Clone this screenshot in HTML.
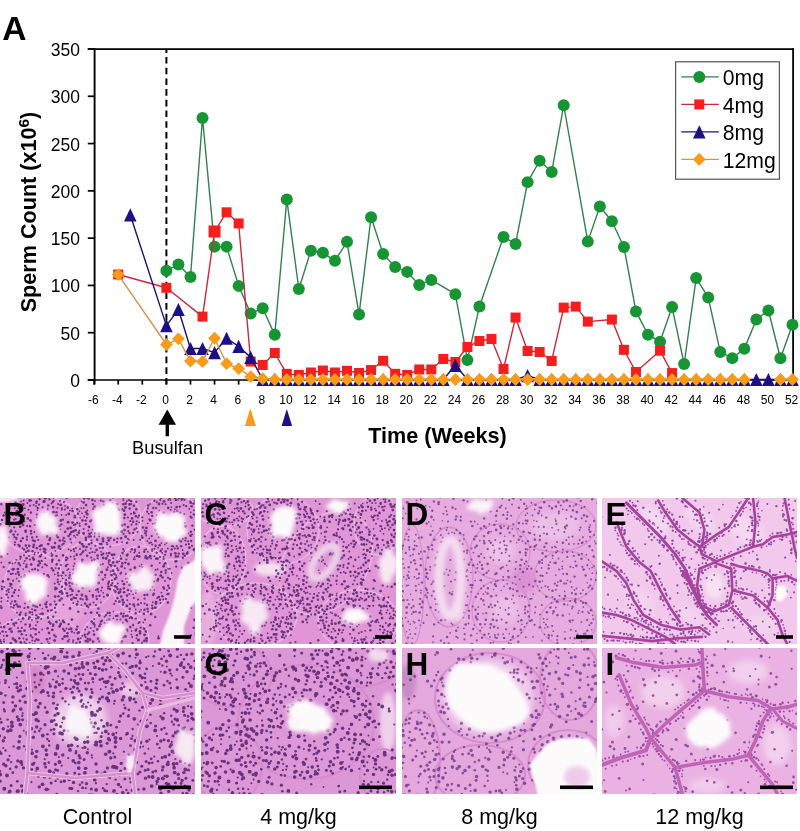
<!DOCTYPE html>
<html><head><meta charset="utf-8"><title>Figure</title>
<style>
html,body{margin:0;padding:0;background:#fff;}
body{width:800px;height:831px;overflow:hidden;position:relative;font-family:"Liberation Sans",sans-serif;}
svg{position:absolute;left:0;top:0;display:block;will-change:transform;}
text{font-family:"Liberation Sans",sans-serif;}
</style></head><body>
<svg width="800" height="831" viewBox="0 0 800 831">

<text x="2.3" y="39.8" font-size="33.5" font-weight="bold" fill="#000">A</text>
<g stroke="#000" fill="none">
<line x1="87.8" y1="49.1" x2="793.9" y2="49.1" stroke-width="1.8"/>
<line x1="793.1" y1="48.2" x2="793.1" y2="380" stroke-width="1.8"/>
<line x1="94.6" y1="48.3" x2="94.6" y2="384.6" stroke-width="1.9"/>
<line x1="87.8" y1="380" x2="793.6" y2="380" stroke-width="1.7"/>
<line x1="87.8" y1="380" x2="94.6" y2="380" stroke-width="1.7"/>
<line x1="87.8" y1="332.71" x2="94.6" y2="332.71" stroke-width="1.7"/>
<line x1="87.8" y1="285.43" x2="94.6" y2="285.43" stroke-width="1.7"/>
<line x1="87.8" y1="238.14" x2="94.6" y2="238.14" stroke-width="1.7"/>
<line x1="87.8" y1="190.86" x2="94.6" y2="190.86" stroke-width="1.7"/>
<line x1="87.8" y1="143.57" x2="94.6" y2="143.57" stroke-width="1.7"/>
<line x1="87.8" y1="96.29" x2="94.6" y2="96.29" stroke-width="1.7"/>
<line x1="87.8" y1="49" x2="94.6" y2="49" stroke-width="1.7"/>
<line x1="94.16" y1="380" x2="94.16" y2="384.6" stroke-width="1.7"/>
<line x1="118.24" y1="380" x2="118.24" y2="384.6" stroke-width="1.7"/>
<line x1="142.32" y1="380" x2="142.32" y2="384.6" stroke-width="1.7"/>
<line x1="166.4" y1="380" x2="166.4" y2="384.6" stroke-width="1.7"/>
<line x1="190.48" y1="380" x2="190.48" y2="384.6" stroke-width="1.7"/>
<line x1="214.56" y1="380" x2="214.56" y2="384.6" stroke-width="1.7"/>
<line x1="238.64" y1="380" x2="238.64" y2="384.6" stroke-width="1.7"/>
<line x1="262.72" y1="380" x2="262.72" y2="384.6" stroke-width="1.7"/>
<line x1="286.8" y1="380" x2="286.8" y2="384.6" stroke-width="1.7"/>
<line x1="310.88" y1="380" x2="310.88" y2="384.6" stroke-width="1.7"/>
<line x1="334.96" y1="380" x2="334.96" y2="384.6" stroke-width="1.7"/>
<line x1="359.04" y1="380" x2="359.04" y2="384.6" stroke-width="1.7"/>
<line x1="383.12" y1="380" x2="383.12" y2="384.6" stroke-width="1.7"/>
<line x1="407.2" y1="380" x2="407.2" y2="384.6" stroke-width="1.7"/>
<line x1="431.28" y1="380" x2="431.28" y2="384.6" stroke-width="1.7"/>
<line x1="455.36" y1="380" x2="455.36" y2="384.6" stroke-width="1.7"/>
<line x1="479.44" y1="380" x2="479.44" y2="384.6" stroke-width="1.7"/>
<line x1="503.52" y1="380" x2="503.52" y2="384.6" stroke-width="1.7"/>
<line x1="527.6" y1="380" x2="527.6" y2="384.6" stroke-width="1.7"/>
<line x1="551.68" y1="380" x2="551.68" y2="384.6" stroke-width="1.7"/>
<line x1="575.76" y1="380" x2="575.76" y2="384.6" stroke-width="1.7"/>
<line x1="599.84" y1="380" x2="599.84" y2="384.6" stroke-width="1.7"/>
<line x1="623.92" y1="380" x2="623.92" y2="384.6" stroke-width="1.7"/>
<line x1="648" y1="380" x2="648" y2="384.6" stroke-width="1.7"/>
<line x1="672.08" y1="380" x2="672.08" y2="384.6" stroke-width="1.7"/>
<line x1="696.16" y1="380" x2="696.16" y2="384.6" stroke-width="1.7"/>
<line x1="720.24" y1="380" x2="720.24" y2="384.6" stroke-width="1.7"/>
<line x1="744.32" y1="380" x2="744.32" y2="384.6" stroke-width="1.7"/>
<line x1="768.4" y1="380" x2="768.4" y2="384.6" stroke-width="1.7"/>
<line x1="792.48" y1="380" x2="792.48" y2="384.6" stroke-width="1.7"/>
</g>
<g font-size="17.5" fill="#000" text-anchor="end">
<text x="80" y="387">0</text>
<text x="80" y="339.71">50</text>
<text x="80" y="292.43">100</text>
<text x="80" y="245.14">150</text>
<text x="80" y="197.86">200</text>
<text x="80" y="150.57">250</text>
<text x="80" y="103.29">300</text>
<text x="80" y="56">350</text>
</g>
<g font-size="12" fill="#000" text-anchor="middle">
<text x="93.26" y="403.9">-6</text>
<text x="117.34" y="403.9">-4</text>
<text x="141.42" y="403.9">-2</text>
<text x="165.5" y="403.9">0</text>
<text x="189.58" y="403.9">2</text>
<text x="213.66" y="403.9">4</text>
<text x="237.74" y="403.9">6</text>
<text x="261.82" y="403.9">8</text>
<text x="285.9" y="403.9">10</text>
<text x="309.98" y="403.9">12</text>
<text x="334.06" y="403.9">14</text>
<text x="358.14" y="403.9">16</text>
<text x="382.22" y="403.9">18</text>
<text x="406.3" y="403.9">20</text>
<text x="430.38" y="403.9">22</text>
<text x="454.46" y="403.9">24</text>
<text x="478.54" y="403.9">26</text>
<text x="502.62" y="403.9">28</text>
<text x="526.7" y="403.9">30</text>
<text x="550.78" y="403.9">32</text>
<text x="574.86" y="403.9">34</text>
<text x="598.94" y="403.9">36</text>
<text x="623.02" y="403.9">38</text>
<text x="647.1" y="403.9">40</text>
<text x="671.18" y="403.9">42</text>
<text x="695.26" y="403.9">44</text>
<text x="719.34" y="403.9">46</text>
<text x="743.42" y="403.9">48</text>
<text x="767.5" y="403.9">50</text>
<text x="791.58" y="403.9">52</text>
</g>
<line x1="166.4" y1="49" x2="166.4" y2="386" stroke="#000" stroke-width="2" stroke-dasharray="6.6 4.1" stroke-dashoffset="2.7"/>
<text x="437.5" y="442.9" font-size="21.6" font-weight="bold" text-anchor="middle" fill="#000">Time (Weeks)</text>
<text transform="translate(35.7 212) rotate(-90)" font-size="21.6" font-weight="bold" text-anchor="middle" fill="#000">Sperm Count (x10<tspan font-size="15.5" dy="-6.8">6</tspan><tspan dy="6.8">)</tspan></text>
<path d="M167.3 409.4 L176 424.8 L169 424.8 L169 436.3 L165.6 436.3 L165.6 424.8 L158.6 424.8 Z" fill="#000"/>
<text x="167.6" y="454" font-size="18.3" text-anchor="middle" fill="#000">Busulfan</text>
<path d="M250.3 408.3 L255.9 425.9 L244.9 425.9 Z" fill="#f99a18"/>
<path d="M286.8 409 L292.1 425.9 L281.6 425.9 Z" fill="#1d0f86"/>
<polyline points="166.4,270.74 178.44,264.5 190.48,276.89 202.52,118.01 214.56,246.63 226.6,246.63 238.64,285.88 250.68,313.49 262.72,308.19 274.76,334.86 286.8,199.44 298.84,289 310.88,250.7 322.92,252.78 334.96,260.81 347,241.81 359.04,314.44 371.08,217.31 383.12,253.91 395.16,266.96 407.2,271.88 419.24,284.93 431.28,279.92 455.36,294.2 467.4,359.92 479.44,306.49 503.52,236.89 515.56,243.89 527.6,182.13 539.64,160.76 551.68,172.01 563.72,105.25 587.8,241.62 599.84,206.44 611.88,221.19 623.92,247.01 635.96,311.41 648,334.67 660.04,341.67 672.08,307.06 684.12,363.99 696.16,278.03 708.2,297.41 720.24,351.89 732.28,358.13 744.32,348.86 756.36,319.45 768.4,310.46 780.44,358.22 792.48,324.65" fill="none" stroke="#33804f" stroke-width="1.4" stroke-linejoin="round"/>
<circle cx="166.4" cy="270.74" r="6" fill="#179535"/>
<circle cx="178.44" cy="264.5" r="6" fill="#179535"/>
<circle cx="190.48" cy="276.89" r="6" fill="#179535"/>
<circle cx="202.52" cy="118.01" r="6" fill="#179535"/>
<circle cx="214.56" cy="246.63" r="6" fill="#179535"/>
<circle cx="226.6" cy="246.63" r="6" fill="#179535"/>
<circle cx="238.64" cy="285.88" r="6" fill="#179535"/>
<circle cx="250.68" cy="313.49" r="6" fill="#179535"/>
<circle cx="262.72" cy="308.19" r="6" fill="#179535"/>
<circle cx="274.76" cy="334.86" r="6" fill="#179535"/>
<circle cx="286.8" cy="199.44" r="6" fill="#179535"/>
<circle cx="298.84" cy="289" r="6" fill="#179535"/>
<circle cx="310.88" cy="250.7" r="6" fill="#179535"/>
<circle cx="322.92" cy="252.78" r="6" fill="#179535"/>
<circle cx="334.96" cy="260.81" r="6" fill="#179535"/>
<circle cx="347" cy="241.81" r="6" fill="#179535"/>
<circle cx="359.04" cy="314.44" r="6" fill="#179535"/>
<circle cx="371.08" cy="217.31" r="6" fill="#179535"/>
<circle cx="383.12" cy="253.91" r="6" fill="#179535"/>
<circle cx="395.16" cy="266.96" r="6" fill="#179535"/>
<circle cx="407.2" cy="271.88" r="6" fill="#179535"/>
<circle cx="419.24" cy="284.93" r="6" fill="#179535"/>
<circle cx="431.28" cy="279.92" r="6" fill="#179535"/>
<circle cx="455.36" cy="294.2" r="6" fill="#179535"/>
<circle cx="467.4" cy="359.92" r="6" fill="#179535"/>
<circle cx="479.44" cy="306.49" r="6" fill="#179535"/>
<circle cx="503.52" cy="236.89" r="6" fill="#179535"/>
<circle cx="515.56" cy="243.89" r="6" fill="#179535"/>
<circle cx="527.6" cy="182.13" r="6" fill="#179535"/>
<circle cx="539.64" cy="160.76" r="6" fill="#179535"/>
<circle cx="551.68" cy="172.01" r="6" fill="#179535"/>
<circle cx="563.72" cy="105.25" r="6" fill="#179535"/>
<circle cx="587.8" cy="241.62" r="6" fill="#179535"/>
<circle cx="599.84" cy="206.44" r="6" fill="#179535"/>
<circle cx="611.88" cy="221.19" r="6" fill="#179535"/>
<circle cx="623.92" cy="247.01" r="6" fill="#179535"/>
<circle cx="635.96" cy="311.41" r="6" fill="#179535"/>
<circle cx="648" cy="334.67" r="6" fill="#179535"/>
<circle cx="660.04" cy="341.67" r="6" fill="#179535"/>
<circle cx="672.08" cy="307.06" r="6" fill="#179535"/>
<circle cx="684.12" cy="363.99" r="6" fill="#179535"/>
<circle cx="696.16" cy="278.03" r="6" fill="#179535"/>
<circle cx="708.2" cy="297.41" r="6" fill="#179535"/>
<circle cx="720.24" cy="351.89" r="6" fill="#179535"/>
<circle cx="732.28" cy="358.13" r="6" fill="#179535"/>
<circle cx="744.32" cy="348.86" r="6" fill="#179535"/>
<circle cx="756.36" cy="319.45" r="6" fill="#179535"/>
<circle cx="768.4" cy="310.46" r="6" fill="#179535"/>
<circle cx="780.44" cy="358.22" r="6" fill="#179535"/>
<circle cx="792.48" cy="324.65" r="6" fill="#179535"/>
<polyline points="118.24,274.53 166.4,287.77 202.52,316.61 214.56,231.5 226.6,212.3 238.64,223.46 250.68,361.53 262.72,364.94 274.76,353.02 286.8,373.83 298.84,374.96 310.88,372.5 322.92,370.52 334.96,372.5 347,370.8 359.04,372.97 371.08,370.04 383.12,360.78 395.16,373.83 407.2,374.96 419.24,369.48 431.28,369.48 443.32,358.98 455.36,362 467.4,346.97 479.44,341.01 491.48,339.02 503.52,369 515.56,317.56 527.6,351.03 539.64,351.98 551.68,360.96 563.72,307.63 575.76,306.59 587.8,321.62 611.88,319.54 623.92,349.81 635.96,372.03 660.04,350.66 672.08,373.07" fill="none" stroke="#cc283e" stroke-width="1.4" stroke-linejoin="round"/>
<rect x="113.24" y="269.53" width="10" height="10" fill="#f41e1e"/>
<rect x="161.4" y="282.77" width="10" height="10" fill="#f41e1e"/>
<rect x="197.52" y="311.61" width="10" height="10" fill="#f41e1e"/>
<rect x="208.56" y="225.5" width="12" height="12" fill="#f41e1e"/>
<rect x="221.6" y="207.3" width="10" height="10" fill="#f41e1e"/>
<rect x="233.64" y="218.46" width="10" height="10" fill="#f41e1e"/>
<rect x="245.68" y="356.53" width="10" height="10" fill="#f41e1e"/>
<rect x="257.72" y="359.94" width="10" height="10" fill="#f41e1e"/>
<rect x="269.76" y="348.02" width="10" height="10" fill="#f41e1e"/>
<rect x="281.8" y="368.83" width="10" height="10" fill="#f41e1e"/>
<rect x="293.84" y="369.96" width="10" height="10" fill="#f41e1e"/>
<rect x="305.88" y="367.5" width="10" height="10" fill="#f41e1e"/>
<rect x="317.92" y="365.52" width="10" height="10" fill="#f41e1e"/>
<rect x="329.96" y="367.5" width="10" height="10" fill="#f41e1e"/>
<rect x="342" y="365.8" width="10" height="10" fill="#f41e1e"/>
<rect x="354.04" y="367.97" width="10" height="10" fill="#f41e1e"/>
<rect x="366.08" y="365.04" width="10" height="10" fill="#f41e1e"/>
<rect x="378.12" y="355.78" width="10" height="10" fill="#f41e1e"/>
<rect x="390.16" y="368.83" width="10" height="10" fill="#f41e1e"/>
<rect x="402.2" y="369.96" width="10" height="10" fill="#f41e1e"/>
<rect x="414.24" y="364.48" width="10" height="10" fill="#f41e1e"/>
<rect x="426.28" y="364.48" width="10" height="10" fill="#f41e1e"/>
<rect x="438.32" y="353.98" width="10" height="10" fill="#f41e1e"/>
<rect x="450.36" y="357" width="10" height="10" fill="#f41e1e"/>
<rect x="462.4" y="341.97" width="10" height="10" fill="#f41e1e"/>
<rect x="474.44" y="336.01" width="10" height="10" fill="#f41e1e"/>
<rect x="486.48" y="334.02" width="10" height="10" fill="#f41e1e"/>
<rect x="498.52" y="364" width="10" height="10" fill="#f41e1e"/>
<rect x="510.56" y="312.56" width="10" height="10" fill="#f41e1e"/>
<rect x="522.6" y="346.03" width="10" height="10" fill="#f41e1e"/>
<rect x="534.64" y="346.98" width="10" height="10" fill="#f41e1e"/>
<rect x="546.68" y="355.96" width="10" height="10" fill="#f41e1e"/>
<rect x="558.72" y="302.63" width="10" height="10" fill="#f41e1e"/>
<rect x="570.76" y="301.59" width="10" height="10" fill="#f41e1e"/>
<rect x="582.8" y="316.62" width="10" height="10" fill="#f41e1e"/>
<rect x="606.88" y="314.54" width="10" height="10" fill="#f41e1e"/>
<rect x="618.92" y="344.81" width="10" height="10" fill="#f41e1e"/>
<rect x="630.96" y="367.03" width="10" height="10" fill="#f41e1e"/>
<rect x="655.04" y="345.66" width="10" height="10" fill="#f41e1e"/>
<rect x="667.08" y="368.07" width="10" height="10" fill="#f41e1e"/>
<polyline points="130.28,214.95 166.4,325.6 178.44,309.52 190.48,348.48 202.52,348.48 214.56,352.55 226.6,338.27 238.64,346.4 250.68,357.37 262.72,379.5 274.76,379.5 286.8,379.5 298.84,379.5 310.88,379.5 322.92,379.5 334.96,379.5 347,379.5 359.04,379.5 371.08,379.5 383.12,379.5 395.16,379.5 407.2,379.5 419.24,379.5 431.28,379.5 443.32,379.5 455.36,365.31 467.4,379.5 479.44,379.5 491.48,379.5 503.52,379.5 515.56,379.5 527.6,375.72 539.64,379.5 551.68,379.5 563.72,379.5 575.76,379.5 587.8,379.5 599.84,379.5 611.88,379.5 623.92,379.5 635.96,379.5 648,379.5 660.04,379.5 672.08,379.5 684.12,379.5 696.16,379.5 708.2,379.5 720.24,379.5 732.28,379.5 744.32,379.5 756.36,379.5 768.4,379.5 780.44,379.5 792.48,379.5" fill="none" stroke="#1d1076" stroke-width="1.4" stroke-linejoin="round"/>
<path d="M130.28 208.35L136.58 221.55L123.98 221.55Z" fill="#1d0f86"/>
<path d="M166.4 319L172.7 332.2L160.1 332.2Z" fill="#1d0f86"/>
<path d="M178.44 302.92L184.74 316.12L172.14 316.12Z" fill="#1d0f86"/>
<path d="M190.48 341.88L196.78 355.08L184.18 355.08Z" fill="#1d0f86"/>
<path d="M202.52 341.88L208.82 355.08L196.22 355.08Z" fill="#1d0f86"/>
<path d="M214.56 345.95L220.86 359.15L208.26 359.15Z" fill="#1d0f86"/>
<path d="M226.6 331.67L232.9 344.87L220.3 344.87Z" fill="#1d0f86"/>
<path d="M238.64 339.8L244.94 353L232.34 353Z" fill="#1d0f86"/>
<path d="M250.68 350.77L256.98 363.97L244.38 363.97Z" fill="#1d0f86"/>
<path d="M262.72 372.9L269.02 386.1L256.42 386.1Z" fill="#1d0f86"/>
<path d="M274.76 372.9L281.06 386.1L268.46 386.1Z" fill="#1d0f86"/>
<path d="M286.8 372.9L293.1 386.1L280.5 386.1Z" fill="#1d0f86"/>
<path d="M298.84 372.9L305.14 386.1L292.54 386.1Z" fill="#1d0f86"/>
<path d="M310.88 372.9L317.18 386.1L304.58 386.1Z" fill="#1d0f86"/>
<path d="M322.92 372.9L329.22 386.1L316.62 386.1Z" fill="#1d0f86"/>
<path d="M334.96 372.9L341.26 386.1L328.66 386.1Z" fill="#1d0f86"/>
<path d="M347 372.9L353.3 386.1L340.7 386.1Z" fill="#1d0f86"/>
<path d="M359.04 372.9L365.34 386.1L352.74 386.1Z" fill="#1d0f86"/>
<path d="M371.08 372.9L377.38 386.1L364.78 386.1Z" fill="#1d0f86"/>
<path d="M383.12 372.9L389.42 386.1L376.82 386.1Z" fill="#1d0f86"/>
<path d="M395.16 372.9L401.46 386.1L388.86 386.1Z" fill="#1d0f86"/>
<path d="M407.2 372.9L413.5 386.1L400.9 386.1Z" fill="#1d0f86"/>
<path d="M419.24 372.9L425.54 386.1L412.94 386.1Z" fill="#1d0f86"/>
<path d="M431.28 372.9L437.58 386.1L424.98 386.1Z" fill="#1d0f86"/>
<path d="M443.32 372.9L449.62 386.1L437.02 386.1Z" fill="#1d0f86"/>
<path d="M455.36 358.71L461.66 371.91L449.06 371.91Z" fill="#1d0f86"/>
<path d="M467.4 372.9L473.7 386.1L461.1 386.1Z" fill="#1d0f86"/>
<path d="M479.44 372.9L485.74 386.1L473.14 386.1Z" fill="#1d0f86"/>
<path d="M491.48 372.9L497.78 386.1L485.18 386.1Z" fill="#1d0f86"/>
<path d="M503.52 372.9L509.82 386.1L497.22 386.1Z" fill="#1d0f86"/>
<path d="M515.56 372.9L521.86 386.1L509.26 386.1Z" fill="#1d0f86"/>
<path d="M527.6 369.12L533.9 382.32L521.3 382.32Z" fill="#1d0f86"/>
<path d="M539.64 372.9L545.94 386.1L533.34 386.1Z" fill="#1d0f86"/>
<path d="M551.68 372.9L557.98 386.1L545.38 386.1Z" fill="#1d0f86"/>
<path d="M563.72 372.9L570.02 386.1L557.42 386.1Z" fill="#1d0f86"/>
<path d="M575.76 372.9L582.06 386.1L569.46 386.1Z" fill="#1d0f86"/>
<path d="M587.8 372.9L594.1 386.1L581.5 386.1Z" fill="#1d0f86"/>
<path d="M599.84 372.9L606.14 386.1L593.54 386.1Z" fill="#1d0f86"/>
<path d="M611.88 372.9L618.18 386.1L605.58 386.1Z" fill="#1d0f86"/>
<path d="M623.92 372.9L630.22 386.1L617.62 386.1Z" fill="#1d0f86"/>
<path d="M635.96 372.9L642.26 386.1L629.66 386.1Z" fill="#1d0f86"/>
<path d="M648 372.9L654.3 386.1L641.7 386.1Z" fill="#1d0f86"/>
<path d="M660.04 372.9L666.34 386.1L653.74 386.1Z" fill="#1d0f86"/>
<path d="M672.08 372.9L678.38 386.1L665.78 386.1Z" fill="#1d0f86"/>
<path d="M684.12 372.9L690.42 386.1L677.82 386.1Z" fill="#1d0f86"/>
<path d="M696.16 372.9L702.46 386.1L689.86 386.1Z" fill="#1d0f86"/>
<path d="M708.2 372.9L714.5 386.1L701.9 386.1Z" fill="#1d0f86"/>
<path d="M720.24 372.9L726.54 386.1L713.94 386.1Z" fill="#1d0f86"/>
<path d="M732.28 372.9L738.58 386.1L725.98 386.1Z" fill="#1d0f86"/>
<path d="M744.32 372.9L750.62 386.1L738.02 386.1Z" fill="#1d0f86"/>
<path d="M756.36 372.9L762.66 386.1L750.06 386.1Z" fill="#1d0f86"/>
<path d="M768.4 372.9L774.7 386.1L762.1 386.1Z" fill="#1d0f86"/>
<path d="M780.44 372.9L786.74 386.1L774.14 386.1Z" fill="#1d0f86"/>
<path d="M792.48 372.9L798.78 386.1L786.18 386.1Z" fill="#1d0f86"/>
<polyline points="118.24,274.53 166.4,344.51 178.44,338.83 190.48,361.06 202.52,361.53 214.56,338.27 226.6,363.71 238.64,368.53 250.68,376.66 262.72,378.74 274.76,379.5 286.8,379.5 298.84,379.5 310.88,379.5 322.92,379.5 334.96,379.5 347,379.5 359.04,379.5 371.08,379.5 383.12,379.5 395.16,379.5 407.2,379.5 419.24,379.5 431.28,379.5 443.32,379.5 455.36,379.5 467.4,379.5 479.44,379.5 491.48,379.5 503.52,379.5 515.56,379.5 527.6,379.5 539.64,379.5 551.68,379.5 563.72,379.5 575.76,379.5 587.8,379.5 599.84,379.5 611.88,379.5 623.92,379.5 635.96,379.5 648,379.5 660.04,379.5 672.08,379.5 684.12,379.5 696.16,379.5 708.2,379.5 720.24,379.5 732.28,379.5 744.32,379.5" fill="none" stroke="#d6944a" stroke-width="1.4" stroke-linejoin="round"/>
<polyline points="780.44,379.5 792.48,379.5" fill="none" stroke="#d6944a" stroke-width="1.4" stroke-linejoin="round"/>
<path d="M118.24 268.13L124.64 274.53L118.24 280.93L111.84 274.53Z" fill="#f99a18"/>
<path d="M166.4 338.11L172.8 344.51L166.4 350.91L160 344.51Z" fill="#f99a18"/>
<path d="M178.44 332.43L184.84 338.83L178.44 345.23L172.04 338.83Z" fill="#f99a18"/>
<path d="M190.48 354.66L196.88 361.06L190.48 367.46L184.08 361.06Z" fill="#f99a18"/>
<path d="M202.52 355.13L208.92 361.53L202.52 367.93L196.12 361.53Z" fill="#f99a18"/>
<path d="M214.56 331.87L220.96 338.27L214.56 344.67L208.16 338.27Z" fill="#f99a18"/>
<path d="M226.6 357.31L233 363.71L226.6 370.11L220.2 363.71Z" fill="#f99a18"/>
<path d="M238.64 362.13L245.04 368.53L238.64 374.93L232.24 368.53Z" fill="#f99a18"/>
<path d="M250.68 370.26L257.08 376.66L250.68 383.06L244.28 376.66Z" fill="#f99a18"/>
<path d="M262.72 372.34L269.12 378.74L262.72 385.14L256.32 378.74Z" fill="#f99a18"/>
<path d="M274.76 373.1L281.16 379.5L274.76 385.9L268.36 379.5Z" fill="#f99a18"/>
<path d="M286.8 373.1L293.2 379.5L286.8 385.9L280.4 379.5Z" fill="#f99a18"/>
<path d="M298.84 373.1L305.24 379.5L298.84 385.9L292.44 379.5Z" fill="#f99a18"/>
<path d="M310.88 373.1L317.28 379.5L310.88 385.9L304.48 379.5Z" fill="#f99a18"/>
<path d="M322.92 373.1L329.32 379.5L322.92 385.9L316.52 379.5Z" fill="#f99a18"/>
<path d="M334.96 373.1L341.36 379.5L334.96 385.9L328.56 379.5Z" fill="#f99a18"/>
<path d="M347 373.1L353.4 379.5L347 385.9L340.6 379.5Z" fill="#f99a18"/>
<path d="M359.04 373.1L365.44 379.5L359.04 385.9L352.64 379.5Z" fill="#f99a18"/>
<path d="M371.08 373.1L377.48 379.5L371.08 385.9L364.68 379.5Z" fill="#f99a18"/>
<path d="M383.12 373.1L389.52 379.5L383.12 385.9L376.72 379.5Z" fill="#f99a18"/>
<path d="M395.16 373.1L401.56 379.5L395.16 385.9L388.76 379.5Z" fill="#f99a18"/>
<path d="M407.2 373.1L413.6 379.5L407.2 385.9L400.8 379.5Z" fill="#f99a18"/>
<path d="M419.24 373.1L425.64 379.5L419.24 385.9L412.84 379.5Z" fill="#f99a18"/>
<path d="M431.28 373.1L437.68 379.5L431.28 385.9L424.88 379.5Z" fill="#f99a18"/>
<path d="M443.32 373.1L449.72 379.5L443.32 385.9L436.92 379.5Z" fill="#f99a18"/>
<path d="M455.36 373.1L461.76 379.5L455.36 385.9L448.96 379.5Z" fill="#f99a18"/>
<path d="M467.4 373.1L473.8 379.5L467.4 385.9L461 379.5Z" fill="#f99a18"/>
<path d="M479.44 373.1L485.84 379.5L479.44 385.9L473.04 379.5Z" fill="#f99a18"/>
<path d="M491.48 373.1L497.88 379.5L491.48 385.9L485.08 379.5Z" fill="#f99a18"/>
<path d="M503.52 373.1L509.92 379.5L503.52 385.9L497.12 379.5Z" fill="#f99a18"/>
<path d="M515.56 373.1L521.96 379.5L515.56 385.9L509.16 379.5Z" fill="#f99a18"/>
<path d="M527.6 373.1L534 379.5L527.6 385.9L521.2 379.5Z" fill="#f99a18"/>
<path d="M539.64 373.1L546.04 379.5L539.64 385.9L533.24 379.5Z" fill="#f99a18"/>
<path d="M551.68 373.1L558.08 379.5L551.68 385.9L545.28 379.5Z" fill="#f99a18"/>
<path d="M563.72 373.1L570.12 379.5L563.72 385.9L557.32 379.5Z" fill="#f99a18"/>
<path d="M575.76 373.1L582.16 379.5L575.76 385.9L569.36 379.5Z" fill="#f99a18"/>
<path d="M587.8 373.1L594.2 379.5L587.8 385.9L581.4 379.5Z" fill="#f99a18"/>
<path d="M599.84 373.1L606.24 379.5L599.84 385.9L593.44 379.5Z" fill="#f99a18"/>
<path d="M611.88 373.1L618.28 379.5L611.88 385.9L605.48 379.5Z" fill="#f99a18"/>
<path d="M623.92 373.1L630.32 379.5L623.92 385.9L617.52 379.5Z" fill="#f99a18"/>
<path d="M635.96 373.1L642.36 379.5L635.96 385.9L629.56 379.5Z" fill="#f99a18"/>
<path d="M648 373.1L654.4 379.5L648 385.9L641.6 379.5Z" fill="#f99a18"/>
<path d="M660.04 373.1L666.44 379.5L660.04 385.9L653.64 379.5Z" fill="#f99a18"/>
<path d="M672.08 373.1L678.48 379.5L672.08 385.9L665.68 379.5Z" fill="#f99a18"/>
<path d="M684.12 373.1L690.52 379.5L684.12 385.9L677.72 379.5Z" fill="#f99a18"/>
<path d="M696.16 373.1L702.56 379.5L696.16 385.9L689.76 379.5Z" fill="#f99a18"/>
<path d="M708.2 373.1L714.6 379.5L708.2 385.9L701.8 379.5Z" fill="#f99a18"/>
<path d="M720.24 373.1L726.64 379.5L720.24 385.9L713.84 379.5Z" fill="#f99a18"/>
<path d="M732.28 373.1L738.68 379.5L732.28 385.9L725.88 379.5Z" fill="#f99a18"/>
<path d="M744.32 373.1L750.72 379.5L744.32 385.9L737.92 379.5Z" fill="#f99a18"/>
<path d="M780.44 373.1L786.84 379.5L780.44 385.9L774.04 379.5Z" fill="#f99a18"/>
<path d="M792.48 373.1L798.88 379.5L792.48 385.9L786.08 379.5Z" fill="#f99a18"/>
<rect x="675.6" y="61.8" width="103.8" height="117.4" fill="#fff" stroke="#555" stroke-width="1.2"/>
<line x1="681.3" y1="76.9" x2="718.8" y2="76.9" stroke="#33804f" stroke-width="1.3"/>
<circle cx="699.3" cy="76.9" r="6" fill="#179535"/>
<text x="722.8" y="85.2" font-size="21.2" fill="#000">0mg</text>
<line x1="681.3" y1="104.4" x2="718.8" y2="104.4" stroke="#cc283e" stroke-width="1.3"/>
<rect x="694.3" y="99.4" width="10" height="10" fill="#f41e1e"/>
<text x="722.8" y="112.7" font-size="21.2" fill="#000">4mg</text>
<line x1="681.3" y1="131.9" x2="718.8" y2="131.9" stroke="#1d1076" stroke-width="1.3"/>
<path d="M699.3 125.3L705.6 138.5L693 138.5Z" fill="#1d0f86"/>
<text x="722.8" y="140.2" font-size="21.2" fill="#000">8mg</text>
<line x1="681.3" y1="159.4" x2="718.8" y2="159.4" stroke="#d6944a" stroke-width="1.3"/>
<path d="M699.3 153L705.7 159.4L699.3 165.8L692.9 159.4Z" fill="#f99a18"/>
<text x="722.8" y="167.7" font-size="21.2" fill="#000">12mg</text>
<defs>
<filter id="b1" x="-50%" y="-50%" width="200%" height="200%"><feGaussianBlur stdDeviation="1"/></filter>
<filter id="b2" x="-50%" y="-50%" width="200%" height="200%"><feGaussianBlur stdDeviation="2"/></filter>
<filter id="b3" x="-50%" y="-50%" width="200%" height="200%"><feGaussianBlur stdDeviation="3"/></filter>
<clipPath id="cp0"><rect x="0" y="498" width="195" height="146"/></clipPath>
<clipPath id="cp1"><rect x="201" y="498" width="195" height="146"/></clipPath>
<clipPath id="cp2"><rect x="402" y="498" width="195" height="146"/></clipPath>
<clipPath id="cp3"><rect x="602" y="498" width="195" height="146"/></clipPath>
<clipPath id="cp4"><rect x="0" y="648" width="195" height="146"/></clipPath>
<clipPath id="cp5"><rect x="201" y="648" width="195" height="146"/></clipPath>
<clipPath id="cp6"><rect x="402" y="648" width="195" height="146"/></clipPath>
<clipPath id="cp7"><rect x="602" y="648" width="195" height="146"/></clipPath>
</defs>
<g clip-path="url(#cp0)">
<rect x="0" y="498" width="195" height="146" fill="#e096d6"/>
<ellipse cx="66" cy="612" rx="16" ry="12" fill="#e8a8dc" opacity="0.8" filter="url(#b2)"/>
<ellipse cx="40" cy="525" rx="40" ry="29" fill="none" stroke="#e8b8e2" stroke-width="1.3"/>
<ellipse cx="108" cy="518" rx="33" ry="28" fill="none" stroke="#e8b8e2" stroke-width="1.3"/>
<ellipse cx="172" cy="527" rx="32" ry="33" fill="none" stroke="#e8b8e2" stroke-width="1.3"/>
<ellipse cx="34" cy="586" rx="30" ry="33" fill="none" stroke="#e8b8e2" stroke-width="1.3"/>
<ellipse cx="88" cy="575" rx="28" ry="33" fill="none" stroke="#e8b8e2" stroke-width="1.3"/>
<ellipse cx="141" cy="580" rx="30" ry="34" fill="none" stroke="#e8b8e2" stroke-width="1.3"/>
<ellipse cx="115" cy="640" rx="34" ry="28" fill="none" stroke="#e8b8e2" stroke-width="1.3"/>
<ellipse cx="38" cy="640" rx="44" ry="24" fill="none" stroke="#e8b8e2" stroke-width="1.3"/>
<g fill="#55206f" opacity="0.85"><circle cx="11.6" cy="495.4" r="1.3"/><circle cx="36.8" cy="496.2" r="1.1"/><circle cx="44.9" cy="498.0" r="1.3"/><circle cx="48.9" cy="497.1" r="1.4"/><circle cx="53.8" cy="497.8" r="0.9"/><circle cx="63.5" cy="495.7" r="1.2"/><circle cx="66.5" cy="495.3" r="1.0"/><circle cx="71.0" cy="497.1" r="1.0"/><circle cx="79.3" cy="497.0" r="1.2"/><circle cx="87.1" cy="497.9" r="1.0"/><circle cx="93.1" cy="495.0" r="1.4"/><circle cx="96.0" cy="494.6" r="1.0"/><circle cx="98.3" cy="497.1" r="1.0"/><circle cx="101.3" cy="494.6" r="1.0"/><circle cx="107.0" cy="495.6" r="1.4"/><circle cx="110.3" cy="496.4" r="1.0"/><circle cx="112.8" cy="497.7" r="1.0"/><circle cx="116.7" cy="497.0" r="1.0"/><circle cx="123.3" cy="497.6" r="1.1"/><circle cx="123.9" cy="494.4" r="1.0"/><circle cx="133.2" cy="495.4" r="1.3"/><circle cx="145.6" cy="495.0" r="1.0"/><circle cx="147.6" cy="494.5" r="1.1"/><circle cx="159.8" cy="496.4" r="0.9"/><circle cx="161.0" cy="497.7" r="1.4"/><circle cx="164.7" cy="496.6" r="1.3"/><circle cx="169.6" cy="498.0" r="1.2"/><circle cx="174.9" cy="497.6" r="1.3"/><circle cx="178.9" cy="497.7" r="1.3"/><circle cx="183.0" cy="497.5" r="1.3"/><circle cx="21.0" cy="501.4" r="0.9"/><circle cx="23.6" cy="500.5" r="1.0"/><circle cx="29.6" cy="500.5" r="1.4"/><circle cx="31.2" cy="500.5" r="1.1"/><circle cx="36.7" cy="501.4" r="1.1"/><circle cx="39.6" cy="499.2" r="1.1"/><circle cx="44.3" cy="501.2" r="1.4"/><circle cx="45.9" cy="498.6" r="1.0"/><circle cx="49.5" cy="499.5" r="1.1"/><circle cx="53.6" cy="501.1" r="1.1"/><circle cx="60.0" cy="500.7" r="1.0"/><circle cx="66.6" cy="498.1" r="1.1"/><circle cx="81.6" cy="501.6" r="1.0"/><circle cx="84.1" cy="498.7" r="1.1"/><circle cx="88.7" cy="498.7" r="1.1"/><circle cx="92.4" cy="499.9" r="1.3"/><circle cx="95.0" cy="501.0" r="0.9"/><circle cx="100.8" cy="500.7" r="1.1"/><circle cx="103.4" cy="501.4" r="1.2"/><circle cx="110.3" cy="500.4" r="1.3"/><circle cx="123.4" cy="500.0" r="1.0"/><circle cx="126.9" cy="501.2" r="0.9"/><circle cx="128.9" cy="500.1" r="1.1"/><circle cx="131.1" cy="501.0" r="1.3"/><circle cx="154.5" cy="500.7" r="1.2"/><circle cx="160.3" cy="500.1" r="1.1"/><circle cx="164.1" cy="501.4" r="1.4"/><circle cx="168.3" cy="500.0" r="1.0"/><circle cx="170.4" cy="499.9" r="0.9"/><circle cx="175.8" cy="499.9" r="1.3"/><circle cx="178.0" cy="499.8" r="0.9"/><circle cx="181.7" cy="499.5" r="1.4"/><circle cx="184.4" cy="499.8" r="1.1"/><circle cx="190.2" cy="501.4" r="1.0"/><circle cx="195.1" cy="500.9" r="1.0"/><circle cx="1.3" cy="504.1" r="1.3"/><circle cx="15.6" cy="502.5" r="1.2"/><circle cx="20.7" cy="504.9" r="1.4"/><circle cx="23.3" cy="504.5" r="1.4"/><circle cx="27.4" cy="502.9" r="1.0"/><circle cx="33.7" cy="505.1" r="1.0"/><circle cx="36.4" cy="502.7" r="1.3"/><circle cx="39.0" cy="504.7" r="1.1"/><circle cx="43.7" cy="501.8" r="1.3"/><circle cx="48.3" cy="505.4" r="1.2"/><circle cx="51.5" cy="503.6" r="1.0"/><circle cx="52.7" cy="502.1" r="1.2"/><circle cx="58.1" cy="503.9" r="1.0"/><circle cx="60.6" cy="504.9" r="1.4"/><circle cx="64.0" cy="502.0" r="1.1"/><circle cx="83.8" cy="502.5" r="1.2"/><circle cx="86.1" cy="505.1" r="1.3"/><circle cx="93.0" cy="504.1" r="1.2"/><circle cx="104.0" cy="504.8" r="1.4"/><circle cx="112.5" cy="503.0" r="0.9"/><circle cx="117.3" cy="504.1" r="1.0"/><circle cx="123.3" cy="504.2" r="1.2"/><circle cx="125.6" cy="503.7" r="1.4"/><circle cx="129.6" cy="504.4" r="1.4"/><circle cx="131.1" cy="504.0" r="1.0"/><circle cx="136.2" cy="501.9" r="1.1"/><circle cx="148.1" cy="505.5" r="1.3"/><circle cx="150.0" cy="504.0" r="0.9"/><circle cx="156.9" cy="502.3" r="1.0"/><circle cx="159.0" cy="504.0" r="1.4"/><circle cx="162.5" cy="503.7" r="1.1"/><circle cx="165.7" cy="504.2" r="1.0"/><circle cx="171.1" cy="502.9" r="1.0"/><circle cx="183.7" cy="505.1" r="1.1"/><circle cx="190.8" cy="502.7" r="1.4"/><circle cx="193.6" cy="503.5" r="1.3"/><circle cx="-2.0" cy="506.2" r="1.2"/><circle cx="9.1" cy="508.4" r="1.4"/><circle cx="14.8" cy="508.2" r="0.9"/><circle cx="18.3" cy="508.4" r="1.1"/><circle cx="19.7" cy="508.0" r="1.2"/><circle cx="24.8" cy="508.3" r="1.0"/><circle cx="30.1" cy="505.7" r="1.1"/><circle cx="36.0" cy="505.9" r="0.9"/><circle cx="37.7" cy="508.0" r="1.2"/><circle cx="42.6" cy="507.3" r="1.1"/><circle cx="47.7" cy="508.6" r="0.9"/><circle cx="53.2" cy="507.1" r="1.3"/><circle cx="57.5" cy="507.9" r="1.0"/><circle cx="61.9" cy="508.3" r="1.1"/><circle cx="65.0" cy="505.8" r="0.9"/><circle cx="67.7" cy="507.6" r="1.3"/><circle cx="72.2" cy="508.4" r="1.0"/><circle cx="81.3" cy="508.1" r="0.9"/><circle cx="83.7" cy="508.2" r="0.9"/><circle cx="93.3" cy="508.9" r="1.3"/><circle cx="94.7" cy="506.7" r="1.4"/><circle cx="118.0" cy="508.6" r="1.0"/><circle cx="122.6" cy="508.8" r="0.9"/><circle cx="125.4" cy="507.5" r="1.4"/><circle cx="129.7" cy="508.5" r="1.2"/><circle cx="133.9" cy="505.8" r="1.3"/><circle cx="147.9" cy="508.3" r="1.1"/><circle cx="153.3" cy="508.0" r="1.2"/><circle cx="156.1" cy="508.1" r="1.1"/><circle cx="168.3" cy="507.9" r="1.3"/><circle cx="171.4" cy="507.1" r="0.9"/><circle cx="174.9" cy="509.2" r="1.0"/><circle cx="176.7" cy="507.1" r="1.4"/><circle cx="179.9" cy="506.6" r="1.2"/><circle cx="186.3" cy="506.2" r="1.1"/><circle cx="189.3" cy="508.9" r="0.9"/><circle cx="191.6" cy="506.3" r="1.3"/><circle cx="196.8" cy="506.3" r="1.0"/><circle cx="4.7" cy="512.5" r="1.1"/><circle cx="9.5" cy="512.8" r="1.0"/><circle cx="11.4" cy="512.8" r="1.1"/><circle cx="16.9" cy="511.2" r="1.4"/><circle cx="21.2" cy="510.1" r="1.1"/><circle cx="28.5" cy="509.8" r="1.0"/><circle cx="30.9" cy="512.5" r="1.2"/><circle cx="37.4" cy="510.2" r="0.9"/><circle cx="44.3" cy="512.3" r="1.0"/><circle cx="47.6" cy="509.6" r="1.1"/><circle cx="53.5" cy="512.2" r="1.4"/><circle cx="56.5" cy="512.3" r="1.2"/><circle cx="61.8" cy="509.8" r="1.0"/><circle cx="64.8" cy="509.5" r="1.1"/><circle cx="70.0" cy="510.6" r="0.9"/><circle cx="72.6" cy="511.0" r="1.3"/><circle cx="77.3" cy="509.3" r="1.3"/><circle cx="79.5" cy="511.3" r="0.9"/><circle cx="86.0" cy="512.2" r="1.2"/><circle cx="87.2" cy="510.6" r="1.0"/><circle cx="118.7" cy="509.9" r="1.4"/><circle cx="122.0" cy="509.6" r="0.9"/><circle cx="124.0" cy="510.7" r="1.4"/><circle cx="133.9" cy="512.3" r="1.0"/><circle cx="136.3" cy="509.3" r="1.3"/><circle cx="147.2" cy="511.7" r="1.1"/><circle cx="151.6" cy="512.2" r="1.2"/><circle cx="159.2" cy="510.5" r="0.9"/><circle cx="163.6" cy="512.9" r="1.3"/><circle cx="170.8" cy="510.0" r="1.0"/><circle cx="174.3" cy="511.8" r="1.4"/><circle cx="177.2" cy="511.0" r="1.4"/><circle cx="180.1" cy="512.6" r="1.2"/><circle cx="190.8" cy="512.3" r="0.9"/><circle cx="193.9" cy="510.3" r="1.0"/><circle cx="196.8" cy="512.3" r="1.2"/><circle cx="-3.5" cy="513.1" r="1.4"/><circle cx="3.5" cy="515.4" r="1.3"/><circle cx="6.5" cy="514.4" r="1.3"/><circle cx="7.5" cy="513.7" r="0.9"/><circle cx="12.7" cy="515.1" r="1.2"/><circle cx="16.0" cy="515.1" r="1.2"/><circle cx="18.9" cy="515.5" r="1.4"/><circle cx="24.7" cy="514.7" r="1.2"/><circle cx="36.9" cy="514.5" r="1.2"/><circle cx="55.8" cy="515.7" r="1.3"/><circle cx="57.3" cy="515.2" r="0.9"/><circle cx="61.6" cy="514.9" r="0.9"/><circle cx="66.2" cy="514.9" r="1.0"/><circle cx="68.8" cy="513.9" r="1.4"/><circle cx="74.7" cy="515.5" r="1.1"/><circle cx="77.9" cy="513.8" r="1.2"/><circle cx="82.0" cy="513.3" r="0.9"/><circle cx="84.3" cy="516.5" r="1.0"/><circle cx="87.2" cy="514.2" r="1.4"/><circle cx="124.8" cy="514.7" r="1.4"/><circle cx="131.0" cy="513.7" r="1.0"/><circle cx="134.3" cy="513.2" r="1.3"/><circle cx="135.9" cy="516.3" r="1.3"/><circle cx="139.0" cy="515.6" r="1.1"/><circle cx="148.6" cy="513.7" r="1.0"/><circle cx="152.2" cy="515.9" r="1.2"/><circle cx="156.7" cy="515.2" r="1.0"/><circle cx="160.6" cy="515.5" r="1.2"/><circle cx="184.3" cy="514.0" r="1.0"/><circle cx="190.5" cy="516.7" r="1.1"/><circle cx="193.7" cy="514.4" r="1.1"/><circle cx="195.3" cy="515.1" r="1.1"/><circle cx="1.9" cy="519.9" r="1.2"/><circle cx="7.3" cy="517.4" r="0.9"/><circle cx="9.8" cy="517.6" r="1.3"/><circle cx="14.2" cy="519.7" r="1.1"/><circle cx="15.8" cy="518.9" r="0.9"/><circle cx="20.9" cy="519.4" r="1.4"/><circle cx="23.1" cy="517.3" r="1.1"/><circle cx="27.8" cy="518.4" r="1.3"/><circle cx="30.2" cy="520.1" r="1.2"/><circle cx="36.6" cy="517.6" r="1.0"/><circle cx="63.0" cy="519.7" r="1.1"/><circle cx="74.8" cy="517.3" r="1.3"/><circle cx="75.0" cy="517.6" r="0.9"/><circle cx="80.1" cy="517.8" r="0.9"/><circle cx="82.5" cy="520.4" r="1.3"/><circle cx="86.9" cy="517.7" r="1.0"/><circle cx="91.5" cy="520.2" r="1.1"/><circle cx="124.3" cy="518.0" r="1.2"/><circle cx="127.9" cy="517.5" r="1.1"/><circle cx="132.1" cy="518.4" r="1.3"/><circle cx="138.0" cy="517.5" r="0.9"/><circle cx="142.3" cy="517.4" r="1.1"/><circle cx="149.4" cy="519.4" r="1.1"/><circle cx="150.3" cy="520.2" r="1.3"/><circle cx="156.1" cy="520.1" r="1.0"/><circle cx="191.4" cy="517.5" r="1.3"/><circle cx="196.1" cy="518.2" r="1.0"/><circle cx="5.9" cy="523.5" r="1.0"/><circle cx="10.0" cy="523.9" r="1.3"/><circle cx="15.8" cy="522.8" r="1.1"/><circle cx="20.2" cy="520.7" r="1.0"/><circle cx="24.3" cy="521.5" r="1.1"/><circle cx="30.8" cy="520.8" r="1.1"/><circle cx="60.8" cy="520.5" r="1.4"/><circle cx="68.1" cy="522.2" r="1.4"/><circle cx="72.5" cy="522.6" r="1.3"/><circle cx="77.2" cy="522.8" r="1.1"/><circle cx="79.6" cy="523.6" r="1.1"/><circle cx="85.7" cy="520.6" r="1.2"/><circle cx="90.4" cy="521.2" r="1.3"/><circle cx="130.3" cy="521.1" r="1.1"/><circle cx="133.1" cy="521.8" r="1.3"/><circle cx="136.7" cy="521.3" r="1.0"/><circle cx="139.1" cy="522.4" r="0.9"/><circle cx="142.5" cy="520.8" r="0.9"/><circle cx="147.6" cy="523.3" r="0.9"/><circle cx="152.9" cy="523.7" r="1.0"/><circle cx="155.3" cy="523.4" r="1.3"/><circle cx="184.8" cy="523.0" r="1.0"/><circle cx="196.2" cy="522.8" r="1.4"/><circle cx="0.4" cy="524.4" r="1.3"/><circle cx="7.5" cy="524.6" r="0.9"/><circle cx="9.5" cy="526.0" r="1.0"/><circle cx="14.2" cy="527.3" r="1.1"/><circle cx="20.2" cy="526.8" r="1.3"/><circle cx="23.0" cy="524.9" r="1.4"/><circle cx="27.1" cy="526.0" r="1.0"/><circle cx="30.0" cy="526.3" r="1.2"/><circle cx="34.7" cy="525.0" r="1.1"/><circle cx="59.4" cy="526.0" r="1.3"/><circle cx="61.4" cy="524.4" r="1.2"/><circle cx="70.6" cy="527.9" r="1.4"/><circle cx="73.8" cy="524.9" r="1.0"/><circle cx="75.3" cy="524.5" r="1.3"/><circle cx="79.8" cy="526.1" r="1.0"/><circle cx="85.9" cy="524.2" r="1.3"/><circle cx="89.0" cy="526.9" r="1.3"/><circle cx="122.1" cy="525.5" r="1.4"/><circle cx="124.7" cy="524.5" r="1.3"/><circle cx="128.0" cy="527.0" r="1.3"/><circle cx="131.6" cy="524.6" r="1.1"/><circle cx="136.3" cy="524.2" r="1.1"/><circle cx="143.0" cy="527.5" r="1.3"/><circle cx="146.4" cy="527.9" r="1.4"/><circle cx="185.3" cy="526.3" r="1.4"/><circle cx="192.4" cy="525.6" r="1.2"/><circle cx="196.7" cy="526.1" r="1.2"/><circle cx="11.2" cy="530.7" r="1.3"/><circle cx="15.4" cy="531.6" r="1.0"/><circle cx="25.6" cy="530.9" r="1.4"/><circle cx="30.9" cy="531.0" r="1.2"/><circle cx="60.4" cy="529.3" r="0.9"/><circle cx="67.8" cy="528.6" r="1.4"/><circle cx="73.4" cy="531.3" r="1.4"/><circle cx="75.6" cy="530.3" r="1.3"/><circle cx="79.3" cy="530.4" r="0.9"/><circle cx="83.6" cy="529.1" r="1.0"/><circle cx="88.3" cy="530.5" r="0.9"/><circle cx="92.4" cy="529.7" r="0.9"/><circle cx="117.6" cy="531.0" r="1.1"/><circle cx="121.7" cy="531.5" r="1.3"/><circle cx="124.4" cy="530.1" r="1.4"/><circle cx="128.3" cy="531.1" r="1.1"/><circle cx="134.5" cy="529.4" r="1.2"/><circle cx="136.4" cy="528.2" r="1.0"/><circle cx="144.8" cy="530.5" r="1.1"/><circle cx="146.4" cy="531.3" r="1.1"/><circle cx="155.6" cy="530.0" r="1.4"/><circle cx="190.8" cy="531.7" r="1.3"/><circle cx="194.9" cy="529.7" r="1.2"/><circle cx="10.3" cy="532.0" r="1.2"/><circle cx="13.6" cy="534.5" r="1.3"/><circle cx="17.7" cy="534.6" r="1.1"/><circle cx="25.8" cy="531.8" r="1.2"/><circle cx="31.1" cy="533.6" r="1.2"/><circle cx="34.2" cy="532.0" r="1.0"/><circle cx="56.7" cy="535.3" r="1.1"/><circle cx="65.2" cy="531.7" r="1.3"/><circle cx="70.1" cy="534.3" r="1.2"/><circle cx="71.2" cy="532.1" r="1.4"/><circle cx="77.3" cy="534.9" r="1.1"/><circle cx="78.9" cy="532.7" r="1.4"/><circle cx="83.6" cy="533.5" r="1.4"/><circle cx="89.6" cy="533.8" r="1.4"/><circle cx="91.3" cy="532.8" r="1.0"/><circle cx="94.9" cy="533.3" r="1.1"/><circle cx="98.9" cy="533.4" r="1.4"/><circle cx="121.6" cy="531.7" r="1.4"/><circle cx="123.5" cy="533.9" r="1.1"/><circle cx="129.5" cy="533.1" r="1.2"/><circle cx="133.2" cy="532.9" r="1.2"/><circle cx="137.5" cy="531.9" r="1.0"/><circle cx="145.4" cy="533.2" r="1.3"/><circle cx="146.3" cy="535.4" r="1.0"/><circle cx="157.4" cy="534.0" r="1.4"/><circle cx="188.5" cy="533.4" r="0.9"/><circle cx="192.1" cy="534.4" r="0.9"/><circle cx="197.7" cy="534.2" r="0.9"/><circle cx="9.0" cy="537.4" r="0.9"/><circle cx="14.5" cy="537.2" r="1.1"/><circle cx="16.4" cy="537.9" r="1.1"/><circle cx="22.8" cy="538.2" r="1.2"/><circle cx="27.0" cy="536.7" r="1.1"/><circle cx="32.2" cy="537.4" r="1.2"/><circle cx="36.8" cy="536.8" r="1.1"/><circle cx="47.1" cy="536.4" r="1.3"/><circle cx="50.1" cy="538.1" r="1.2"/><circle cx="57.8" cy="537.2" r="1.3"/><circle cx="63.8" cy="538.0" r="1.2"/><circle cx="68.6" cy="536.0" r="1.3"/><circle cx="74.1" cy="535.8" r="1.0"/><circle cx="75.6" cy="537.4" r="0.9"/><circle cx="85.8" cy="538.0" r="1.4"/><circle cx="88.8" cy="536.5" r="1.3"/><circle cx="90.8" cy="536.4" r="1.2"/><circle cx="94.5" cy="536.5" r="0.9"/><circle cx="99.1" cy="536.4" r="1.0"/><circle cx="103.0" cy="538.7" r="1.4"/><circle cx="108.0" cy="537.7" r="1.3"/><circle cx="110.5" cy="537.9" r="1.3"/><circle cx="117.4" cy="538.4" r="1.1"/><circle cx="121.1" cy="538.2" r="1.2"/><circle cx="125.6" cy="536.7" r="1.4"/><circle cx="127.7" cy="538.9" r="0.9"/><circle cx="141.7" cy="535.7" r="0.9"/><circle cx="142.3" cy="537.6" r="1.3"/><circle cx="149.2" cy="538.4" r="0.9"/><circle cx="151.7" cy="536.1" r="1.1"/><circle cx="158.7" cy="537.2" r="1.1"/><circle cx="182.8" cy="538.9" r="1.1"/><circle cx="185.6" cy="538.0" r="1.2"/><circle cx="190.6" cy="535.7" r="1.4"/><circle cx="198.2" cy="535.5" r="1.3"/><circle cx="14.9" cy="542.3" r="1.1"/><circle cx="16.3" cy="539.2" r="1.0"/><circle cx="20.9" cy="541.1" r="1.3"/><circle cx="26.9" cy="539.7" r="1.1"/><circle cx="32.9" cy="540.4" r="1.2"/><circle cx="34.7" cy="541.1" r="1.4"/><circle cx="38.1" cy="540.0" r="1.0"/><circle cx="49.6" cy="540.0" r="1.4"/><circle cx="59.8" cy="540.6" r="1.3"/><circle cx="62.8" cy="540.4" r="1.1"/><circle cx="64.7" cy="541.4" r="1.1"/><circle cx="70.4" cy="539.2" r="1.1"/><circle cx="71.3" cy="542.6" r="1.0"/><circle cx="79.9" cy="542.6" r="1.3"/><circle cx="85.9" cy="539.9" r="1.3"/><circle cx="91.5" cy="540.6" r="1.0"/><circle cx="97.1" cy="539.4" r="1.1"/><circle cx="97.5" cy="540.3" r="0.9"/><circle cx="103.0" cy="541.2" r="1.3"/><circle cx="106.8" cy="542.7" r="1.0"/><circle cx="108.8" cy="540.3" r="1.4"/><circle cx="114.2" cy="539.8" r="1.2"/><circle cx="117.1" cy="542.1" r="1.1"/><circle cx="122.0" cy="542.3" r="1.0"/><circle cx="127.0" cy="542.8" r="1.3"/><circle cx="128.7" cy="539.4" r="1.0"/><circle cx="133.7" cy="540.0" r="1.0"/><circle cx="140.2" cy="539.8" r="1.0"/><circle cx="147.3" cy="540.9" r="1.0"/><circle cx="151.0" cy="542.5" r="1.1"/><circle cx="155.5" cy="540.9" r="1.4"/><circle cx="166.6" cy="542.9" r="1.0"/><circle cx="179.4" cy="540.2" r="1.3"/><circle cx="180.9" cy="541.3" r="1.4"/><circle cx="185.3" cy="540.6" r="1.1"/><circle cx="188.1" cy="541.3" r="1.1"/><circle cx="191.2" cy="541.0" r="1.2"/><circle cx="198.2" cy="540.2" r="0.9"/><circle cx="14.8" cy="544.7" r="1.0"/><circle cx="18.1" cy="544.8" r="1.0"/><circle cx="19.5" cy="546.0" r="1.4"/><circle cx="25.9" cy="545.5" r="1.3"/><circle cx="29.2" cy="545.9" r="1.3"/><circle cx="33.8" cy="544.8" r="1.3"/><circle cx="39.7" cy="546.3" r="1.2"/><circle cx="41.4" cy="545.4" r="1.4"/><circle cx="48.2" cy="544.1" r="1.3"/><circle cx="51.5" cy="546.6" r="0.9"/><circle cx="55.1" cy="543.1" r="1.3"/><circle cx="59.1" cy="546.2" r="1.4"/><circle cx="62.3" cy="544.7" r="1.1"/><circle cx="63.7" cy="543.5" r="1.0"/><circle cx="82.1" cy="544.1" r="1.4"/><circle cx="83.4" cy="546.5" r="1.4"/><circle cx="89.0" cy="544.2" r="1.2"/><circle cx="91.6" cy="543.0" r="1.2"/><circle cx="95.3" cy="545.7" r="1.0"/><circle cx="99.5" cy="543.8" r="0.9"/><circle cx="101.2" cy="544.2" r="1.4"/><circle cx="107.2" cy="544.5" r="1.0"/><circle cx="110.3" cy="546.5" r="1.1"/><circle cx="149.3" cy="543.1" r="1.0"/><circle cx="152.3" cy="544.5" r="1.1"/><circle cx="155.6" cy="545.7" r="1.2"/><circle cx="159.7" cy="545.2" r="1.3"/><circle cx="161.4" cy="543.1" r="0.9"/><circle cx="164.9" cy="544.4" r="0.9"/><circle cx="172.0" cy="546.1" r="1.2"/><circle cx="173.3" cy="546.6" r="1.0"/><circle cx="176.7" cy="546.1" r="1.1"/><circle cx="181.1" cy="546.2" r="1.3"/><circle cx="186.0" cy="544.6" r="1.1"/><circle cx="188.8" cy="544.1" r="1.1"/><circle cx="192.0" cy="545.8" r="1.1"/><circle cx="197.9" cy="544.6" r="1.4"/><circle cx="22.4" cy="547.9" r="0.9"/><circle cx="24.0" cy="549.5" r="1.2"/><circle cx="27.0" cy="548.1" r="1.0"/><circle cx="33.4" cy="546.9" r="1.3"/><circle cx="36.8" cy="548.1" r="1.3"/><circle cx="40.3" cy="549.4" r="1.0"/><circle cx="43.8" cy="548.8" r="1.4"/><circle cx="45.4" cy="549.6" r="1.3"/><circle cx="52.2" cy="547.7" r="1.2"/><circle cx="54.2" cy="547.3" r="1.4"/><circle cx="58.6" cy="547.7" r="1.1"/><circle cx="60.4" cy="548.9" r="1.2"/><circle cx="68.7" cy="549.5" r="1.0"/><circle cx="73.7" cy="549.2" r="1.1"/><circle cx="75.9" cy="548.0" r="0.9"/><circle cx="80.0" cy="549.1" r="1.0"/><circle cx="85.6" cy="550.1" r="1.0"/><circle cx="86.5" cy="547.0" r="1.3"/><circle cx="90.8" cy="548.5" r="0.9"/><circle cx="96.6" cy="549.9" r="1.3"/><circle cx="99.9" cy="547.9" r="1.0"/><circle cx="102.8" cy="547.8" r="1.3"/><circle cx="123.2" cy="549.2" r="1.1"/><circle cx="131.8" cy="549.3" r="1.3"/><circle cx="135.0" cy="549.8" r="1.2"/><circle cx="138.8" cy="546.8" r="1.4"/><circle cx="144.5" cy="549.9" r="0.9"/><circle cx="146.0" cy="549.3" r="1.0"/><circle cx="152.2" cy="549.3" r="1.1"/><circle cx="154.5" cy="548.8" r="1.1"/><circle cx="158.1" cy="547.7" r="0.9"/><circle cx="162.1" cy="548.9" r="0.9"/><circle cx="167.8" cy="548.4" r="1.0"/><circle cx="171.7" cy="549.5" r="1.2"/><circle cx="174.7" cy="548.5" r="1.1"/><circle cx="177.8" cy="548.4" r="1.2"/><circle cx="182.6" cy="550.0" r="0.9"/><circle cx="189.4" cy="547.7" r="1.4"/><circle cx="194.0" cy="549.2" r="1.3"/><circle cx="196.3" cy="548.1" r="1.4"/><circle cx="26.0" cy="552.0" r="1.2"/><circle cx="28.4" cy="551.0" r="1.4"/><circle cx="32.5" cy="551.2" r="1.2"/><circle cx="34.9" cy="552.6" r="0.9"/><circle cx="38.2" cy="552.9" r="0.9"/><circle cx="44.0" cy="551.6" r="1.2"/><circle cx="45.3" cy="552.8" r="1.3"/><circle cx="51.4" cy="553.2" r="0.9"/><circle cx="55.4" cy="550.9" r="0.9"/><circle cx="70.9" cy="550.6" r="1.1"/><circle cx="74.2" cy="551.3" r="1.0"/><circle cx="76.7" cy="554.0" r="1.0"/><circle cx="82.0" cy="552.9" r="1.0"/><circle cx="83.2" cy="551.5" r="1.3"/><circle cx="89.7" cy="552.9" r="1.1"/><circle cx="92.5" cy="552.2" r="1.1"/><circle cx="95.0" cy="552.4" r="0.9"/><circle cx="101.0" cy="551.8" r="0.9"/><circle cx="103.3" cy="553.8" r="1.2"/><circle cx="106.7" cy="553.3" r="1.0"/><circle cx="109.2" cy="553.1" r="1.4"/><circle cx="122.6" cy="553.1" r="1.3"/><circle cx="124.1" cy="551.0" r="0.9"/><circle cx="130.5" cy="551.8" r="0.9"/><circle cx="134.2" cy="552.6" r="0.9"/><circle cx="135.1" cy="551.5" r="0.9"/><circle cx="139.2" cy="552.8" r="1.0"/><circle cx="144.2" cy="551.8" r="1.2"/><circle cx="147.9" cy="551.8" r="0.9"/><circle cx="152.0" cy="551.1" r="0.9"/><circle cx="156.8" cy="552.6" r="1.2"/><circle cx="160.7" cy="550.9" r="1.3"/><circle cx="162.3" cy="553.0" r="0.9"/><circle cx="165.7" cy="551.5" r="1.3"/><circle cx="171.0" cy="553.9" r="1.1"/><circle cx="175.3" cy="553.3" r="1.4"/><circle cx="178.7" cy="553.6" r="1.2"/><circle cx="183.2" cy="553.8" r="1.4"/><circle cx="187.1" cy="553.5" r="1.4"/><circle cx="187.7" cy="551.9" r="0.9"/><circle cx="193.8" cy="550.6" r="1.0"/><circle cx="195.8" cy="552.7" r="1.1"/><circle cx="1.4" cy="556.7" r="1.4"/><circle cx="7.5" cy="554.1" r="1.0"/><circle cx="20.5" cy="556.8" r="1.4"/><circle cx="24.0" cy="555.3" r="1.0"/><circle cx="29.0" cy="555.9" r="0.9"/><circle cx="32.9" cy="557.8" r="1.2"/><circle cx="34.3" cy="554.3" r="1.0"/><circle cx="40.2" cy="556.3" r="1.4"/><circle cx="41.4" cy="554.5" r="1.1"/><circle cx="51.9" cy="555.5" r="1.2"/><circle cx="52.5" cy="555.0" r="0.9"/><circle cx="56.4" cy="556.1" r="1.2"/><circle cx="63.0" cy="555.4" r="1.3"/><circle cx="66.3" cy="557.4" r="1.2"/><circle cx="70.6" cy="556.7" r="1.0"/><circle cx="74.0" cy="556.5" r="0.9"/><circle cx="76.6" cy="555.1" r="1.2"/><circle cx="80.5" cy="554.4" r="1.2"/><circle cx="87.2" cy="555.8" r="1.3"/><circle cx="91.3" cy="557.6" r="1.1"/><circle cx="97.5" cy="555.6" r="1.3"/><circle cx="101.6" cy="554.7" r="1.2"/><circle cx="107.6" cy="555.8" r="1.1"/><circle cx="111.9" cy="554.9" r="1.4"/><circle cx="114.1" cy="554.6" r="1.4"/><circle cx="120.6" cy="555.8" r="0.9"/><circle cx="127.0" cy="555.4" r="1.3"/><circle cx="127.7" cy="554.3" r="1.1"/><circle cx="134.4" cy="557.1" r="0.9"/><circle cx="137.0" cy="555.9" r="1.4"/><circle cx="139.2" cy="556.5" r="1.4"/><circle cx="145.8" cy="556.4" r="1.3"/><circle cx="149.3" cy="557.1" r="1.2"/><circle cx="150.2" cy="556.2" r="1.4"/><circle cx="154.4" cy="556.2" r="1.0"/><circle cx="160.0" cy="557.0" r="1.1"/><circle cx="163.5" cy="556.9" r="0.9"/><circle cx="165.0" cy="554.8" r="1.1"/><circle cx="170.8" cy="555.5" r="1.0"/><circle cx="175.8" cy="556.4" r="1.3"/><circle cx="178.1" cy="556.4" r="1.2"/><circle cx="182.9" cy="557.8" r="1.2"/><circle cx="184.8" cy="555.7" r="1.2"/><circle cx="16.3" cy="559.7" r="1.0"/><circle cx="20.3" cy="558.9" r="0.9"/><circle cx="24.8" cy="560.9" r="1.0"/><circle cx="26.6" cy="558.2" r="1.2"/><circle cx="30.0" cy="559.6" r="1.0"/><circle cx="33.8" cy="559.5" r="1.4"/><circle cx="38.8" cy="561.3" r="1.2"/><circle cx="41.6" cy="560.9" r="1.2"/><circle cx="45.3" cy="558.2" r="0.9"/><circle cx="52.4" cy="560.0" r="1.4"/><circle cx="59.0" cy="560.4" r="1.2"/><circle cx="66.2" cy="560.0" r="1.3"/><circle cx="67.7" cy="558.4" r="0.9"/><circle cx="74.7" cy="559.0" r="1.1"/><circle cx="82.3" cy="559.9" r="1.4"/><circle cx="92.0" cy="560.4" r="1.2"/><circle cx="94.3" cy="559.6" r="1.3"/><circle cx="97.7" cy="558.4" r="1.2"/><circle cx="103.2" cy="557.9" r="1.4"/><circle cx="106.2" cy="558.5" r="1.4"/><circle cx="109.2" cy="560.7" r="1.4"/><circle cx="113.1" cy="558.3" r="1.0"/><circle cx="119.4" cy="561.3" r="0.9"/><circle cx="121.1" cy="558.8" r="1.3"/><circle cx="126.4" cy="559.5" r="1.1"/><circle cx="133.6" cy="559.1" r="0.9"/><circle cx="134.9" cy="559.3" r="0.9"/><circle cx="145.3" cy="558.0" r="1.1"/><circle cx="147.1" cy="558.4" r="1.4"/><circle cx="151.1" cy="558.5" r="0.9"/><circle cx="156.3" cy="558.7" r="1.3"/><circle cx="157.5" cy="558.6" r="1.3"/><circle cx="163.7" cy="559.0" r="1.1"/><circle cx="175.7" cy="561.4" r="1.4"/><circle cx="176.6" cy="560.9" r="1.0"/><circle cx="1.3" cy="562.5" r="0.9"/><circle cx="9.6" cy="562.7" r="1.3"/><circle cx="12.5" cy="563.5" r="1.0"/><circle cx="15.2" cy="562.7" r="0.9"/><circle cx="18.8" cy="563.4" r="1.4"/><circle cx="23.8" cy="563.3" r="0.9"/><circle cx="26.6" cy="564.6" r="1.1"/><circle cx="31.2" cy="564.4" r="1.3"/><circle cx="39.9" cy="563.3" r="1.2"/><circle cx="45.1" cy="564.4" r="1.2"/><circle cx="52.1" cy="561.8" r="1.1"/><circle cx="56.7" cy="564.4" r="1.3"/><circle cx="61.0" cy="564.9" r="1.0"/><circle cx="66.4" cy="564.9" r="1.0"/><circle cx="67.7" cy="564.3" r="0.9"/><circle cx="74.6" cy="563.6" r="1.1"/><circle cx="82.1" cy="562.1" r="1.0"/><circle cx="100.7" cy="564.7" r="1.0"/><circle cx="102.8" cy="564.0" r="1.1"/><circle cx="108.5" cy="562.8" r="0.9"/><circle cx="109.3" cy="564.4" r="0.9"/><circle cx="113.2" cy="562.5" r="1.4"/><circle cx="117.0" cy="562.0" r="1.4"/><circle cx="122.4" cy="563.4" r="1.3"/><circle cx="125.4" cy="562.6" r="1.2"/><circle cx="128.5" cy="564.0" r="1.4"/><circle cx="141.6" cy="564.7" r="0.9"/><circle cx="159.8" cy="563.0" r="0.9"/><circle cx="164.3" cy="564.3" r="1.1"/><circle cx="165.4" cy="563.3" r="1.2"/><circle cx="188.4" cy="562.9" r="1.2"/><circle cx="3.7" cy="567.1" r="1.2"/><circle cx="13.6" cy="569.1" r="1.4"/><circle cx="17.9" cy="569.1" r="1.4"/><circle cx="20.2" cy="565.4" r="1.1"/><circle cx="26.2" cy="566.8" r="1.3"/><circle cx="26.6" cy="566.5" r="0.9"/><circle cx="35.0" cy="569.0" r="1.2"/><circle cx="38.3" cy="565.4" r="1.4"/><circle cx="42.3" cy="567.2" r="1.0"/><circle cx="46.9" cy="565.6" r="1.0"/><circle cx="51.7" cy="568.2" r="1.2"/><circle cx="55.6" cy="568.1" r="0.9"/><circle cx="58.9" cy="568.5" r="1.3"/><circle cx="65.9" cy="565.9" r="1.2"/><circle cx="68.4" cy="569.0" r="0.9"/><circle cx="73.6" cy="566.3" r="1.0"/><circle cx="95.7" cy="565.6" r="1.4"/><circle cx="97.8" cy="568.0" r="0.9"/><circle cx="107.9" cy="567.2" r="0.9"/><circle cx="111.1" cy="565.5" r="1.4"/><circle cx="114.8" cy="565.8" r="1.3"/><circle cx="117.2" cy="568.3" r="1.1"/><circle cx="121.7" cy="566.4" r="1.4"/><circle cx="124.8" cy="568.2" r="1.0"/><circle cx="134.7" cy="567.6" r="0.9"/><circle cx="134.9" cy="567.7" r="1.4"/><circle cx="139.6" cy="566.2" r="0.9"/><circle cx="142.3" cy="567.2" r="1.1"/><circle cx="151.7" cy="565.7" r="1.2"/><circle cx="163.6" cy="566.3" r="1.4"/><circle cx="168.1" cy="568.8" r="0.9"/><circle cx="169.8" cy="568.8" r="1.0"/><circle cx="176.2" cy="566.7" r="1.1"/><circle cx="181.9" cy="567.8" r="1.2"/><circle cx="8.5" cy="571.2" r="1.3"/><circle cx="12.8" cy="569.3" r="1.4"/><circle cx="18.1" cy="572.4" r="1.4"/><circle cx="23.2" cy="569.1" r="0.9"/><circle cx="29.2" cy="571.4" r="0.9"/><circle cx="32.3" cy="569.6" r="1.2"/><circle cx="37.9" cy="570.2" r="1.1"/><circle cx="53.2" cy="570.4" r="1.3"/><circle cx="57.9" cy="572.8" r="1.1"/><circle cx="63.1" cy="572.7" r="1.4"/><circle cx="67.1" cy="570.1" r="0.9"/><circle cx="69.9" cy="572.7" r="0.9"/><circle cx="73.2" cy="569.4" r="0.9"/><circle cx="97.5" cy="569.6" r="1.1"/><circle cx="101.6" cy="572.2" r="1.4"/><circle cx="106.9" cy="569.7" r="1.4"/><circle cx="110.7" cy="571.5" r="0.9"/><circle cx="113.0" cy="570.7" r="1.4"/><circle cx="118.2" cy="570.1" r="1.2"/><circle cx="121.3" cy="572.6" r="1.0"/><circle cx="130.5" cy="569.7" r="1.2"/><circle cx="155.6" cy="570.1" r="1.0"/><circle cx="157.6" cy="569.3" r="1.0"/><circle cx="161.3" cy="572.0" r="1.3"/><circle cx="165.7" cy="570.5" r="1.3"/><circle cx="11.0" cy="573.9" r="1.2"/><circle cx="12.9" cy="573.5" r="0.9"/><circle cx="15.8" cy="573.9" r="1.0"/><circle cx="19.0" cy="574.8" r="1.2"/><circle cx="24.7" cy="575.2" r="1.2"/><circle cx="44.0" cy="573.9" r="1.1"/><circle cx="47.7" cy="575.5" r="1.4"/><circle cx="54.7" cy="574.3" r="0.9"/><circle cx="58.3" cy="575.5" r="1.3"/><circle cx="61.5" cy="575.6" r="1.2"/><circle cx="65.7" cy="575.3" r="0.9"/><circle cx="69.9" cy="575.5" r="1.4"/><circle cx="72.9" cy="573.5" r="1.1"/><circle cx="99.0" cy="575.2" r="0.9"/><circle cx="105.2" cy="574.9" r="1.2"/><circle cx="111.5" cy="575.1" r="1.4"/><circle cx="114.5" cy="573.9" r="1.4"/><circle cx="116.2" cy="575.3" r="1.0"/><circle cx="120.4" cy="573.7" r="1.1"/><circle cx="125.8" cy="573.9" r="1.1"/><circle cx="130.2" cy="575.9" r="1.4"/><circle cx="155.6" cy="574.8" r="1.2"/><circle cx="160.7" cy="575.6" r="1.4"/><circle cx="165.7" cy="573.0" r="1.1"/><circle cx="171.6" cy="572.9" r="0.9"/><circle cx="8.3" cy="579.2" r="1.3"/><circle cx="16.7" cy="578.5" r="0.9"/><circle cx="21.1" cy="577.0" r="0.9"/><circle cx="24.5" cy="577.3" r="1.3"/><circle cx="49.0" cy="577.1" r="1.0"/><circle cx="57.8" cy="579.6" r="1.1"/><circle cx="62.8" cy="578.4" r="0.9"/><circle cx="66.1" cy="580.0" r="1.0"/><circle cx="69.3" cy="577.9" r="1.3"/><circle cx="71.1" cy="578.4" r="0.9"/><circle cx="102.8" cy="579.4" r="1.2"/><circle cx="105.2" cy="577.4" r="0.9"/><circle cx="111.9" cy="580.2" r="0.9"/><circle cx="115.0" cy="579.1" r="1.3"/><circle cx="116.3" cy="577.5" r="1.3"/><circle cx="125.8" cy="578.6" r="0.9"/><circle cx="127.9" cy="578.6" r="1.1"/><circle cx="158.1" cy="578.9" r="1.2"/><circle cx="162.5" cy="577.5" r="1.3"/><circle cx="168.0" cy="577.8" r="1.1"/><circle cx="170.0" cy="579.0" r="1.3"/><circle cx="3.0" cy="581.4" r="1.4"/><circle cx="10.0" cy="583.4" r="1.0"/><circle cx="13.1" cy="580.7" r="1.1"/><circle cx="19.2" cy="581.3" r="1.2"/><circle cx="54.7" cy="583.5" r="1.0"/><circle cx="57.9" cy="582.1" r="1.2"/><circle cx="60.4" cy="581.3" r="0.9"/><circle cx="65.6" cy="583.1" r="1.4"/><circle cx="69.6" cy="582.8" r="1.4"/><circle cx="72.4" cy="583.5" r="1.4"/><circle cx="98.6" cy="583.0" r="1.4"/><circle cx="108.2" cy="583.8" r="1.2"/><circle cx="108.8" cy="581.7" r="1.2"/><circle cx="112.3" cy="583.2" r="1.1"/><circle cx="117.8" cy="583.5" r="0.9"/><circle cx="122.3" cy="581.2" r="1.1"/><circle cx="127.1" cy="582.0" r="1.0"/><circle cx="154.1" cy="581.5" r="1.0"/><circle cx="157.6" cy="580.4" r="1.3"/><circle cx="165.0" cy="580.9" r="1.0"/><circle cx="-1.5" cy="585.9" r="1.2"/><circle cx="1.7" cy="586.6" r="1.0"/><circle cx="4.2" cy="586.9" r="1.0"/><circle cx="10.4" cy="586.0" r="1.1"/><circle cx="11.2" cy="584.3" r="1.4"/><circle cx="20.7" cy="586.6" r="1.1"/><circle cx="55.3" cy="587.7" r="1.1"/><circle cx="59.0" cy="584.2" r="1.0"/><circle cx="62.0" cy="586.8" r="1.2"/><circle cx="66.2" cy="584.4" r="1.4"/><circle cx="69.7" cy="585.9" r="1.1"/><circle cx="76.8" cy="584.2" r="1.3"/><circle cx="102.0" cy="587.6" r="1.1"/><circle cx="108.3" cy="586.5" r="1.3"/><circle cx="111.3" cy="585.2" r="1.3"/><circle cx="115.1" cy="586.3" r="1.3"/><circle cx="116.7" cy="587.1" r="1.2"/><circle cx="123.9" cy="584.2" r="1.4"/><circle cx="129.6" cy="584.9" r="1.4"/><circle cx="152.4" cy="586.9" r="0.9"/><circle cx="163.4" cy="587.2" r="1.2"/><circle cx="168.3" cy="585.8" r="1.2"/><circle cx="2.1" cy="589.0" r="1.3"/><circle cx="6.6" cy="590.9" r="0.9"/><circle cx="8.5" cy="589.5" r="1.3"/><circle cx="12.0" cy="587.9" r="0.9"/><circle cx="15.1" cy="590.1" r="1.2"/><circle cx="19.0" cy="589.9" r="1.0"/><circle cx="55.4" cy="589.2" r="1.2"/><circle cx="56.6" cy="588.5" r="1.2"/><circle cx="61.3" cy="591.3" r="1.2"/><circle cx="64.9" cy="589.0" r="0.9"/><circle cx="70.6" cy="588.9" r="1.4"/><circle cx="72.5" cy="590.7" r="1.4"/><circle cx="78.7" cy="591.3" r="1.3"/><circle cx="82.6" cy="588.1" r="1.3"/><circle cx="89.6" cy="591.2" r="0.9"/><circle cx="95.9" cy="589.9" r="0.9"/><circle cx="97.6" cy="589.4" r="1.4"/><circle cx="101.2" cy="590.7" r="0.9"/><circle cx="108.2" cy="588.6" r="1.2"/><circle cx="110.0" cy="589.1" r="1.3"/><circle cx="113.7" cy="590.1" r="0.9"/><circle cx="117.6" cy="589.1" r="1.2"/><circle cx="120.5" cy="589.5" r="1.2"/><circle cx="123.8" cy="588.3" r="1.2"/><circle cx="128.0" cy="590.0" r="1.3"/><circle cx="131.2" cy="591.0" r="1.0"/><circle cx="135.8" cy="590.2" r="1.4"/><circle cx="150.4" cy="589.9" r="0.9"/><circle cx="154.3" cy="590.1" r="0.9"/><circle cx="164.1" cy="588.6" r="1.2"/><circle cx="167.0" cy="590.2" r="1.0"/><circle cx="169.3" cy="588.1" r="1.2"/><circle cx="6.6" cy="594.5" r="1.3"/><circle cx="8.8" cy="592.2" r="0.9"/><circle cx="13.9" cy="592.5" r="1.3"/><circle cx="59.8" cy="591.9" r="1.2"/><circle cx="62.2" cy="593.5" r="1.4"/><circle cx="66.9" cy="593.2" r="1.3"/><circle cx="70.4" cy="595.3" r="1.0"/><circle cx="72.0" cy="594.6" r="1.0"/><circle cx="76.7" cy="594.9" r="1.2"/><circle cx="81.9" cy="595.0" r="1.4"/><circle cx="92.8" cy="595.2" r="1.2"/><circle cx="98.4" cy="591.9" r="1.0"/><circle cx="103.2" cy="592.8" r="0.9"/><circle cx="107.4" cy="594.6" r="1.2"/><circle cx="115.3" cy="591.6" r="1.3"/><circle cx="118.8" cy="592.8" r="1.4"/><circle cx="120.0" cy="591.9" r="1.4"/><circle cx="124.1" cy="592.3" r="1.3"/><circle cx="129.4" cy="594.0" r="1.0"/><circle cx="133.2" cy="594.3" r="0.9"/><circle cx="135.9" cy="593.1" r="1.0"/><circle cx="144.6" cy="595.0" r="1.2"/><circle cx="147.3" cy="594.7" r="1.2"/><circle cx="153.1" cy="595.1" r="1.1"/><circle cx="153.8" cy="593.7" r="1.3"/><circle cx="161.4" cy="592.6" r="0.9"/><circle cx="167.6" cy="594.2" r="1.2"/><circle cx="168.9" cy="593.5" r="1.0"/><circle cx="1.5" cy="598.0" r="1.1"/><circle cx="8.2" cy="597.5" r="1.0"/><circle cx="12.2" cy="596.0" r="1.3"/><circle cx="18.3" cy="595.8" r="1.0"/><circle cx="48.1" cy="595.7" r="1.0"/><circle cx="55.1" cy="596.6" r="1.4"/><circle cx="58.5" cy="596.2" r="1.2"/><circle cx="61.7" cy="598.5" r="1.3"/><circle cx="67.5" cy="596.1" r="1.3"/><circle cx="73.9" cy="597.8" r="1.4"/><circle cx="76.0" cy="598.2" r="1.1"/><circle cx="80.6" cy="598.7" r="1.1"/><circle cx="85.5" cy="596.0" r="1.0"/><circle cx="86.3" cy="596.8" r="1.4"/><circle cx="92.9" cy="597.1" r="1.0"/><circle cx="96.5" cy="596.4" r="1.1"/><circle cx="99.5" cy="595.8" r="1.2"/><circle cx="103.8" cy="596.8" r="1.0"/><circle cx="107.6" cy="595.6" r="1.2"/><circle cx="117.3" cy="598.3" r="1.2"/><circle cx="121.2" cy="596.5" r="1.3"/><circle cx="127.0" cy="595.6" r="1.3"/><circle cx="133.9" cy="598.0" r="1.1"/><circle cx="144.6" cy="598.6" r="1.1"/><circle cx="157.1" cy="598.0" r="0.9"/><circle cx="158.7" cy="597.1" r="1.4"/><circle cx="162.3" cy="596.2" r="1.2"/><circle cx="165.9" cy="598.9" r="1.1"/><circle cx="1.3" cy="601.4" r="1.0"/><circle cx="7.6" cy="601.1" r="1.0"/><circle cx="12.0" cy="601.4" r="0.9"/><circle cx="15.2" cy="601.4" r="1.3"/><circle cx="29.7" cy="601.4" r="1.1"/><circle cx="30.3" cy="600.3" r="1.2"/><circle cx="46.7" cy="602.0" r="1.1"/><circle cx="54.6" cy="601.5" r="1.1"/><circle cx="59.8" cy="600.4" r="1.4"/><circle cx="71.4" cy="599.5" r="1.4"/><circle cx="77.8" cy="601.5" r="1.0"/><circle cx="80.5" cy="599.1" r="0.9"/><circle cx="82.8" cy="599.5" r="1.1"/><circle cx="86.9" cy="599.3" r="1.4"/><circle cx="93.5" cy="602.5" r="1.0"/><circle cx="96.8" cy="599.1" r="1.2"/><circle cx="100.9" cy="602.5" r="1.0"/><circle cx="115.8" cy="601.2" r="1.1"/><circle cx="119.3" cy="601.7" r="1.4"/><circle cx="122.6" cy="599.9" r="1.4"/><circle cx="123.5" cy="602.6" r="1.4"/><circle cx="127.3" cy="600.2" r="1.0"/><circle cx="138.1" cy="599.5" r="1.1"/><circle cx="152.9" cy="602.2" r="0.9"/><circle cx="156.1" cy="602.1" r="1.4"/><circle cx="160.0" cy="599.7" r="1.2"/><circle cx="163.3" cy="599.6" r="1.0"/><circle cx="167.8" cy="602.6" r="1.3"/><circle cx="-1.9" cy="605.8" r="0.9"/><circle cx="0.9" cy="605.8" r="0.9"/><circle cx="10.7" cy="603.7" r="1.1"/><circle cx="14.1" cy="605.3" r="1.1"/><circle cx="16.6" cy="604.5" r="1.3"/><circle cx="25.0" cy="603.5" r="1.0"/><circle cx="33.5" cy="605.4" r="1.3"/><circle cx="35.6" cy="606.4" r="1.2"/><circle cx="40.0" cy="605.1" r="1.2"/><circle cx="45.7" cy="604.2" r="1.4"/><circle cx="50.5" cy="604.5" r="1.3"/><circle cx="55.6" cy="604.7" r="1.1"/><circle cx="56.4" cy="604.3" r="1.1"/><circle cx="63.5" cy="604.8" r="1.0"/><circle cx="73.3" cy="603.0" r="1.0"/><circle cx="77.0" cy="604.5" r="1.4"/><circle cx="81.4" cy="605.1" r="0.9"/><circle cx="85.1" cy="603.5" r="1.2"/><circle cx="87.1" cy="606.0" r="1.4"/><circle cx="89.9" cy="604.5" r="1.2"/><circle cx="96.0" cy="605.0" r="1.1"/><circle cx="114.2" cy="603.9" r="1.1"/><circle cx="122.8" cy="604.8" r="1.1"/><circle cx="126.9" cy="605.9" r="1.4"/><circle cx="129.8" cy="604.1" r="1.1"/><circle cx="133.6" cy="604.7" r="1.4"/><circle cx="138.1" cy="604.6" r="1.3"/><circle cx="141.0" cy="603.1" r="1.0"/><circle cx="144.6" cy="603.4" r="1.0"/><circle cx="147.0" cy="604.9" r="1.2"/><circle cx="152.1" cy="605.6" r="1.1"/><circle cx="155.9" cy="603.6" r="1.4"/><circle cx="160.5" cy="603.0" r="1.0"/><circle cx="1.4" cy="607.8" r="1.4"/><circle cx="11.0" cy="606.9" r="0.9"/><circle cx="13.2" cy="607.7" r="1.1"/><circle cx="18.1" cy="606.6" r="1.4"/><circle cx="20.1" cy="606.7" r="1.1"/><circle cx="24.4" cy="608.0" r="1.1"/><circle cx="28.0" cy="607.2" r="1.2"/><circle cx="32.1" cy="609.3" r="1.0"/><circle cx="37.2" cy="607.0" r="1.1"/><circle cx="42.3" cy="608.6" r="0.9"/><circle cx="46.5" cy="607.0" r="1.3"/><circle cx="51.8" cy="610.0" r="1.1"/><circle cx="54.9" cy="607.9" r="1.1"/><circle cx="70.0" cy="608.5" r="1.4"/><circle cx="88.5" cy="607.6" r="1.0"/><circle cx="98.4" cy="608.5" r="1.2"/><circle cx="129.8" cy="608.7" r="1.2"/><circle cx="134.5" cy="606.6" r="1.0"/><circle cx="135.7" cy="609.4" r="0.9"/><circle cx="141.1" cy="609.8" r="0.9"/><circle cx="144.5" cy="609.8" r="1.2"/><circle cx="147.5" cy="608.7" r="1.2"/><circle cx="152.5" cy="608.3" r="1.3"/><circle cx="155.3" cy="607.7" r="1.4"/><circle cx="191.2" cy="607.9" r="1.2"/><circle cx="17.0" cy="612.7" r="1.0"/><circle cx="20.8" cy="612.4" r="1.1"/><circle cx="25.7" cy="613.7" r="1.1"/><circle cx="29.8" cy="612.4" r="1.3"/><circle cx="32.2" cy="612.2" r="1.0"/><circle cx="35.1" cy="610.3" r="1.3"/><circle cx="40.2" cy="613.9" r="0.9"/><circle cx="42.4" cy="613.7" r="1.4"/><circle cx="47.9" cy="610.8" r="1.3"/><circle cx="51.1" cy="610.4" r="1.0"/><circle cx="55.6" cy="612.3" r="1.1"/><circle cx="78.3" cy="611.8" r="1.2"/><circle cx="85.4" cy="613.4" r="1.2"/><circle cx="91.1" cy="612.6" r="1.4"/><circle cx="97.2" cy="612.8" r="1.2"/><circle cx="107.6" cy="613.0" r="1.2"/><circle cx="109.7" cy="612.7" r="1.3"/><circle cx="113.4" cy="611.7" r="0.9"/><circle cx="121.2" cy="613.6" r="1.4"/><circle cx="123.9" cy="613.4" r="1.0"/><circle cx="129.5" cy="611.6" r="0.9"/><circle cx="135.7" cy="613.2" r="1.2"/><circle cx="139.5" cy="611.8" r="1.0"/><circle cx="143.8" cy="613.7" r="1.3"/><circle cx="148.0" cy="611.6" r="1.2"/><circle cx="151.1" cy="614.0" r="1.4"/><circle cx="-1.2" cy="617.4" r="0.9"/><circle cx="19.8" cy="614.7" r="1.4"/><circle cx="25.7" cy="615.5" r="1.1"/><circle cx="29.5" cy="617.4" r="1.4"/><circle cx="32.5" cy="614.5" r="1.0"/><circle cx="36.4" cy="615.4" r="1.2"/><circle cx="38.4" cy="617.3" r="1.3"/><circle cx="42.8" cy="614.2" r="1.0"/><circle cx="47.8" cy="616.9" r="0.9"/><circle cx="53.2" cy="616.8" r="1.2"/><circle cx="99.3" cy="615.5" r="1.4"/><circle cx="104.7" cy="616.7" r="0.9"/><circle cx="106.0" cy="615.2" r="1.1"/><circle cx="109.9" cy="615.6" r="0.9"/><circle cx="115.8" cy="616.1" r="1.1"/><circle cx="117.4" cy="615.8" r="1.3"/><circle cx="123.2" cy="616.4" r="1.3"/><circle cx="125.5" cy="616.0" r="1.1"/><circle cx="127.5" cy="615.7" r="1.3"/><circle cx="131.1" cy="617.1" r="1.2"/><circle cx="144.1" cy="614.2" r="0.9"/><circle cx="155.2" cy="617.0" r="1.2"/><circle cx="11.7" cy="619.9" r="1.1"/><circle cx="18.6" cy="619.4" r="0.9"/><circle cx="23.0" cy="618.4" r="1.3"/><circle cx="28.6" cy="618.9" r="1.0"/><circle cx="32.0" cy="619.9" r="0.9"/><circle cx="36.0" cy="618.8" r="1.0"/><circle cx="37.8" cy="618.0" r="1.2"/><circle cx="41.2" cy="619.1" r="1.0"/><circle cx="48.0" cy="617.8" r="1.2"/><circle cx="49.4" cy="621.5" r="0.9"/><circle cx="59.3" cy="620.1" r="0.9"/><circle cx="63.0" cy="620.9" r="1.4"/><circle cx="71.9" cy="619.6" r="1.4"/><circle cx="91.6" cy="621.5" r="1.3"/><circle cx="94.2" cy="619.1" r="1.0"/><circle cx="101.0" cy="621.5" r="1.3"/><circle cx="102.1" cy="620.6" r="1.1"/><circle cx="106.9" cy="620.2" r="0.9"/><circle cx="109.2" cy="619.7" r="1.4"/><circle cx="113.3" cy="618.4" r="0.9"/><circle cx="117.0" cy="619.6" r="0.9"/><circle cx="120.4" cy="619.5" r="1.0"/><circle cx="126.0" cy="619.9" r="1.4"/><circle cx="129.6" cy="618.1" r="1.0"/><circle cx="132.0" cy="618.0" r="1.2"/><circle cx="135.8" cy="618.6" r="1.2"/><circle cx="144.9" cy="619.7" r="1.1"/><circle cx="194.5" cy="619.8" r="1.4"/><circle cx="-0.6" cy="623.3" r="1.4"/><circle cx="7.4" cy="624.1" r="0.9"/><circle cx="8.3" cy="624.0" r="0.9"/><circle cx="13.7" cy="624.0" r="1.4"/><circle cx="16.1" cy="622.9" r="1.2"/><circle cx="21.1" cy="621.7" r="0.9"/><circle cx="25.5" cy="624.4" r="1.2"/><circle cx="29.9" cy="624.6" r="1.1"/><circle cx="30.0" cy="625.2" r="0.9"/><circle cx="35.9" cy="625.2" r="1.0"/><circle cx="37.5" cy="622.1" r="1.1"/><circle cx="48.6" cy="622.2" r="0.9"/><circle cx="50.4" cy="623.4" r="1.3"/><circle cx="53.2" cy="624.5" r="1.2"/><circle cx="56.4" cy="622.0" r="1.4"/><circle cx="60.8" cy="624.0" r="1.4"/><circle cx="64.1" cy="622.3" r="1.3"/><circle cx="68.7" cy="624.1" r="1.2"/><circle cx="93.5" cy="623.4" r="1.4"/><circle cx="94.6" cy="624.9" r="1.1"/><circle cx="100.4" cy="624.3" r="1.2"/><circle cx="104.7" cy="623.0" r="1.2"/><circle cx="107.5" cy="623.0" r="1.0"/><circle cx="122.8" cy="622.8" r="1.0"/><circle cx="127.3" cy="621.5" r="1.1"/><circle cx="133.1" cy="624.6" r="0.9"/><circle cx="138.4" cy="623.2" r="0.9"/><circle cx="139.4" cy="622.2" r="1.2"/><circle cx="143.2" cy="622.5" r="0.9"/><circle cx="150.2" cy="625.2" r="1.3"/><circle cx="1.2" cy="627.2" r="1.1"/><circle cx="4.2" cy="627.0" r="1.4"/><circle cx="10.8" cy="628.6" r="1.0"/><circle cx="14.4" cy="625.7" r="0.9"/><circle cx="18.0" cy="628.0" r="1.0"/><circle cx="21.8" cy="627.9" r="1.1"/><circle cx="29.7" cy="626.6" r="1.1"/><circle cx="33.3" cy="628.4" r="1.1"/><circle cx="47.6" cy="628.3" r="1.4"/><circle cx="53.1" cy="625.9" r="1.2"/><circle cx="59.5" cy="626.6" r="1.3"/><circle cx="60.0" cy="625.4" r="1.1"/><circle cx="66.5" cy="628.5" r="0.9"/><circle cx="70.6" cy="628.7" r="1.2"/><circle cx="71.1" cy="628.8" r="1.4"/><circle cx="77.4" cy="626.6" r="1.2"/><circle cx="87.2" cy="627.0" r="1.0"/><circle cx="90.7" cy="628.0" r="1.0"/><circle cx="94.7" cy="626.8" r="0.9"/><circle cx="99.4" cy="626.2" r="1.3"/><circle cx="130.2" cy="627.1" r="1.3"/><circle cx="133.2" cy="625.5" r="1.0"/><circle cx="136.5" cy="628.9" r="1.0"/><circle cx="140.6" cy="627.7" r="1.1"/><circle cx="144.1" cy="628.7" r="1.4"/><circle cx="193.7" cy="627.8" r="1.3"/><circle cx="198.3" cy="628.3" r="1.0"/><circle cx="2.6" cy="631.5" r="1.3"/><circle cx="5.8" cy="632.0" r="1.1"/><circle cx="9.8" cy="629.2" r="1.4"/><circle cx="11.6" cy="631.7" r="1.4"/><circle cx="18.6" cy="631.4" r="1.1"/><circle cx="20.4" cy="631.2" r="1.3"/><circle cx="24.5" cy="630.6" r="1.3"/><circle cx="30.9" cy="629.0" r="0.9"/><circle cx="35.6" cy="629.3" r="1.3"/><circle cx="39.1" cy="632.3" r="1.1"/><circle cx="42.2" cy="629.5" r="0.9"/><circle cx="52.3" cy="629.8" r="1.4"/><circle cx="63.2" cy="629.0" r="1.2"/><circle cx="64.5" cy="630.8" r="1.3"/><circle cx="68.9" cy="629.3" r="1.0"/><circle cx="71.8" cy="631.6" r="1.2"/><circle cx="76.5" cy="629.4" r="1.3"/><circle cx="78.8" cy="632.4" r="1.3"/><circle cx="85.2" cy="629.6" r="1.0"/><circle cx="89.1" cy="632.5" r="1.2"/><circle cx="93.5" cy="630.9" r="1.0"/><circle cx="97.3" cy="629.4" r="1.4"/><circle cx="97.4" cy="629.7" r="1.0"/><circle cx="126.9" cy="629.7" r="1.4"/><circle cx="127.5" cy="630.8" r="1.0"/><circle cx="131.6" cy="630.9" r="0.9"/><circle cx="135.8" cy="630.4" r="1.3"/><circle cx="140.0" cy="631.3" r="1.3"/><circle cx="145.7" cy="631.1" r="1.2"/><circle cx="146.2" cy="632.1" r="0.9"/><circle cx="-0.5" cy="633.4" r="1.4"/><circle cx="3.7" cy="635.8" r="0.9"/><circle cx="7.0" cy="635.8" r="1.4"/><circle cx="21.8" cy="634.2" r="1.3"/><circle cx="26.2" cy="635.1" r="1.0"/><circle cx="30.8" cy="635.5" r="1.2"/><circle cx="35.7" cy="634.3" r="1.2"/><circle cx="49.0" cy="632.9" r="1.3"/><circle cx="54.2" cy="635.1" r="1.2"/><circle cx="67.3" cy="636.2" r="1.3"/><circle cx="67.4" cy="633.3" r="1.2"/><circle cx="74.2" cy="632.8" r="0.9"/><circle cx="77.7" cy="633.1" r="1.3"/><circle cx="82.3" cy="635.7" r="1.0"/><circle cx="84.7" cy="634.8" r="1.2"/><circle cx="87.7" cy="634.1" r="1.2"/><circle cx="94.0" cy="634.6" r="1.3"/><circle cx="125.2" cy="636.4" r="1.4"/><circle cx="131.4" cy="634.6" r="0.9"/><circle cx="136.9" cy="635.3" r="1.2"/><circle cx="140.0" cy="633.3" r="1.4"/><circle cx="144.6" cy="634.8" r="1.4"/><circle cx="158.3" cy="636.1" r="0.9"/><circle cx="190.9" cy="635.5" r="1.2"/><circle cx="195.4" cy="634.0" r="1.0"/><circle cx="-2.6" cy="636.9" r="1.1"/><circle cx="0.3" cy="640.0" r="1.1"/><circle cx="4.0" cy="639.5" r="0.9"/><circle cx="13.0" cy="638.6" r="1.4"/><circle cx="19.3" cy="638.3" r="1.2"/><circle cx="23.4" cy="638.5" r="0.9"/><circle cx="26.6" cy="639.4" r="1.2"/><circle cx="32.4" cy="637.4" r="1.1"/><circle cx="36.5" cy="639.2" r="1.2"/><circle cx="38.4" cy="640.0" r="1.3"/><circle cx="46.9" cy="639.3" r="1.3"/><circle cx="49.8" cy="638.4" r="1.1"/><circle cx="55.7" cy="636.6" r="1.2"/><circle cx="62.6" cy="638.7" r="1.2"/><circle cx="64.7" cy="636.5" r="1.4"/><circle cx="69.1" cy="639.3" r="0.9"/><circle cx="73.2" cy="640.2" r="1.0"/><circle cx="78.2" cy="639.0" r="1.4"/><circle cx="80.8" cy="638.2" r="1.0"/><circle cx="85.5" cy="636.9" r="1.1"/><circle cx="87.7" cy="638.7" r="1.2"/><circle cx="90.0" cy="639.7" r="1.4"/><circle cx="98.0" cy="638.6" r="1.3"/><circle cx="123.2" cy="637.5" r="0.9"/><circle cx="132.2" cy="637.0" r="1.0"/><circle cx="136.5" cy="638.3" r="0.9"/><circle cx="138.5" cy="639.8" r="1.3"/><circle cx="145.6" cy="638.7" r="1.0"/><circle cx="146.7" cy="638.4" r="1.4"/><circle cx="158.6" cy="638.2" r="1.4"/><circle cx="196.4" cy="639.3" r="1.1"/><circle cx="-1.4" cy="643.6" r="1.4"/><circle cx="1.0" cy="641.8" r="1.1"/><circle cx="4.0" cy="641.6" r="1.1"/><circle cx="10.8" cy="643.5" r="1.4"/><circle cx="14.9" cy="640.2" r="1.4"/><circle cx="16.1" cy="641.6" r="1.4"/><circle cx="20.8" cy="642.4" r="1.4"/><circle cx="24.4" cy="642.3" r="1.1"/><circle cx="29.8" cy="642.6" r="0.9"/><circle cx="32.3" cy="640.4" r="1.0"/><circle cx="35.1" cy="641.0" r="1.1"/><circle cx="41.5" cy="643.4" r="1.0"/><circle cx="47.8" cy="641.6" r="0.9"/><circle cx="49.3" cy="643.7" r="1.1"/><circle cx="54.6" cy="640.5" r="1.4"/><circle cx="68.1" cy="641.2" r="1.2"/><circle cx="73.1" cy="642.0" r="1.0"/><circle cx="76.5" cy="642.7" r="1.0"/><circle cx="79.9" cy="642.0" r="1.2"/><circle cx="85.9" cy="641.1" r="1.4"/><circle cx="87.9" cy="641.5" r="1.2"/><circle cx="93.0" cy="641.6" r="1.3"/><circle cx="99.2" cy="641.3" r="1.1"/><circle cx="114.7" cy="643.6" r="0.9"/><circle cx="121.8" cy="641.4" r="1.4"/><circle cx="132.7" cy="643.3" r="1.2"/><circle cx="138.3" cy="640.4" r="1.2"/><circle cx="142.1" cy="642.5" r="0.9"/><circle cx="144.3" cy="640.8" r="1.4"/><circle cx="146.6" cy="641.0" r="1.2"/><circle cx="-3.2" cy="645.4" r="1.2"/><circle cx="1.2" cy="644.4" r="1.3"/><circle cx="4.4" cy="647.7" r="1.0"/><circle cx="7.5" cy="647.0" r="1.3"/><circle cx="13.1" cy="645.5" r="0.9"/><circle cx="17.8" cy="647.1" r="1.0"/><circle cx="21.9" cy="644.7" r="1.3"/><circle cx="26.2" cy="647.7" r="0.9"/><circle cx="26.2" cy="644.4" r="1.4"/><circle cx="32.8" cy="644.6" r="1.2"/><circle cx="34.3" cy="644.2" r="1.0"/><circle cx="42.9" cy="645.6" r="1.4"/><circle cx="53.5" cy="647.7" r="1.3"/><circle cx="60.6" cy="647.6" r="1.2"/><circle cx="66.5" cy="645.1" r="1.3"/><circle cx="70.3" cy="645.1" r="1.2"/><circle cx="72.8" cy="645.7" r="1.3"/><circle cx="75.4" cy="644.7" r="1.2"/><circle cx="79.4" cy="647.4" r="1.1"/><circle cx="85.2" cy="645.0" r="1.0"/><circle cx="88.7" cy="645.3" r="0.9"/><circle cx="91.0" cy="645.8" r="1.0"/><circle cx="98.7" cy="647.6" r="1.1"/><circle cx="102.4" cy="645.0" r="1.1"/><circle cx="106.8" cy="646.9" r="0.9"/><circle cx="115.6" cy="645.0" r="1.3"/><circle cx="117.1" cy="645.8" r="1.2"/><circle cx="121.4" cy="644.7" r="1.4"/><circle cx="126.9" cy="645.1" r="1.1"/><circle cx="131.0" cy="645.3" r="1.2"/><circle cx="136.0" cy="646.7" r="0.9"/><circle cx="141.9" cy="644.7" r="1.4"/><circle cx="142.8" cy="646.8" r="1.1"/><circle cx="169.1" cy="646.0" r="1.4"/><circle cx="189.1" cy="644.5" r="1.4"/><circle cx="194.5" cy="647.1" r="1.2"/></g>
<polygon points="55.9,524.0 57.0,526.3 59.3,529.9 58.0,532.7 55.4,534.6 51.8,534.0 49.2,533.6 47.0,533.7 44.4,535.5 41.7,535.0 40.1,532.6 39.1,530.3 37.7,528.5 37.4,526.2 35.8,524.0 36.7,521.6 35.7,518.6 38.6,517.3 39.0,514.0 41.5,512.6 43.8,510.0 47.0,510.0 49.6,512.4 51.2,515.4 53.6,515.7 55.6,517.2 58.3,518.5 55.6,522.0" fill="#fbf6fa" filter="url(#b2)"/>
<polygon points="121.2,520.0 119.9,523.0 121.9,527.2 121.0,531.1 118.1,534.0 114.8,536.1 110.4,534.7 107.0,536.5 104.1,532.9 99.9,534.7 96.1,533.7 93.5,530.8 95.2,525.7 93.1,523.2 94.3,520.0 92.1,516.6 91.9,512.7 95.2,510.6 96.2,506.4 101.6,508.7 103.2,503.5 107.0,502.2 111.5,500.4 115.1,503.2 117.8,506.4 119.4,510.2 120.7,513.4 120.0,517.0" fill="#fdfafc" filter="url(#b2)"/>
<polygon points="183.6,527.0 187.1,531.2 185.9,535.1 182.1,537.3 178.9,538.9 177.0,542.5 173.3,542.3 170.0,541.3 166.7,542.5 164.5,539.2 163.1,536.3 158.3,537.0 157.3,533.5 155.3,530.6 153.4,527.0 155.0,523.3 155.4,519.5 156.5,515.5 158.4,511.5 163.5,512.6 167.4,514.9 170.0,514.1 173.1,512.7 177.2,511.1 179.3,514.5 184.1,515.0 184.8,519.4 184.9,523.4" fill="#fdfafc" filter="url(#b2)"/>
<polygon points="7.9,540.0 8.7,543.1 7.4,545.2 6.3,546.8 6.2,550.5 5.2,553.2 4.0,557.3 2.0,555.6 0.2,555.4 -0.8,551.7 -2.3,550.8 -3.1,548.1 -3.2,545.0 -4.9,543.1 -5.6,540.0 -5.0,536.8 -3.8,534.4 -3.0,532.0 -1.8,530.5 -0.7,528.8 0.5,526.8 2.0,524.7 3.6,526.0 5.7,524.6 6.5,528.8 6.7,532.5 8.0,534.2 8.4,537.1" fill="#fbf5fa" filter="url(#b2)"/>
<polygon points="45.7,587.0 46.9,589.7 46.2,592.4 45.7,595.5 43.4,597.6 40.5,598.3 38.3,601.3 35.0,603.7 31.2,603.4 28.1,601.3 25.3,599.1 25.1,594.9 25.4,591.6 23.3,589.7 20.8,587.0 20.3,583.6 21.4,580.5 22.3,576.8 25.7,575.3 28.5,573.6 32.0,573.7 35.0,573.4 38.0,574.0 40.7,575.1 43.8,576.0 46.2,578.1 47.0,581.2 48.0,584.0" fill="#fdfafc" filter="url(#b2)"/>
<polygon points="95.9,575.0 97.2,577.7 97.0,580.7 95.7,583.3 94.6,586.6 91.5,587.3 88.3,585.9 86.0,586.6 83.4,587.1 79.9,588.7 78.1,585.7 74.5,584.9 72.4,582.1 71.3,578.6 72.0,575.0 73.2,571.9 77.4,570.5 76.7,567.0 77.3,563.2 80.0,561.5 83.4,562.7 86.0,564.7 88.2,564.5 91.9,561.8 96.5,560.8 99.8,563.2 98.7,568.4 97.6,572.1" fill="#fdfafc" filter="url(#b2)"/>
<polygon points="152.5,580.0 152.5,582.4 153.3,585.4 151.8,587.8 149.8,589.8 146.9,590.2 144.3,590.1 142.0,590.8 139.5,591.2 136.4,591.6 132.8,591.6 132.3,587.7 132.0,584.8 130.1,582.7 127.4,580.0 127.3,576.7 128.6,573.5 132.3,572.3 137.3,574.1 138.1,571.8 139.9,570.7 142.0,567.0 145.2,566.1 148.1,567.4 149.2,571.0 151.6,572.4 152.8,574.8 155.5,576.9" fill="#f8f0f6" filter="url(#b2)"/>
<polygon points="122.3,633.0 121.7,634.9 121.1,636.7 121.6,639.5 119.9,641.4 118.4,644.2 115.3,645.3 112.0,644.1 109.1,643.6 106.3,643.1 104.6,640.9 101.7,639.9 101.3,637.3 99.8,635.4 99.2,633.0 99.1,630.5 101.4,628.7 104.0,627.6 104.3,624.8 106.1,622.6 108.5,620.2 112.0,621.6 114.2,624.7 116.7,624.7 121.4,623.0 123.1,625.5 126.6,627.1 125.7,630.4" fill="#fdfafc" filter="url(#b2)"/>
<polygon points="197.0,556.0 194.0,561.0 183.0,567.0 178.0,579.0 175.0,596.0 170.0,614.0 163.0,631.0 160.0,646.0 184.0,646.0 184.0,626.0 191.0,607.0 197.0,600.0" fill="#fbf5fa" filter="url(#b1)"/>
<polygon points="19.1,499.0 18.8,499.7 17.9,500.3 14.6,500.6 12.7,501.1 10.1,501.3 8.2,502.0 5.0,502.3 1.5,502.2 -1.5,501.9 -5.0,501.7 -6.5,501.0 -8.6,500.4 -6.8,499.6 -6.5,499.0 -4.2,498.6 -4.7,498.0 -6.0,497.1 -5.0,496.3 -2.9,495.5 2.2,496.3 5.0,496.4 7.4,496.8 11.8,496.0 14.3,496.5 18.8,496.6 17.3,497.7 16.7,498.4" fill="#f8eef6" opacity="0.9" filter="url(#b1)"/>
</g>
<g clip-path="url(#cp1)">
<rect x="201" y="498" width="195" height="146" fill="#e096d6"/>
<ellipse cx="208" cy="618" rx="9" ry="28" fill="#eab0e0" opacity="0.9" filter="url(#b2)"/>
<ellipse cx="270" cy="569" rx="16" ry="7" fill="#f6e6f2" opacity="0.95" filter="url(#b2)"/>
<ellipse cx="283" cy="530" rx="36" ry="34" fill="none" stroke="#e8b8e2" stroke-width="1.3"/>
<ellipse cx="326" cy="563" rx="56" ry="41" transform="rotate(-55 326 563)" fill="none" stroke="#e8b8e2" stroke-width="1.3"/>
<ellipse cx="222" cy="560" rx="24" ry="34" fill="none" stroke="#e8b8e2" stroke-width="1.3"/>
<ellipse cx="255" cy="615" rx="42" ry="32" fill="none" stroke="#e8b8e2" stroke-width="1.3"/>
<ellipse cx="358" cy="620" rx="40" ry="30" fill="none" stroke="#e8b8e2" stroke-width="1.3"/>
<ellipse cx="378" cy="525" rx="24" ry="30" fill="none" stroke="#e8b8e2" stroke-width="1.3"/>
<ellipse cx="225" cy="510" rx="28" ry="16" fill="none" stroke="#e8b8e2" stroke-width="1.3"/>
<g fill="#55206f" opacity="0.85"><circle cx="197.6" cy="496.6" r="1.3"/><circle cx="211.8" cy="497.2" r="1.1"/><circle cx="212.7" cy="495.9" r="1.3"/><circle cx="216.4" cy="497.1" r="1.1"/><circle cx="222.1" cy="497.5" r="1.3"/><circle cx="225.6" cy="497.2" r="0.9"/><circle cx="227.9" cy="496.5" r="1.0"/><circle cx="230.9" cy="495.9" r="1.1"/><circle cx="235.5" cy="495.7" r="0.9"/><circle cx="239.1" cy="496.2" r="1.3"/><circle cx="273.4" cy="494.3" r="1.4"/><circle cx="279.0" cy="497.4" r="1.1"/><circle cx="284.7" cy="497.0" r="1.4"/><circle cx="313.7" cy="496.2" r="1.3"/><circle cx="317.1" cy="496.1" r="1.3"/><circle cx="326.2" cy="497.1" r="1.1"/><circle cx="345.9" cy="496.5" r="1.1"/><circle cx="356.0" cy="496.1" r="1.0"/><circle cx="368.1" cy="495.6" r="1.2"/><circle cx="372.7" cy="496.1" r="1.1"/><circle cx="384.2" cy="497.2" r="1.0"/><circle cx="205.2" cy="500.5" r="1.2"/><circle cx="208.7" cy="499.5" r="1.3"/><circle cx="215.0" cy="498.8" r="0.9"/><circle cx="216.5" cy="501.5" r="1.2"/><circle cx="223.2" cy="500.9" r="1.1"/><circle cx="225.0" cy="498.6" r="1.2"/><circle cx="230.1" cy="499.8" r="1.0"/><circle cx="231.4" cy="500.7" r="1.1"/><circle cx="238.3" cy="499.4" r="1.0"/><circle cx="239.5" cy="498.9" r="1.1"/><circle cx="243.9" cy="501.1" r="1.2"/><circle cx="247.8" cy="501.5" r="1.4"/><circle cx="267.8" cy="498.8" r="1.2"/><circle cx="268.6" cy="501.5" r="1.0"/><circle cx="272.3" cy="499.8" r="0.9"/><circle cx="278.5" cy="499.9" r="1.4"/><circle cx="282.8" cy="499.6" r="1.2"/><circle cx="284.9" cy="499.7" r="0.9"/><circle cx="287.5" cy="500.4" r="1.4"/><circle cx="291.8" cy="498.8" r="0.9"/><circle cx="297.6" cy="499.3" r="1.0"/><circle cx="302.1" cy="501.5" r="1.1"/><circle cx="315.7" cy="501.1" r="1.0"/><circle cx="367.7" cy="498.5" r="1.0"/><circle cx="369.9" cy="500.7" r="1.3"/><circle cx="374.7" cy="500.1" r="1.4"/><circle cx="377.5" cy="498.4" r="0.9"/><circle cx="383.6" cy="499.3" r="0.9"/><circle cx="385.4" cy="499.4" r="1.0"/><circle cx="389.2" cy="500.7" r="1.2"/><circle cx="398.4" cy="498.9" r="0.9"/><circle cx="203.2" cy="504.2" r="1.1"/><circle cx="206.5" cy="504.6" r="1.0"/><circle cx="210.3" cy="503.3" r="1.1"/><circle cx="215.8" cy="502.5" r="0.9"/><circle cx="219.0" cy="502.1" r="1.1"/><circle cx="223.1" cy="502.2" r="1.3"/><circle cx="230.2" cy="502.7" r="1.2"/><circle cx="237.6" cy="504.0" r="1.4"/><circle cx="241.4" cy="502.4" r="1.1"/><circle cx="245.8" cy="502.9" r="1.0"/><circle cx="248.6" cy="505.0" r="1.2"/><circle cx="259.1" cy="503.5" r="1.4"/><circle cx="263.4" cy="505.0" r="1.1"/><circle cx="266.5" cy="502.1" r="1.2"/><circle cx="269.7" cy="504.9" r="1.3"/><circle cx="274.3" cy="502.6" r="1.2"/><circle cx="276.8" cy="503.5" r="1.3"/><circle cx="281.2" cy="502.6" r="1.3"/><circle cx="284.1" cy="501.8" r="1.4"/><circle cx="287.4" cy="504.7" r="1.3"/><circle cx="290.9" cy="503.2" r="1.4"/><circle cx="298.3" cy="504.4" r="1.3"/><circle cx="298.8" cy="505.4" r="1.1"/><circle cx="302.1" cy="502.0" r="1.0"/><circle cx="319.6" cy="503.9" r="1.0"/><circle cx="349.1" cy="504.2" r="1.0"/><circle cx="354.7" cy="503.6" r="1.0"/><circle cx="361.2" cy="505.4" r="1.2"/><circle cx="362.6" cy="503.3" r="0.9"/><circle cx="367.1" cy="502.7" r="0.9"/><circle cx="372.2" cy="503.0" r="1.0"/><circle cx="375.8" cy="503.1" r="0.9"/><circle cx="380.6" cy="502.7" r="1.0"/><circle cx="380.7" cy="503.8" r="1.3"/><circle cx="385.2" cy="501.9" r="1.2"/><circle cx="390.5" cy="504.4" r="1.4"/><circle cx="394.9" cy="504.5" r="1.0"/><circle cx="198.7" cy="506.3" r="0.9"/><circle cx="202.7" cy="508.3" r="1.0"/><circle cx="206.7" cy="506.2" r="1.3"/><circle cx="209.4" cy="505.7" r="0.9"/><circle cx="215.4" cy="509.1" r="1.2"/><circle cx="218.2" cy="506.8" r="1.2"/><circle cx="222.9" cy="506.6" r="1.1"/><circle cx="223.6" cy="506.7" r="1.4"/><circle cx="234.6" cy="508.8" r="1.0"/><circle cx="237.3" cy="508.3" r="1.3"/><circle cx="240.8" cy="508.5" r="1.4"/><circle cx="245.5" cy="506.4" r="1.0"/><circle cx="249.1" cy="508.6" r="0.9"/><circle cx="250.4" cy="507.5" r="1.1"/><circle cx="257.0" cy="508.9" r="1.0"/><circle cx="260.1" cy="507.6" r="1.4"/><circle cx="261.6" cy="505.8" r="1.3"/><circle cx="265.0" cy="507.6" r="1.4"/><circle cx="290.3" cy="506.2" r="1.1"/><circle cx="298.2" cy="507.3" r="0.9"/><circle cx="300.3" cy="509.0" r="1.2"/><circle cx="305.1" cy="507.2" r="1.3"/><circle cx="306.5" cy="506.8" r="0.9"/><circle cx="310.4" cy="508.6" r="1.1"/><circle cx="350.4" cy="508.8" r="0.9"/><circle cx="359.0" cy="507.4" r="1.2"/><circle cx="362.5" cy="507.1" r="1.4"/><circle cx="368.0" cy="506.7" r="1.3"/><circle cx="371.2" cy="507.6" r="1.1"/><circle cx="374.9" cy="508.6" r="0.9"/><circle cx="378.9" cy="506.3" r="0.9"/><circle cx="382.4" cy="507.1" r="1.3"/><circle cx="384.6" cy="506.6" r="1.0"/><circle cx="391.7" cy="506.8" r="1.4"/><circle cx="393.8" cy="506.4" r="1.4"/><circle cx="398.7" cy="506.6" r="1.4"/><circle cx="198.4" cy="509.5" r="1.3"/><circle cx="202.4" cy="512.2" r="1.3"/><circle cx="208.0" cy="511.4" r="1.3"/><circle cx="209.4" cy="512.3" r="1.1"/><circle cx="214.9" cy="509.4" r="1.2"/><circle cx="219.4" cy="509.5" r="1.3"/><circle cx="223.7" cy="512.5" r="1.0"/><circle cx="232.1" cy="512.2" r="1.0"/><circle cx="238.8" cy="510.9" r="1.1"/><circle cx="243.2" cy="511.2" r="1.3"/><circle cx="248.9" cy="509.4" r="1.1"/><circle cx="252.4" cy="512.5" r="1.4"/><circle cx="254.6" cy="509.4" r="1.2"/><circle cx="260.7" cy="512.2" r="1.3"/><circle cx="264.2" cy="511.2" r="1.2"/><circle cx="267.8" cy="511.9" r="0.9"/><circle cx="273.8" cy="509.4" r="1.2"/><circle cx="299.2" cy="509.3" r="1.0"/><circle cx="304.5" cy="509.5" r="1.3"/><circle cx="305.9" cy="511.5" r="1.1"/><circle cx="311.1" cy="510.5" r="1.4"/><circle cx="317.4" cy="511.0" r="1.3"/><circle cx="326.8" cy="511.2" r="1.1"/><circle cx="343.7" cy="511.8" r="1.4"/><circle cx="347.9" cy="510.0" r="1.3"/><circle cx="358.6" cy="512.5" r="1.1"/><circle cx="362.3" cy="511.1" r="1.4"/><circle cx="365.9" cy="510.6" r="1.0"/><circle cx="371.3" cy="509.5" r="1.2"/><circle cx="376.0" cy="510.5" r="1.1"/><circle cx="379.5" cy="512.9" r="1.3"/><circle cx="383.6" cy="510.2" r="1.2"/><circle cx="392.8" cy="510.1" r="1.4"/><circle cx="398.9" cy="511.2" r="1.1"/><circle cx="200.1" cy="513.1" r="1.2"/><circle cx="203.1" cy="516.2" r="1.2"/><circle cx="208.3" cy="513.9" r="1.0"/><circle cx="211.4" cy="515.4" r="0.9"/><circle cx="213.5" cy="514.6" r="1.4"/><circle cx="218.0" cy="513.3" r="1.4"/><circle cx="220.0" cy="514.6" r="1.2"/><circle cx="224.2" cy="513.1" r="1.2"/><circle cx="228.8" cy="516.1" r="1.2"/><circle cx="234.4" cy="513.1" r="1.0"/><circle cx="239.4" cy="516.6" r="1.0"/><circle cx="244.6" cy="513.4" r="1.1"/><circle cx="248.4" cy="516.0" r="1.0"/><circle cx="251.8" cy="516.6" r="0.9"/><circle cx="253.5" cy="514.7" r="1.4"/><circle cx="259.7" cy="513.8" r="1.0"/><circle cx="262.5" cy="515.9" r="1.2"/><circle cx="294.3" cy="514.6" r="1.1"/><circle cx="297.8" cy="514.1" r="1.3"/><circle cx="299.7" cy="514.6" r="1.4"/><circle cx="303.9" cy="514.7" r="1.1"/><circle cx="307.1" cy="513.7" r="1.1"/><circle cx="311.9" cy="513.2" r="1.4"/><circle cx="313.3" cy="514.7" r="0.9"/><circle cx="320.3" cy="516.6" r="1.0"/><circle cx="329.5" cy="516.1" r="1.3"/><circle cx="332.1" cy="515.2" r="1.4"/><circle cx="339.4" cy="516.0" r="1.1"/><circle cx="341.7" cy="514.6" r="1.4"/><circle cx="345.7" cy="513.5" r="1.2"/><circle cx="350.3" cy="514.2" r="1.3"/><circle cx="353.0" cy="514.8" r="1.0"/><circle cx="360.9" cy="514.5" r="1.4"/><circle cx="371.4" cy="516.5" r="0.9"/><circle cx="374.6" cy="515.6" r="1.2"/><circle cx="377.7" cy="515.5" r="1.3"/><circle cx="391.2" cy="515.1" r="1.1"/><circle cx="394.3" cy="516.0" r="1.1"/><circle cx="397.5" cy="513.6" r="1.2"/><circle cx="207.0" cy="517.0" r="1.3"/><circle cx="209.9" cy="519.2" r="1.3"/><circle cx="214.1" cy="517.1" r="1.0"/><circle cx="217.4" cy="518.7" r="1.0"/><circle cx="220.4" cy="518.7" r="0.9"/><circle cx="225.3" cy="518.3" r="1.2"/><circle cx="227.5" cy="518.4" r="0.9"/><circle cx="234.2" cy="520.1" r="1.3"/><circle cx="237.0" cy="518.6" r="1.0"/><circle cx="241.7" cy="518.4" r="1.1"/><circle cx="243.1" cy="519.1" r="1.1"/><circle cx="246.7" cy="517.0" r="0.9"/><circle cx="252.8" cy="518.4" r="1.0"/><circle cx="256.8" cy="517.6" r="0.9"/><circle cx="263.1" cy="519.5" r="1.3"/><circle cx="268.6" cy="517.8" r="1.0"/><circle cx="296.2" cy="518.4" r="1.3"/><circle cx="299.2" cy="517.9" r="0.9"/><circle cx="305.1" cy="516.7" r="1.4"/><circle cx="308.7" cy="516.8" r="1.1"/><circle cx="309.6" cy="517.6" r="1.4"/><circle cx="313.5" cy="519.3" r="1.2"/><circle cx="317.1" cy="519.5" r="0.9"/><circle cx="324.4" cy="519.9" r="1.1"/><circle cx="324.5" cy="517.4" r="1.1"/><circle cx="329.2" cy="517.0" r="1.0"/><circle cx="332.2" cy="517.2" r="1.1"/><circle cx="336.1" cy="520.0" r="1.0"/><circle cx="339.6" cy="519.8" r="1.2"/><circle cx="345.1" cy="519.9" r="1.3"/><circle cx="348.9" cy="519.3" r="1.4"/><circle cx="352.6" cy="516.8" r="1.4"/><circle cx="355.5" cy="517.2" r="1.1"/><circle cx="360.3" cy="518.1" r="1.0"/><circle cx="372.8" cy="517.2" r="1.3"/><circle cx="373.7" cy="520.0" r="1.2"/><circle cx="377.9" cy="518.8" r="0.9"/><circle cx="386.1" cy="519.9" r="1.0"/><circle cx="389.5" cy="516.8" r="1.3"/><circle cx="393.6" cy="519.2" r="1.4"/><circle cx="399.1" cy="518.0" r="1.1"/><circle cx="207.8" cy="522.9" r="1.0"/><circle cx="209.4" cy="520.9" r="1.3"/><circle cx="215.0" cy="522.1" r="1.2"/><circle cx="218.5" cy="522.1" r="1.2"/><circle cx="221.9" cy="521.0" r="1.2"/><circle cx="226.3" cy="521.5" r="1.3"/><circle cx="229.5" cy="522.3" r="1.1"/><circle cx="232.1" cy="522.2" r="0.9"/><circle cx="238.4" cy="520.5" r="1.1"/><circle cx="242.1" cy="521.7" r="1.1"/><circle cx="250.0" cy="523.5" r="1.4"/><circle cx="256.9" cy="521.6" r="1.3"/><circle cx="297.1" cy="523.0" r="1.4"/><circle cx="300.6" cy="521.8" r="1.0"/><circle cx="302.2" cy="521.5" r="0.9"/><circle cx="306.0" cy="520.8" r="0.9"/><circle cx="310.7" cy="520.9" r="1.2"/><circle cx="314.7" cy="523.0" r="1.2"/><circle cx="318.1" cy="522.1" r="0.9"/><circle cx="324.5" cy="521.4" r="1.2"/><circle cx="324.7" cy="520.8" r="1.0"/><circle cx="329.6" cy="521.7" r="1.3"/><circle cx="339.0" cy="522.1" r="1.2"/><circle cx="343.2" cy="520.8" r="1.3"/><circle cx="345.3" cy="520.9" r="1.0"/><circle cx="350.4" cy="522.2" r="1.2"/><circle cx="351.8" cy="521.6" r="1.4"/><circle cx="356.6" cy="522.9" r="1.1"/><circle cx="361.1" cy="522.7" r="1.3"/><circle cx="365.2" cy="520.6" r="0.9"/><circle cx="376.0" cy="523.7" r="0.9"/><circle cx="381.9" cy="521.0" r="0.9"/><circle cx="387.2" cy="522.5" r="1.3"/><circle cx="389.6" cy="521.2" r="1.3"/><circle cx="395.0" cy="523.1" r="1.4"/><circle cx="395.6" cy="521.0" r="1.2"/><circle cx="219.4" cy="524.7" r="1.1"/><circle cx="220.4" cy="524.7" r="0.9"/><circle cx="225.7" cy="526.2" r="1.3"/><circle cx="232.8" cy="524.6" r="0.9"/><circle cx="238.0" cy="525.1" r="1.1"/><circle cx="239.7" cy="527.1" r="1.0"/><circle cx="249.3" cy="527.7" r="0.9"/><circle cx="252.0" cy="524.8" r="1.2"/><circle cx="256.9" cy="526.3" r="0.9"/><circle cx="260.0" cy="525.5" r="1.2"/><circle cx="263.4" cy="526.5" r="1.4"/><circle cx="270.8" cy="525.2" r="1.4"/><circle cx="302.7" cy="524.7" r="1.4"/><circle cx="306.9" cy="527.1" r="0.9"/><circle cx="312.2" cy="525.3" r="1.1"/><circle cx="313.4" cy="527.5" r="1.4"/><circle cx="320.7" cy="527.5" r="1.4"/><circle cx="320.9" cy="525.6" r="0.9"/><circle cx="327.1" cy="527.3" r="0.9"/><circle cx="338.4" cy="524.3" r="1.1"/><circle cx="344.8" cy="525.5" r="0.9"/><circle cx="348.5" cy="525.4" r="1.4"/><circle cx="352.8" cy="526.9" r="1.0"/><circle cx="355.5" cy="524.9" r="1.0"/><circle cx="358.7" cy="527.3" r="1.4"/><circle cx="366.6" cy="527.5" r="1.2"/><circle cx="380.2" cy="526.1" r="1.1"/><circle cx="381.3" cy="526.5" r="1.1"/><circle cx="387.9" cy="525.3" r="1.2"/><circle cx="390.4" cy="527.4" r="1.0"/><circle cx="392.5" cy="524.7" r="1.3"/><circle cx="398.7" cy="524.9" r="1.0"/><circle cx="213.8" cy="528.6" r="1.0"/><circle cx="218.0" cy="529.2" r="1.0"/><circle cx="222.4" cy="531.2" r="1.4"/><circle cx="225.2" cy="528.3" r="1.0"/><circle cx="227.5" cy="530.7" r="1.2"/><circle cx="248.1" cy="528.0" r="0.9"/><circle cx="251.3" cy="529.3" r="1.0"/><circle cx="254.1" cy="529.9" r="1.4"/><circle cx="258.7" cy="528.9" r="0.9"/><circle cx="264.1" cy="530.9" r="1.4"/><circle cx="266.5" cy="530.2" r="1.3"/><circle cx="269.2" cy="529.3" r="1.2"/><circle cx="297.5" cy="531.1" r="0.9"/><circle cx="301.7" cy="528.6" r="1.1"/><circle cx="303.4" cy="529.1" r="1.1"/><circle cx="308.9" cy="528.1" r="1.4"/><circle cx="312.6" cy="528.0" r="1.0"/><circle cx="320.7" cy="528.0" r="1.1"/><circle cx="326.2" cy="531.6" r="1.1"/><circle cx="338.0" cy="529.4" r="1.1"/><circle cx="342.6" cy="528.3" r="1.4"/><circle cx="343.3" cy="529.1" r="1.2"/><circle cx="350.1" cy="530.0" r="1.4"/><circle cx="351.4" cy="531.0" r="0.9"/><circle cx="356.9" cy="529.4" r="0.9"/><circle cx="358.6" cy="528.2" r="1.0"/><circle cx="368.6" cy="529.4" r="1.0"/><circle cx="373.6" cy="528.8" r="0.9"/><circle cx="380.3" cy="531.1" r="0.9"/><circle cx="382.0" cy="529.2" r="1.1"/><circle cx="384.9" cy="528.2" r="0.9"/><circle cx="388.9" cy="529.5" r="0.9"/><circle cx="394.0" cy="530.1" r="1.3"/><circle cx="397.6" cy="528.7" r="1.2"/><circle cx="197.8" cy="533.5" r="1.0"/><circle cx="211.9" cy="533.4" r="1.4"/><circle cx="212.6" cy="534.8" r="1.2"/><circle cx="217.8" cy="532.5" r="1.4"/><circle cx="223.0" cy="533.2" r="1.3"/><circle cx="224.9" cy="534.7" r="1.1"/><circle cx="230.6" cy="533.0" r="1.4"/><circle cx="233.9" cy="532.5" r="0.9"/><circle cx="251.7" cy="534.4" r="0.9"/><circle cx="253.4" cy="531.7" r="1.4"/><circle cx="258.7" cy="532.7" r="1.1"/><circle cx="261.8" cy="532.5" r="1.1"/><circle cx="268.3" cy="533.3" r="0.9"/><circle cx="271.0" cy="533.7" r="1.4"/><circle cx="273.2" cy="532.4" r="1.4"/><circle cx="292.9" cy="534.9" r="1.3"/><circle cx="297.2" cy="534.9" r="1.0"/><circle cx="299.7" cy="534.4" r="1.4"/><circle cx="304.7" cy="535.4" r="1.2"/><circle cx="308.7" cy="535.3" r="1.4"/><circle cx="313.0" cy="533.1" r="0.9"/><circle cx="315.8" cy="533.3" r="1.0"/><circle cx="321.3" cy="533.3" r="0.9"/><circle cx="324.8" cy="532.1" r="1.0"/><circle cx="333.9" cy="534.9" r="1.4"/><circle cx="336.6" cy="533.1" r="1.1"/><circle cx="351.0" cy="535.0" r="1.0"/><circle cx="355.6" cy="532.6" r="1.0"/><circle cx="360.0" cy="532.7" r="1.4"/><circle cx="362.1" cy="532.1" r="1.0"/><circle cx="369.3" cy="534.7" r="1.4"/><circle cx="369.6" cy="531.8" r="1.3"/><circle cx="383.5" cy="533.8" r="0.9"/><circle cx="391.4" cy="534.4" r="1.1"/><circle cx="395.5" cy="533.6" r="1.2"/><circle cx="397.7" cy="534.1" r="1.1"/><circle cx="204.6" cy="536.5" r="0.9"/><circle cx="205.2" cy="536.3" r="0.9"/><circle cx="211.9" cy="537.6" r="1.4"/><circle cx="213.3" cy="537.0" r="1.4"/><circle cx="218.9" cy="536.5" r="0.9"/><circle cx="220.1" cy="537.5" r="0.9"/><circle cx="227.1" cy="536.7" r="1.4"/><circle cx="227.8" cy="538.6" r="1.0"/><circle cx="234.0" cy="536.3" r="0.9"/><circle cx="234.9" cy="536.0" r="1.0"/><circle cx="239.3" cy="536.8" r="1.2"/><circle cx="251.0" cy="538.9" r="0.9"/><circle cx="254.0" cy="538.3" r="0.9"/><circle cx="261.4" cy="536.9" r="1.2"/><circle cx="273.2" cy="536.6" r="1.4"/><circle cx="286.3" cy="537.7" r="1.1"/><circle cx="291.5" cy="539.0" r="1.3"/><circle cx="299.2" cy="537.9" r="1.4"/><circle cx="302.5" cy="535.8" r="0.9"/><circle cx="306.2" cy="537.0" r="1.1"/><circle cx="309.8" cy="535.9" r="1.2"/><circle cx="314.3" cy="537.5" r="1.4"/><circle cx="324.8" cy="536.7" r="1.0"/><circle cx="336.5" cy="535.6" r="1.4"/><circle cx="339.6" cy="537.1" r="1.3"/><circle cx="357.8" cy="535.5" r="1.0"/><circle cx="360.8" cy="537.3" r="1.3"/><circle cx="362.7" cy="537.7" r="0.9"/><circle cx="372.8" cy="538.5" r="0.9"/><circle cx="374.4" cy="535.5" r="1.3"/><circle cx="377.0" cy="539.0" r="1.4"/><circle cx="391.8" cy="535.5" r="0.9"/><circle cx="394.0" cy="536.9" r="1.3"/><circle cx="398.0" cy="538.5" r="1.0"/><circle cx="206.1" cy="542.8" r="1.0"/><circle cx="209.4" cy="542.2" r="1.0"/><circle cx="225.7" cy="541.1" r="0.9"/><circle cx="230.5" cy="541.1" r="0.9"/><circle cx="231.6" cy="540.6" r="1.2"/><circle cx="235.2" cy="540.0" r="0.9"/><circle cx="240.6" cy="542.3" r="1.2"/><circle cx="249.0" cy="539.8" r="0.9"/><circle cx="249.8" cy="541.2" r="1.4"/><circle cx="255.8" cy="541.0" r="1.4"/><circle cx="258.9" cy="539.3" r="1.4"/><circle cx="261.1" cy="541.7" r="0.9"/><circle cx="265.6" cy="539.6" r="1.1"/><circle cx="272.2" cy="540.6" r="1.2"/><circle cx="277.2" cy="541.8" r="0.9"/><circle cx="282.5" cy="540.2" r="1.3"/><circle cx="284.7" cy="539.7" r="0.9"/><circle cx="289.1" cy="539.2" r="1.3"/><circle cx="295.0" cy="540.1" r="1.3"/><circle cx="299.7" cy="539.3" r="0.9"/><circle cx="307.1" cy="541.4" r="1.1"/><circle cx="312.6" cy="539.8" r="1.0"/><circle cx="314.6" cy="540.2" r="1.0"/><circle cx="319.3" cy="540.5" r="1.0"/><circle cx="325.5" cy="540.3" r="1.2"/><circle cx="329.3" cy="541.7" r="1.2"/><circle cx="336.7" cy="542.4" r="1.2"/><circle cx="342.0" cy="539.2" r="1.1"/><circle cx="343.8" cy="542.0" r="1.1"/><circle cx="353.7" cy="541.1" r="1.4"/><circle cx="356.0" cy="542.7" r="1.1"/><circle cx="361.5" cy="539.5" r="1.3"/><circle cx="364.1" cy="539.3" r="1.3"/><circle cx="367.3" cy="540.4" r="1.3"/><circle cx="369.6" cy="542.0" r="1.1"/><circle cx="382.7" cy="540.2" r="1.1"/><circle cx="387.5" cy="542.0" r="1.3"/><circle cx="391.1" cy="540.2" r="1.2"/><circle cx="392.1" cy="541.9" r="1.1"/><circle cx="398.9" cy="540.0" r="1.4"/><circle cx="201.2" cy="545.8" r="1.1"/><circle cx="208.1" cy="543.2" r="1.4"/><circle cx="210.3" cy="545.1" r="1.4"/><circle cx="216.4" cy="543.5" r="1.3"/><circle cx="224.8" cy="544.4" r="1.2"/><circle cx="227.8" cy="544.5" r="1.4"/><circle cx="231.7" cy="546.1" r="1.1"/><circle cx="236.1" cy="546.2" r="0.9"/><circle cx="239.9" cy="543.2" r="1.0"/><circle cx="252.0" cy="546.5" r="1.4"/><circle cx="254.0" cy="544.9" r="1.1"/><circle cx="260.6" cy="546.4" r="1.4"/><circle cx="265.8" cy="546.6" r="1.0"/><circle cx="270.7" cy="546.2" r="1.0"/><circle cx="272.2" cy="543.6" r="1.0"/><circle cx="276.3" cy="545.4" r="1.4"/><circle cx="286.8" cy="546.2" r="0.9"/><circle cx="287.4" cy="542.9" r="1.1"/><circle cx="293.5" cy="544.4" r="1.1"/><circle cx="297.1" cy="545.2" r="1.1"/><circle cx="301.0" cy="543.6" r="1.3"/><circle cx="305.2" cy="544.0" r="1.0"/><circle cx="308.7" cy="545.7" r="1.1"/><circle cx="311.1" cy="544.7" r="0.9"/><circle cx="317.0" cy="545.9" r="1.0"/><circle cx="323.8" cy="542.9" r="1.1"/><circle cx="336.5" cy="543.3" r="1.1"/><circle cx="343.2" cy="546.6" r="1.0"/><circle cx="348.7" cy="545.2" r="1.0"/><circle cx="351.2" cy="543.5" r="1.1"/><circle cx="354.6" cy="544.5" r="1.3"/><circle cx="361.7" cy="544.5" r="1.2"/><circle cx="364.1" cy="544.5" r="1.4"/><circle cx="366.6" cy="544.3" r="0.9"/><circle cx="372.0" cy="543.6" r="1.3"/><circle cx="377.6" cy="545.2" r="1.4"/><circle cx="383.9" cy="544.9" r="1.0"/><circle cx="387.9" cy="543.3" r="1.2"/><circle cx="388.3" cy="546.4" r="1.4"/><circle cx="393.6" cy="545.4" r="1.3"/><circle cx="203.9" cy="550.3" r="1.4"/><circle cx="207.3" cy="547.2" r="1.0"/><circle cx="220.0" cy="548.5" r="1.0"/><circle cx="226.1" cy="550.1" r="1.0"/><circle cx="227.9" cy="548.2" r="1.1"/><circle cx="233.0" cy="550.0" r="0.9"/><circle cx="236.6" cy="548.7" r="1.0"/><circle cx="239.8" cy="547.9" r="1.4"/><circle cx="243.8" cy="548.0" r="0.9"/><circle cx="254.7" cy="549.8" r="1.0"/><circle cx="257.7" cy="548.5" r="1.1"/><circle cx="263.4" cy="549.3" r="1.1"/><circle cx="267.0" cy="549.7" r="1.2"/><circle cx="269.6" cy="550.2" r="1.4"/><circle cx="275.1" cy="548.7" r="1.0"/><circle cx="282.7" cy="549.1" r="1.4"/><circle cx="285.3" cy="549.0" r="1.4"/><circle cx="287.2" cy="548.2" r="1.4"/><circle cx="292.9" cy="548.7" r="1.2"/><circle cx="300.0" cy="548.3" r="1.2"/><circle cx="305.0" cy="549.5" r="1.0"/><circle cx="311.5" cy="547.6" r="0.9"/><circle cx="315.5" cy="548.7" r="1.2"/><circle cx="346.6" cy="547.3" r="1.4"/><circle cx="353.6" cy="546.9" r="1.2"/><circle cx="363.7" cy="549.5" r="1.1"/><circle cx="367.3" cy="550.4" r="1.3"/><circle cx="370.6" cy="548.2" r="1.3"/><circle cx="375.5" cy="549.5" r="0.9"/><circle cx="378.2" cy="547.7" r="1.0"/><circle cx="381.9" cy="549.9" r="1.1"/><circle cx="386.5" cy="547.8" r="1.3"/><circle cx="389.5" cy="549.3" r="1.1"/><circle cx="199.7" cy="552.4" r="1.4"/><circle cx="225.8" cy="553.6" r="1.2"/><circle cx="231.4" cy="552.0" r="1.2"/><circle cx="237.7" cy="551.0" r="1.1"/><circle cx="241.7" cy="552.5" r="1.0"/><circle cx="243.7" cy="551.8" r="1.0"/><circle cx="252.8" cy="552.5" r="1.4"/><circle cx="256.7" cy="552.9" r="0.9"/><circle cx="259.4" cy="553.9" r="0.9"/><circle cx="262.0" cy="553.7" r="1.4"/><circle cx="267.1" cy="552.6" r="1.2"/><circle cx="270.1" cy="553.7" r="1.3"/><circle cx="279.6" cy="552.5" r="1.1"/><circle cx="288.6" cy="553.6" r="1.3"/><circle cx="301.9" cy="552.1" r="1.2"/><circle cx="306.5" cy="550.8" r="1.3"/><circle cx="311.3" cy="553.0" r="1.3"/><circle cx="316.3" cy="550.4" r="1.0"/><circle cx="330.5" cy="552.8" r="0.9"/><circle cx="333.6" cy="553.2" r="1.2"/><circle cx="343.0" cy="551.0" r="1.1"/><circle cx="343.5" cy="550.8" r="1.1"/><circle cx="349.2" cy="551.4" r="1.0"/><circle cx="364.4" cy="553.9" r="0.9"/><circle cx="367.3" cy="550.5" r="1.3"/><circle cx="369.8" cy="552.1" r="1.1"/><circle cx="375.2" cy="550.5" r="0.9"/><circle cx="380.4" cy="553.7" r="1.4"/><circle cx="381.4" cy="554.1" r="1.1"/><circle cx="199.6" cy="555.1" r="1.2"/><circle cx="225.2" cy="556.4" r="1.0"/><circle cx="228.4" cy="555.9" r="1.4"/><circle cx="237.8" cy="556.4" r="1.2"/><circle cx="239.1" cy="557.4" r="1.2"/><circle cx="243.8" cy="557.2" r="1.2"/><circle cx="260.3" cy="555.0" r="1.4"/><circle cx="263.1" cy="555.9" r="1.0"/><circle cx="266.7" cy="557.7" r="1.0"/><circle cx="270.7" cy="556.7" r="1.2"/><circle cx="274.0" cy="557.3" r="0.9"/><circle cx="280.6" cy="557.4" r="1.0"/><circle cx="289.4" cy="555.0" r="1.2"/><circle cx="294.2" cy="556.5" r="0.9"/><circle cx="299.4" cy="554.5" r="1.4"/><circle cx="311.5" cy="557.6" r="1.1"/><circle cx="321.8" cy="557.0" r="1.4"/><circle cx="330.1" cy="554.3" r="1.4"/><circle cx="332.4" cy="554.3" r="1.3"/><circle cx="342.1" cy="557.6" r="1.4"/><circle cx="343.9" cy="555.4" r="1.3"/><circle cx="350.8" cy="557.3" r="1.3"/><circle cx="358.6" cy="557.2" r="0.9"/><circle cx="363.1" cy="554.6" r="1.0"/><circle cx="365.9" cy="555.2" r="1.1"/><circle cx="371.9" cy="556.1" r="0.9"/><circle cx="398.9" cy="555.3" r="1.3"/><circle cx="199.8" cy="558.7" r="1.0"/><circle cx="235.9" cy="558.5" r="1.2"/><circle cx="239.3" cy="560.8" r="1.3"/><circle cx="244.0" cy="560.1" r="0.9"/><circle cx="264.1" cy="560.1" r="1.1"/><circle cx="267.2" cy="560.2" r="1.4"/><circle cx="271.9" cy="558.2" r="1.4"/><circle cx="275.6" cy="557.9" r="1.0"/><circle cx="279.2" cy="558.3" r="1.2"/><circle cx="281.4" cy="561.5" r="1.1"/><circle cx="286.5" cy="560.6" r="1.4"/><circle cx="287.7" cy="561.1" r="1.1"/><circle cx="310.2" cy="560.6" r="0.9"/><circle cx="318.7" cy="560.4" r="1.3"/><circle cx="323.1" cy="560.0" r="1.0"/><circle cx="340.8" cy="559.2" r="0.9"/><circle cx="348.5" cy="559.0" r="0.9"/><circle cx="355.3" cy="559.7" r="1.2"/><circle cx="364.9" cy="558.1" r="1.4"/><circle cx="368.5" cy="560.6" r="1.4"/><circle cx="200.7" cy="562.5" r="1.4"/><circle cx="229.0" cy="564.2" r="1.4"/><circle cx="236.7" cy="561.8" r="1.3"/><circle cx="240.1" cy="562.3" r="0.9"/><circle cx="242.6" cy="562.6" r="1.1"/><circle cx="259.7" cy="563.1" r="1.0"/><circle cx="267.3" cy="562.7" r="1.4"/><circle cx="278.1" cy="562.1" r="1.0"/><circle cx="282.3" cy="565.3" r="1.3"/><circle cx="283.5" cy="562.1" r="1.3"/><circle cx="289.5" cy="562.4" r="1.0"/><circle cx="292.5" cy="565.2" r="1.0"/><circle cx="299.4" cy="561.8" r="1.3"/><circle cx="304.3" cy="563.5" r="1.3"/><circle cx="321.7" cy="561.6" r="1.0"/><circle cx="324.9" cy="563.9" r="1.1"/><circle cx="343.6" cy="565.1" r="1.1"/><circle cx="348.5" cy="563.5" r="1.2"/><circle cx="363.2" cy="564.5" r="1.1"/><circle cx="365.9" cy="562.6" r="1.4"/><circle cx="397.5" cy="563.5" r="1.3"/><circle cx="198.8" cy="567.7" r="0.9"/><circle cx="223.2" cy="567.7" r="1.2"/><circle cx="227.0" cy="566.6" r="1.4"/><circle cx="227.3" cy="568.0" r="1.3"/><circle cx="234.1" cy="565.8" r="1.2"/><circle cx="234.8" cy="568.5" r="1.1"/><circle cx="239.8" cy="565.9" r="1.4"/><circle cx="245.3" cy="565.8" r="0.9"/><circle cx="282.6" cy="568.3" r="1.2"/><circle cx="286.0" cy="565.4" r="1.0"/><circle cx="290.3" cy="568.9" r="1.2"/><circle cx="293.1" cy="568.0" r="1.4"/><circle cx="299.8" cy="568.6" r="1.1"/><circle cx="302.2" cy="565.9" r="1.2"/><circle cx="327.0" cy="565.9" r="0.9"/><circle cx="337.4" cy="565.5" r="1.2"/><circle cx="340.0" cy="565.7" r="1.3"/><circle cx="343.3" cy="567.1" r="0.9"/><circle cx="347.4" cy="567.9" r="1.1"/><circle cx="353.5" cy="566.2" r="1.0"/><circle cx="358.1" cy="568.4" r="0.9"/><circle cx="360.8" cy="567.7" r="1.3"/><circle cx="363.7" cy="565.6" r="1.0"/><circle cx="368.1" cy="568.3" r="0.9"/><circle cx="375.9" cy="566.1" r="1.4"/><circle cx="378.4" cy="567.6" r="1.4"/><circle cx="397.8" cy="565.4" r="1.3"/><circle cx="204.6" cy="572.7" r="1.1"/><circle cx="219.9" cy="572.5" r="1.1"/><circle cx="226.2" cy="571.3" r="1.1"/><circle cx="228.7" cy="572.7" r="1.1"/><circle cx="237.6" cy="570.8" r="1.0"/><circle cx="242.0" cy="569.6" r="0.9"/><circle cx="243.1" cy="570.0" r="1.3"/><circle cx="247.8" cy="572.8" r="1.3"/><circle cx="254.9" cy="569.5" r="1.2"/><circle cx="276.2" cy="570.4" r="1.2"/><circle cx="282.6" cy="569.4" r="1.4"/><circle cx="285.6" cy="572.5" r="1.2"/><circle cx="291.9" cy="572.0" r="1.2"/><circle cx="300.0" cy="569.7" r="1.2"/><circle cx="303.5" cy="571.4" r="0.9"/><circle cx="318.7" cy="570.3" r="0.9"/><circle cx="338.1" cy="569.3" r="1.4"/><circle cx="340.7" cy="572.7" r="1.0"/><circle cx="343.8" cy="571.9" r="0.9"/><circle cx="350.4" cy="571.9" r="1.3"/><circle cx="355.1" cy="571.8" r="1.4"/><circle cx="361.8" cy="571.7" r="1.0"/><circle cx="365.3" cy="571.5" r="1.4"/><circle cx="366.3" cy="570.7" r="1.3"/><circle cx="369.6" cy="570.9" r="1.2"/><circle cx="200.8" cy="573.0" r="0.9"/><circle cx="204.5" cy="576.3" r="1.1"/><circle cx="205.8" cy="574.7" r="1.1"/><circle cx="209.8" cy="575.9" r="1.0"/><circle cx="213.2" cy="574.5" r="1.2"/><circle cx="217.5" cy="576.4" r="1.0"/><circle cx="224.4" cy="574.0" r="1.2"/><circle cx="228.3" cy="576.3" r="1.2"/><circle cx="233.5" cy="576.3" r="1.1"/><circle cx="237.6" cy="575.2" r="0.9"/><circle cx="241.8" cy="574.4" r="1.0"/><circle cx="245.8" cy="576.2" r="1.2"/><circle cx="278.1" cy="573.6" r="1.3"/><circle cx="281.8" cy="574.3" r="0.9"/><circle cx="284.9" cy="572.9" r="1.3"/><circle cx="288.9" cy="575.8" r="1.2"/><circle cx="292.9" cy="574.5" r="1.0"/><circle cx="296.8" cy="575.8" r="0.9"/><circle cx="304.4" cy="576.0" r="1.3"/><circle cx="319.7" cy="573.4" r="1.3"/><circle cx="330.4" cy="575.4" r="1.0"/><circle cx="333.0" cy="575.8" r="1.0"/><circle cx="337.0" cy="575.9" r="0.9"/><circle cx="345.5" cy="573.1" r="1.1"/><circle cx="350.7" cy="576.1" r="1.0"/><circle cx="353.5" cy="575.3" r="0.9"/><circle cx="357.2" cy="576.2" r="1.0"/><circle cx="358.7" cy="573.5" r="1.4"/><circle cx="363.3" cy="575.2" r="0.9"/><circle cx="203.1" cy="579.5" r="1.0"/><circle cx="207.4" cy="576.9" r="1.1"/><circle cx="209.8" cy="578.5" r="0.9"/><circle cx="219.4" cy="579.8" r="1.1"/><circle cx="220.7" cy="577.8" r="1.0"/><circle cx="228.1" cy="579.6" r="1.2"/><circle cx="233.4" cy="579.6" r="1.3"/><circle cx="236.1" cy="576.7" r="1.3"/><circle cx="239.7" cy="579.2" r="1.3"/><circle cx="244.6" cy="576.7" r="0.9"/><circle cx="268.6" cy="577.6" r="1.2"/><circle cx="276.2" cy="576.6" r="1.2"/><circle cx="280.0" cy="577.9" r="1.2"/><circle cx="287.0" cy="580.0" r="1.4"/><circle cx="287.4" cy="579.0" r="0.9"/><circle cx="298.9" cy="578.8" r="0.9"/><circle cx="302.8" cy="579.9" r="0.9"/><circle cx="307.3" cy="577.4" r="1.3"/><circle cx="327.8" cy="579.5" r="1.4"/><circle cx="355.4" cy="577.3" r="1.1"/><circle cx="361.1" cy="579.1" r="1.0"/><circle cx="363.1" cy="579.9" r="1.4"/><circle cx="373.7" cy="580.1" r="1.2"/><circle cx="207.0" cy="582.9" r="0.9"/><circle cx="212.0" cy="583.9" r="1.3"/><circle cx="212.6" cy="583.2" r="1.0"/><circle cx="217.2" cy="580.5" r="1.4"/><circle cx="225.7" cy="580.9" r="1.3"/><circle cx="229.5" cy="581.0" r="1.3"/><circle cx="232.9" cy="581.2" r="0.9"/><circle cx="237.9" cy="583.3" r="1.3"/><circle cx="238.7" cy="580.6" r="1.2"/><circle cx="248.2" cy="583.9" r="1.2"/><circle cx="270.1" cy="580.9" r="1.2"/><circle cx="279.7" cy="580.8" r="0.9"/><circle cx="285.6" cy="581.9" r="1.0"/><circle cx="288.4" cy="583.8" r="1.1"/><circle cx="303.6" cy="580.6" r="1.3"/><circle cx="306.6" cy="582.4" r="1.1"/><circle cx="318.7" cy="582.9" r="1.1"/><circle cx="322.8" cy="584.0" r="1.4"/><circle cx="327.8" cy="583.6" r="0.9"/><circle cx="329.3" cy="580.7" r="1.1"/><circle cx="336.5" cy="580.8" r="1.2"/><circle cx="344.4" cy="581.3" r="1.4"/><circle cx="354.5" cy="580.4" r="1.0"/><circle cx="361.0" cy="583.0" r="1.4"/><circle cx="362.0" cy="582.3" r="0.9"/><circle cx="374.8" cy="580.9" r="1.1"/><circle cx="199.4" cy="587.5" r="1.0"/><circle cx="212.0" cy="586.6" r="0.9"/><circle cx="213.0" cy="586.7" r="1.3"/><circle cx="218.0" cy="587.7" r="1.2"/><circle cx="221.0" cy="587.4" r="0.9"/><circle cx="227.0" cy="587.7" r="0.9"/><circle cx="228.7" cy="584.9" r="1.2"/><circle cx="232.6" cy="586.2" r="1.3"/><circle cx="236.2" cy="585.1" r="1.2"/><circle cx="240.9" cy="587.8" r="1.2"/><circle cx="242.8" cy="587.0" r="1.1"/><circle cx="246.8" cy="584.5" r="1.0"/><circle cx="252.9" cy="585.7" r="1.4"/><circle cx="255.4" cy="584.4" r="1.1"/><circle cx="260.9" cy="586.5" r="1.1"/><circle cx="261.1" cy="584.5" r="1.0"/><circle cx="264.6" cy="587.2" r="1.3"/><circle cx="272.1" cy="586.8" r="1.1"/><circle cx="273.2" cy="585.5" r="0.9"/><circle cx="283.4" cy="586.2" r="1.0"/><circle cx="289.3" cy="584.9" r="1.3"/><circle cx="293.8" cy="587.3" r="1.1"/><circle cx="296.3" cy="585.1" r="1.1"/><circle cx="298.7" cy="586.0" r="1.4"/><circle cx="303.4" cy="584.2" r="1.2"/><circle cx="309.1" cy="586.5" r="1.0"/><circle cx="310.6" cy="586.8" r="1.1"/><circle cx="316.3" cy="586.9" r="0.9"/><circle cx="317.7" cy="585.5" r="1.0"/><circle cx="320.9" cy="586.2" r="1.2"/><circle cx="328.1" cy="587.6" r="1.1"/><circle cx="330.9" cy="585.2" r="1.2"/><circle cx="336.7" cy="584.1" r="0.9"/><circle cx="342.0" cy="584.3" r="1.3"/><circle cx="346.8" cy="586.5" r="1.0"/><circle cx="348.1" cy="586.7" r="1.4"/><circle cx="352.8" cy="584.3" r="1.0"/><circle cx="357.4" cy="584.3" r="1.0"/><circle cx="361.5" cy="584.5" r="1.2"/><circle cx="382.7" cy="585.4" r="1.2"/><circle cx="387.5" cy="586.5" r="0.9"/><circle cx="391.7" cy="586.7" r="1.3"/><circle cx="394.7" cy="584.2" r="1.4"/><circle cx="207.2" cy="591.3" r="1.2"/><circle cx="212.2" cy="588.7" r="1.0"/><circle cx="215.1" cy="590.8" r="1.0"/><circle cx="218.5" cy="588.9" r="1.3"/><circle cx="223.4" cy="588.6" r="1.0"/><circle cx="225.6" cy="588.7" r="1.1"/><circle cx="227.3" cy="590.1" r="1.1"/><circle cx="233.5" cy="588.0" r="1.4"/><circle cx="236.9" cy="589.1" r="1.2"/><circle cx="241.7" cy="589.3" r="1.1"/><circle cx="242.2" cy="588.6" r="1.2"/><circle cx="248.6" cy="588.9" r="1.2"/><circle cx="252.8" cy="590.6" r="0.9"/><circle cx="255.3" cy="588.8" r="1.2"/><circle cx="260.6" cy="591.0" r="1.2"/><circle cx="261.6" cy="587.9" r="1.0"/><circle cx="266.3" cy="589.2" r="1.3"/><circle cx="271.9" cy="590.2" r="0.9"/><circle cx="273.2" cy="588.1" r="1.2"/><circle cx="279.4" cy="589.7" r="1.2"/><circle cx="283.1" cy="590.7" r="1.0"/><circle cx="283.4" cy="589.5" r="1.4"/><circle cx="288.6" cy="588.2" r="1.3"/><circle cx="293.8" cy="590.6" r="1.3"/><circle cx="297.2" cy="590.5" r="1.4"/><circle cx="301.2" cy="589.3" r="1.4"/><circle cx="304.1" cy="591.5" r="1.1"/><circle cx="305.9" cy="588.0" r="1.3"/><circle cx="325.9" cy="589.3" r="1.4"/><circle cx="345.3" cy="588.4" r="1.2"/><circle cx="354.4" cy="590.3" r="1.4"/><circle cx="355.3" cy="589.9" r="1.0"/><circle cx="365.5" cy="588.9" r="1.2"/><circle cx="367.6" cy="589.4" r="1.0"/><circle cx="373.5" cy="588.6" r="1.2"/><circle cx="380.6" cy="591.1" r="1.4"/><circle cx="220.4" cy="593.4" r="0.9"/><circle cx="227.2" cy="593.8" r="1.4"/><circle cx="229.2" cy="592.7" r="1.0"/><circle cx="231.8" cy="593.1" r="1.4"/><circle cx="237.7" cy="593.9" r="1.4"/><circle cx="241.9" cy="594.2" r="1.0"/><circle cx="247.2" cy="594.3" r="0.9"/><circle cx="251.6" cy="594.9" r="1.4"/><circle cx="254.0" cy="592.2" r="1.1"/><circle cx="260.8" cy="593.5" r="1.3"/><circle cx="264.2" cy="595.2" r="1.3"/><circle cx="267.9" cy="593.9" r="0.9"/><circle cx="272.0" cy="591.6" r="1.2"/><circle cx="272.8" cy="592.8" r="1.2"/><circle cx="279.0" cy="592.4" r="0.9"/><circle cx="281.1" cy="594.4" r="1.4"/><circle cx="283.3" cy="594.0" r="0.9"/><circle cx="290.0" cy="594.8" r="1.2"/><circle cx="294.5" cy="592.3" r="1.1"/><circle cx="298.3" cy="593.5" r="1.3"/><circle cx="305.6" cy="593.2" r="1.1"/><circle cx="307.5" cy="592.5" r="0.9"/><circle cx="310.1" cy="593.9" r="0.9"/><circle cx="314.2" cy="594.0" r="1.1"/><circle cx="318.8" cy="592.8" r="0.9"/><circle cx="323.5" cy="592.8" r="1.2"/><circle cx="327.5" cy="591.7" r="1.0"/><circle cx="330.4" cy="594.5" r="1.3"/><circle cx="332.4" cy="595.0" r="1.0"/><circle cx="336.9" cy="593.6" r="0.9"/><circle cx="341.2" cy="595.1" r="1.1"/><circle cx="345.1" cy="594.8" r="1.0"/><circle cx="347.5" cy="591.7" r="1.0"/><circle cx="353.5" cy="593.8" r="1.4"/><circle cx="356.5" cy="592.7" r="1.4"/><circle cx="361.0" cy="592.4" r="0.9"/><circle cx="364.6" cy="593.8" r="0.9"/><circle cx="367.1" cy="593.1" r="1.3"/><circle cx="370.9" cy="593.2" r="0.9"/><circle cx="374.3" cy="594.2" r="1.2"/><circle cx="221.7" cy="598.5" r="1.3"/><circle cx="224.5" cy="597.5" r="1.3"/><circle cx="229.9" cy="596.8" r="1.3"/><circle cx="232.5" cy="596.6" r="1.3"/><circle cx="238.2" cy="595.7" r="1.1"/><circle cx="244.9" cy="599.0" r="0.9"/><circle cx="247.8" cy="599.0" r="1.0"/><circle cx="252.2" cy="595.9" r="1.0"/><circle cx="253.4" cy="596.9" r="1.0"/><circle cx="264.7" cy="598.8" r="1.0"/><circle cx="270.2" cy="597.3" r="1.3"/><circle cx="277.3" cy="596.6" r="1.1"/><circle cx="281.8" cy="597.1" r="0.9"/><circle cx="284.8" cy="595.4" r="1.2"/><circle cx="289.0" cy="596.8" r="0.9"/><circle cx="292.0" cy="595.4" r="1.2"/><circle cx="296.5" cy="595.5" r="1.4"/><circle cx="298.5" cy="595.6" r="1.1"/><circle cx="302.5" cy="597.7" r="1.3"/><circle cx="307.4" cy="598.8" r="1.4"/><circle cx="313.4" cy="597.8" r="1.3"/><circle cx="317.4" cy="595.9" r="1.3"/><circle cx="322.6" cy="597.2" r="1.3"/><circle cx="329.6" cy="596.2" r="1.3"/><circle cx="336.4" cy="595.4" r="0.9"/><circle cx="340.4" cy="597.3" r="1.2"/><circle cx="344.7" cy="598.5" r="0.9"/><circle cx="348.7" cy="598.7" r="1.4"/><circle cx="351.5" cy="598.9" r="1.3"/><circle cx="357.1" cy="596.0" r="1.3"/><circle cx="360.7" cy="597.7" r="1.0"/><circle cx="362.2" cy="598.7" r="1.0"/><circle cx="368.7" cy="596.8" r="1.2"/><circle cx="371.7" cy="596.0" r="0.9"/><circle cx="373.5" cy="597.9" r="1.1"/><circle cx="377.9" cy="597.6" r="1.0"/><circle cx="384.1" cy="598.0" r="1.3"/><circle cx="388.5" cy="597.2" r="1.0"/><circle cx="198.2" cy="601.8" r="1.3"/><circle cx="216.8" cy="602.4" r="0.9"/><circle cx="222.9" cy="600.9" r="1.2"/><circle cx="225.5" cy="599.9" r="1.3"/><circle cx="228.0" cy="599.7" r="1.2"/><circle cx="240.2" cy="601.0" r="1.0"/><circle cx="245.9" cy="599.2" r="1.4"/><circle cx="263.1" cy="600.0" r="1.2"/><circle cx="267.8" cy="600.6" r="1.2"/><circle cx="270.1" cy="601.1" r="1.2"/><circle cx="275.4" cy="599.6" r="0.9"/><circle cx="279.1" cy="599.3" r="1.2"/><circle cx="281.3" cy="599.6" r="1.1"/><circle cx="285.6" cy="599.8" r="1.3"/><circle cx="290.5" cy="601.0" r="1.4"/><circle cx="291.9" cy="602.3" r="0.9"/><circle cx="297.4" cy="601.3" r="1.4"/><circle cx="300.6" cy="600.9" r="1.4"/><circle cx="302.8" cy="600.1" r="1.0"/><circle cx="311.9" cy="601.3" r="1.2"/><circle cx="317.9" cy="599.8" r="1.2"/><circle cx="323.3" cy="599.3" r="1.2"/><circle cx="330.5" cy="599.4" r="1.0"/><circle cx="334.8" cy="600.9" r="0.9"/><circle cx="336.7" cy="599.2" r="1.4"/><circle cx="340.9" cy="602.8" r="1.0"/><circle cx="344.6" cy="599.4" r="0.9"/><circle cx="347.1" cy="602.4" r="1.3"/><circle cx="353.4" cy="600.7" r="1.3"/><circle cx="355.4" cy="599.8" r="1.4"/><circle cx="359.3" cy="599.7" r="1.2"/><circle cx="364.6" cy="600.6" r="1.0"/><circle cx="366.0" cy="599.5" r="1.3"/><circle cx="373.2" cy="600.5" r="1.2"/><circle cx="378.9" cy="599.2" r="0.9"/><circle cx="383.3" cy="599.8" r="1.2"/><circle cx="387.6" cy="602.4" r="1.2"/><circle cx="202.7" cy="606.1" r="1.4"/><circle cx="206.1" cy="603.9" r="0.9"/><circle cx="215.6" cy="606.5" r="1.0"/><circle cx="219.0" cy="604.3" r="0.9"/><circle cx="221.6" cy="605.3" r="1.2"/><circle cx="226.0" cy="602.9" r="1.3"/><circle cx="228.1" cy="603.6" r="1.4"/><circle cx="231.8" cy="605.7" r="1.2"/><circle cx="243.1" cy="604.1" r="1.1"/><circle cx="262.7" cy="602.8" r="1.0"/><circle cx="267.2" cy="602.8" r="0.9"/><circle cx="268.7" cy="604.8" r="0.9"/><circle cx="273.5" cy="604.7" r="1.2"/><circle cx="279.0" cy="606.3" r="0.9"/><circle cx="280.3" cy="604.3" r="1.4"/><circle cx="285.7" cy="604.2" r="1.1"/><circle cx="287.3" cy="605.1" r="1.0"/><circle cx="291.5" cy="605.5" r="1.3"/><circle cx="294.7" cy="604.7" r="1.2"/><circle cx="299.9" cy="603.3" r="1.4"/><circle cx="303.3" cy="603.7" r="1.0"/><circle cx="307.4" cy="604.4" r="1.4"/><circle cx="309.6" cy="604.5" r="1.3"/><circle cx="317.6" cy="605.4" r="0.9"/><circle cx="321.4" cy="605.9" r="1.3"/><circle cx="327.4" cy="606.2" r="1.2"/><circle cx="330.3" cy="604.2" r="1.2"/><circle cx="334.5" cy="606.0" r="1.1"/><circle cx="335.9" cy="604.0" r="1.1"/><circle cx="348.3" cy="604.0" r="1.3"/><circle cx="353.5" cy="605.7" r="1.4"/><circle cx="354.9" cy="605.8" r="1.2"/><circle cx="359.9" cy="606.0" r="1.2"/><circle cx="368.3" cy="605.7" r="0.9"/><circle cx="369.6" cy="606.1" r="1.1"/><circle cx="373.2" cy="605.8" r="1.0"/><circle cx="379.5" cy="605.3" r="1.2"/><circle cx="384.1" cy="605.9" r="1.4"/><circle cx="386.3" cy="606.3" r="1.2"/><circle cx="390.2" cy="606.1" r="1.3"/><circle cx="209.4" cy="609.7" r="1.4"/><circle cx="217.1" cy="609.9" r="0.9"/><circle cx="220.8" cy="608.5" r="1.1"/><circle cx="226.5" cy="609.3" r="1.0"/><circle cx="230.5" cy="610.0" r="1.3"/><circle cx="231.6" cy="608.0" r="1.2"/><circle cx="236.2" cy="607.6" r="1.3"/><circle cx="269.7" cy="609.0" r="1.2"/><circle cx="276.4" cy="608.4" r="1.3"/><circle cx="283.0" cy="608.5" r="1.0"/><circle cx="287.5" cy="606.6" r="1.0"/><circle cx="292.1" cy="609.1" r="0.9"/><circle cx="297.0" cy="608.1" r="1.0"/><circle cx="298.5" cy="606.6" r="0.9"/><circle cx="304.0" cy="607.8" r="1.2"/><circle cx="306.0" cy="610.0" r="1.4"/><circle cx="310.6" cy="608.1" r="1.3"/><circle cx="316.0" cy="606.9" r="1.3"/><circle cx="319.1" cy="607.8" r="1.2"/><circle cx="322.5" cy="609.8" r="1.2"/><circle cx="326.9" cy="609.2" r="1.3"/><circle cx="330.4" cy="608.2" r="1.1"/><circle cx="333.5" cy="607.7" r="1.1"/><circle cx="343.5" cy="609.2" r="1.1"/><circle cx="353.9" cy="607.5" r="1.0"/><circle cx="362.9" cy="608.6" r="1.4"/><circle cx="367.4" cy="608.6" r="0.9"/><circle cx="381.4" cy="606.7" r="1.4"/><circle cx="387.5" cy="610.1" r="0.9"/><circle cx="391.3" cy="608.0" r="1.0"/><circle cx="393.4" cy="608.6" r="1.1"/><circle cx="204.7" cy="613.7" r="1.1"/><circle cx="213.7" cy="610.7" r="1.3"/><circle cx="218.1" cy="613.3" r="1.4"/><circle cx="222.1" cy="610.6" r="0.9"/><circle cx="225.1" cy="610.6" r="1.3"/><circle cx="232.4" cy="611.4" r="1.4"/><circle cx="235.1" cy="614.0" r="1.0"/><circle cx="239.2" cy="613.8" r="1.1"/><circle cx="276.8" cy="611.9" r="1.0"/><circle cx="289.4" cy="612.3" r="0.9"/><circle cx="291.1" cy="614.0" r="0.9"/><circle cx="294.8" cy="613.1" r="1.4"/><circle cx="304.0" cy="610.4" r="1.1"/><circle cx="307.9" cy="611.6" r="1.2"/><circle cx="309.9" cy="611.2" r="1.1"/><circle cx="316.5" cy="610.6" r="1.0"/><circle cx="318.7" cy="612.7" r="1.4"/><circle cx="323.9" cy="613.6" r="1.1"/><circle cx="324.7" cy="611.4" r="1.2"/><circle cx="330.4" cy="612.1" r="0.9"/><circle cx="332.1" cy="613.2" r="1.0"/><circle cx="342.3" cy="610.4" r="1.1"/><circle cx="380.0" cy="612.9" r="1.4"/><circle cx="380.8" cy="610.5" r="1.0"/><circle cx="386.5" cy="612.7" r="0.9"/><circle cx="389.8" cy="613.5" r="0.9"/><circle cx="393.4" cy="610.8" r="1.0"/><circle cx="396.1" cy="611.7" r="1.2"/><circle cx="214.8" cy="614.3" r="1.0"/><circle cx="216.7" cy="615.3" r="1.1"/><circle cx="223.2" cy="616.4" r="1.0"/><circle cx="228.2" cy="614.4" r="1.2"/><circle cx="233.7" cy="614.6" r="1.3"/><circle cx="275.4" cy="617.6" r="1.4"/><circle cx="282.7" cy="617.6" r="1.3"/><circle cx="287.0" cy="616.9" r="1.0"/><circle cx="290.1" cy="616.0" r="1.4"/><circle cx="291.3" cy="614.1" r="1.0"/><circle cx="301.8" cy="614.2" r="1.3"/><circle cx="308.1" cy="616.4" r="1.3"/><circle cx="311.2" cy="614.6" r="1.0"/><circle cx="315.1" cy="614.4" r="1.3"/><circle cx="320.0" cy="617.1" r="1.2"/><circle cx="321.4" cy="617.0" r="1.2"/><circle cx="326.5" cy="614.3" r="1.1"/><circle cx="335.5" cy="615.0" r="1.4"/><circle cx="338.1" cy="616.2" r="0.9"/><circle cx="370.2" cy="616.4" r="1.2"/><circle cx="381.5" cy="614.2" r="1.0"/><circle cx="390.8" cy="616.4" r="1.0"/><circle cx="394.0" cy="614.7" r="1.2"/><circle cx="396.2" cy="615.8" r="1.0"/><circle cx="200.7" cy="619.6" r="0.9"/><circle cx="215.9" cy="620.6" r="1.1"/><circle cx="219.6" cy="618.7" r="1.3"/><circle cx="222.2" cy="618.2" r="1.2"/><circle cx="226.5" cy="619.7" r="1.4"/><circle cx="233.3" cy="620.3" r="1.0"/><circle cx="236.1" cy="620.3" r="1.1"/><circle cx="239.1" cy="619.1" r="0.9"/><circle cx="275.4" cy="619.7" r="1.4"/><circle cx="278.6" cy="618.6" r="1.0"/><circle cx="281.0" cy="621.5" r="1.2"/><circle cx="286.5" cy="619.3" r="1.1"/><circle cx="288.4" cy="618.8" r="0.9"/><circle cx="291.5" cy="618.0" r="1.1"/><circle cx="295.3" cy="617.8" r="1.4"/><circle cx="306.3" cy="619.5" r="1.2"/><circle cx="320.4" cy="620.5" r="1.1"/><circle cx="322.7" cy="620.6" r="1.4"/><circle cx="326.5" cy="617.8" r="1.2"/><circle cx="331.9" cy="620.7" r="1.1"/><circle cx="340.2" cy="618.1" r="1.2"/><circle cx="345.7" cy="621.0" r="1.4"/><circle cx="372.4" cy="621.0" r="1.0"/><circle cx="377.2" cy="620.1" r="1.3"/><circle cx="382.1" cy="618.1" r="1.4"/><circle cx="389.9" cy="618.3" r="1.1"/><circle cx="392.7" cy="618.2" r="1.3"/><circle cx="215.7" cy="623.1" r="0.9"/><circle cx="218.1" cy="622.9" r="0.9"/><circle cx="220.0" cy="624.1" r="1.0"/><circle cx="228.1" cy="625.2" r="1.3"/><circle cx="233.7" cy="621.8" r="1.2"/><circle cx="238.2" cy="623.1" r="1.4"/><circle cx="266.2" cy="622.6" r="1.1"/><circle cx="271.1" cy="622.5" r="1.0"/><circle cx="273.7" cy="622.2" r="1.1"/><circle cx="277.1" cy="624.3" r="1.3"/><circle cx="280.3" cy="623.8" r="0.9"/><circle cx="285.5" cy="622.7" r="1.3"/><circle cx="288.2" cy="623.7" r="1.4"/><circle cx="291.0" cy="624.0" r="1.4"/><circle cx="302.8" cy="621.8" r="1.4"/><circle cx="307.1" cy="622.4" r="1.0"/><circle cx="318.3" cy="623.2" r="1.2"/><circle cx="323.3" cy="623.3" r="1.1"/><circle cx="326.3" cy="621.7" r="1.0"/><circle cx="331.9" cy="623.7" r="1.4"/><circle cx="335.5" cy="623.7" r="1.4"/><circle cx="339.0" cy="623.1" r="1.4"/><circle cx="339.6" cy="622.0" r="1.3"/><circle cx="343.9" cy="625.0" r="1.0"/><circle cx="350.6" cy="623.2" r="1.2"/><circle cx="352.4" cy="624.0" r="1.1"/><circle cx="358.9" cy="624.6" r="0.9"/><circle cx="368.4" cy="623.6" r="1.2"/><circle cx="371.1" cy="622.3" r="1.0"/><circle cx="375.7" cy="621.7" r="1.4"/><circle cx="378.5" cy="622.3" r="0.9"/><circle cx="385.8" cy="623.0" r="0.9"/><circle cx="389.8" cy="624.3" r="1.3"/><circle cx="395.0" cy="625.0" r="1.4"/><circle cx="395.8" cy="623.5" r="1.1"/><circle cx="198.2" cy="627.6" r="1.0"/><circle cx="213.8" cy="627.3" r="1.4"/><circle cx="216.2" cy="625.9" r="1.3"/><circle cx="223.4" cy="627.9" r="1.1"/><circle cx="226.4" cy="627.1" r="1.0"/><circle cx="228.8" cy="628.5" r="1.4"/><circle cx="235.4" cy="625.5" r="1.2"/><circle cx="239.6" cy="625.7" r="1.2"/><circle cx="262.2" cy="626.0" r="1.2"/><circle cx="264.7" cy="625.5" r="1.1"/><circle cx="273.0" cy="625.7" r="1.2"/><circle cx="278.9" cy="626.2" r="1.2"/><circle cx="279.9" cy="626.2" r="1.2"/><circle cx="286.5" cy="626.8" r="0.9"/><circle cx="290.4" cy="628.6" r="1.4"/><circle cx="292.9" cy="626.6" r="0.9"/><circle cx="324.4" cy="625.6" r="1.3"/><circle cx="324.8" cy="627.9" r="1.3"/><circle cx="328.8" cy="625.8" r="1.2"/><circle cx="333.4" cy="628.8" r="1.1"/><circle cx="342.4" cy="625.5" r="1.1"/><circle cx="344.8" cy="625.9" r="1.1"/><circle cx="350.1" cy="627.0" r="0.9"/><circle cx="357.0" cy="626.3" r="0.9"/><circle cx="370.0" cy="625.6" r="1.4"/><circle cx="380.2" cy="625.7" r="1.0"/><circle cx="382.8" cy="626.8" r="1.2"/><circle cx="388.6" cy="625.6" r="1.3"/><circle cx="393.4" cy="628.6" r="0.9"/><circle cx="210.6" cy="629.1" r="1.3"/><circle cx="214.3" cy="630.6" r="1.0"/><circle cx="219.9" cy="631.8" r="1.0"/><circle cx="227.0" cy="632.3" r="1.2"/><circle cx="228.5" cy="630.6" r="0.9"/><circle cx="235.8" cy="629.2" r="1.2"/><circle cx="239.9" cy="631.1" r="0.9"/><circle cx="244.2" cy="630.8" r="1.0"/><circle cx="251.3" cy="630.9" r="1.1"/><circle cx="256.0" cy="632.2" r="1.4"/><circle cx="271.6" cy="629.4" r="0.9"/><circle cx="272.7" cy="629.2" r="1.1"/><circle cx="276.2" cy="629.6" r="1.4"/><circle cx="281.9" cy="631.7" r="1.4"/><circle cx="284.2" cy="632.3" r="1.3"/><circle cx="287.8" cy="631.4" r="1.3"/><circle cx="291.4" cy="629.3" r="1.4"/><circle cx="320.6" cy="629.7" r="1.1"/><circle cx="322.6" cy="632.2" r="1.0"/><circle cx="328.1" cy="629.8" r="1.3"/><circle cx="331.5" cy="631.9" r="0.9"/><circle cx="335.1" cy="630.8" r="1.1"/><circle cx="339.2" cy="630.0" r="1.4"/><circle cx="342.0" cy="632.6" r="1.0"/><circle cx="343.2" cy="629.9" r="1.0"/><circle cx="353.4" cy="629.8" r="1.4"/><circle cx="361.6" cy="632.0" r="1.1"/><circle cx="365.1" cy="630.8" r="0.9"/><circle cx="370.4" cy="630.3" r="1.2"/><circle cx="380.0" cy="629.6" r="1.0"/><circle cx="384.4" cy="629.9" r="1.1"/><circle cx="387.5" cy="631.4" r="1.1"/><circle cx="390.6" cy="632.2" r="1.3"/><circle cx="393.4" cy="630.7" r="1.1"/><circle cx="399.3" cy="631.2" r="1.0"/><circle cx="202.7" cy="634.7" r="1.0"/><circle cx="223.8" cy="635.3" r="1.0"/><circle cx="230.4" cy="633.5" r="1.3"/><circle cx="232.7" cy="635.3" r="1.3"/><circle cx="242.2" cy="634.0" r="1.1"/><circle cx="251.4" cy="635.1" r="0.9"/><circle cx="257.7" cy="634.1" r="1.1"/><circle cx="261.3" cy="635.2" r="1.4"/><circle cx="267.7" cy="633.3" r="0.9"/><circle cx="274.0" cy="634.4" r="1.4"/><circle cx="276.3" cy="634.4" r="1.4"/><circle cx="283.1" cy="634.8" r="1.2"/><circle cx="286.0" cy="636.1" r="1.0"/><circle cx="290.9" cy="635.2" r="0.9"/><circle cx="326.6" cy="633.1" r="1.0"/><circle cx="328.7" cy="635.9" r="1.2"/><circle cx="338.1" cy="633.9" r="1.1"/><circle cx="350.0" cy="633.9" r="1.0"/><circle cx="358.8" cy="633.2" r="1.0"/><circle cx="376.7" cy="636.0" r="1.2"/><circle cx="383.3" cy="632.8" r="1.2"/><circle cx="387.2" cy="634.4" r="1.1"/><circle cx="391.7" cy="634.3" r="1.2"/><circle cx="396.7" cy="635.7" r="1.1"/><circle cx="209.6" cy="636.5" r="1.1"/><circle cx="220.9" cy="638.9" r="1.2"/><circle cx="228.6" cy="639.5" r="1.4"/><circle cx="232.1" cy="640.2" r="0.9"/><circle cx="236.5" cy="640.1" r="1.0"/><circle cx="239.0" cy="636.8" r="1.0"/><circle cx="247.9" cy="639.9" r="1.1"/><circle cx="250.7" cy="639.8" r="1.2"/><circle cx="254.1" cy="637.9" r="1.3"/><circle cx="261.0" cy="638.7" r="0.9"/><circle cx="268.1" cy="637.9" r="1.4"/><circle cx="271.4" cy="637.5" r="1.2"/><circle cx="275.7" cy="637.6" r="1.1"/><circle cx="276.5" cy="639.5" r="1.1"/><circle cx="282.2" cy="637.0" r="1.3"/><circle cx="284.3" cy="637.9" r="1.1"/><circle cx="331.5" cy="637.4" r="1.3"/><circle cx="332.4" cy="638.4" r="1.2"/><circle cx="335.8" cy="637.5" r="1.1"/><circle cx="342.4" cy="638.6" r="0.9"/><circle cx="343.3" cy="639.9" r="1.2"/><circle cx="351.9" cy="637.8" r="1.0"/><circle cx="354.8" cy="638.2" r="0.9"/><circle cx="361.6" cy="639.6" r="1.3"/><circle cx="364.4" cy="639.5" r="1.4"/><circle cx="366.0" cy="637.1" r="0.9"/><circle cx="374.0" cy="638.4" r="1.1"/><circle cx="380.3" cy="639.7" r="1.2"/><circle cx="381.2" cy="637.0" r="1.4"/><circle cx="384.6" cy="638.7" r="0.9"/><circle cx="390.0" cy="637.8" r="1.1"/><circle cx="198.1" cy="641.4" r="1.3"/><circle cx="206.6" cy="641.5" r="1.1"/><circle cx="231.1" cy="641.2" r="1.4"/><circle cx="235.9" cy="642.6" r="1.3"/><circle cx="238.9" cy="643.3" r="1.0"/><circle cx="244.9" cy="642.8" r="1.2"/><circle cx="246.6" cy="641.2" r="0.9"/><circle cx="250.5" cy="641.6" r="1.2"/><circle cx="254.1" cy="641.2" r="1.3"/><circle cx="259.3" cy="643.5" r="1.2"/><circle cx="262.4" cy="640.8" r="1.2"/><circle cx="266.0" cy="642.4" r="0.9"/><circle cx="269.6" cy="640.6" r="1.2"/><circle cx="275.6" cy="641.9" r="1.1"/><circle cx="290.3" cy="642.7" r="1.0"/><circle cx="295.5" cy="642.0" r="1.1"/><circle cx="310.4" cy="643.2" r="1.2"/><circle cx="318.2" cy="640.3" r="1.2"/><circle cx="335.7" cy="641.7" r="1.1"/><circle cx="336.2" cy="641.9" r="1.4"/><circle cx="342.5" cy="640.8" r="1.1"/><circle cx="343.4" cy="641.0" r="1.1"/><circle cx="354.4" cy="640.9" r="1.3"/><circle cx="357.4" cy="640.3" r="0.9"/><circle cx="358.4" cy="643.2" r="1.1"/><circle cx="362.5" cy="642.4" r="1.4"/><circle cx="366.3" cy="643.0" r="1.4"/><circle cx="371.6" cy="642.5" r="1.4"/><circle cx="373.2" cy="640.8" r="1.0"/><circle cx="379.8" cy="642.8" r="1.1"/><circle cx="383.3" cy="642.1" r="1.4"/><circle cx="392.4" cy="643.7" r="1.4"/><circle cx="396.1" cy="641.2" r="1.4"/><circle cx="198.7" cy="644.8" r="1.1"/><circle cx="201.5" cy="645.2" r="1.0"/><circle cx="205.1" cy="646.1" r="1.2"/><circle cx="245.9" cy="646.8" r="1.1"/><circle cx="247.9" cy="646.2" r="1.0"/><circle cx="250.2" cy="645.6" r="1.2"/><circle cx="257.1" cy="645.9" r="1.3"/><circle cx="259.9" cy="645.9" r="1.0"/><circle cx="263.3" cy="646.8" r="1.1"/><circle cx="264.9" cy="644.0" r="1.0"/><circle cx="290.8" cy="644.6" r="1.1"/><circle cx="334.7" cy="644.1" r="1.1"/><circle cx="341.2" cy="647.5" r="1.3"/><circle cx="343.8" cy="647.4" r="1.0"/><circle cx="349.7" cy="644.7" r="0.9"/><circle cx="353.3" cy="644.1" r="1.1"/><circle cx="355.0" cy="646.0" r="1.4"/><circle cx="358.9" cy="645.9" r="1.3"/><circle cx="362.8" cy="646.6" r="1.4"/><circle cx="366.2" cy="644.2" r="1.1"/><circle cx="371.1" cy="645.4" r="1.3"/><circle cx="375.5" cy="645.0" r="1.0"/><circle cx="377.4" cy="644.4" r="1.3"/><circle cx="380.7" cy="644.3" r="1.3"/></g>
<polygon points="295.1,519.9 294.9,523.2 293.3,525.9 293.0,528.9 292.2,531.9 291.5,535.9 288.6,536.9 285.8,537.7 282.9,537.9 280.3,535.6 276.9,536.5 272.2,537.1 270.2,533.0 272.1,527.2 271.3,524.1 270.8,520.8 270.3,517.2 271.4,514.0 273.9,512.2 274.9,508.7 277.9,508.3 280.4,507.5 283.1,505.4 286.1,506.6 289.5,506.7 293.6,507.1 295.7,511.1 296.9,515.3" fill="#fdfafc" filter="url(#b2)"/>
<polygon points="348.1,506.0 347.3,507.5 346.3,508.8 345.0,509.9 343.4,510.7 342.6,512.7 340.5,513.6 338.0,512.8 335.6,513.3 333.7,512.2 333.4,510.0 329.9,510.5 328.1,509.3 327.1,507.7 325.8,506.0 327.1,504.3 330.5,503.5 329.6,501.3 332.1,500.8 333.2,499.1 335.9,499.6 338.0,500.6 339.8,500.4 341.1,501.5 343.3,501.3 346.4,501.3 348.2,502.6 349.8,504.1" fill="#fdfafc" filter="url(#b2)"/>
<polygon points="222.9,560.0 224.8,563.4 225.2,567.3 225.2,572.2 221.7,573.7 217.3,571.1 215.1,571.5 213.0,574.2 210.3,574.6 207.4,574.7 206.9,569.5 204.5,568.5 202.6,566.3 201.9,563.2 199.8,560.0 201.2,556.6 200.2,552.3 201.6,548.6 204.2,546.3 208.2,547.5 210.4,545.8 213.0,547.2 215.6,545.6 218.7,545.2 222.3,545.4 222.2,550.9 222.6,554.2 221.7,557.5" fill="#fbf5fa" filter="url(#b2)"/>
<polygon points="397.3,566.0 396.8,569.8 395.3,572.6 394.0,575.1 392.3,576.2 391.3,579.1 390.1,583.6 388.0,583.4 385.8,584.2 383.6,583.1 381.8,580.7 380.5,577.2 379.7,573.5 380.2,569.4 379.0,566.0 379.4,562.3 379.9,558.6 381.3,555.9 384.0,556.5 384.3,551.3 385.7,547.3 388.0,548.5 390.2,547.8 392.0,550.2 392.6,555.1 395.4,554.9 396.5,558.3 399.2,561.2" fill="#f8eef6" opacity="0.95" filter="url(#b2)"/>
<polygon points="369.0,616.0 369.5,618.2 368.3,620.3 364.1,620.9 361.2,621.2 359.6,622.4 357.5,623.4 355.0,623.3 352.2,624.3 350.2,622.6 346.7,622.9 344.5,621.6 343.3,619.7 341.0,618.1 342.3,616.0 344.7,614.4 343.8,612.4 346.2,611.3 346.4,608.8 349.4,608.2 352.4,608.4 355.0,609.1 357.4,609.1 360.4,608.5 362.7,609.5 363.9,611.3 363.8,613.2 368.0,614.0" fill="#fdfafc" filter="url(#b2)"/>
<polygon points="268.4,614.0 267.2,618.2 264.8,621.4 262.1,623.5 260.0,625.4 259.6,632.0 256.7,635.0 253.0,635.1 249.9,632.0 248.7,625.7 246.9,624.0 243.1,624.3 242.4,620.7 239.8,617.9 242.1,614.0 243.1,611.0 240.0,605.8 242.6,603.2 243.6,598.6 246.6,596.7 249.9,596.5 253.0,600.8 255.2,601.3 257.7,601.3 260.9,601.0 264.3,602.2 266.5,605.5 265.1,610.4" fill="#f8eef6" opacity="0.95" filter="url(#b2)"/>
<ellipse cx="324" cy="562" rx="19" ry="9" transform="rotate(-55 324 562)" fill="none" stroke="#eed4ea" stroke-width="7" filter="url(#b2)"/>
</g>
<g clip-path="url(#cp2)">
<rect x="402" y="498" width="195" height="146" fill="#e6acdf"/>
<ellipse cx="501" cy="551" rx="14" ry="12" fill="#f0c8ea" opacity="0.8" filter="url(#b3)"/>
<ellipse cx="505" cy="610" rx="14" ry="14" fill="#f0c6e8" opacity="0.7" filter="url(#b3)"/>
<ellipse cx="556" cy="526" rx="24" ry="14" fill="#f0c8ea" opacity="0.7" filter="url(#b3)"/>
<ellipse cx="524" cy="580" rx="12" ry="14" fill="#d88acf" opacity="0.8" filter="url(#b3)"/>
<ellipse cx="449" cy="577" rx="24" ry="50" fill="none" stroke="#d88fcf" stroke-width="1.4"/>
<ellipse cx="500" cy="552" rx="30" ry="28" fill="none" stroke="#d88fcf" stroke-width="1.4"/>
<ellipse cx="501" cy="611" rx="29" ry="31" fill="none" stroke="#d88fcf" stroke-width="1.4"/>
<ellipse cx="556" cy="526" rx="40" ry="26" fill="none" stroke="#d88fcf" stroke-width="1.4"/>
<ellipse cx="565" cy="576" rx="31" ry="25" fill="none" stroke="#d88fcf" stroke-width="1.4"/>
<ellipse cx="568" cy="622" rx="28" ry="24" fill="none" stroke="#d88fcf" stroke-width="1.4"/>
<ellipse cx="412" cy="585" rx="12" ry="60" fill="none" stroke="#d88fcf" stroke-width="1.4"/>
<g fill="#6a2d86" opacity="0.75"><circle cx="397.6" cy="496.1" r="1.0"/><circle cx="409.4" cy="496.9" r="1.3"/><circle cx="431.5" cy="494.8" r="1.1"/><circle cx="440.1" cy="497.5" r="1.0"/><circle cx="444.8" cy="494.2" r="0.8"/><circle cx="462.6" cy="493.8" r="1.2"/><circle cx="472.3" cy="494.6" r="1.0"/><circle cx="482.0" cy="495.8" r="0.9"/><circle cx="507.4" cy="493.2" r="1.1"/><circle cx="514.5" cy="495.3" r="1.1"/><circle cx="518.9" cy="495.6" r="0.9"/><circle cx="532.3" cy="496.2" r="1.2"/><circle cx="542.6" cy="498.0" r="0.8"/><circle cx="551.9" cy="495.6" r="1.1"/><circle cx="556.2" cy="493.6" r="1.2"/><circle cx="567.3" cy="494.1" r="1.1"/><circle cx="577.8" cy="497.7" r="1.1"/><circle cx="399.9" cy="498.3" r="1.2"/><circle cx="406.9" cy="502.3" r="1.3"/><circle cx="408.1" cy="502.1" r="0.9"/><circle cx="416.5" cy="500.3" r="0.9"/><circle cx="420.8" cy="499.5" r="1.0"/><circle cx="433.9" cy="501.4" r="1.2"/><circle cx="438.7" cy="502.3" r="1.3"/><circle cx="453.5" cy="499.0" r="1.1"/><circle cx="463.6" cy="500.2" r="1.2"/><circle cx="467.5" cy="501.5" r="0.9"/><circle cx="486.4" cy="500.0" r="1.0"/><circle cx="502.3" cy="498.7" r="0.8"/><circle cx="509.2" cy="500.1" r="1.1"/><circle cx="513.4" cy="498.5" r="1.2"/><circle cx="520.7" cy="499.8" r="1.0"/><circle cx="531.5" cy="502.8" r="1.0"/><circle cx="544.2" cy="502.3" r="1.2"/><circle cx="558.4" cy="502.2" r="1.2"/><circle cx="563.7" cy="501.7" r="1.1"/><circle cx="566.7" cy="500.4" r="1.3"/><circle cx="580.8" cy="501.0" r="1.2"/><circle cx="592.2" cy="499.2" r="1.2"/><circle cx="599.0" cy="499.1" r="0.9"/><circle cx="399.4" cy="503.4" r="1.0"/><circle cx="416.5" cy="503.4" r="1.1"/><circle cx="425.6" cy="505.7" r="0.9"/><circle cx="429.8" cy="507.1" r="0.8"/><circle cx="438.6" cy="504.1" r="1.2"/><circle cx="445.3" cy="507.0" r="1.0"/><circle cx="452.5" cy="507.5" r="1.2"/><circle cx="500.0" cy="507.3" r="1.2"/><circle cx="501.5" cy="505.5" r="1.0"/><circle cx="512.0" cy="504.6" r="1.0"/><circle cx="518.9" cy="507.8" r="1.2"/><circle cx="524.2" cy="503.8" r="1.2"/><circle cx="526.5" cy="506.0" r="0.8"/><circle cx="535.6" cy="504.9" r="1.2"/><circle cx="539.3" cy="507.6" r="1.0"/><circle cx="541.0" cy="507.8" r="1.3"/><circle cx="549.2" cy="506.2" r="1.1"/><circle cx="551.8" cy="507.7" r="0.8"/><circle cx="555.9" cy="506.5" r="1.3"/><circle cx="560.8" cy="505.6" r="1.0"/><circle cx="569.9" cy="506.1" r="1.2"/><circle cx="573.8" cy="506.1" r="0.8"/><circle cx="576.0" cy="504.4" r="1.2"/><circle cx="584.5" cy="506.8" r="1.0"/><circle cx="597.6" cy="503.0" r="1.3"/><circle cx="403.3" cy="508.6" r="1.0"/><circle cx="411.0" cy="510.8" r="0.8"/><circle cx="417.3" cy="508.6" r="0.9"/><circle cx="424.6" cy="512.2" r="0.8"/><circle cx="432.3" cy="510.8" r="1.2"/><circle cx="446.5" cy="511.0" r="0.9"/><circle cx="455.6" cy="509.1" r="1.0"/><circle cx="490.6" cy="511.6" r="1.1"/><circle cx="496.9" cy="510.9" r="1.1"/><circle cx="505.8" cy="508.4" r="0.9"/><circle cx="507.5" cy="512.3" r="1.1"/><circle cx="525.7" cy="509.1" r="1.0"/><circle cx="527.0" cy="508.5" r="0.9"/><circle cx="534.7" cy="509.3" r="0.9"/><circle cx="539.3" cy="510.9" r="1.0"/><circle cx="552.0" cy="508.4" r="1.2"/><circle cx="559.0" cy="511.7" r="1.1"/><circle cx="562.7" cy="509.2" r="0.9"/><circle cx="566.6" cy="510.1" r="1.0"/><circle cx="573.0" cy="510.3" r="1.2"/><circle cx="576.8" cy="512.1" r="1.3"/><circle cx="581.5" cy="508.2" r="1.1"/><circle cx="405.6" cy="513.6" r="0.8"/><circle cx="409.9" cy="515.3" r="1.3"/><circle cx="431.5" cy="516.9" r="1.3"/><circle cx="443.4" cy="513.8" r="1.0"/><circle cx="447.2" cy="514.5" r="1.1"/><circle cx="456.4" cy="516.4" r="1.2"/><circle cx="460.8" cy="516.8" r="1.1"/><circle cx="496.0" cy="515.7" r="1.3"/><circle cx="503.3" cy="514.9" r="1.2"/><circle cx="507.3" cy="514.9" r="0.9"/><circle cx="511.1" cy="515.8" r="1.0"/><circle cx="525.5" cy="515.2" r="0.9"/><circle cx="527.3" cy="513.1" r="0.9"/><circle cx="532.4" cy="515.4" r="0.9"/><circle cx="538.4" cy="513.2" r="1.2"/><circle cx="541.7" cy="515.5" r="0.9"/><circle cx="546.2" cy="517.6" r="1.2"/><circle cx="558.7" cy="513.4" r="1.0"/><circle cx="571.3" cy="516.6" r="1.2"/><circle cx="584.0" cy="515.2" r="1.3"/><circle cx="587.1" cy="516.5" r="1.3"/><circle cx="402.9" cy="518.3" r="1.0"/><circle cx="416.5" cy="519.4" r="1.1"/><circle cx="417.9" cy="522.5" r="1.0"/><circle cx="423.4" cy="518.8" r="1.1"/><circle cx="428.8" cy="522.0" r="0.9"/><circle cx="433.7" cy="519.8" r="0.9"/><circle cx="442.4" cy="520.8" r="0.8"/><circle cx="448.0" cy="521.6" r="1.0"/><circle cx="455.7" cy="519.5" r="1.2"/><circle cx="460.6" cy="520.4" r="1.2"/><circle cx="470.9" cy="521.6" r="1.2"/><circle cx="474.7" cy="521.5" r="1.0"/><circle cx="484.2" cy="518.4" r="1.2"/><circle cx="496.2" cy="521.1" r="0.9"/><circle cx="506.9" cy="518.7" r="1.2"/><circle cx="525.6" cy="520.5" r="1.0"/><circle cx="527.3" cy="520.8" r="1.2"/><circle cx="533.9" cy="520.5" r="0.8"/><circle cx="536.8" cy="521.3" r="0.9"/><circle cx="555.3" cy="519.1" r="0.8"/><circle cx="555.9" cy="521.0" r="1.0"/><circle cx="566.3" cy="518.6" r="0.9"/><circle cx="575.8" cy="518.7" r="1.2"/><circle cx="581.7" cy="518.3" r="1.1"/><circle cx="585.9" cy="521.2" r="1.0"/><circle cx="594.1" cy="520.9" r="1.1"/><circle cx="408.8" cy="524.1" r="1.2"/><circle cx="426.7" cy="523.6" r="1.2"/><circle cx="431.0" cy="526.3" r="0.8"/><circle cx="472.3" cy="526.0" r="1.3"/><circle cx="477.5" cy="524.3" r="0.8"/><circle cx="484.2" cy="526.2" r="1.3"/><circle cx="489.3" cy="523.8" r="0.9"/><circle cx="494.4" cy="524.9" r="1.2"/><circle cx="500.3" cy="526.3" r="1.2"/><circle cx="504.0" cy="526.1" r="0.9"/><circle cx="508.5" cy="526.8" r="0.9"/><circle cx="513.3" cy="524.4" r="1.1"/><circle cx="518.9" cy="523.1" r="1.3"/><circle cx="522.9" cy="523.5" r="1.0"/><circle cx="526.4" cy="523.5" r="1.1"/><circle cx="533.7" cy="526.6" r="0.9"/><circle cx="538.6" cy="527.1" r="1.0"/><circle cx="543.8" cy="526.9" r="1.1"/><circle cx="556.4" cy="523.9" r="1.1"/><circle cx="565.0" cy="527.0" r="1.2"/><circle cx="566.8" cy="525.5" r="1.3"/><circle cx="580.5" cy="527.5" r="1.1"/><circle cx="589.3" cy="527.3" r="1.1"/><circle cx="590.2" cy="524.9" r="0.9"/><circle cx="409.2" cy="529.4" r="1.0"/><circle cx="432.6" cy="530.9" r="0.9"/><circle cx="440.4" cy="528.5" r="1.1"/><circle cx="446.5" cy="529.9" r="0.9"/><circle cx="447.3" cy="527.7" r="0.8"/><circle cx="452.1" cy="532.3" r="0.8"/><circle cx="456.5" cy="530.0" r="1.1"/><circle cx="480.8" cy="528.4" r="1.2"/><circle cx="486.0" cy="528.1" r="0.9"/><circle cx="488.9" cy="531.8" r="1.0"/><circle cx="491.2" cy="531.6" r="0.9"/><circle cx="496.2" cy="529.9" r="1.3"/><circle cx="501.2" cy="528.0" r="1.3"/><circle cx="508.0" cy="528.4" r="1.2"/><circle cx="512.3" cy="528.9" r="0.9"/><circle cx="518.2" cy="528.6" r="0.9"/><circle cx="523.6" cy="531.7" r="1.2"/><circle cx="528.6" cy="532.4" r="0.9"/><circle cx="552.1" cy="527.7" r="0.9"/><circle cx="558.2" cy="529.9" r="0.9"/><circle cx="564.4" cy="532.1" r="1.1"/><circle cx="565.5" cy="528.5" r="1.0"/><circle cx="579.6" cy="530.0" r="1.0"/><circle cx="589.0" cy="529.4" r="1.0"/><circle cx="590.2" cy="531.7" r="1.3"/><circle cx="406.7" cy="533.9" r="1.1"/><circle cx="408.6" cy="536.7" r="1.0"/><circle cx="415.9" cy="534.7" r="0.9"/><circle cx="421.7" cy="537.4" r="1.2"/><circle cx="430.5" cy="534.8" r="1.3"/><circle cx="440.9" cy="534.9" r="1.0"/><circle cx="442.8" cy="537.5" r="0.9"/><circle cx="448.6" cy="533.5" r="1.0"/><circle cx="454.3" cy="533.2" r="1.0"/><circle cx="460.0" cy="533.3" r="1.2"/><circle cx="463.7" cy="534.8" r="0.9"/><circle cx="475.3" cy="536.5" r="1.0"/><circle cx="476.9" cy="536.1" r="0.9"/><circle cx="484.0" cy="536.1" r="1.2"/><circle cx="488.2" cy="533.1" r="1.3"/><circle cx="500.4" cy="533.2" r="1.3"/><circle cx="504.8" cy="536.2" r="0.8"/><circle cx="509.6" cy="532.7" r="1.1"/><circle cx="513.7" cy="535.8" r="1.1"/><circle cx="520.4" cy="536.4" r="1.0"/><circle cx="521.5" cy="536.5" r="0.8"/><circle cx="529.9" cy="533.1" r="1.2"/><circle cx="534.4" cy="534.7" r="1.0"/><circle cx="539.9" cy="535.9" r="1.1"/><circle cx="544.0" cy="533.3" r="0.9"/><circle cx="547.0" cy="534.0" r="1.2"/><circle cx="554.3" cy="533.8" r="0.9"/><circle cx="568.7" cy="537.3" r="0.9"/><circle cx="572.5" cy="536.6" r="1.1"/><circle cx="582.9" cy="537.3" r="1.0"/><circle cx="590.0" cy="536.7" r="1.0"/><circle cx="594.0" cy="534.9" r="1.0"/><circle cx="405.0" cy="539.4" r="0.8"/><circle cx="408.4" cy="540.2" r="1.1"/><circle cx="414.5" cy="541.3" r="1.0"/><circle cx="418.8" cy="538.0" r="1.1"/><circle cx="434.3" cy="539.7" r="1.3"/><circle cx="441.4" cy="541.9" r="1.2"/><circle cx="459.5" cy="540.7" r="1.1"/><circle cx="463.9" cy="539.1" r="0.9"/><circle cx="474.2" cy="539.3" r="1.2"/><circle cx="479.8" cy="540.6" r="0.9"/><circle cx="484.0" cy="540.9" r="1.1"/><circle cx="489.2" cy="540.8" r="1.0"/><circle cx="495.3" cy="539.9" r="1.0"/><circle cx="504.0" cy="541.2" r="1.1"/><circle cx="510.6" cy="541.4" r="1.1"/><circle cx="518.8" cy="539.7" r="1.2"/><circle cx="522.2" cy="541.3" r="0.8"/><circle cx="527.9" cy="541.1" r="1.2"/><circle cx="534.9" cy="539.6" r="1.3"/><circle cx="539.8" cy="540.0" r="1.2"/><circle cx="557.0" cy="542.0" r="1.0"/><circle cx="566.3" cy="539.9" r="1.0"/><circle cx="579.6" cy="540.0" r="1.0"/><circle cx="582.7" cy="542.2" r="1.0"/><circle cx="586.2" cy="541.4" r="0.8"/><circle cx="594.5" cy="541.1" r="0.8"/><circle cx="397.3" cy="543.0" r="0.8"/><circle cx="402.8" cy="545.7" r="1.2"/><circle cx="409.3" cy="547.2" r="1.1"/><circle cx="414.8" cy="545.5" r="1.0"/><circle cx="416.9" cy="546.0" r="1.0"/><circle cx="428.0" cy="547.3" r="1.2"/><circle cx="432.0" cy="545.1" r="1.2"/><circle cx="462.6" cy="544.1" r="1.0"/><circle cx="475.2" cy="547.4" r="1.1"/><circle cx="476.7" cy="545.8" r="1.2"/><circle cx="484.3" cy="543.2" r="1.2"/><circle cx="490.8" cy="542.8" r="1.2"/><circle cx="492.9" cy="545.2" r="1.0"/><circle cx="500.1" cy="542.6" r="1.0"/><circle cx="504.6" cy="545.3" r="1.0"/><circle cx="506.9" cy="545.6" r="0.9"/><circle cx="516.8" cy="542.8" r="0.8"/><circle cx="525.6" cy="543.6" r="1.0"/><circle cx="530.3" cy="547.1" r="1.2"/><circle cx="534.9" cy="546.3" r="1.2"/><circle cx="536.3" cy="544.9" r="1.0"/><circle cx="544.4" cy="547.0" r="1.2"/><circle cx="546.2" cy="543.3" r="1.3"/><circle cx="554.9" cy="546.7" r="0.9"/><circle cx="556.0" cy="547.3" r="0.9"/><circle cx="562.9" cy="542.8" r="1.3"/><circle cx="569.0" cy="544.0" r="1.1"/><circle cx="574.0" cy="543.9" r="0.8"/><circle cx="578.4" cy="543.8" r="1.0"/><circle cx="582.0" cy="542.9" r="1.2"/><circle cx="589.6" cy="546.3" r="1.2"/><circle cx="595.7" cy="543.5" r="1.0"/><circle cx="402.4" cy="548.9" r="0.8"/><circle cx="409.3" cy="549.6" r="1.0"/><circle cx="413.8" cy="549.2" r="1.3"/><circle cx="420.8" cy="551.7" r="1.0"/><circle cx="424.6" cy="551.4" r="1.2"/><circle cx="428.7" cy="549.6" r="0.9"/><circle cx="432.3" cy="549.4" r="1.1"/><circle cx="437.6" cy="552.1" r="1.2"/><circle cx="463.9" cy="551.4" r="1.2"/><circle cx="467.2" cy="550.5" r="1.2"/><circle cx="471.6" cy="548.4" r="1.0"/><circle cx="487.7" cy="549.1" r="1.2"/><circle cx="494.3" cy="550.5" r="1.0"/><circle cx="499.6" cy="548.7" r="1.1"/><circle cx="505.6" cy="552.3" r="0.9"/><circle cx="506.1" cy="549.4" r="1.3"/><circle cx="520.0" cy="552.3" r="1.2"/><circle cx="525.7" cy="549.1" r="1.2"/><circle cx="527.5" cy="549.4" r="1.0"/><circle cx="534.0" cy="549.7" r="1.0"/><circle cx="546.5" cy="550.3" r="0.9"/><circle cx="552.1" cy="547.6" r="1.0"/><circle cx="557.4" cy="550.9" r="1.0"/><circle cx="562.8" cy="549.5" r="1.0"/><circle cx="567.2" cy="552.0" r="1.2"/><circle cx="572.6" cy="552.1" r="0.9"/><circle cx="592.4" cy="550.3" r="1.1"/><circle cx="599.3" cy="550.6" r="1.0"/><circle cx="405.7" cy="552.9" r="1.2"/><circle cx="410.5" cy="555.7" r="1.0"/><circle cx="413.0" cy="554.5" r="0.9"/><circle cx="418.9" cy="553.8" r="1.1"/><circle cx="435.9" cy="557.1" r="0.9"/><circle cx="467.0" cy="552.9" r="1.0"/><circle cx="473.4" cy="552.6" r="0.9"/><circle cx="478.8" cy="556.3" r="1.3"/><circle cx="481.2" cy="554.0" r="1.1"/><circle cx="493.8" cy="552.6" r="0.9"/><circle cx="501.7" cy="553.2" r="1.1"/><circle cx="509.3" cy="555.8" r="1.0"/><circle cx="525.7" cy="555.3" r="1.1"/><circle cx="525.8" cy="552.7" r="1.2"/><circle cx="542.5" cy="553.3" r="1.2"/><circle cx="545.9" cy="556.5" r="1.2"/><circle cx="552.7" cy="555.7" r="1.1"/><circle cx="556.1" cy="552.6" r="1.1"/><circle cx="562.4" cy="552.6" r="0.9"/><circle cx="567.3" cy="556.9" r="1.1"/><circle cx="573.8" cy="555.9" r="1.1"/><circle cx="578.8" cy="554.8" r="1.3"/><circle cx="582.0" cy="553.7" r="1.0"/><circle cx="586.4" cy="554.7" r="0.9"/><circle cx="593.7" cy="556.6" r="1.3"/><circle cx="400.5" cy="558.3" r="1.1"/><circle cx="402.9" cy="558.9" r="0.8"/><circle cx="411.0" cy="562.3" r="1.1"/><circle cx="414.2" cy="560.2" r="1.3"/><circle cx="420.8" cy="558.8" r="1.1"/><circle cx="428.2" cy="557.6" r="1.2"/><circle cx="435.6" cy="558.5" r="1.1"/><circle cx="450.3" cy="559.9" r="1.0"/><circle cx="464.1" cy="559.4" r="1.0"/><circle cx="469.9" cy="562.3" r="0.8"/><circle cx="471.5" cy="559.6" r="1.1"/><circle cx="479.9" cy="562.1" r="1.1"/><circle cx="484.2" cy="557.7" r="1.0"/><circle cx="490.5" cy="557.6" r="1.1"/><circle cx="493.4" cy="560.0" r="0.9"/><circle cx="499.1" cy="560.1" r="1.0"/><circle cx="509.5" cy="561.2" r="1.1"/><circle cx="516.1" cy="562.0" r="1.1"/><circle cx="521.6" cy="559.7" r="1.3"/><circle cx="526.2" cy="561.5" r="1.1"/><circle cx="539.3" cy="561.7" r="1.3"/><circle cx="542.1" cy="560.0" r="1.1"/><circle cx="550.2" cy="562.2" r="0.9"/><circle cx="552.5" cy="558.3" r="0.8"/><circle cx="558.5" cy="558.5" r="0.9"/><circle cx="562.6" cy="561.2" r="0.8"/><circle cx="575.4" cy="561.4" r="1.0"/><circle cx="581.5" cy="558.8" r="1.3"/><circle cx="588.6" cy="559.9" r="0.8"/><circle cx="399.4" cy="564.2" r="1.1"/><circle cx="403.1" cy="563.8" r="0.9"/><circle cx="408.7" cy="567.2" r="1.2"/><circle cx="415.2" cy="563.5" r="1.1"/><circle cx="420.8" cy="565.3" r="1.2"/><circle cx="430.1" cy="567.0" r="1.0"/><circle cx="435.1" cy="565.2" r="1.3"/><circle cx="468.9" cy="564.6" r="1.3"/><circle cx="473.4" cy="565.2" r="1.2"/><circle cx="477.6" cy="564.3" r="0.9"/><circle cx="481.9" cy="565.1" r="1.2"/><circle cx="487.6" cy="563.9" r="1.3"/><circle cx="503.0" cy="567.1" r="0.9"/><circle cx="506.6" cy="565.4" r="0.8"/><circle cx="520.4" cy="565.3" r="1.2"/><circle cx="524.6" cy="563.7" r="0.9"/><circle cx="528.6" cy="566.2" r="0.9"/><circle cx="539.4" cy="562.9" r="1.0"/><circle cx="542.1" cy="563.0" r="1.0"/><circle cx="548.7" cy="565.1" r="1.1"/><circle cx="554.0" cy="562.9" r="0.8"/><circle cx="555.6" cy="562.9" r="1.3"/><circle cx="562.1" cy="566.3" r="0.9"/><circle cx="570.3" cy="566.8" r="1.0"/><circle cx="576.3" cy="565.7" r="1.3"/><circle cx="582.4" cy="566.8" r="1.1"/><circle cx="587.3" cy="565.2" r="1.1"/><circle cx="594.0" cy="565.9" r="0.9"/><circle cx="397.1" cy="570.4" r="1.1"/><circle cx="404.3" cy="567.9" r="1.0"/><circle cx="408.7" cy="571.8" r="1.0"/><circle cx="416.1" cy="569.5" r="1.1"/><circle cx="416.9" cy="569.4" r="0.9"/><circle cx="425.9" cy="569.5" r="1.2"/><circle cx="430.1" cy="570.0" r="0.9"/><circle cx="446.5" cy="569.4" r="0.9"/><circle cx="449.8" cy="570.8" r="1.0"/><circle cx="456.0" cy="572.2" r="1.2"/><circle cx="466.1" cy="571.9" r="0.8"/><circle cx="467.1" cy="570.1" r="1.2"/><circle cx="477.3" cy="568.0" r="0.9"/><circle cx="482.3" cy="568.8" r="1.3"/><circle cx="488.6" cy="570.7" r="0.9"/><circle cx="500.6" cy="568.6" r="1.2"/><circle cx="501.8" cy="567.4" r="0.9"/><circle cx="508.1" cy="571.1" r="1.1"/><circle cx="515.5" cy="569.0" r="0.9"/><circle cx="520.1" cy="569.0" r="1.1"/><circle cx="523.1" cy="572.0" r="1.2"/><circle cx="527.1" cy="568.9" r="1.1"/><circle cx="531.3" cy="568.7" r="1.1"/><circle cx="536.8" cy="571.7" r="1.1"/><circle cx="541.6" cy="567.9" r="0.9"/><circle cx="548.6" cy="568.4" r="1.2"/><circle cx="559.3" cy="569.5" r="1.1"/><circle cx="562.4" cy="568.5" r="0.9"/><circle cx="573.2" cy="567.6" r="0.8"/><circle cx="583.6" cy="569.6" r="1.3"/><circle cx="589.4" cy="568.9" r="0.8"/><circle cx="592.2" cy="567.6" r="0.9"/><circle cx="597.9" cy="570.4" r="1.3"/><circle cx="403.7" cy="576.9" r="0.8"/><circle cx="407.7" cy="575.5" r="1.2"/><circle cx="414.5" cy="576.9" r="0.9"/><circle cx="419.0" cy="573.7" r="1.2"/><circle cx="426.1" cy="576.7" r="1.2"/><circle cx="427.1" cy="573.3" r="1.2"/><circle cx="444.2" cy="573.7" r="1.2"/><circle cx="448.3" cy="574.9" r="1.0"/><circle cx="466.4" cy="576.3" r="1.3"/><circle cx="470.8" cy="572.5" r="0.8"/><circle cx="475.6" cy="572.4" r="1.1"/><circle cx="483.7" cy="574.6" r="1.2"/><circle cx="486.6" cy="572.8" r="1.2"/><circle cx="495.0" cy="574.3" r="1.0"/><circle cx="496.4" cy="573.4" r="1.3"/><circle cx="503.1" cy="577.0" r="1.0"/><circle cx="508.5" cy="577.1" r="1.3"/><circle cx="515.2" cy="576.9" r="1.1"/><circle cx="540.6" cy="575.6" r="1.2"/><circle cx="542.6" cy="575.9" r="1.1"/><circle cx="546.7" cy="572.9" r="1.0"/><circle cx="555.8" cy="575.1" r="0.9"/><circle cx="563.1" cy="574.1" r="1.0"/><circle cx="566.9" cy="574.0" r="1.3"/><circle cx="574.6" cy="576.6" r="1.2"/><circle cx="585.6" cy="575.5" r="1.2"/><circle cx="592.3" cy="573.2" r="0.9"/><circle cx="597.1" cy="573.1" r="1.3"/><circle cx="399.5" cy="580.9" r="0.9"/><circle cx="406.3" cy="579.4" r="0.9"/><circle cx="408.8" cy="577.9" r="1.2"/><circle cx="416.8" cy="578.7" r="0.9"/><circle cx="418.7" cy="578.1" r="1.0"/><circle cx="427.9" cy="578.7" r="1.1"/><circle cx="433.3" cy="581.6" r="1.3"/><circle cx="451.0" cy="581.5" r="1.1"/><circle cx="455.2" cy="579.8" r="1.1"/><circle cx="468.0" cy="580.2" r="1.0"/><circle cx="475.1" cy="580.6" r="0.9"/><circle cx="480.8" cy="580.3" r="1.3"/><circle cx="495.9" cy="581.4" r="0.9"/><circle cx="497.8" cy="580.8" r="0.9"/><circle cx="503.2" cy="579.9" r="0.9"/><circle cx="519.7" cy="579.3" r="0.9"/><circle cx="535.4" cy="581.0" r="1.3"/><circle cx="539.7" cy="581.7" r="1.3"/><circle cx="542.6" cy="581.1" r="0.8"/><circle cx="557.8" cy="582.1" r="0.9"/><circle cx="560.7" cy="580.9" r="1.3"/><circle cx="567.4" cy="580.3" r="0.9"/><circle cx="570.5" cy="581.8" r="1.0"/><circle cx="591.1" cy="579.3" r="1.1"/><circle cx="595.8" cy="580.0" r="1.0"/><circle cx="401.9" cy="585.9" r="0.9"/><circle cx="406.8" cy="585.6" r="1.1"/><circle cx="408.6" cy="585.3" r="0.8"/><circle cx="415.8" cy="586.0" r="1.1"/><circle cx="418.9" cy="584.4" r="0.8"/><circle cx="421.9" cy="582.4" r="1.2"/><circle cx="431.2" cy="584.3" r="0.9"/><circle cx="432.0" cy="583.5" r="0.9"/><circle cx="444.3" cy="586.1" r="1.2"/><circle cx="470.7" cy="585.0" r="1.3"/><circle cx="472.5" cy="585.1" r="1.2"/><circle cx="483.7" cy="585.9" r="1.0"/><circle cx="491.0" cy="582.8" r="0.8"/><circle cx="495.0" cy="584.4" r="1.3"/><circle cx="496.1" cy="586.1" r="1.1"/><circle cx="504.0" cy="586.3" r="0.9"/><circle cx="507.2" cy="583.8" r="0.9"/><circle cx="512.6" cy="583.1" r="0.9"/><circle cx="515.9" cy="584.2" r="0.8"/><circle cx="523.5" cy="586.7" r="1.1"/><circle cx="529.2" cy="584.7" r="1.1"/><circle cx="533.1" cy="586.4" r="1.0"/><circle cx="537.7" cy="586.0" r="0.8"/><circle cx="545.4" cy="586.2" r="1.0"/><circle cx="548.0" cy="586.9" r="1.0"/><circle cx="554.8" cy="583.7" r="1.1"/><circle cx="557.0" cy="585.6" r="1.2"/><circle cx="564.1" cy="583.6" r="1.1"/><circle cx="566.2" cy="583.4" r="1.0"/><circle cx="571.6" cy="587.1" r="1.0"/><circle cx="587.3" cy="582.8" r="0.8"/><circle cx="590.2" cy="585.6" r="1.2"/><circle cx="398.3" cy="591.3" r="1.3"/><circle cx="402.8" cy="591.3" r="1.2"/><circle cx="416.0" cy="590.6" r="1.1"/><circle cx="421.0" cy="590.4" r="0.9"/><circle cx="425.8" cy="588.2" r="1.0"/><circle cx="426.8" cy="589.7" r="1.2"/><circle cx="433.8" cy="591.2" r="1.3"/><circle cx="452.5" cy="591.8" r="0.8"/><circle cx="471.0" cy="591.8" r="0.9"/><circle cx="471.6" cy="587.7" r="0.9"/><circle cx="481.1" cy="588.5" r="1.1"/><circle cx="485.5" cy="592.0" r="0.8"/><circle cx="487.9" cy="588.3" r="1.2"/><circle cx="493.6" cy="589.6" r="0.8"/><circle cx="501.3" cy="590.2" r="0.8"/><circle cx="510.1" cy="588.4" r="1.3"/><circle cx="513.1" cy="589.2" r="1.0"/><circle cx="517.2" cy="591.0" r="1.3"/><circle cx="539.4" cy="590.7" r="0.9"/><circle cx="541.5" cy="587.7" r="0.9"/><circle cx="548.9" cy="589.6" r="0.9"/><circle cx="552.5" cy="590.7" r="1.3"/><circle cx="555.9" cy="589.8" r="1.0"/><circle cx="564.7" cy="591.4" r="0.8"/><circle cx="574.5" cy="590.0" r="0.9"/><circle cx="576.5" cy="588.5" r="0.9"/><circle cx="582.9" cy="590.2" r="0.9"/><circle cx="588.5" cy="587.5" r="1.1"/><circle cx="592.2" cy="588.8" r="1.2"/><circle cx="402.2" cy="596.2" r="0.8"/><circle cx="410.7" cy="594.2" r="0.8"/><circle cx="420.9" cy="592.9" r="0.9"/><circle cx="425.4" cy="595.4" r="1.1"/><circle cx="427.8" cy="592.7" r="1.0"/><circle cx="431.8" cy="595.7" r="1.1"/><circle cx="449.7" cy="592.9" r="1.1"/><circle cx="451.9" cy="594.3" r="1.3"/><circle cx="465.8" cy="593.1" r="0.8"/><circle cx="467.6" cy="596.5" r="1.0"/><circle cx="478.3" cy="593.7" r="0.9"/><circle cx="483.4" cy="594.2" r="0.9"/><circle cx="487.6" cy="593.5" r="1.2"/><circle cx="491.2" cy="596.3" r="1.3"/><circle cx="496.3" cy="595.5" r="1.1"/><circle cx="513.1" cy="595.5" r="1.1"/><circle cx="519.2" cy="596.1" r="0.8"/><circle cx="521.9" cy="596.1" r="1.1"/><circle cx="533.2" cy="594.1" r="0.9"/><circle cx="546.3" cy="596.7" r="1.3"/><circle cx="552.4" cy="597.0" r="1.1"/><circle cx="559.5" cy="595.7" r="1.0"/><circle cx="565.1" cy="595.9" r="1.2"/><circle cx="571.9" cy="593.2" r="1.1"/><circle cx="575.7" cy="594.0" r="1.3"/><circle cx="580.7" cy="593.5" r="1.1"/><circle cx="586.1" cy="594.0" r="1.1"/><circle cx="403.5" cy="600.2" r="1.3"/><circle cx="407.5" cy="600.0" r="1.1"/><circle cx="412.8" cy="599.8" r="0.9"/><circle cx="420.3" cy="598.9" r="1.1"/><circle cx="422.4" cy="601.3" r="1.0"/><circle cx="426.9" cy="597.3" r="1.1"/><circle cx="435.1" cy="598.9" r="1.2"/><circle cx="475.8" cy="597.1" r="1.2"/><circle cx="481.1" cy="598.8" r="1.1"/><circle cx="483.2" cy="600.4" r="1.2"/><circle cx="497.7" cy="601.7" r="0.9"/><circle cx="505.9" cy="598.5" r="1.3"/><circle cx="507.2" cy="599.0" r="1.1"/><circle cx="511.7" cy="599.3" r="0.8"/><circle cx="524.9" cy="597.1" r="1.0"/><circle cx="530.1" cy="598.9" r="1.0"/><circle cx="531.7" cy="598.7" r="0.9"/><circle cx="554.7" cy="599.1" r="1.2"/><circle cx="556.9" cy="601.6" r="1.3"/><circle cx="564.0" cy="599.0" r="1.3"/><circle cx="570.2" cy="601.0" r="1.0"/><circle cx="575.0" cy="601.1" r="1.3"/><circle cx="575.5" cy="599.2" r="1.1"/><circle cx="580.9" cy="601.0" r="0.9"/><circle cx="599.9" cy="599.7" r="0.9"/><circle cx="398.5" cy="604.4" r="1.0"/><circle cx="406.9" cy="606.9" r="0.9"/><circle cx="408.8" cy="604.3" r="1.0"/><circle cx="413.5" cy="606.2" r="1.1"/><circle cx="419.8" cy="604.1" r="1.2"/><circle cx="422.7" cy="602.4" r="1.1"/><circle cx="435.9" cy="604.0" r="1.0"/><circle cx="437.6" cy="604.2" r="1.0"/><circle cx="465.6" cy="605.2" r="0.9"/><circle cx="467.0" cy="605.3" r="1.0"/><circle cx="472.8" cy="606.5" r="1.1"/><circle cx="484.2" cy="604.7" r="0.9"/><circle cx="490.8" cy="604.7" r="1.1"/><circle cx="495.0" cy="605.5" r="1.2"/><circle cx="514.0" cy="602.9" r="0.9"/><circle cx="525.4" cy="606.8" r="1.2"/><circle cx="529.1" cy="605.4" r="1.2"/><circle cx="541.9" cy="605.1" r="1.0"/><circle cx="551.5" cy="602.9" r="0.9"/><circle cx="558.0" cy="602.0" r="1.0"/><circle cx="564.2" cy="604.2" r="1.2"/><circle cx="567.8" cy="604.9" r="0.8"/><circle cx="572.6" cy="606.7" r="1.1"/><circle cx="575.8" cy="602.7" r="0.9"/><circle cx="583.0" cy="602.8" r="1.2"/><circle cx="585.9" cy="603.1" r="1.3"/><circle cx="406.6" cy="607.5" r="1.3"/><circle cx="411.5" cy="607.8" r="1.1"/><circle cx="415.9" cy="611.8" r="1.0"/><circle cx="421.7" cy="607.3" r="1.2"/><circle cx="430.7" cy="607.5" r="1.2"/><circle cx="435.6" cy="610.1" r="1.1"/><circle cx="469.0" cy="610.7" r="1.2"/><circle cx="475.5" cy="609.8" r="1.2"/><circle cx="478.2" cy="607.1" r="0.9"/><circle cx="488.9" cy="607.0" r="1.2"/><circle cx="492.2" cy="607.3" r="0.9"/><circle cx="500.2" cy="607.9" r="0.8"/><circle cx="505.5" cy="609.9" r="0.9"/><circle cx="508.8" cy="607.9" r="0.9"/><circle cx="517.4" cy="610.8" r="0.8"/><circle cx="524.9" cy="609.6" r="1.0"/><circle cx="527.8" cy="611.7" r="1.1"/><circle cx="535.5" cy="607.1" r="1.0"/><circle cx="550.4" cy="607.5" r="1.3"/><circle cx="553.7" cy="611.4" r="1.3"/><circle cx="555.9" cy="607.5" r="0.9"/><circle cx="572.0" cy="608.5" r="0.9"/><circle cx="579.0" cy="610.8" r="0.9"/><circle cx="583.3" cy="607.1" r="0.9"/><circle cx="587.9" cy="611.7" r="0.8"/><circle cx="591.0" cy="610.3" r="1.2"/><circle cx="598.4" cy="608.3" r="1.2"/><circle cx="397.6" cy="616.5" r="0.8"/><circle cx="406.6" cy="612.7" r="1.2"/><circle cx="411.8" cy="614.1" r="0.9"/><circle cx="413.6" cy="612.0" r="1.2"/><circle cx="419.6" cy="612.5" r="1.3"/><circle cx="426.9" cy="615.1" r="1.0"/><circle cx="438.8" cy="612.1" r="0.9"/><circle cx="463.9" cy="612.6" r="0.9"/><circle cx="468.9" cy="615.8" r="1.1"/><circle cx="475.8" cy="616.3" r="1.1"/><circle cx="477.9" cy="613.9" r="1.2"/><circle cx="482.9" cy="613.6" r="0.8"/><circle cx="486.2" cy="613.2" r="1.1"/><circle cx="493.3" cy="614.2" r="1.1"/><circle cx="498.3" cy="614.6" r="0.9"/><circle cx="508.6" cy="614.3" r="1.2"/><circle cx="518.6" cy="615.4" r="0.9"/><circle cx="525.1" cy="613.2" r="1.1"/><circle cx="528.9" cy="616.4" r="1.2"/><circle cx="535.0" cy="612.5" r="1.0"/><circle cx="539.9" cy="614.5" r="0.9"/><circle cx="546.9" cy="612.3" r="1.3"/><circle cx="552.8" cy="613.5" r="0.9"/><circle cx="557.4" cy="615.1" r="1.3"/><circle cx="562.8" cy="615.5" r="1.2"/><circle cx="569.3" cy="614.1" r="0.8"/><circle cx="578.3" cy="613.2" r="0.9"/><circle cx="582.5" cy="611.9" r="1.1"/><circle cx="589.0" cy="612.9" r="1.0"/><circle cx="592.6" cy="615.4" r="0.8"/><circle cx="598.9" cy="615.1" r="0.9"/><circle cx="401.9" cy="618.7" r="1.1"/><circle cx="405.6" cy="617.7" r="0.9"/><circle cx="408.2" cy="621.6" r="1.0"/><circle cx="413.3" cy="621.5" r="0.8"/><circle cx="419.1" cy="620.5" r="1.1"/><circle cx="441.1" cy="620.3" r="1.3"/><circle cx="445.2" cy="619.9" r="1.0"/><circle cx="463.3" cy="617.6" r="1.1"/><circle cx="469.0" cy="617.9" r="1.0"/><circle cx="476.1" cy="617.6" r="1.2"/><circle cx="477.2" cy="619.4" r="1.2"/><circle cx="485.8" cy="619.7" r="1.3"/><circle cx="492.9" cy="619.7" r="1.3"/><circle cx="496.7" cy="620.5" r="1.2"/><circle cx="501.7" cy="619.6" r="1.1"/><circle cx="518.2" cy="621.5" r="1.0"/><circle cx="521.3" cy="620.3" r="1.3"/><circle cx="530.0" cy="620.9" r="1.1"/><circle cx="531.6" cy="620.3" r="1.2"/><circle cx="543.5" cy="618.8" r="0.9"/><circle cx="547.1" cy="619.3" r="0.9"/><circle cx="569.7" cy="620.7" r="1.2"/><circle cx="572.6" cy="620.4" r="1.1"/><circle cx="587.1" cy="619.9" r="1.1"/><circle cx="593.3" cy="619.3" r="1.0"/><circle cx="598.8" cy="620.7" r="1.0"/><circle cx="402.6" cy="625.6" r="1.2"/><circle cx="410.2" cy="624.1" r="0.9"/><circle cx="414.5" cy="622.6" r="1.0"/><circle cx="420.1" cy="625.2" r="0.8"/><circle cx="423.5" cy="622.9" r="1.1"/><circle cx="434.1" cy="624.4" r="1.2"/><circle cx="438.5" cy="622.6" r="0.9"/><circle cx="451.3" cy="623.3" r="0.9"/><circle cx="452.6" cy="624.6" r="0.9"/><circle cx="465.7" cy="624.5" r="1.3"/><circle cx="468.5" cy="623.6" r="1.0"/><circle cx="474.2" cy="625.1" r="0.8"/><circle cx="480.2" cy="624.3" r="1.2"/><circle cx="485.0" cy="624.2" r="1.0"/><circle cx="490.8" cy="624.3" r="1.3"/><circle cx="506.4" cy="622.6" r="1.2"/><circle cx="521.8" cy="624.3" r="0.9"/><circle cx="526.8" cy="623.2" r="0.9"/><circle cx="534.6" cy="624.8" r="1.1"/><circle cx="543.9" cy="622.3" r="0.9"/><circle cx="545.9" cy="624.4" r="1.0"/><circle cx="552.1" cy="626.1" r="1.0"/><circle cx="570.5" cy="622.2" r="0.8"/><circle cx="581.4" cy="621.9" r="0.9"/><circle cx="589.4" cy="625.2" r="1.0"/><circle cx="591.4" cy="623.1" r="1.2"/><circle cx="409.6" cy="629.8" r="0.8"/><circle cx="415.9" cy="628.1" r="0.8"/><circle cx="456.2" cy="630.7" r="1.3"/><circle cx="458.0" cy="627.4" r="0.9"/><circle cx="463.9" cy="628.3" r="0.9"/><circle cx="473.2" cy="629.0" r="1.2"/><circle cx="480.2" cy="630.7" r="1.1"/><circle cx="482.0" cy="627.6" r="0.8"/><circle cx="490.3" cy="627.7" r="1.0"/><circle cx="494.0" cy="626.8" r="1.3"/><circle cx="497.9" cy="628.0" r="1.0"/><circle cx="506.1" cy="629.3" r="1.1"/><circle cx="514.4" cy="628.9" r="1.3"/><circle cx="520.8" cy="629.8" r="1.3"/><circle cx="524.4" cy="626.8" r="0.9"/><circle cx="539.8" cy="627.2" r="1.3"/><circle cx="544.8" cy="628.1" r="0.8"/><circle cx="547.6" cy="627.0" r="1.1"/><circle cx="553.3" cy="631.2" r="0.9"/><circle cx="570.8" cy="629.8" r="1.1"/><circle cx="575.8" cy="630.9" r="1.0"/><circle cx="587.3" cy="630.6" r="1.2"/><circle cx="591.8" cy="629.8" r="0.8"/><circle cx="406.7" cy="631.7" r="0.8"/><circle cx="410.3" cy="634.1" r="0.9"/><circle cx="415.3" cy="633.9" r="1.0"/><circle cx="433.1" cy="636.4" r="1.1"/><circle cx="450.1" cy="632.9" r="0.9"/><circle cx="464.7" cy="634.2" r="1.1"/><circle cx="471.1" cy="635.4" r="1.2"/><circle cx="477.0" cy="633.6" r="0.8"/><circle cx="484.4" cy="634.8" r="1.2"/><circle cx="488.7" cy="633.8" r="1.0"/><circle cx="494.9" cy="634.9" r="1.0"/><circle cx="498.3" cy="634.6" r="1.1"/><circle cx="503.2" cy="634.2" r="0.9"/><circle cx="509.3" cy="633.8" r="0.9"/><circle cx="513.0" cy="636.3" r="1.0"/><circle cx="518.0" cy="636.0" r="1.0"/><circle cx="521.4" cy="632.5" r="1.0"/><circle cx="544.5" cy="634.2" r="0.8"/><circle cx="548.8" cy="635.4" r="1.3"/><circle cx="551.9" cy="635.5" r="1.0"/><circle cx="557.4" cy="636.2" r="1.1"/><circle cx="564.9" cy="631.9" r="0.8"/><circle cx="577.6" cy="634.5" r="1.1"/><circle cx="583.8" cy="633.8" r="0.9"/><circle cx="585.3" cy="633.7" r="1.1"/><circle cx="408.2" cy="637.7" r="1.1"/><circle cx="412.5" cy="638.2" r="0.8"/><circle cx="440.8" cy="640.7" r="1.1"/><circle cx="447.1" cy="637.0" r="1.3"/><circle cx="456.2" cy="636.7" r="1.0"/><circle cx="457.7" cy="637.7" r="1.0"/><circle cx="464.4" cy="639.4" r="1.1"/><circle cx="476.8" cy="640.3" r="1.1"/><circle cx="482.0" cy="637.7" r="1.2"/><circle cx="490.0" cy="636.9" r="0.9"/><circle cx="495.2" cy="637.4" r="1.1"/><circle cx="496.9" cy="638.0" r="1.1"/><circle cx="504.1" cy="637.9" r="1.2"/><circle cx="510.7" cy="640.1" r="1.0"/><circle cx="512.7" cy="637.4" r="1.2"/><circle cx="525.8" cy="637.2" r="0.9"/><circle cx="533.0" cy="636.8" r="0.9"/><circle cx="541.9" cy="640.5" r="0.9"/><circle cx="548.7" cy="638.0" r="1.1"/><circle cx="557.2" cy="639.9" r="1.0"/><circle cx="565.0" cy="638.7" r="1.2"/><circle cx="570.2" cy="637.9" r="0.9"/><circle cx="574.7" cy="638.3" r="1.2"/><circle cx="579.0" cy="638.5" r="0.8"/><circle cx="581.4" cy="641.4" r="0.8"/><circle cx="588.0" cy="638.0" r="1.2"/><circle cx="398.2" cy="644.3" r="1.2"/><circle cx="406.3" cy="643.5" r="1.2"/><circle cx="412.2" cy="643.2" r="1.0"/><circle cx="422.4" cy="645.8" r="1.0"/><circle cx="429.6" cy="646.0" r="1.3"/><circle cx="433.0" cy="642.1" r="0.9"/><circle cx="439.8" cy="646.0" r="1.2"/><circle cx="444.3" cy="643.2" r="1.1"/><circle cx="448.6" cy="643.3" r="1.1"/><circle cx="451.6" cy="645.4" r="1.2"/><circle cx="466.5" cy="646.2" r="1.3"/><circle cx="471.8" cy="644.0" r="1.3"/><circle cx="490.5" cy="642.9" r="1.0"/><circle cx="493.2" cy="642.3" r="0.9"/><circle cx="508.8" cy="643.0" r="1.0"/><circle cx="511.1" cy="643.9" r="1.0"/><circle cx="518.3" cy="641.7" r="1.2"/><circle cx="539.5" cy="646.1" r="1.0"/><circle cx="557.5" cy="642.9" r="1.1"/><circle cx="568.7" cy="645.0" r="1.1"/><circle cx="573.1" cy="643.9" r="0.9"/></g>
<ellipse cx="450" cy="578" rx="11" ry="38" fill="none" stroke="#f4dcf0" stroke-width="9" filter="url(#b2)"/>
<polygon points="492.9,506.0 490.2,507.2 491.3,508.9 490.8,510.6 487.2,510.6 486.6,512.8 483.7,512.8 481.0,514.1 478.2,513.1 477.0,510.8 474.4,510.8 472.3,510.1 468.5,509.5 466.4,507.9 468.2,506.0 467.8,504.2 471.8,503.4 471.5,501.6 472.6,499.9 475.3,499.1 478.2,499.0 481.0,500.8 483.4,499.8 485.7,500.3 489.3,500.0 493.2,500.3 493.4,502.5 492.6,504.5" fill="#fbf5fa" filter="url(#b2)"/>
<polygon points="463.5,612.0 463.5,614.1 463.7,616.6 463.9,619.9 461.7,619.7 460.5,620.7 459.4,621.9 458.0,621.7 456.7,621.4 455.8,619.8 454.8,618.6 453.4,618.1 451.4,617.3 450.9,614.7 451.2,612.0 451.5,609.5 453.2,608.2 453.5,606.0 454.5,604.7 455.2,602.1 456.7,602.2 458.0,604.3 459.1,603.9 461.0,601.6 462.0,603.7 462.6,605.9 463.6,607.5 463.0,610.1" fill="#f4e0ee" opacity="0.7" filter="url(#b2)"/>
</g>
<g clip-path="url(#cp3)">
<rect x="602" y="498" width="195" height="146" fill="#f2c8ec"/>
<ellipse cx="655" cy="520" rx="18" ry="8" transform="rotate(45 655 520)" fill="#f6dcf2" opacity="0.8" filter="url(#b3)"/>
<ellipse cx="700" cy="520" rx="18" ry="9" transform="rotate(40 700 520)" fill="#f6dcf2" opacity="0.8" filter="url(#b3)"/>
<ellipse cx="746" cy="530" rx="20" ry="12" transform="rotate(30 746 530)" fill="#f6dcf2" opacity="0.8" filter="url(#b3)"/>
<ellipse cx="714" cy="586" rx="9" ry="13" fill="#f8e4f4" opacity="0.9" filter="url(#b2)"/>
<ellipse cx="640" cy="600" rx="18" ry="10" transform="rotate(40 640 600)" fill="#f4d8f0" opacity="0.7" filter="url(#b3)"/>
<ellipse cx="760" cy="625" rx="18" ry="10" fill="#f4d8f0" opacity="0.7" filter="url(#b3)"/>
<ellipse cx="690" cy="615" rx="14" ry="8" transform="rotate(30 690 615)" fill="#f4d8f0" opacity="0.7" filter="url(#b3)"/>
<g fill="#6a2484" opacity="0.75"><circle cx="628.6" cy="492.7" r="1.2"/><circle cx="633.1" cy="491.1" r="0.8"/><circle cx="645.2" cy="490.8" r="1.2"/><circle cx="674.4" cy="494.8" r="1.2"/><circle cx="694.8" cy="496.3" r="1.1"/><circle cx="707.7" cy="491.5" r="0.8"/><circle cx="725.5" cy="491.6" r="0.8"/><circle cx="741.6" cy="495.2" r="1.1"/><circle cx="761.6" cy="488.9" r="0.8"/><circle cx="777.2" cy="492.6" r="1.2"/><circle cx="786.2" cy="497.1" r="1.1"/><circle cx="792.2" cy="494.2" r="1.0"/><circle cx="598.6" cy="505.6" r="0.9"/><circle cx="611.2" cy="504.1" r="1.2"/><circle cx="621.2" cy="504.7" r="0.9"/><circle cx="637.8" cy="501.3" r="1.0"/><circle cx="643.3" cy="507.7" r="1.2"/><circle cx="655.8" cy="501.7" r="1.0"/><circle cx="676.9" cy="498.7" r="1.1"/><circle cx="695.5" cy="500.7" r="1.0"/><circle cx="703.7" cy="506.9" r="0.8"/><circle cx="722.9" cy="504.6" r="0.9"/><circle cx="758.6" cy="501.0" r="0.8"/><circle cx="767.3" cy="504.0" r="1.0"/><circle cx="776.4" cy="506.1" r="1.2"/><circle cx="783.8" cy="503.4" r="1.1"/><circle cx="795.2" cy="501.1" r="1.0"/><circle cx="809.1" cy="507.4" r="1.1"/><circle cx="601.3" cy="517.0" r="1.1"/><circle cx="610.6" cy="508.2" r="1.0"/><circle cx="627.9" cy="514.3" r="0.9"/><circle cx="631.8" cy="513.0" r="0.9"/><circle cx="649.8" cy="511.7" r="1.0"/><circle cx="656.1" cy="516.2" r="0.9"/><circle cx="666.5" cy="511.6" r="1.0"/><circle cx="679.8" cy="516.8" r="1.1"/><circle cx="682.6" cy="516.9" r="0.9"/><circle cx="696.6" cy="514.1" r="0.8"/><circle cx="709.2" cy="512.8" r="1.0"/><circle cx="719.1" cy="509.6" r="1.1"/><circle cx="743.7" cy="508.6" r="1.0"/><circle cx="761.9" cy="510.8" r="0.8"/><circle cx="782.9" cy="516.4" r="1.1"/><circle cx="793.5" cy="510.1" r="1.1"/><circle cx="802.5" cy="513.3" r="0.8"/><circle cx="598.3" cy="518.4" r="1.1"/><circle cx="638.9" cy="519.2" r="0.8"/><circle cx="649.8" cy="521.6" r="1.1"/><circle cx="657.9" cy="527.5" r="0.9"/><circle cx="662.9" cy="521.3" r="1.1"/><circle cx="675.8" cy="524.1" r="1.1"/><circle cx="693.9" cy="519.6" r="0.8"/><circle cx="711.3" cy="521.2" r="0.9"/><circle cx="738.0" cy="524.9" r="1.1"/><circle cx="749.0" cy="526.7" r="1.0"/><circle cx="757.3" cy="521.8" r="1.0"/><circle cx="791.7" cy="522.6" r="1.0"/><circle cx="600.9" cy="533.1" r="1.1"/><circle cx="621.5" cy="529.9" r="1.2"/><circle cx="648.9" cy="537.0" r="1.1"/><circle cx="661.4" cy="531.7" r="1.1"/><circle cx="681.9" cy="533.6" r="0.9"/><circle cx="691.9" cy="531.1" r="1.1"/><circle cx="719.2" cy="527.7" r="1.0"/><circle cx="721.8" cy="532.9" r="1.0"/><circle cx="737.5" cy="537.1" r="1.1"/><circle cx="747.8" cy="530.5" r="1.1"/><circle cx="777.0" cy="533.5" r="0.9"/><circle cx="782.6" cy="536.7" r="1.2"/><circle cx="791.8" cy="533.4" r="0.9"/><circle cx="596.2" cy="539.2" r="1.0"/><circle cx="617.6" cy="539.3" r="1.0"/><circle cx="629.7" cy="541.0" r="1.1"/><circle cx="645.2" cy="544.3" r="1.0"/><circle cx="651.8" cy="540.0" r="1.1"/><circle cx="663.8" cy="547.1" r="1.1"/><circle cx="672.5" cy="540.6" r="1.2"/><circle cx="688.2" cy="541.7" r="1.0"/><circle cx="699.6" cy="546.8" r="1.0"/><circle cx="715.3" cy="539.4" r="0.8"/><circle cx="746.8" cy="539.4" r="0.9"/><circle cx="766.6" cy="540.2" r="0.9"/><circle cx="771.0" cy="544.4" r="1.0"/><circle cx="781.8" cy="539.6" r="1.2"/><circle cx="794.4" cy="544.2" r="1.0"/><circle cx="807.4" cy="545.6" r="1.1"/><circle cx="609.9" cy="554.9" r="1.0"/><circle cx="626.8" cy="553.2" r="1.0"/><circle cx="658.9" cy="555.7" r="1.0"/><circle cx="682.8" cy="550.0" r="0.8"/><circle cx="698.6" cy="549.8" r="1.2"/><circle cx="702.8" cy="550.9" r="1.0"/><circle cx="717.1" cy="555.5" r="0.8"/><circle cx="721.0" cy="550.4" r="0.9"/><circle cx="746.9" cy="549.3" r="0.9"/><circle cx="756.9" cy="555.1" r="0.9"/><circle cx="801.0" cy="555.8" r="1.1"/><circle cx="594.8" cy="564.8" r="1.0"/><circle cx="602.5" cy="567.3" r="1.0"/><circle cx="634.7" cy="564.0" r="1.1"/><circle cx="659.7" cy="563.7" r="1.2"/><circle cx="685.0" cy="557.5" r="0.9"/><circle cx="691.4" cy="559.0" r="0.9"/><circle cx="704.8" cy="558.7" r="1.0"/><circle cx="715.7" cy="562.9" r="1.1"/><circle cx="722.7" cy="562.3" r="1.1"/><circle cx="757.4" cy="559.3" r="1.2"/><circle cx="785.2" cy="557.6" r="1.1"/><circle cx="795.6" cy="561.4" r="0.8"/><circle cx="606.9" cy="570.3" r="1.1"/><circle cx="714.2" cy="574.9" r="1.0"/><circle cx="724.7" cy="574.3" r="1.1"/><circle cx="731.2" cy="569.0" r="1.0"/><circle cx="745.7" cy="569.9" r="1.2"/><circle cx="769.9" cy="569.9" r="0.9"/><circle cx="780.0" cy="572.0" r="1.1"/><circle cx="808.4" cy="574.2" r="1.2"/><circle cx="595.0" cy="581.4" r="0.8"/><circle cx="605.0" cy="577.4" r="0.9"/><circle cx="638.5" cy="585.6" r="1.2"/><circle cx="646.9" cy="580.6" r="1.2"/><circle cx="661.4" cy="585.6" r="0.9"/><circle cx="677.4" cy="585.4" r="1.1"/><circle cx="706.6" cy="578.1" r="1.1"/><circle cx="711.6" cy="579.9" r="0.9"/><circle cx="728.8" cy="580.7" r="1.1"/><circle cx="740.9" cy="578.3" r="1.1"/><circle cx="768.5" cy="579.7" r="1.1"/><circle cx="788.6" cy="578.9" r="1.0"/><circle cx="797.6" cy="578.2" r="1.1"/><circle cx="594.9" cy="591.4" r="1.2"/><circle cx="608.0" cy="594.7" r="1.1"/><circle cx="626.5" cy="596.3" r="0.9"/><circle cx="634.4" cy="592.8" r="1.0"/><circle cx="648.1" cy="597.0" r="0.8"/><circle cx="654.7" cy="588.9" r="0.8"/><circle cx="664.2" cy="588.9" r="1.1"/><circle cx="677.7" cy="593.1" r="1.0"/><circle cx="688.2" cy="595.1" r="1.0"/><circle cx="700.4" cy="595.8" r="1.2"/><circle cx="719.8" cy="589.5" r="1.0"/><circle cx="724.7" cy="588.4" r="1.1"/><circle cx="740.3" cy="594.1" r="0.9"/><circle cx="758.4" cy="596.2" r="0.8"/><circle cx="762.1" cy="590.2" r="1.0"/><circle cx="786.8" cy="591.5" r="1.2"/><circle cx="794.0" cy="592.3" r="1.1"/><circle cx="803.4" cy="590.8" r="1.0"/><circle cx="617.6" cy="599.9" r="0.8"/><circle cx="628.0" cy="605.0" r="1.0"/><circle cx="669.1" cy="604.7" r="0.9"/><circle cx="721.3" cy="603.9" r="0.8"/><circle cx="732.0" cy="603.2" r="1.2"/><circle cx="742.6" cy="598.9" r="1.1"/><circle cx="764.8" cy="597.8" r="1.1"/><circle cx="775.7" cy="597.1" r="1.1"/><circle cx="790.9" cy="597.6" r="0.9"/><circle cx="597.3" cy="609.4" r="1.2"/><circle cx="602.3" cy="607.3" r="1.0"/><circle cx="616.8" cy="608.4" r="1.0"/><circle cx="630.1" cy="608.1" r="1.1"/><circle cx="639.3" cy="609.1" r="1.0"/><circle cx="650.4" cy="610.3" r="1.2"/><circle cx="679.8" cy="610.7" r="1.1"/><circle cx="686.2" cy="608.1" r="1.0"/><circle cx="711.8" cy="613.0" r="0.9"/><circle cx="727.0" cy="610.9" r="1.0"/><circle cx="764.1" cy="610.2" r="1.2"/><circle cx="804.7" cy="610.4" r="1.0"/><circle cx="601.6" cy="622.0" r="0.9"/><circle cx="659.6" cy="623.8" r="1.2"/><circle cx="666.7" cy="622.2" r="0.8"/><circle cx="677.4" cy="624.6" r="0.9"/><circle cx="686.2" cy="622.6" r="0.9"/><circle cx="695.0" cy="618.4" r="0.8"/><circle cx="718.4" cy="620.9" r="0.9"/><circle cx="728.4" cy="620.1" r="1.1"/><circle cx="732.8" cy="620.2" r="1.1"/><circle cx="762.8" cy="621.5" r="0.9"/><circle cx="777.8" cy="624.0" r="0.9"/><circle cx="800.7" cy="623.1" r="1.1"/><circle cx="596.1" cy="630.1" r="0.8"/><circle cx="620.5" cy="632.9" r="0.9"/><circle cx="635.1" cy="628.9" r="1.1"/><circle cx="648.1" cy="627.2" r="1.2"/><circle cx="655.5" cy="631.9" r="0.9"/><circle cx="692.4" cy="630.2" r="0.8"/><circle cx="705.7" cy="628.3" r="1.1"/><circle cx="716.4" cy="632.3" r="1.1"/><circle cx="723.2" cy="628.5" r="0.8"/><circle cx="734.2" cy="627.6" r="1.0"/><circle cx="748.1" cy="628.1" r="0.9"/><circle cx="758.6" cy="636.1" r="1.1"/><circle cx="769.5" cy="627.0" r="1.1"/><circle cx="774.5" cy="634.8" r="1.1"/><circle cx="800.0" cy="628.6" r="1.0"/><circle cx="805.0" cy="636.4" r="0.9"/><circle cx="620.5" cy="638.4" r="1.1"/><circle cx="625.7" cy="642.6" r="1.1"/><circle cx="632.1" cy="637.1" r="1.1"/><circle cx="643.6" cy="637.8" r="1.0"/><circle cx="651.6" cy="638.1" r="1.1"/><circle cx="673.9" cy="636.7" r="1.2"/><circle cx="687.5" cy="640.2" r="1.1"/><circle cx="693.0" cy="646.3" r="0.9"/><circle cx="728.0" cy="641.4" r="1.2"/><circle cx="732.5" cy="642.1" r="0.9"/><circle cx="751.1" cy="639.6" r="0.8"/><circle cx="765.2" cy="640.1" r="0.8"/><circle cx="785.4" cy="637.1" r="1.0"/><circle cx="600.1" cy="655.7" r="1.0"/><circle cx="631.8" cy="656.0" r="1.0"/><circle cx="663.5" cy="648.9" r="1.1"/><circle cx="678.4" cy="654.8" r="0.8"/><circle cx="731.0" cy="652.8" r="1.0"/><circle cx="743.0" cy="654.6" r="0.9"/><circle cx="759.0" cy="651.8" r="1.0"/><circle cx="768.2" cy="648.4" r="0.8"/><circle cx="780.7" cy="655.5" r="1.1"/><circle cx="798.0" cy="649.5" r="0.8"/><circle cx="629.9" cy="500.8" r="1.1"/><circle cx="625.0" cy="505.7" r="0.9"/><circle cx="632.5" cy="502.7" r="0.9"/><circle cx="626.7" cy="508.5" r="1.1"/><circle cx="633.5" cy="505.5" r="1.3"/><circle cx="628.3" cy="510.7" r="0.9"/><circle cx="635.6" cy="506.1" r="1.3"/><circle cx="630.3" cy="511.4" r="0.8"/><circle cx="637.3" cy="509.9" r="1.0"/><circle cx="634.4" cy="516.8" r="0.8"/><circle cx="636.9" cy="518.7" r="1.2"/><circle cx="637.5" cy="518.7" r="1.1"/><circle cx="639.8" cy="520.8" r="0.9"/><circle cx="642.7" cy="523.5" r="1.0"/><circle cx="649.2" cy="520.2" r="1.0"/><circle cx="644.4" cy="525.1" r="1.0"/><circle cx="653.1" cy="523.3" r="1.3"/><circle cx="647.6" cy="528.9" r="0.9"/><circle cx="654.5" cy="525.0" r="0.8"/><circle cx="648.5" cy="531.0" r="1.1"/><circle cx="657.6" cy="528.0" r="0.8"/><circle cx="651.3" cy="534.2" r="1.3"/><circle cx="651.9" cy="534.3" r="1.1"/><circle cx="660.7" cy="531.0" r="0.9"/><circle cx="654.3" cy="537.3" r="1.1"/><circle cx="657.3" cy="540.0" r="0.9"/><circle cx="665.5" cy="536.1" r="0.9"/><circle cx="659.9" cy="540.8" r="1.2"/><circle cx="665.0" cy="537.9" r="1.3"/><circle cx="659.6" cy="542.5" r="1.2"/><circle cx="662.5" cy="545.1" r="1.1"/><circle cx="664.0" cy="545.7" r="1.1"/><circle cx="672.3" cy="543.8" r="1.1"/><circle cx="667.5" cy="550.4" r="1.3"/><circle cx="673.9" cy="547.7" r="1.0"/><circle cx="676.3" cy="551.0" r="1.2"/><circle cx="671.7" cy="554.9" r="1.1"/><circle cx="678.6" cy="552.9" r="1.3"/><circle cx="673.1" cy="556.6" r="1.2"/><circle cx="679.4" cy="555.2" r="0.8"/><circle cx="673.5" cy="559.2" r="1.1"/><circle cx="682.6" cy="558.0" r="1.3"/><circle cx="675.9" cy="562.5" r="0.9"/><circle cx="683.1" cy="560.3" r="1.2"/><circle cx="676.8" cy="564.5" r="1.0"/><circle cx="680.2" cy="568.1" r="1.1"/><circle cx="686.2" cy="564.6" r="0.8"/><circle cx="680.3" cy="568.5" r="0.9"/><circle cx="689.3" cy="567.6" r="1.3"/><circle cx="681.2" cy="571.0" r="1.2"/><circle cx="683.0" cy="573.7" r="1.0"/><circle cx="690.5" cy="573.2" r="1.0"/><circle cx="683.1" cy="576.3" r="1.2"/><circle cx="691.7" cy="574.9" r="1.2"/><circle cx="684.7" cy="577.8" r="1.1"/><circle cx="686.5" cy="580.0" r="1.1"/><circle cx="687.4" cy="583.9" r="1.2"/><circle cx="689.2" cy="590.1" r="1.0"/><circle cx="698.6" cy="590.2" r="1.2"/><circle cx="691.7" cy="593.2" r="1.2"/><circle cx="691.1" cy="595.1" r="0.8"/><circle cx="693.6" cy="597.7" r="0.9"/><circle cx="700.3" cy="597.5" r="0.8"/><circle cx="694.3" cy="600.1" r="1.0"/><circle cx="702.8" cy="600.5" r="1.2"/><circle cx="695.5" cy="603.6" r="1.2"/><circle cx="703.5" cy="602.8" r="0.9"/><circle cx="697.6" cy="606.4" r="1.3"/><circle cx="704.7" cy="603.9" r="0.9"/><circle cx="706.1" cy="607.0" r="1.0"/><circle cx="708.2" cy="610.6" r="0.9"/><circle cx="702.3" cy="614.2" r="1.2"/><circle cx="709.0" cy="611.8" r="1.2"/><circle cx="703.5" cy="615.1" r="1.0"/><circle cx="710.5" cy="613.1" r="1.3"/><circle cx="705.4" cy="618.2" r="1.0"/><circle cx="711.1" cy="614.7" r="1.0"/><circle cx="706.7" cy="619.1" r="0.9"/><circle cx="715.4" cy="618.5" r="1.2"/><circle cx="710.2" cy="623.7" r="1.2"/><circle cx="719.4" cy="621.2" r="0.8"/><circle cx="713.5" cy="627.1" r="1.0"/><circle cx="655.7" cy="503.3" r="1.1"/><circle cx="662.8" cy="500.9" r="0.8"/><circle cx="664.0" cy="505.0" r="1.1"/><circle cx="659.3" cy="507.9" r="1.2"/><circle cx="660.7" cy="511.0" r="0.8"/><circle cx="667.2" cy="509.2" r="0.9"/><circle cx="661.5" cy="512.6" r="1.2"/><circle cx="669.4" cy="512.5" r="1.2"/><circle cx="664.5" cy="516.0" r="1.0"/><circle cx="663.8" cy="518.1" r="0.9"/><circle cx="672.2" cy="514.6" r="1.2"/><circle cx="673.8" cy="519.2" r="0.9"/><circle cx="667.9" cy="523.5" r="1.1"/><circle cx="673.9" cy="520.2" r="0.9"/><circle cx="676.7" cy="522.0" r="1.3"/><circle cx="670.5" cy="526.4" r="1.1"/><circle cx="677.1" cy="524.1" r="1.1"/><circle cx="672.6" cy="527.3" r="1.0"/><circle cx="679.6" cy="525.8" r="0.8"/><circle cx="672.8" cy="530.7" r="1.1"/><circle cx="679.4" cy="527.3" r="0.9"/><circle cx="675.7" cy="532.0" r="0.9"/><circle cx="683.4" cy="530.3" r="1.3"/><circle cx="679.4" cy="535.4" r="1.1"/><circle cx="685.1" cy="530.5" r="1.3"/><circle cx="680.1" cy="536.6" r="0.9"/><circle cx="681.9" cy="538.9" r="1.0"/><circle cx="688.5" cy="533.5" r="1.1"/><circle cx="684.0" cy="539.1" r="0.9"/><circle cx="688.8" cy="544.0" r="1.2"/><circle cx="690.8" cy="545.2" r="1.0"/><circle cx="698.9" cy="541.0" r="1.2"/><circle cx="694.5" cy="546.9" r="1.3"/><circle cx="699.7" cy="541.8" r="1.1"/><circle cx="703.9" cy="547.3" r="1.1"/><circle cx="704.3" cy="549.8" r="0.9"/><circle cx="696.7" cy="552.3" r="1.3"/><circle cx="686.5" cy="496.0" r="1.1"/><circle cx="682.0" cy="501.3" r="1.2"/><circle cx="687.1" cy="497.4" r="1.2"/><circle cx="682.8" cy="502.4" r="1.1"/><circle cx="685.6" cy="506.2" r="1.2"/><circle cx="687.5" cy="507.2" r="0.8"/><circle cx="693.1" cy="511.5" r="1.0"/><circle cx="699.9" cy="509.4" r="1.2"/><circle cx="695.3" cy="514.7" r="1.3"/><circle cx="697.3" cy="515.0" r="1.1"/><circle cx="702.9" cy="515.1" r="1.0"/><circle cx="704.4" cy="518.3" r="1.0"/><circle cx="697.1" cy="520.4" r="1.2"/><circle cx="704.8" cy="521.6" r="1.1"/><circle cx="699.6" cy="523.1" r="1.0"/><circle cx="706.6" cy="525.7" r="1.1"/><circle cx="707.7" cy="525.7" r="0.9"/><circle cx="700.7" cy="527.7" r="0.9"/><circle cx="707.2" cy="532.7" r="1.2"/><circle cx="707.2" cy="535.2" r="1.2"/><circle cx="699.8" cy="534.2" r="1.1"/><circle cx="707.2" cy="537.8" r="0.9"/><circle cx="699.8" cy="536.8" r="0.8"/><circle cx="706.2" cy="539.3" r="1.0"/><circle cx="699.3" cy="538.3" r="1.0"/><circle cx="706.1" cy="542.5" r="1.1"/><circle cx="698.4" cy="541.4" r="1.2"/><circle cx="705.6" cy="545.8" r="0.8"/><circle cx="698.1" cy="544.8" r="1.1"/><circle cx="698.9" cy="541.9" r="1.0"/><circle cx="704.0" cy="549.0" r="0.9"/><circle cx="705.1" cy="547.2" r="1.3"/><circle cx="701.4" cy="540.0" r="1.1"/><circle cx="705.5" cy="545.7" r="1.0"/><circle cx="707.9" cy="544.4" r="0.9"/><circle cx="705.8" cy="536.9" r="1.1"/><circle cx="710.1" cy="542.8" r="0.8"/><circle cx="709.7" cy="534.2" r="0.8"/><circle cx="714.6" cy="541.0" r="1.2"/><circle cx="710.1" cy="533.9" r="1.2"/><circle cx="714.5" cy="539.9" r="1.2"/><circle cx="717.0" cy="538.3" r="1.1"/><circle cx="719.2" cy="536.3" r="1.0"/><circle cx="722.5" cy="535.9" r="1.0"/><circle cx="723.8" cy="534.8" r="1.0"/><circle cx="724.7" cy="526.1" r="1.1"/><circle cx="724.8" cy="524.5" r="1.3"/><circle cx="728.9" cy="531.2" r="1.1"/><circle cx="726.4" cy="524.1" r="0.8"/><circle cx="731.8" cy="527.8" r="0.9"/><circle cx="734.6" cy="526.2" r="1.2"/><circle cx="735.1" cy="524.5" r="0.8"/><circle cx="731.1" cy="517.6" r="0.8"/><circle cx="736.3" cy="521.0" r="1.3"/><circle cx="732.7" cy="515.7" r="0.9"/><circle cx="740.3" cy="515.8" r="1.0"/><circle cx="736.1" cy="511.0" r="0.9"/><circle cx="741.1" cy="514.3" r="1.0"/><circle cx="737.4" cy="507.6" r="1.0"/><circle cx="743.1" cy="511.5" r="0.9"/><circle cx="739.4" cy="503.1" r="1.2"/><circle cx="746.0" cy="507.5" r="0.8"/><circle cx="741.1" cy="501.7" r="0.8"/><circle cx="749.1" cy="502.8" r="1.3"/><circle cx="745.3" cy="497.9" r="1.2"/><circle cx="705.1" cy="552.5" r="1.2"/><circle cx="702.6" cy="557.6" r="1.2"/><circle cx="703.1" cy="558.3" r="1.1"/><circle cx="710.0" cy="554.9" r="1.1"/><circle cx="707.5" cy="559.9" r="1.0"/><circle cx="711.7" cy="554.0" r="1.2"/><circle cx="714.3" cy="556.9" r="0.9"/><circle cx="717.1" cy="558.3" r="1.0"/><circle cx="716.6" cy="558.4" r="0.9"/><circle cx="720.3" cy="556.2" r="1.0"/><circle cx="722.6" cy="562.1" r="0.8"/><circle cx="724.7" cy="554.9" r="1.1"/><circle cx="729.0" cy="553.1" r="0.9"/><circle cx="731.5" cy="559.4" r="0.9"/><circle cx="731.0" cy="551.6" r="0.8"/><circle cx="733.6" cy="557.9" r="0.9"/><circle cx="738.0" cy="549.2" r="1.2"/><circle cx="740.8" cy="556.2" r="1.0"/><circle cx="740.3" cy="547.3" r="1.0"/><circle cx="744.4" cy="546.5" r="0.9"/><circle cx="746.2" cy="545.2" r="1.3"/><circle cx="749.2" cy="552.9" r="0.9"/><circle cx="750.3" cy="545.1" r="1.1"/><circle cx="752.9" cy="551.5" r="1.0"/><circle cx="752.4" cy="543.7" r="1.2"/><circle cx="758.0" cy="541.9" r="1.0"/><circle cx="759.9" cy="540.7" r="1.2"/><circle cx="761.6" cy="547.3" r="1.1"/><circle cx="761.6" cy="539.6" r="0.8"/><circle cx="766.6" cy="546.3" r="0.8"/><circle cx="769.0" cy="544.0" r="1.2"/><circle cx="771.2" cy="542.4" r="1.1"/><circle cx="770.0" cy="535.7" r="0.9"/><circle cx="774.0" cy="541.0" r="1.0"/><circle cx="772.5" cy="533.5" r="1.0"/><circle cx="777.5" cy="533.0" r="1.0"/><circle cx="779.0" cy="532.9" r="0.8"/><circle cx="780.0" cy="539.1" r="0.9"/><circle cx="781.1" cy="532.6" r="1.2"/><circle cx="782.3" cy="539.8" r="1.0"/><circle cx="786.5" cy="537.2" r="0.9"/><circle cx="793.2" cy="528.8" r="1.1"/><circle cx="795.2" cy="536.5" r="0.8"/><circle cx="756.5" cy="498.0" r="0.8"/><circle cx="749.0" cy="498.8" r="1.0"/><circle cx="758.0" cy="502.7" r="0.9"/><circle cx="750.4" cy="503.5" r="1.0"/><circle cx="757.1" cy="504.1" r="1.1"/><circle cx="751.0" cy="504.7" r="1.0"/><circle cx="757.0" cy="506.1" r="1.2"/><circle cx="758.5" cy="508.8" r="0.8"/><circle cx="750.2" cy="509.7" r="0.8"/><circle cx="758.0" cy="513.6" r="0.9"/><circle cx="758.1" cy="516.2" r="1.0"/><circle cx="750.5" cy="516.9" r="1.2"/><circle cx="759.5" cy="517.1" r="1.2"/><circle cx="751.8" cy="517.8" r="1.3"/><circle cx="759.5" cy="519.9" r="1.0"/><circle cx="752.7" cy="520.6" r="1.2"/><circle cx="758.2" cy="523.6" r="1.0"/><circle cx="752.0" cy="523.0" r="1.3"/><circle cx="758.3" cy="525.9" r="0.8"/><circle cx="752.4" cy="525.3" r="1.2"/><circle cx="752.2" cy="529.8" r="1.0"/><circle cx="758.5" cy="531.6" r="0.9"/><circle cx="751.9" cy="530.9" r="1.2"/><circle cx="758.1" cy="534.9" r="1.2"/><circle cx="757.2" cy="541.0" r="1.0"/><circle cx="750.8" cy="540.4" r="1.2"/><circle cx="750.0" cy="542.7" r="0.9"/><circle cx="756.4" cy="545.8" r="0.9"/><circle cx="749.3" cy="545.1" r="1.0"/><circle cx="732.8" cy="560.3" r="0.9"/><circle cx="730.5" cy="567.0" r="0.9"/><circle cx="734.1" cy="568.0" r="1.1"/><circle cx="745.5" cy="563.5" r="1.3"/><circle cx="743.8" cy="571.3" r="1.1"/><circle cx="749.2" cy="566.0" r="1.0"/><circle cx="752.0" cy="566.3" r="1.2"/><circle cx="753.7" cy="566.8" r="1.0"/><circle cx="752.5" cy="572.3" r="0.9"/><circle cx="756.3" cy="573.1" r="0.8"/><circle cx="759.3" cy="567.5" r="1.2"/><circle cx="762.1" cy="575.0" r="0.9"/><circle cx="764.4" cy="577.1" r="1.0"/><circle cx="769.9" cy="571.5" r="1.1"/><circle cx="766.0" cy="575.4" r="1.1"/><circle cx="775.1" cy="575.2" r="1.1"/><circle cx="769.7" cy="580.6" r="1.1"/><circle cx="734.8" cy="593.8" r="0.9"/><circle cx="738.8" cy="588.5" r="1.0"/><circle cx="737.3" cy="594.5" r="0.8"/><circle cx="741.3" cy="588.5" r="0.9"/><circle cx="743.1" cy="589.5" r="1.2"/><circle cx="741.2" cy="597.0" r="0.8"/><circle cx="747.0" cy="589.3" r="1.0"/><circle cx="744.9" cy="597.5" r="1.3"/><circle cx="746.6" cy="598.2" r="1.0"/><circle cx="751.5" cy="591.5" r="0.9"/><circle cx="755.5" cy="594.1" r="1.3"/><circle cx="754.7" cy="600.2" r="1.3"/><circle cx="756.1" cy="603.2" r="1.3"/><circle cx="758.9" cy="605.1" r="1.3"/><circle cx="764.3" cy="601.4" r="0.8"/><circle cx="759.8" cy="606.7" r="1.0"/><circle cx="768.4" cy="602.5" r="1.0"/><circle cx="770.1" cy="604.8" r="1.0"/><circle cx="766.0" cy="609.7" r="0.9"/><circle cx="774.3" cy="609.0" r="1.0"/><circle cx="768.4" cy="613.8" r="1.1"/><circle cx="775.5" cy="613.1" r="0.8"/><circle cx="770.7" cy="616.9" r="1.0"/><circle cx="772.8" cy="619.1" r="1.0"/><circle cx="778.4" cy="616.1" r="1.0"/><circle cx="781.6" cy="620.3" r="1.2"/><circle cx="781.3" cy="621.9" r="0.9"/><circle cx="775.7" cy="623.8" r="1.1"/><circle cx="783.1" cy="624.8" r="0.9"/><circle cx="784.1" cy="628.1" r="0.9"/><circle cx="784.9" cy="630.8" r="1.2"/><circle cx="778.0" cy="633.1" r="0.8"/><circle cx="785.3" cy="633.8" r="0.9"/><circle cx="789.6" cy="641.9" r="1.1"/><circle cx="783.9" cy="644.8" r="0.9"/><circle cx="604.4" cy="566.9" r="1.1"/><circle cx="610.6" cy="563.7" r="1.1"/><circle cx="607.3" cy="568.6" r="1.1"/><circle cx="612.9" cy="565.6" r="1.2"/><circle cx="614.5" cy="565.4" r="1.0"/><circle cx="610.5" cy="571.4" r="1.1"/><circle cx="617.3" cy="567.4" r="1.2"/><circle cx="620.8" cy="570.6" r="1.3"/><circle cx="614.7" cy="575.5" r="1.0"/><circle cx="621.7" cy="571.9" r="1.2"/><circle cx="616.1" cy="576.4" r="1.1"/><circle cx="624.4" cy="573.7" r="0.9"/><circle cx="618.2" cy="578.6" r="0.9"/><circle cx="626.6" cy="577.8" r="1.2"/><circle cx="621.2" cy="582.1" r="0.8"/><circle cx="627.9" cy="580.3" r="1.2"/><circle cx="622.1" cy="585.0" r="0.8"/><circle cx="630.2" cy="584.2" r="0.8"/><circle cx="624.2" cy="586.7" r="1.2"/><circle cx="631.8" cy="584.8" r="1.2"/><circle cx="625.1" cy="587.6" r="0.8"/><circle cx="633.6" cy="591.7" r="0.9"/><circle cx="626.8" cy="594.6" r="1.0"/><circle cx="634.0" cy="593.5" r="1.3"/><circle cx="628.9" cy="595.6" r="1.3"/><circle cx="636.5" cy="596.0" r="1.2"/><circle cx="628.7" cy="599.4" r="0.8"/><circle cx="638.1" cy="600.1" r="0.8"/><circle cx="631.6" cy="604.5" r="1.0"/><circle cx="638.8" cy="602.1" r="0.9"/><circle cx="633.5" cy="605.6" r="0.8"/><circle cx="640.7" cy="606.0" r="1.3"/><circle cx="635.5" cy="609.4" r="0.8"/><circle cx="637.2" cy="611.7" r="1.2"/><circle cx="644.7" cy="609.1" r="1.2"/><circle cx="637.7" cy="613.7" r="0.9"/><circle cx="640.4" cy="615.9" r="1.3"/><circle cx="642.3" cy="618.7" r="1.2"/><circle cx="649.4" cy="614.6" r="1.1"/><circle cx="646.0" cy="620.5" r="1.2"/><circle cx="647.0" cy="620.5" r="0.8"/><circle cx="650.7" cy="622.4" r="0.9"/><circle cx="651.1" cy="624.5" r="1.1"/><circle cx="659.5" cy="619.4" r="1.0"/><circle cx="660.3" cy="621.7" r="0.8"/><circle cx="657.3" cy="626.9" r="1.2"/><circle cx="661.2" cy="622.2" r="1.1"/><circle cx="659.7" cy="628.5" r="1.0"/><circle cx="666.3" cy="621.8" r="0.9"/><circle cx="664.4" cy="629.4" r="1.1"/><circle cx="668.2" cy="623.5" r="1.0"/><circle cx="666.7" cy="629.5" r="1.2"/><circle cx="669.8" cy="630.2" r="1.0"/><circle cx="677.4" cy="625.4" r="1.0"/><circle cx="680.3" cy="626.3" r="1.3"/><circle cx="682.7" cy="625.5" r="1.2"/><circle cx="683.5" cy="631.9" r="1.1"/><circle cx="687.5" cy="624.3" r="1.0"/><circle cx="688.5" cy="632.7" r="0.8"/><circle cx="688.3" cy="624.4" r="1.0"/><circle cx="689.2" cy="631.6" r="1.2"/><circle cx="691.3" cy="625.4" r="1.3"/><circle cx="692.0" cy="631.7" r="1.2"/><circle cx="695.7" cy="631.1" r="0.8"/><circle cx="699.8" cy="631.1" r="1.1"/><circle cx="702.5" cy="625.3" r="1.1"/><circle cx="698.8" cy="630.3" r="0.9"/><circle cx="704.5" cy="627.7" r="0.8"/><circle cx="706.9" cy="628.8" r="0.9"/><circle cx="703.0" cy="634.0" r="0.8"/><circle cx="709.8" cy="631.1" r="0.9"/><circle cx="705.5" cy="636.8" r="1.2"/><circle cx="604.5" cy="608.8" r="1.1"/><circle cx="603.4" cy="615.6" r="1.1"/><circle cx="605.7" cy="616.8" r="0.9"/><circle cx="609.9" cy="609.5" r="1.1"/><circle cx="608.7" cy="616.5" r="1.3"/><circle cx="611.7" cy="611.0" r="0.8"/><circle cx="610.5" cy="618.3" r="0.9"/><circle cx="615.1" cy="611.9" r="0.9"/><circle cx="614.2" cy="617.5" r="1.0"/><circle cx="620.4" cy="611.9" r="1.0"/><circle cx="622.7" cy="613.0" r="1.2"/><circle cx="625.8" cy="615.4" r="1.3"/><circle cx="623.9" cy="621.0" r="1.0"/><circle cx="628.9" cy="614.3" r="0.9"/><circle cx="626.4" cy="621.9" r="0.8"/><circle cx="629.5" cy="615.9" r="1.2"/><circle cx="627.4" cy="622.1" r="1.3"/><circle cx="634.7" cy="618.1" r="1.2"/><circle cx="631.6" cy="624.2" r="0.9"/><circle cx="636.8" cy="617.8" r="0.8"/><circle cx="632.9" cy="625.5" r="1.1"/><circle cx="637.6" cy="619.4" r="1.0"/><circle cx="641.2" cy="621.0" r="0.8"/><circle cx="638.4" cy="626.6" r="1.1"/><circle cx="644.0" cy="621.4" r="1.2"/><circle cx="645.9" cy="623.0" r="0.9"/><circle cx="642.6" cy="629.5" r="0.9"/><circle cx="648.6" cy="624.7" r="1.1"/><circle cx="647.1" cy="632.5" r="0.9"/><circle cx="653.4" cy="626.8" r="1.0"/><circle cx="652.1" cy="633.3" r="1.1"/><circle cx="659.2" cy="629.5" r="1.3"/><circle cx="656.3" cy="635.4" r="1.2"/><circle cx="656.3" cy="636.8" r="1.1"/><circle cx="659.9" cy="637.0" r="0.8"/><circle cx="664.4" cy="633.3" r="0.8"/><circle cx="661.4" cy="639.3" r="1.0"/><circle cx="670.7" cy="644.3" r="0.9"/><circle cx="675.7" cy="640.2" r="0.9"/><circle cx="613.3" cy="524.0" r="0.9"/><circle cx="622.4" cy="524.9" r="1.1"/><circle cx="615.4" cy="527.7" r="1.2"/><circle cx="622.0" cy="527.8" r="1.1"/><circle cx="615.3" cy="530.4" r="0.9"/><circle cx="624.6" cy="530.4" r="1.3"/><circle cx="617.4" cy="533.3" r="0.9"/><circle cx="624.6" cy="532.9" r="1.2"/><circle cx="618.3" cy="535.4" r="1.0"/><circle cx="624.2" cy="534.2" r="1.1"/><circle cx="620.1" cy="542.1" r="0.9"/><circle cx="628.8" cy="541.6" r="1.0"/><circle cx="621.0" cy="544.8" r="0.9"/><circle cx="628.2" cy="544.0" r="1.2"/><circle cx="623.1" cy="546.0" r="0.8"/><circle cx="625.9" cy="550.4" r="0.9"/><circle cx="632.7" cy="548.2" r="1.1"/><circle cx="627.2" cy="552.8" r="0.8"/><circle cx="633.5" cy="551.3" r="1.1"/><circle cx="628.4" cy="555.6" r="0.8"/><circle cx="635.1" cy="550.7" r="1.0"/><circle cx="629.8" cy="555.1" r="1.2"/><circle cx="637.8" cy="553.8" r="0.9"/><circle cx="631.7" cy="558.9" r="1.3"/><circle cx="632.9" cy="559.3" r="0.9"/><circle cx="639.1" cy="557.5" r="1.1"/><circle cx="634.9" cy="561.0" r="1.1"/><circle cx="637.4" cy="563.9" r="0.9"/><circle cx="643.1" cy="561.2" r="1.1"/><circle cx="639.3" cy="566.0" r="0.8"/><circle cx="650.4" cy="566.8" r="1.1"/><circle cx="645.8" cy="572.6" r="1.0"/><circle cx="651.5" cy="566.1" r="1.0"/><circle cx="646.7" cy="572.1" r="1.2"/><circle cx="647.4" cy="574.5" r="1.1"/><circle cx="655.5" cy="573.9" r="1.2"/><circle cx="649.9" cy="576.7" r="1.2"/><circle cx="656.7" cy="575.0" r="0.8"/><circle cx="650.3" cy="578.2" r="1.2"/><circle cx="659.4" cy="578.8" r="1.1"/><circle cx="652.5" cy="582.3" r="0.9"/><circle cx="652.3" cy="583.9" r="1.2"/><circle cx="660.7" cy="582.1" r="0.9"/><circle cx="654.2" cy="585.4" r="1.1"/><circle cx="662.0" cy="584.6" r="1.0"/><circle cx="664.3" cy="588.6" r="0.9"/><circle cx="665.1" cy="589.9" r="1.2"/><circle cx="666.0" cy="593.8" r="1.2"/><circle cx="660.8" cy="596.8" r="1.3"/><circle cx="666.9" cy="595.5" r="1.0"/><circle cx="660.6" cy="599.1" r="1.2"/><circle cx="663.2" cy="600.4" r="1.2"/><circle cx="670.0" cy="598.5" r="1.2"/><circle cx="664.0" cy="605.2" r="1.0"/><circle cx="668.0" cy="609.0" r="0.9"/><circle cx="674.1" cy="606.4" r="0.8"/><circle cx="670.1" cy="614.6" r="0.9"/><circle cx="676.5" cy="611.6" r="1.2"/><circle cx="678.6" cy="615.4" r="1.3"/><circle cx="672.8" cy="619.2" r="1.2"/><circle cx="679.6" cy="616.6" r="1.0"/><circle cx="674.9" cy="619.8" r="1.1"/><circle cx="677.2" cy="623.8" r="1.3"/><circle cx="735.8" cy="606.1" r="1.2"/><circle cx="730.8" cy="611.1" r="0.9"/><circle cx="738.1" cy="609.1" r="1.1"/><circle cx="733.6" cy="613.6" r="1.0"/><circle cx="739.8" cy="612.0" r="0.9"/><circle cx="735.4" cy="616.5" r="0.9"/><circle cx="741.5" cy="614.3" r="1.2"/><circle cx="737.5" cy="618.3" r="1.1"/><circle cx="741.2" cy="621.4" r="1.1"/><circle cx="747.4" cy="619.9" r="1.1"/><circle cx="742.8" cy="624.5" r="1.0"/><circle cx="750.7" cy="620.8" r="0.8"/><circle cx="753.9" cy="626.6" r="1.1"/><circle cx="750.1" cy="630.4" r="1.3"/><circle cx="755.9" cy="626.3" r="1.2"/><circle cx="750.3" cy="631.9" r="1.0"/><circle cx="756.4" cy="629.3" r="0.9"/><circle cx="751.9" cy="633.9" r="1.2"/><circle cx="757.3" cy="639.0" r="1.3"/><circle cx="763.2" cy="635.1" r="0.9"/><circle cx="760.7" cy="640.9" r="1.2"/><circle cx="762.1" cy="643.8" r="0.9"/><circle cx="764.6" cy="644.7" r="0.9"/><circle cx="715.5" cy="566.2" r="1.3"/><circle cx="718.0" cy="561.0" r="1.2"/><circle cx="716.0" cy="566.8" r="1.3"/><circle cx="722.9" cy="561.5" r="1.0"/><circle cx="726.8" cy="563.4" r="0.9"/><circle cx="731.6" cy="565.0" r="1.0"/><circle cx="729.2" cy="571.8" r="0.8"/><circle cx="735.4" cy="570.8" r="1.3"/><circle cx="727.0" cy="571.3" r="1.1"/><circle cx="734.3" cy="572.7" r="1.2"/><circle cx="727.8" cy="573.0" r="1.3"/><circle cx="735.3" cy="576.4" r="0.8"/><circle cx="728.4" cy="576.8" r="1.1"/><circle cx="734.4" cy="576.9" r="1.2"/><circle cx="736.3" cy="580.9" r="0.9"/><circle cx="728.6" cy="581.3" r="1.0"/><circle cx="736.2" cy="583.0" r="1.1"/><circle cx="728.4" cy="583.4" r="1.1"/><circle cx="736.2" cy="585.5" r="1.0"/><circle cx="729.3" cy="585.9" r="1.3"/><circle cx="735.3" cy="589.6" r="1.3"/><circle cx="727.7" cy="592.7" r="1.0"/><circle cx="727.3" cy="596.5" r="1.2"/><circle cx="733.1" cy="601.8" r="1.3"/><circle cx="727.3" cy="600.4" r="1.1"/><circle cx="732.9" cy="606.2" r="1.1"/><circle cx="726.1" cy="604.5" r="1.2"/><circle cx="729.0" cy="608.5" r="1.0"/><circle cx="726.2" cy="601.6" r="1.2"/><circle cx="726.2" cy="610.7" r="1.2"/><circle cx="723.4" cy="603.8" r="1.1"/><circle cx="723.6" cy="611.4" r="1.1"/><circle cx="721.1" cy="605.5" r="1.1"/><circle cx="721.2" cy="611.3" r="1.2"/><circle cx="715.3" cy="606.1" r="1.2"/><circle cx="716.8" cy="614.9" r="0.8"/><circle cx="713.9" cy="608.2" r="0.9"/><circle cx="712.7" cy="613.7" r="1.2"/><circle cx="714.9" cy="608.9" r="0.9"/><circle cx="707.2" cy="612.5" r="1.1"/><circle cx="710.3" cy="605.7" r="1.0"/><circle cx="706.7" cy="611.7" r="0.9"/><circle cx="703.3" cy="610.2" r="1.2"/><circle cx="705.9" cy="604.5" r="1.2"/><circle cx="700.0" cy="608.1" r="0.9"/><circle cx="697.9" cy="604.5" r="0.8"/><circle cx="703.0" cy="603.5" r="0.9"/><circle cx="696.9" cy="602.9" r="1.3"/><circle cx="696.5" cy="598.0" r="0.9"/><circle cx="703.4" cy="596.7" r="0.8"/><circle cx="695.5" cy="595.2" r="1.2"/><circle cx="702.1" cy="593.9" r="0.8"/><circle cx="695.1" cy="593.9" r="1.2"/><circle cx="701.9" cy="589.8" r="1.1"/><circle cx="695.0" cy="588.6" r="1.1"/><circle cx="701.1" cy="587.4" r="1.0"/><circle cx="694.3" cy="585.1" r="1.2"/><circle cx="700.6" cy="586.0" r="1.2"/><circle cx="694.3" cy="578.6" r="1.2"/><circle cx="700.8" cy="579.5" r="0.9"/><circle cx="694.8" cy="571.8" r="0.8"/><circle cx="702.7" cy="573.0" r="1.2"/><circle cx="695.5" cy="569.3" r="0.9"/><circle cx="702.2" cy="570.3" r="1.0"/><circle cx="698.7" cy="565.1" r="1.0"/><circle cx="701.7" cy="572.2" r="1.1"/><circle cx="702.5" cy="563.2" r="0.9"/><circle cx="705.3" cy="569.9" r="1.2"/><circle cx="706.1" cy="563.2" r="1.1"/><circle cx="708.2" cy="568.4" r="0.9"/><circle cx="710.4" cy="567.1" r="1.1"/><circle cx="712.5" cy="560.3" r="1.2"/><circle cx="773.1" cy="574.9" r="1.2"/><circle cx="776.8" cy="574.6" r="0.9"/><circle cx="781.2" cy="581.1" r="1.1"/><circle cx="784.4" cy="580.7" r="0.9"/><circle cx="785.2" cy="573.7" r="1.1"/><circle cx="791.3" cy="574.8" r="0.9"/><circle cx="788.4" cy="580.5" r="0.9"/><circle cx="792.1" cy="582.0" r="1.3"/><circle cx="798.3" cy="576.6" r="0.8"/><circle cx="794.4" cy="584.4" r="1.0"/><circle cx="767.4" cy="601.2" r="1.1"/><circle cx="774.5" cy="600.0" r="1.3"/><circle cx="769.6" cy="594.4" r="1.1"/><circle cx="769.0" cy="594.1" r="1.0"/><circle cx="775.5" cy="594.1" r="1.2"/><circle cx="775.5" cy="590.0" r="0.8"/><circle cx="769.2" cy="587.8" r="0.9"/><circle cx="776.3" cy="587.8" r="1.1"/><circle cx="768.8" cy="584.9" r="0.9"/><circle cx="776.8" cy="584.9" r="0.8"/><circle cx="768.6" cy="582.1" r="1.0"/><circle cx="776.5" cy="582.1" r="1.1"/><circle cx="769.1" cy="579.5" r="1.3"/><circle cx="776.1" cy="579.5" r="1.2"/><circle cx="788.7" cy="499.5" r="0.9"/><circle cx="788.8" cy="504.8" r="1.3"/><circle cx="782.9" cy="506.0" r="0.9"/><circle cx="789.6" cy="508.9" r="0.8"/><circle cx="782.4" cy="510.3" r="0.9"/><circle cx="783.3" cy="514.2" r="1.2"/><circle cx="784.0" cy="514.9" r="0.9"/><circle cx="792.6" cy="518.3" r="1.3"/><circle cx="784.5" cy="519.8" r="1.1"/><circle cx="786.3" cy="520.5" r="1.2"/><circle cx="793.0" cy="524.5" r="1.0"/><circle cx="786.6" cy="529.2" r="0.9"/><circle cx="787.0" cy="530.5" r="1.3"/><circle cx="794.6" cy="534.8" r="0.8"/><circle cx="796.3" cy="535.8" r="1.1"/><circle cx="797.4" cy="539.7" r="0.8"/><circle cx="790.1" cy="541.1" r="0.9"/><circle cx="796.7" cy="542.1" r="1.2"/><circle cx="790.7" cy="543.3" r="1.0"/><circle cx="798.6" cy="547.0" r="1.3"/><circle cx="791.7" cy="548.3" r="0.9"/><circle cx="798.1" cy="548.3" r="0.8"/><circle cx="791.3" cy="550.0" r="1.3"/><circle cx="798.1" cy="551.4" r="0.9"/><circle cx="791.3" cy="553.0" r="1.2"/><circle cx="799.0" cy="554.4" r="0.9"/><circle cx="686.8" cy="570.9" r="1.2"/><circle cx="682.2" cy="575.1" r="1.3"/><circle cx="690.2" cy="575.7" r="0.9"/><circle cx="690.8" cy="579.4" r="0.9"/><circle cx="684.5" cy="582.8" r="1.1"/><circle cx="692.1" cy="581.5" r="1.0"/><circle cx="686.6" cy="584.4" r="1.1"/><circle cx="687.8" cy="587.3" r="0.9"/><circle cx="687.9" cy="588.7" r="0.8"/><circle cx="695.1" cy="588.4" r="1.2"/><circle cx="689.1" cy="591.4" r="1.0"/><circle cx="697.1" cy="590.2" r="0.9"/><circle cx="691.3" cy="593.2" r="1.0"/><circle cx="698.1" cy="593.2" r="1.2"/><circle cx="700.6" cy="596.8" r="1.0"/><circle cx="694.7" cy="599.6" r="0.9"/><circle cx="700.9" cy="600.3" r="1.0"/><circle cx="704.2" cy="605.5" r="0.9"/><circle cx="603.7" cy="631.8" r="0.9"/><circle cx="604.6" cy="638.9" r="1.0"/><circle cx="607.4" cy="640.8" r="1.2"/><circle cx="611.9" cy="633.1" r="1.2"/><circle cx="611.2" cy="640.4" r="0.9"/><circle cx="614.2" cy="632.7" r="0.8"/><circle cx="613.4" cy="640.5" r="1.3"/><circle cx="617.4" cy="640.6" r="1.1"/><circle cx="620.0" cy="633.3" r="1.0"/><circle cx="619.3" cy="640.7" r="1.0"/><circle cx="624.0" cy="634.0" r="1.2"/><circle cx="623.3" cy="641.2" r="0.8"/><circle cx="626.6" cy="633.9" r="0.9"/><circle cx="628.0" cy="635.6" r="0.9"/><circle cx="630.7" cy="634.8" r="1.3"/><circle cx="629.9" cy="642.0" r="0.9"/><circle cx="633.3" cy="635.7" r="1.1"/><circle cx="632.6" cy="642.0" r="1.0"/><circle cx="636.1" cy="643.6" r="0.9"/><circle cx="640.5" cy="636.3" r="0.8"/><circle cx="639.8" cy="643.5" r="1.0"/><circle cx="642.7" cy="637.1" r="1.1"/><circle cx="641.9" cy="644.3" r="1.3"/><circle cx="646.6" cy="636.7" r="0.9"/><circle cx="646.9" cy="637.2" r="1.2"/><circle cx="650.6" cy="638.0" r="1.2"/><circle cx="654.0" cy="638.1" r="1.2"/><circle cx="655.4" cy="644.9" r="1.0"/><circle cx="657.6" cy="637.4" r="0.8"/><circle cx="658.2" cy="643.1" r="1.3"/><circle cx="660.4" cy="636.7" r="1.0"/><circle cx="661.1" cy="643.4" r="0.9"/><circle cx="662.7" cy="636.0" r="1.1"/><circle cx="663.6" cy="643.6" r="1.2"/><circle cx="670.1" cy="634.6" r="0.9"/><circle cx="670.8" cy="641.6" r="0.9"/><circle cx="672.4" cy="634.4" r="1.0"/><circle cx="673.2" cy="641.7" r="1.0"/><circle cx="677.5" cy="635.8" r="1.0"/><circle cx="677.8" cy="640.9" r="0.9"/><circle cx="680.9" cy="633.8" r="1.2"/><circle cx="681.4" cy="641.6" r="1.2"/><circle cx="683.4" cy="633.5" r="1.1"/><circle cx="683.9" cy="641.7" r="1.2"/><circle cx="685.2" cy="635.4" r="0.9"/><circle cx="685.6" cy="642.3" r="0.9"/><circle cx="691.1" cy="633.9" r="1.2"/><circle cx="691.5" cy="640.5" r="1.0"/><circle cx="694.8" cy="634.7" r="1.0"/><circle cx="695.2" cy="640.9" r="1.2"/><circle cx="697.8" cy="632.7" r="0.8"/><circle cx="698.3" cy="641.4" r="0.9"/></g>
<polyline points="626.4,502.9 643.4,519.9 660.5,537.0 675.1,554.1 684.9,568.7 692.2,585.7 699.5,602.8 706.8,615.0 716.6,624.7" fill="none" stroke="#a8429c" stroke-width="3" stroke-linejoin="round" stroke-linecap="round"/>
<polyline points="658.1,500.4 665.4,512.6 677.6,529.7 689.7,539.4 699.5,546.7 701.9,554.1" fill="none" stroke="#a8429c" stroke-width="2.6" stroke-linejoin="round" stroke-linecap="round"/>
<polyline points="682.4,498.0 699.5,512.6 704.4,529.7 701.9,546.7" fill="none" stroke="#a8429c" stroke-width="2.6" stroke-linejoin="round" stroke-linecap="round"/>
<polyline points="699.5,546.7 716.6,534.6 728.7,527.2 738.5,512.6 748.2,498.0" fill="none" stroke="#a8429c" stroke-width="2.6" stroke-linejoin="round" stroke-linecap="round"/>
<polyline points="701.9,554.1 716.6,561.4 728.7,556.5 740.9,551.6 753.1,546.7 762.9,544.3 772.6,537.0 787.2,534.6 797.0,532.1" fill="none" stroke="#a8429c" stroke-width="2.6" stroke-linejoin="round" stroke-linecap="round"/>
<polyline points="753.1,498.0 755.5,522.4 753.1,546.7" fill="none" stroke="#a8429c" stroke-width="2.6" stroke-linejoin="round" stroke-linecap="round"/>
<polyline points="731.2,563.8 738.5,566.2 760.4,571.1 767.7,573.6 772.6,578.4" fill="none" stroke="#a8429c" stroke-width="2.6" stroke-linejoin="round" stroke-linecap="round"/>
<polyline points="733.6,590.6 753.1,595.5 767.7,607.7 777.5,619.9 782.4,634.5 787.2,644.2" fill="none" stroke="#a8429c" stroke-width="2.6" stroke-linejoin="round" stroke-linecap="round"/>
<polyline points="602.0,561.4 616.6,571.1 626.4,583.3 633.7,600.4 643.4,615.0 660.5,624.7 680.0,629.6 699.5,627.2 709.2,634.5" fill="none" stroke="#a8429c" stroke-width="2.6" stroke-linejoin="round" stroke-linecap="round"/>
<polyline points="602.0,612.6 616.6,615.0 631.2,619.9 650.7,629.6 665.4,636.9 675.1,644.0" fill="none" stroke="#a8429c" stroke-width="2.6" stroke-linejoin="round" stroke-linecap="round"/>
<polyline points="616.6,522.4 626.4,546.7 638.6,561.4 650.7,571.1 660.5,590.6 670.2,607.7 680.0,622.3" fill="none" stroke="#a8429c" stroke-width="2.6" stroke-linejoin="round" stroke-linecap="round"/>
<polyline points="731.2,607.7 738.5,615.0 748.2,624.7 758.0,634.5 767.7,644.0" fill="none" stroke="#a8429c" stroke-width="2.6" stroke-linejoin="round" stroke-linecap="round"/>
<polyline points="714.1,562.6 731.2,568.7 732.4,590.6 728.7,605.2 714.1,611.3 700.7,605.2 697.1,585.7 699.5,568.7 714.1,562.6" fill="none" stroke="#a8429c" stroke-width="2.6" stroke-linejoin="round" stroke-linecap="round"/>
<polyline points="772.6,578.4 787.2,576.0 797.0,580.9" fill="none" stroke="#a8429c" stroke-width="2.6" stroke-linejoin="round" stroke-linecap="round"/>
<polyline points="767.7,607.7 772.6,595.5 772.6,578.4" fill="none" stroke="#a8429c" stroke-width="2.6" stroke-linejoin="round" stroke-linecap="round"/>
<polyline points="784.5,498.0 787.0,510.4 789.4,523.1 792.1,535.5 794.5,548.0 797.0,558.0" fill="none" stroke="#a8429c" stroke-width="2.6" stroke-linejoin="round" stroke-linecap="round"/>
<polyline points="682.9,571.1 689.5,583.5 695.8,596.0 701.9,608.4" fill="none" stroke="#a8429c" stroke-width="2.6" stroke-linejoin="round" stroke-linecap="round"/>
<polyline points="602.0,635.9 627.1,638.4 652.0,641.1 677.1,638.4 701.9,636.9" fill="none" stroke="#a8429c" stroke-width="2.6" stroke-linejoin="round" stroke-linecap="round"/>
<polygon points="787.7,593.0 787.1,594.9 786.6,596.6 784.6,596.9 783.9,597.8 783.4,599.6 782.3,600.7 781.0,600.9 779.6,601.4 778.3,600.5 776.7,600.2 775.6,598.8 774.7,597.1 775.5,594.7 775.7,593.0 775.7,591.4 776.6,590.2 776.2,587.9 776.7,585.9 778.5,586.0 779.8,586.0 781.0,586.0 782.3,585.5 783.7,585.6 785.0,586.2 786.3,587.3 785.9,589.9 786.8,591.2" fill="#fdfafc" filter="url(#b1)"/>
</g>
<g clip-path="url(#cp4)">
<rect x="0" y="648" width="195" height="146" fill="#dc98d6"/>
<ellipse cx="35" cy="680" rx="10" ry="14" fill="#d080c4" opacity="0.7" filter="url(#b2)"/>
<ellipse cx="130" cy="690" rx="10" ry="8" fill="#f0d0ea" opacity="0.8" filter="url(#b2)"/>
<ellipse cx="80" cy="720" rx="27" ry="26" fill="#f0d4ec" opacity="0.9" filter="url(#b3)"/>
<g fill="#55206f" opacity="0.85"><circle cx="-1.4" cy="644.3" r="1.8"/><circle cx="13.3" cy="643.9" r="1.8"/><circle cx="17.7" cy="644.8" r="1.6"/><circle cx="26.5" cy="646.9" r="1.2"/><circle cx="28.7" cy="643.5" r="1.3"/><circle cx="39.8" cy="644.6" r="1.4"/><circle cx="47.2" cy="645.7" r="1.4"/><circle cx="48.1" cy="645.7" r="1.9"/><circle cx="54.4" cy="644.5" r="1.5"/><circle cx="60.9" cy="647.7" r="1.7"/><circle cx="62.6" cy="647.9" r="1.7"/><circle cx="68.7" cy="644.0" r="1.7"/><circle cx="84.5" cy="644.6" r="1.7"/><circle cx="86.6" cy="646.2" r="1.0"/><circle cx="94.7" cy="646.8" r="1.1"/><circle cx="98.6" cy="647.5" r="2.0"/><circle cx="100.1" cy="645.7" r="1.3"/><circle cx="105.8" cy="647.4" r="1.3"/><circle cx="118.5" cy="645.8" r="1.6"/><circle cx="122.2" cy="644.5" r="1.6"/><circle cx="130.4" cy="646.7" r="1.6"/><circle cx="143.5" cy="643.8" r="1.5"/><circle cx="149.8" cy="645.6" r="1.7"/><circle cx="160.0" cy="644.3" r="1.4"/><circle cx="164.5" cy="646.5" r="1.9"/><circle cx="171.1" cy="644.3" r="1.0"/><circle cx="172.2" cy="643.8" r="1.8"/><circle cx="176.2" cy="645.5" r="1.6"/><circle cx="182.4" cy="644.9" r="1.9"/><circle cx="188.0" cy="644.2" r="1.2"/><circle cx="-3.5" cy="648.6" r="1.9"/><circle cx="1.9" cy="651.7" r="1.9"/><circle cx="7.4" cy="648.8" r="1.4"/><circle cx="13.3" cy="650.4" r="2.0"/><circle cx="15.5" cy="651.8" r="1.4"/><circle cx="19.5" cy="650.5" r="1.1"/><circle cx="29.7" cy="648.2" r="1.7"/><circle cx="38.2" cy="648.5" r="1.4"/><circle cx="61.2" cy="651.6" r="1.9"/><circle cx="61.9" cy="651.6" r="1.2"/><circle cx="67.1" cy="652.6" r="1.4"/><circle cx="79.4" cy="652.6" r="1.5"/><circle cx="89.8" cy="648.9" r="1.0"/><circle cx="96.7" cy="651.4" r="1.3"/><circle cx="101.3" cy="648.9" r="1.2"/><circle cx="109.5" cy="650.0" r="1.6"/><circle cx="115.8" cy="650.0" r="1.2"/><circle cx="136.0" cy="649.7" r="1.4"/><circle cx="155.0" cy="651.5" r="1.2"/><circle cx="159.9" cy="649.6" r="1.5"/><circle cx="168.6" cy="651.0" r="1.4"/><circle cx="177.3" cy="649.2" r="1.6"/><circle cx="8.5" cy="653.6" r="1.7"/><circle cx="14.0" cy="653.2" r="1.1"/><circle cx="15.7" cy="654.1" r="1.6"/><circle cx="21.7" cy="654.2" r="1.4"/><circle cx="28.5" cy="656.4" r="2.0"/><circle cx="29.9" cy="653.6" r="1.1"/><circle cx="43.0" cy="653.1" r="1.2"/><circle cx="48.3" cy="655.3" r="1.1"/><circle cx="54.5" cy="657.2" r="1.8"/><circle cx="64.5" cy="656.9" r="1.4"/><circle cx="66.9" cy="657.0" r="1.8"/><circle cx="73.1" cy="656.8" r="1.9"/><circle cx="78.9" cy="655.3" r="1.6"/><circle cx="94.2" cy="654.3" r="1.7"/><circle cx="102.3" cy="656.0" r="1.7"/><circle cx="107.8" cy="657.2" r="1.6"/><circle cx="111.7" cy="654.9" r="1.5"/><circle cx="118.1" cy="655.5" r="1.9"/><circle cx="123.2" cy="653.2" r="1.8"/><circle cx="129.7" cy="656.0" r="1.6"/><circle cx="137.0" cy="654.3" r="1.9"/><circle cx="146.1" cy="657.2" r="1.1"/><circle cx="148.3" cy="656.3" r="1.1"/><circle cx="153.8" cy="656.3" r="1.4"/><circle cx="164.1" cy="656.4" r="1.1"/><circle cx="170.2" cy="655.5" r="1.9"/><circle cx="177.4" cy="656.8" r="1.4"/><circle cx="180.9" cy="654.9" r="1.2"/><circle cx="186.7" cy="654.6" r="1.6"/><circle cx="191.9" cy="653.9" r="1.7"/><circle cx="-2.5" cy="661.1" r="1.7"/><circle cx="3.5" cy="660.0" r="1.5"/><circle cx="19.2" cy="661.5" r="1.1"/><circle cx="29.3" cy="660.7" r="1.4"/><circle cx="34.9" cy="658.7" r="1.0"/><circle cx="45.0" cy="658.6" r="1.8"/><circle cx="51.0" cy="658.5" r="1.1"/><circle cx="53.8" cy="658.9" r="1.8"/><circle cx="58.5" cy="661.5" r="1.9"/><circle cx="66.9" cy="661.1" r="1.0"/><circle cx="82.3" cy="661.9" r="1.2"/><circle cx="97.6" cy="661.3" r="1.8"/><circle cx="102.3" cy="658.0" r="1.6"/><circle cx="105.7" cy="660.5" r="1.7"/><circle cx="110.0" cy="660.5" r="1.8"/><circle cx="135.5" cy="657.8" r="1.0"/><circle cx="140.0" cy="660.7" r="1.1"/><circle cx="161.5" cy="658.9" r="1.4"/><circle cx="166.5" cy="661.3" r="1.7"/><circle cx="184.0" cy="659.3" r="1.3"/><circle cx="194.4" cy="660.9" r="1.2"/><circle cx="198.0" cy="657.7" r="1.9"/><circle cx="2.1" cy="665.1" r="1.3"/><circle cx="13.5" cy="667.0" r="1.7"/><circle cx="14.9" cy="663.2" r="1.9"/><circle cx="29.0" cy="665.2" r="1.5"/><circle cx="40.7" cy="665.1" r="1.2"/><circle cx="46.5" cy="666.5" r="1.9"/><circle cx="47.8" cy="666.5" r="2.0"/><circle cx="70.7" cy="664.9" r="1.7"/><circle cx="76.6" cy="662.6" r="1.5"/><circle cx="82.0" cy="664.1" r="1.5"/><circle cx="87.4" cy="663.4" r="2.0"/><circle cx="93.7" cy="663.1" r="1.5"/><circle cx="103.8" cy="664.1" r="1.7"/><circle cx="122.3" cy="663.6" r="1.2"/><circle cx="126.1" cy="663.5" r="1.3"/><circle cx="132.2" cy="666.5" r="1.7"/><circle cx="136.1" cy="666.0" r="1.8"/><circle cx="140.1" cy="662.8" r="1.8"/><circle cx="152.9" cy="666.0" r="1.0"/><circle cx="159.0" cy="663.6" r="1.5"/><circle cx="162.3" cy="665.4" r="1.2"/><circle cx="166.7" cy="666.5" r="1.0"/><circle cx="180.7" cy="664.9" r="2.0"/><circle cx="181.7" cy="662.6" r="1.4"/><circle cx="188.3" cy="664.2" r="1.3"/><circle cx="198.9" cy="665.8" r="1.7"/><circle cx="1.0" cy="667.5" r="1.4"/><circle cx="5.8" cy="669.8" r="1.2"/><circle cx="10.2" cy="669.6" r="1.3"/><circle cx="45.6" cy="667.7" r="2.0"/><circle cx="55.5" cy="671.2" r="1.6"/><circle cx="64.1" cy="671.0" r="1.7"/><circle cx="75.4" cy="668.8" r="1.8"/><circle cx="79.1" cy="668.2" r="1.8"/><circle cx="83.0" cy="667.1" r="2.0"/><circle cx="88.1" cy="670.0" r="1.1"/><circle cx="95.0" cy="667.3" r="1.9"/><circle cx="99.2" cy="668.6" r="1.7"/><circle cx="102.6" cy="670.0" r="1.8"/><circle cx="106.1" cy="669.4" r="1.4"/><circle cx="111.4" cy="667.2" r="1.3"/><circle cx="119.3" cy="667.5" r="1.5"/><circle cx="124.7" cy="669.6" r="1.5"/><circle cx="130.0" cy="667.6" r="1.5"/><circle cx="139.4" cy="668.4" r="1.3"/><circle cx="146.6" cy="668.9" r="1.4"/><circle cx="160.7" cy="671.7" r="1.0"/><circle cx="169.8" cy="670.1" r="1.7"/><circle cx="177.0" cy="669.7" r="1.4"/><circle cx="184.0" cy="667.5" r="1.7"/><circle cx="190.7" cy="667.1" r="1.9"/><circle cx="195.3" cy="668.7" r="1.7"/><circle cx="-1.4" cy="673.1" r="1.5"/><circle cx="22.5" cy="672.6" r="1.7"/><circle cx="27.8" cy="672.8" r="1.3"/><circle cx="34.8" cy="674.8" r="1.6"/><circle cx="40.9" cy="673.5" r="1.9"/><circle cx="43.5" cy="674.9" r="1.1"/><circle cx="48.6" cy="672.7" r="1.9"/><circle cx="58.2" cy="676.3" r="1.1"/><circle cx="68.7" cy="673.4" r="1.6"/><circle cx="75.5" cy="676.0" r="1.2"/><circle cx="79.0" cy="674.3" r="1.4"/><circle cx="82.9" cy="674.6" r="1.5"/><circle cx="90.4" cy="673.6" r="1.5"/><circle cx="95.4" cy="674.6" r="1.7"/><circle cx="118.5" cy="672.4" r="1.5"/><circle cx="119.6" cy="675.6" r="1.3"/><circle cx="126.9" cy="676.4" r="1.7"/><circle cx="132.7" cy="673.1" r="1.6"/><circle cx="140.2" cy="675.7" r="1.7"/><circle cx="145.0" cy="673.7" r="1.3"/><circle cx="165.0" cy="672.2" r="1.7"/><circle cx="170.5" cy="673.6" r="1.2"/><circle cx="172.0" cy="675.8" r="1.0"/><circle cx="187.0" cy="671.8" r="1.7"/><circle cx="194.9" cy="675.9" r="1.7"/><circle cx="5.6" cy="680.6" r="1.5"/><circle cx="16.8" cy="677.5" r="1.1"/><circle cx="28.7" cy="678.6" r="1.1"/><circle cx="41.0" cy="680.0" r="1.5"/><circle cx="53.0" cy="679.5" r="1.1"/><circle cx="62.6" cy="679.0" r="1.3"/><circle cx="71.0" cy="679.8" r="1.4"/><circle cx="74.5" cy="680.8" r="1.7"/><circle cx="80.7" cy="679.1" r="1.6"/><circle cx="92.8" cy="678.7" r="1.6"/><circle cx="99.9" cy="679.7" r="1.4"/><circle cx="102.4" cy="678.7" r="1.5"/><circle cx="108.0" cy="681.2" r="1.5"/><circle cx="110.0" cy="677.0" r="1.5"/><circle cx="115.2" cy="678.5" r="1.4"/><circle cx="120.3" cy="677.1" r="1.4"/><circle cx="142.3" cy="677.8" r="1.8"/><circle cx="145.0" cy="678.0" r="1.3"/><circle cx="156.9" cy="680.1" r="1.7"/><circle cx="167.4" cy="681.1" r="1.3"/><circle cx="176.6" cy="679.5" r="1.3"/><circle cx="182.9" cy="677.3" r="1.5"/><circle cx="193.7" cy="678.7" r="1.2"/><circle cx="-1.0" cy="682.5" r="1.5"/><circle cx="5.4" cy="683.0" r="1.3"/><circle cx="14.1" cy="684.1" r="1.0"/><circle cx="16.6" cy="683.7" r="1.7"/><circle cx="20.4" cy="685.8" r="1.5"/><circle cx="27.3" cy="681.7" r="1.4"/><circle cx="34.6" cy="682.3" r="1.1"/><circle cx="39.2" cy="684.8" r="1.2"/><circle cx="49.5" cy="683.7" r="1.2"/><circle cx="56.6" cy="681.9" r="1.6"/><circle cx="59.4" cy="684.8" r="1.7"/><circle cx="62.6" cy="683.5" r="1.3"/><circle cx="75.4" cy="683.1" r="1.3"/><circle cx="77.8" cy="683.7" r="1.9"/><circle cx="85.1" cy="683.1" r="1.3"/><circle cx="88.6" cy="683.1" r="1.4"/><circle cx="93.1" cy="682.1" r="1.1"/><circle cx="104.4" cy="681.8" r="1.6"/><circle cx="106.7" cy="682.3" r="2.0"/><circle cx="112.1" cy="684.6" r="1.7"/><circle cx="122.6" cy="683.5" r="1.2"/><circle cx="134.1" cy="682.5" r="1.5"/><circle cx="141.4" cy="685.3" r="1.5"/><circle cx="145.3" cy="682.1" r="1.2"/><circle cx="151.0" cy="681.3" r="1.4"/><circle cx="156.4" cy="683.6" r="1.4"/><circle cx="164.0" cy="685.2" r="1.4"/><circle cx="169.8" cy="683.1" r="1.5"/><circle cx="189.0" cy="683.3" r="1.3"/><circle cx="-3.2" cy="688.2" r="1.8"/><circle cx="9.0" cy="687.2" r="1.0"/><circle cx="17.1" cy="687.6" r="1.7"/><circle cx="20.6" cy="689.8" r="1.6"/><circle cx="26.9" cy="688.6" r="1.8"/><circle cx="35.7" cy="687.2" r="1.4"/><circle cx="50.3" cy="686.2" r="1.6"/><circle cx="55.4" cy="687.0" r="1.7"/><circle cx="65.9" cy="688.4" r="1.7"/><circle cx="70.5" cy="688.9" r="1.2"/><circle cx="73.6" cy="687.1" r="1.7"/><circle cx="77.5" cy="688.4" r="1.4"/><circle cx="86.2" cy="689.1" r="1.7"/><circle cx="91.4" cy="689.4" r="1.3"/><circle cx="100.7" cy="689.2" r="1.0"/><circle cx="105.7" cy="687.1" r="1.1"/><circle cx="111.5" cy="688.4" r="1.2"/><circle cx="116.9" cy="690.2" r="2.0"/><circle cx="121.2" cy="688.7" r="1.9"/><circle cx="124.2" cy="686.8" r="1.2"/><circle cx="130.1" cy="690.0" r="1.3"/><circle cx="146.9" cy="687.9" r="1.9"/><circle cx="150.9" cy="690.3" r="1.5"/><circle cx="155.7" cy="687.8" r="1.5"/><circle cx="157.0" cy="688.7" r="1.1"/><circle cx="170.8" cy="688.0" r="1.2"/><circle cx="177.4" cy="687.8" r="1.8"/><circle cx="185.6" cy="689.3" r="1.4"/><circle cx="191.0" cy="686.1" r="2.0"/><circle cx="1.0" cy="693.3" r="1.8"/><circle cx="5.5" cy="695.5" r="1.3"/><circle cx="18.4" cy="691.0" r="1.8"/><circle cx="32.3" cy="691.3" r="1.1"/><circle cx="41.0" cy="692.4" r="1.3"/><circle cx="43.0" cy="691.0" r="1.9"/><circle cx="47.7" cy="692.6" r="1.6"/><circle cx="53.6" cy="693.0" r="1.6"/><circle cx="60.6" cy="691.6" r="1.2"/><circle cx="72.2" cy="692.2" r="1.5"/><circle cx="79.1" cy="691.0" r="1.6"/><circle cx="81.4" cy="694.9" r="1.6"/><circle cx="92.2" cy="692.4" r="1.5"/><circle cx="108.9" cy="693.3" r="1.6"/><circle cx="113.2" cy="691.9" r="1.9"/><circle cx="136.5" cy="692.9" r="1.6"/><circle cx="141.3" cy="693.2" r="1.8"/><circle cx="143.1" cy="694.1" r="1.8"/><circle cx="151.2" cy="694.8" r="1.6"/><circle cx="155.4" cy="692.9" r="1.0"/><circle cx="182.9" cy="694.5" r="1.7"/><circle cx="187.8" cy="692.6" r="1.7"/><circle cx="191.2" cy="694.2" r="1.5"/><circle cx="-1.3" cy="699.6" r="1.1"/><circle cx="12.9" cy="696.9" r="1.7"/><circle cx="22.8" cy="696.7" r="1.2"/><circle cx="24.4" cy="695.9" r="1.3"/><circle cx="35.8" cy="700.3" r="1.5"/><circle cx="48.6" cy="695.8" r="1.3"/><circle cx="53.3" cy="696.8" r="1.7"/><circle cx="62.6" cy="698.3" r="1.4"/><circle cx="73.9" cy="697.8" r="1.8"/><circle cx="81.7" cy="699.9" r="1.2"/><circle cx="90.7" cy="697.1" r="1.8"/><circle cx="99.7" cy="698.8" r="1.6"/><circle cx="102.4" cy="697.0" r="1.6"/><circle cx="106.9" cy="698.2" r="2.0"/><circle cx="122.4" cy="700.0" r="1.8"/><circle cx="123.7" cy="696.9" r="1.8"/><circle cx="130.1" cy="698.2" r="2.0"/><circle cx="134.0" cy="699.1" r="1.5"/><circle cx="146.0" cy="696.4" r="1.2"/><circle cx="151.7" cy="699.6" r="1.1"/><circle cx="152.3" cy="699.9" r="1.9"/><circle cx="160.7" cy="700.1" r="1.6"/><circle cx="178.1" cy="697.3" r="2.0"/><circle cx="184.3" cy="699.7" r="1.3"/><circle cx="3.7" cy="702.6" r="1.5"/><circle cx="12.7" cy="702.4" r="1.3"/><circle cx="19.9" cy="701.0" r="1.4"/><circle cx="25.3" cy="702.2" r="1.6"/><circle cx="40.1" cy="703.4" r="1.7"/><circle cx="53.5" cy="703.3" r="1.5"/><circle cx="57.5" cy="704.7" r="1.3"/><circle cx="65.4" cy="701.4" r="1.2"/><circle cx="68.9" cy="704.4" r="1.0"/><circle cx="80.8" cy="701.4" r="1.3"/><circle cx="83.6" cy="704.0" r="1.1"/><circle cx="88.1" cy="702.5" r="1.1"/><circle cx="98.3" cy="702.0" r="1.5"/><circle cx="108.4" cy="700.7" r="1.9"/><circle cx="114.0" cy="703.8" r="1.0"/><circle cx="114.6" cy="701.0" r="1.2"/><circle cx="124.1" cy="704.8" r="1.0"/><circle cx="129.8" cy="700.4" r="1.3"/><circle cx="135.7" cy="702.2" r="1.4"/><circle cx="144.8" cy="701.5" r="1.1"/><circle cx="150.4" cy="703.3" r="1.6"/><circle cx="160.4" cy="704.9" r="1.7"/><circle cx="163.7" cy="704.8" r="1.1"/><circle cx="174.8" cy="702.8" r="1.2"/><circle cx="178.1" cy="703.3" r="1.2"/><circle cx="199.7" cy="702.4" r="1.4"/><circle cx="-4.3" cy="706.9" r="1.1"/><circle cx="4.0" cy="709.3" r="1.2"/><circle cx="13.8" cy="709.8" r="1.6"/><circle cx="15.5" cy="705.9" r="1.7"/><circle cx="20.8" cy="709.1" r="1.8"/><circle cx="38.2" cy="707.0" r="1.7"/><circle cx="45.1" cy="707.6" r="1.3"/><circle cx="56.4" cy="708.5" r="1.7"/><circle cx="82.4" cy="706.4" r="1.6"/><circle cx="86.2" cy="707.1" r="1.6"/><circle cx="90.7" cy="705.5" r="1.1"/><circle cx="100.0" cy="709.0" r="2.0"/><circle cx="125.1" cy="708.1" r="1.5"/><circle cx="128.8" cy="709.8" r="1.4"/><circle cx="142.5" cy="707.2" r="1.5"/><circle cx="146.2" cy="708.5" r="1.4"/><circle cx="147.5" cy="706.7" r="1.7"/><circle cx="158.5" cy="706.7" r="1.5"/><circle cx="162.4" cy="705.5" r="1.8"/><circle cx="174.2" cy="709.2" r="1.6"/><circle cx="183.8" cy="707.9" r="1.8"/><circle cx="188.1" cy="706.2" r="1.1"/><circle cx="191.3" cy="707.1" r="1.3"/><circle cx="197.9" cy="705.2" r="1.7"/><circle cx="4.7" cy="711.3" r="1.3"/><circle cx="12.8" cy="711.0" r="1.5"/><circle cx="22.7" cy="713.3" r="1.1"/><circle cx="32.8" cy="714.5" r="1.3"/><circle cx="36.0" cy="713.0" r="2.0"/><circle cx="47.1" cy="712.3" r="1.7"/><circle cx="58.0" cy="713.6" r="1.8"/><circle cx="91.9" cy="712.7" r="2.0"/><circle cx="97.5" cy="710.9" r="1.5"/><circle cx="123.3" cy="713.6" r="1.3"/><circle cx="139.5" cy="710.6" r="1.2"/><circle cx="164.1" cy="713.3" r="1.2"/><circle cx="176.9" cy="711.0" r="1.9"/><circle cx="183.4" cy="711.5" r="1.5"/><circle cx="191.7" cy="713.8" r="1.9"/><circle cx="198.1" cy="713.9" r="1.9"/><circle cx="-4.0" cy="719.3" r="2.0"/><circle cx="0.1" cy="718.9" r="1.3"/><circle cx="17.2" cy="716.7" r="1.5"/><circle cx="22.2" cy="715.8" r="1.2"/><circle cx="34.4" cy="714.7" r="1.3"/><circle cx="55.1" cy="715.2" r="1.6"/><circle cx="63.8" cy="718.2" r="1.9"/><circle cx="92.1" cy="715.0" r="1.9"/><circle cx="95.2" cy="715.1" r="1.8"/><circle cx="120.6" cy="715.9" r="1.6"/><circle cx="128.3" cy="716.3" r="1.4"/><circle cx="128.6" cy="715.1" r="1.1"/><circle cx="134.3" cy="718.8" r="1.9"/><circle cx="150.4" cy="714.7" r="1.3"/><circle cx="160.6" cy="716.4" r="1.3"/><circle cx="162.8" cy="718.6" r="2.0"/><circle cx="171.2" cy="715.8" r="1.2"/><circle cx="175.0" cy="718.9" r="1.5"/><circle cx="177.5" cy="719.1" r="1.1"/><circle cx="184.6" cy="715.3" r="1.5"/><circle cx="188.0" cy="716.4" r="1.3"/><circle cx="192.1" cy="718.2" r="1.8"/><circle cx="199.7" cy="715.4" r="1.1"/><circle cx="-3.1" cy="724.0" r="1.3"/><circle cx="1.3" cy="722.4" r="1.4"/><circle cx="7.6" cy="719.6" r="1.2"/><circle cx="11.8" cy="722.4" r="1.8"/><circle cx="18.6" cy="719.7" r="2.0"/><circle cx="22.6" cy="719.7" r="1.5"/><circle cx="27.9" cy="721.5" r="1.4"/><circle cx="29.2" cy="723.7" r="1.2"/><circle cx="36.4" cy="719.8" r="1.9"/><circle cx="38.5" cy="720.9" r="1.5"/><circle cx="51.7" cy="721.2" r="1.9"/><circle cx="54.2" cy="720.2" r="1.2"/><circle cx="62.1" cy="722.6" r="1.0"/><circle cx="90.1" cy="719.4" r="1.0"/><circle cx="91.0" cy="722.9" r="1.6"/><circle cx="95.2" cy="723.2" r="1.6"/><circle cx="101.4" cy="720.3" r="1.3"/><circle cx="107.2" cy="723.4" r="1.6"/><circle cx="119.3" cy="721.5" r="1.6"/><circle cx="141.2" cy="721.4" r="1.8"/><circle cx="146.0" cy="719.5" r="1.7"/><circle cx="150.7" cy="723.0" r="1.3"/><circle cx="171.9" cy="721.7" r="1.2"/><circle cx="177.3" cy="720.3" r="1.7"/><circle cx="187.8" cy="720.6" r="1.4"/><circle cx="193.4" cy="719.5" r="1.5"/><circle cx="3.3" cy="728.8" r="1.7"/><circle cx="8.1" cy="726.6" r="1.1"/><circle cx="12.0" cy="726.0" r="2.0"/><circle cx="20.3" cy="724.6" r="1.9"/><circle cx="27.5" cy="724.4" r="1.1"/><circle cx="31.3" cy="728.6" r="1.9"/><circle cx="36.7" cy="727.0" r="1.7"/><circle cx="40.6" cy="728.6" r="1.2"/><circle cx="45.0" cy="724.7" r="1.6"/><circle cx="56.2" cy="724.7" r="1.7"/><circle cx="60.7" cy="726.6" r="1.5"/><circle cx="93.7" cy="726.7" r="1.5"/><circle cx="98.3" cy="728.6" r="1.6"/><circle cx="103.8" cy="726.3" r="1.6"/><circle cx="107.5" cy="725.5" r="1.3"/><circle cx="110.8" cy="725.2" r="1.4"/><circle cx="116.6" cy="727.2" r="1.4"/><circle cx="137.7" cy="724.4" r="1.0"/><circle cx="140.9" cy="726.5" r="1.7"/><circle cx="146.8" cy="726.3" r="1.9"/><circle cx="147.6" cy="725.7" r="1.0"/><circle cx="155.6" cy="725.9" r="1.5"/><circle cx="164.4" cy="728.0" r="1.3"/><circle cx="173.7" cy="724.5" r="1.3"/><circle cx="178.7" cy="725.3" r="1.3"/><circle cx="184.6" cy="727.4" r="1.2"/><circle cx="192.1" cy="728.6" r="1.2"/><circle cx="198.2" cy="726.2" r="1.5"/><circle cx="-3.5" cy="731.9" r="2.0"/><circle cx="7.8" cy="731.1" r="1.8"/><circle cx="10.7" cy="730.2" r="1.9"/><circle cx="23.7" cy="730.7" r="1.0"/><circle cx="27.2" cy="732.6" r="1.9"/><circle cx="34.9" cy="731.7" r="1.3"/><circle cx="39.3" cy="731.0" r="1.3"/><circle cx="50.9" cy="730.0" r="1.2"/><circle cx="53.9" cy="729.2" r="1.5"/><circle cx="60.2" cy="733.1" r="1.9"/><circle cx="64.1" cy="730.5" r="1.5"/><circle cx="68.4" cy="730.8" r="1.4"/><circle cx="94.2" cy="733.0" r="1.0"/><circle cx="96.3" cy="732.7" r="1.3"/><circle cx="102.1" cy="732.9" r="1.1"/><circle cx="105.8" cy="731.4" r="1.9"/><circle cx="116.3" cy="732.8" r="1.1"/><circle cx="127.3" cy="733.5" r="1.7"/><circle cx="132.7" cy="729.0" r="1.2"/><circle cx="155.2" cy="730.4" r="2.0"/><circle cx="161.6" cy="729.5" r="1.4"/><circle cx="175.7" cy="732.7" r="1.9"/><circle cx="177.9" cy="731.2" r="1.7"/><circle cx="183.0" cy="728.9" r="1.9"/><circle cx="191.0" cy="729.4" r="1.2"/><circle cx="-0.5" cy="735.8" r="1.7"/><circle cx="4.6" cy="737.7" r="1.4"/><circle cx="19.9" cy="736.4" r="1.6"/><circle cx="26.9" cy="734.5" r="1.2"/><circle cx="33.3" cy="737.2" r="1.7"/><circle cx="42.8" cy="735.5" r="1.9"/><circle cx="47.5" cy="734.3" r="1.3"/><circle cx="53.9" cy="733.8" r="1.5"/><circle cx="62.1" cy="733.7" r="1.9"/><circle cx="75.0" cy="737.8" r="1.6"/><circle cx="87.7" cy="737.1" r="1.4"/><circle cx="101.1" cy="736.6" r="1.5"/><circle cx="108.5" cy="733.8" r="1.2"/><circle cx="113.2" cy="734.4" r="1.8"/><circle cx="115.5" cy="738.1" r="2.0"/><circle cx="126.2" cy="734.7" r="1.1"/><circle cx="132.5" cy="735.9" r="1.1"/><circle cx="138.2" cy="737.7" r="1.9"/><circle cx="157.1" cy="736.0" r="1.1"/><circle cx="166.5" cy="733.7" r="1.3"/><circle cx="173.1" cy="735.9" r="1.7"/><circle cx="193.6" cy="735.2" r="1.1"/><circle cx="3.3" cy="740.7" r="1.7"/><circle cx="19.1" cy="741.8" r="1.8"/><circle cx="47.3" cy="739.0" r="1.2"/><circle cx="49.0" cy="740.9" r="1.2"/><circle cx="62.8" cy="740.0" r="1.2"/><circle cx="76.7" cy="739.2" r="1.9"/><circle cx="84.7" cy="742.2" r="1.7"/><circle cx="87.7" cy="741.9" r="1.8"/><circle cx="96.2" cy="742.3" r="1.9"/><circle cx="100.3" cy="741.6" r="1.9"/><circle cx="108.6" cy="738.8" r="1.8"/><circle cx="109.6" cy="740.0" r="1.6"/><circle cx="115.6" cy="742.0" r="1.9"/><circle cx="120.6" cy="738.5" r="1.7"/><circle cx="131.5" cy="738.7" r="1.4"/><circle cx="135.4" cy="740.8" r="1.9"/><circle cx="140.4" cy="742.5" r="1.9"/><circle cx="146.9" cy="741.2" r="1.7"/><circle cx="149.5" cy="739.6" r="1.1"/><circle cx="160.8" cy="741.0" r="1.7"/><circle cx="164.0" cy="739.7" r="1.5"/><circle cx="168.4" cy="740.7" r="1.6"/><circle cx="171.8" cy="741.9" r="1.1"/><circle cx="195.1" cy="741.0" r="1.9"/><circle cx="13.6" cy="746.4" r="1.2"/><circle cx="18.9" cy="747.8" r="1.9"/><circle cx="24.0" cy="746.3" r="1.2"/><circle cx="29.7" cy="746.7" r="1.4"/><circle cx="42.9" cy="746.3" r="1.9"/><circle cx="49.2" cy="745.4" r="1.2"/><circle cx="57.6" cy="746.0" r="1.9"/><circle cx="68.6" cy="745.9" r="1.8"/><circle cx="71.6" cy="745.3" r="1.8"/><circle cx="77.7" cy="746.3" r="1.2"/><circle cx="84.8" cy="747.3" r="1.6"/><circle cx="94.5" cy="744.7" r="1.0"/><circle cx="96.2" cy="744.8" r="1.9"/><circle cx="101.1" cy="745.7" r="1.8"/><circle cx="107.1" cy="743.2" r="1.5"/><circle cx="115.2" cy="746.9" r="1.6"/><circle cx="130.5" cy="745.7" r="1.4"/><circle cx="139.8" cy="747.0" r="1.6"/><circle cx="143.1" cy="746.4" r="1.0"/><circle cx="157.3" cy="744.1" r="1.4"/><circle cx="170.0" cy="746.6" r="1.5"/><circle cx="171.3" cy="744.7" r="1.8"/><circle cx="197.6" cy="745.2" r="1.7"/><circle cx="-0.4" cy="751.8" r="1.7"/><circle cx="3.2" cy="748.0" r="1.1"/><circle cx="5.5" cy="750.5" r="1.2"/><circle cx="17.7" cy="748.1" r="1.3"/><circle cx="26.7" cy="749.7" r="1.4"/><circle cx="31.9" cy="749.7" r="1.1"/><circle cx="36.8" cy="751.4" r="1.7"/><circle cx="46.1" cy="750.1" r="1.8"/><circle cx="57.3" cy="748.2" r="1.8"/><circle cx="70.0" cy="749.9" r="1.9"/><circle cx="76.1" cy="751.1" r="1.2"/><circle cx="82.5" cy="748.0" r="1.1"/><circle cx="87.9" cy="749.2" r="1.0"/><circle cx="109.3" cy="751.7" r="1.9"/><circle cx="110.2" cy="751.6" r="1.2"/><circle cx="123.9" cy="751.7" r="1.1"/><circle cx="134.7" cy="749.6" r="1.5"/><circle cx="148.4" cy="748.8" r="1.0"/><circle cx="159.5" cy="747.9" r="1.2"/><circle cx="172.4" cy="751.4" r="1.9"/><circle cx="196.8" cy="750.2" r="1.2"/><circle cx="1.1" cy="753.4" r="1.5"/><circle cx="9.6" cy="755.8" r="1.1"/><circle cx="27.2" cy="755.5" r="1.1"/><circle cx="32.0" cy="753.2" r="1.9"/><circle cx="35.9" cy="756.7" r="1.8"/><circle cx="46.6" cy="754.8" r="1.8"/><circle cx="55.6" cy="754.0" r="2.0"/><circle cx="58.9" cy="757.0" r="1.1"/><circle cx="62.8" cy="755.0" r="1.7"/><circle cx="75.9" cy="753.0" r="1.4"/><circle cx="79.1" cy="755.4" r="1.5"/><circle cx="87.3" cy="752.8" r="1.7"/><circle cx="91.7" cy="755.4" r="1.1"/><circle cx="105.7" cy="754.2" r="1.8"/><circle cx="113.3" cy="753.3" r="1.1"/><circle cx="114.8" cy="756.9" r="1.5"/><circle cx="128.6" cy="754.7" r="1.2"/><circle cx="144.8" cy="753.5" r="1.3"/><circle cx="154.3" cy="756.6" r="1.1"/><circle cx="165.2" cy="756.7" r="1.9"/><circle cx="169.2" cy="754.8" r="1.5"/><circle cx="173.6" cy="753.0" r="1.1"/><circle cx="8.0" cy="759.8" r="1.6"/><circle cx="11.2" cy="762.1" r="1.2"/><circle cx="17.7" cy="760.9" r="1.6"/><circle cx="21.0" cy="762.1" r="2.0"/><circle cx="44.7" cy="759.2" r="1.1"/><circle cx="59.5" cy="762.0" r="2.0"/><circle cx="68.2" cy="758.1" r="1.1"/><circle cx="73.2" cy="760.9" r="1.8"/><circle cx="80.0" cy="757.9" r="1.6"/><circle cx="84.1" cy="759.4" r="1.5"/><circle cx="92.1" cy="757.8" r="1.0"/><circle cx="110.8" cy="757.9" r="1.7"/><circle cx="146.2" cy="761.5" r="1.5"/><circle cx="151.2" cy="758.8" r="1.4"/><circle cx="157.9" cy="761.3" r="1.3"/><circle cx="162.2" cy="757.4" r="1.5"/><circle cx="168.1" cy="761.9" r="1.5"/><circle cx="175.3" cy="759.0" r="1.1"/><circle cx="180.4" cy="761.2" r="1.6"/><circle cx="197.2" cy="759.3" r="1.1"/><circle cx="3.6" cy="764.2" r="1.6"/><circle cx="5.8" cy="765.8" r="1.8"/><circle cx="21.9" cy="764.7" r="1.4"/><circle cx="32.8" cy="764.2" r="1.8"/><circle cx="34.2" cy="763.1" r="1.3"/><circle cx="44.8" cy="763.8" r="1.7"/><circle cx="48.8" cy="762.6" r="1.3"/><circle cx="55.4" cy="764.3" r="1.6"/><circle cx="61.7" cy="765.7" r="1.1"/><circle cx="75.3" cy="763.1" r="1.4"/><circle cx="78.8" cy="762.6" r="1.8"/><circle cx="96.0" cy="764.0" r="1.7"/><circle cx="113.2" cy="766.7" r="1.9"/><circle cx="114.8" cy="766.9" r="1.9"/><circle cx="121.2" cy="763.4" r="1.7"/><circle cx="136.8" cy="762.5" r="1.4"/><circle cx="141.8" cy="766.3" r="1.5"/><circle cx="149.2" cy="763.1" r="1.6"/><circle cx="152.3" cy="762.7" r="1.3"/><circle cx="163.0" cy="766.9" r="1.7"/><circle cx="167.7" cy="764.2" r="2.0"/><circle cx="173.7" cy="764.1" r="2.0"/><circle cx="176.9" cy="763.5" r="1.6"/><circle cx="185.2" cy="763.1" r="1.2"/><circle cx="189.3" cy="764.9" r="1.6"/><circle cx="-0.8" cy="771.5" r="1.1"/><circle cx="0.1" cy="771.1" r="1.2"/><circle cx="10.1" cy="768.8" r="1.3"/><circle cx="16.2" cy="766.9" r="1.7"/><circle cx="23.5" cy="767.9" r="1.7"/><circle cx="27.1" cy="769.1" r="1.0"/><circle cx="31.8" cy="769.4" r="1.4"/><circle cx="37.3" cy="768.4" r="1.8"/><circle cx="45.6" cy="766.9" r="1.5"/><circle cx="49.7" cy="771.2" r="2.0"/><circle cx="55.6" cy="769.7" r="1.5"/><circle cx="57.7" cy="770.4" r="1.4"/><circle cx="78.7" cy="768.1" r="1.9"/><circle cx="85.4" cy="768.4" r="1.7"/><circle cx="86.7" cy="768.2" r="1.0"/><circle cx="107.4" cy="767.9" r="1.6"/><circle cx="112.7" cy="767.2" r="1.4"/><circle cx="116.6" cy="767.7" r="1.9"/><circle cx="120.6" cy="771.1" r="1.6"/><circle cx="124.9" cy="768.5" r="1.4"/><circle cx="145.2" cy="770.2" r="1.5"/><circle cx="148.1" cy="769.6" r="1.6"/><circle cx="155.7" cy="771.1" r="1.5"/><circle cx="162.4" cy="769.9" r="1.5"/><circle cx="174.1" cy="767.7" r="1.9"/><circle cx="185.3" cy="769.5" r="1.9"/><circle cx="188.5" cy="770.0" r="1.5"/><circle cx="0.1" cy="774.5" r="2.0"/><circle cx="7.0" cy="775.5" r="1.9"/><circle cx="12.8" cy="772.7" r="1.4"/><circle cx="26.7" cy="775.2" r="1.6"/><circle cx="35.9" cy="771.8" r="1.5"/><circle cx="39.9" cy="773.5" r="1.5"/><circle cx="52.0" cy="776.3" r="1.5"/><circle cx="53.6" cy="772.8" r="1.5"/><circle cx="62.1" cy="776.1" r="1.4"/><circle cx="66.8" cy="773.6" r="1.7"/><circle cx="74.7" cy="773.1" r="1.5"/><circle cx="79.2" cy="774.5" r="1.5"/><circle cx="84.9" cy="772.8" r="1.9"/><circle cx="97.0" cy="771.9" r="1.6"/><circle cx="101.6" cy="774.0" r="1.4"/><circle cx="104.8" cy="772.2" r="1.6"/><circle cx="114.8" cy="775.1" r="1.7"/><circle cx="119.4" cy="775.8" r="1.0"/><circle cx="132.8" cy="773.9" r="1.2"/><circle cx="137.9" cy="773.9" r="1.4"/><circle cx="139.9" cy="772.0" r="1.6"/><circle cx="152.8" cy="772.1" r="1.5"/><circle cx="164.6" cy="775.9" r="1.2"/><circle cx="167.0" cy="776.2" r="1.8"/><circle cx="174.6" cy="772.6" r="1.9"/><circle cx="178.2" cy="774.3" r="1.8"/><circle cx="183.9" cy="772.6" r="1.7"/><circle cx="195.4" cy="774.1" r="1.0"/><circle cx="-1.5" cy="780.5" r="1.3"/><circle cx="0.2" cy="781.1" r="1.6"/><circle cx="38.4" cy="776.4" r="1.4"/><circle cx="44.6" cy="777.0" r="1.6"/><circle cx="49.8" cy="777.7" r="1.2"/><circle cx="55.6" cy="780.9" r="1.2"/><circle cx="57.9" cy="778.1" r="1.7"/><circle cx="64.3" cy="781.0" r="1.8"/><circle cx="69.2" cy="779.3" r="1.9"/><circle cx="74.1" cy="776.6" r="1.1"/><circle cx="78.5" cy="777.3" r="1.3"/><circle cx="84.8" cy="778.2" r="1.4"/><circle cx="94.7" cy="779.7" r="1.9"/><circle cx="109.1" cy="776.5" r="1.9"/><circle cx="110.0" cy="778.1" r="1.1"/><circle cx="115.6" cy="779.6" r="1.2"/><circle cx="124.9" cy="778.9" r="1.5"/><circle cx="130.1" cy="778.4" r="1.2"/><circle cx="145.5" cy="778.2" r="1.6"/><circle cx="148.9" cy="776.8" r="1.7"/><circle cx="152.7" cy="777.0" r="1.9"/><circle cx="158.3" cy="778.8" r="1.7"/><circle cx="162.8" cy="778.4" r="1.9"/><circle cx="178.7" cy="778.4" r="1.5"/><circle cx="182.1" cy="780.6" r="1.8"/><circle cx="185.9" cy="778.2" r="1.5"/><circle cx="192.8" cy="780.4" r="1.4"/><circle cx="199.1" cy="778.9" r="1.3"/><circle cx="11.1" cy="785.6" r="1.5"/><circle cx="17.3" cy="781.3" r="1.4"/><circle cx="31.4" cy="782.2" r="1.1"/><circle cx="42.6" cy="784.3" r="1.9"/><circle cx="51.2" cy="783.0" r="1.5"/><circle cx="61.0" cy="781.8" r="1.4"/><circle cx="73.5" cy="782.5" r="1.7"/><circle cx="79.9" cy="784.7" r="1.2"/><circle cx="82.1" cy="782.5" r="1.3"/><circle cx="86.5" cy="783.7" r="1.6"/><circle cx="95.9" cy="783.2" r="1.1"/><circle cx="106.7" cy="784.1" r="1.2"/><circle cx="118.5" cy="784.6" r="1.8"/><circle cx="130.8" cy="782.1" r="1.4"/><circle cx="156.7" cy="784.1" r="1.1"/><circle cx="157.1" cy="781.6" r="1.8"/><circle cx="166.4" cy="783.3" r="1.6"/><circle cx="168.4" cy="784.6" r="2.0"/><circle cx="175.4" cy="782.8" r="1.5"/><circle cx="181.1" cy="783.5" r="1.4"/><circle cx="-3.4" cy="786.6" r="1.5"/><circle cx="4.3" cy="788.8" r="2.0"/><circle cx="18.6" cy="790.4" r="1.0"/><circle cx="21.6" cy="786.0" r="1.7"/><circle cx="39.3" cy="786.9" r="1.7"/><circle cx="46.4" cy="789.3" r="1.9"/><circle cx="48.6" cy="789.6" r="1.0"/><circle cx="70.0" cy="788.4" r="1.7"/><circle cx="71.7" cy="788.4" r="1.7"/><circle cx="82.6" cy="787.8" r="1.5"/><circle cx="85.8" cy="788.2" r="1.1"/><circle cx="91.3" cy="789.0" r="1.5"/><circle cx="96.2" cy="789.9" r="1.9"/><circle cx="103.1" cy="788.2" r="1.3"/><circle cx="104.8" cy="790.4" r="1.5"/><circle cx="114.1" cy="790.6" r="1.7"/><circle cx="120.9" cy="786.9" r="1.2"/><circle cx="126.4" cy="790.0" r="1.2"/><circle cx="132.6" cy="790.2" r="1.9"/><circle cx="138.5" cy="789.5" r="1.2"/><circle cx="143.9" cy="789.0" r="1.7"/><circle cx="151.7" cy="786.1" r="1.9"/><circle cx="160.3" cy="788.8" r="1.9"/><circle cx="164.7" cy="787.6" r="1.3"/><circle cx="173.3" cy="788.7" r="1.9"/><circle cx="185.2" cy="786.3" r="1.7"/><circle cx="189.0" cy="790.0" r="1.7"/><circle cx="-3.2" cy="794.0" r="1.5"/><circle cx="4.2" cy="795.0" r="1.3"/><circle cx="8.6" cy="792.3" r="1.1"/><circle cx="9.8" cy="791.4" r="1.8"/><circle cx="17.6" cy="791.2" r="1.9"/><circle cx="22.9" cy="790.9" r="2.0"/><circle cx="27.1" cy="793.6" r="1.2"/><circle cx="34.4" cy="795.0" r="1.3"/><circle cx="49.7" cy="795.3" r="1.4"/><circle cx="56.7" cy="794.1" r="1.4"/><circle cx="78.1" cy="791.1" r="1.2"/><circle cx="89.2" cy="794.5" r="1.2"/><circle cx="92.0" cy="794.8" r="1.6"/><circle cx="106.8" cy="791.1" r="1.4"/><circle cx="113.7" cy="791.5" r="1.4"/><circle cx="116.8" cy="794.3" r="1.5"/><circle cx="122.8" cy="792.6" r="1.8"/><circle cx="128.2" cy="793.1" r="1.3"/><circle cx="134.9" cy="794.2" r="1.3"/><circle cx="161.0" cy="793.2" r="1.8"/><circle cx="168.7" cy="791.4" r="1.6"/><circle cx="182.8" cy="793.0" r="1.3"/><circle cx="186.7" cy="793.6" r="1.8"/><circle cx="193.1" cy="794.3" r="1.0"/><circle cx="-3.0" cy="795.7" r="1.5"/><circle cx="18.3" cy="797.1" r="1.7"/><circle cx="23.5" cy="795.6" r="1.6"/><circle cx="27.6" cy="799.0" r="1.4"/><circle cx="42.0" cy="799.8" r="1.9"/><circle cx="43.1" cy="798.7" r="1.4"/><circle cx="51.1" cy="799.8" r="1.4"/><circle cx="55.0" cy="796.3" r="1.1"/><circle cx="58.5" cy="800.0" r="1.8"/><circle cx="65.1" cy="796.2" r="1.5"/><circle cx="81.9" cy="799.2" r="1.9"/><circle cx="95.9" cy="798.4" r="1.8"/><circle cx="110.5" cy="796.6" r="1.1"/><circle cx="115.4" cy="798.5" r="1.7"/><circle cx="126.5" cy="795.5" r="1.9"/><circle cx="132.3" cy="799.0" r="1.7"/><circle cx="137.3" cy="797.9" r="1.1"/><circle cx="141.8" cy="796.3" r="1.2"/><circle cx="145.6" cy="799.2" r="1.5"/><circle cx="150.3" cy="799.2" r="1.3"/><circle cx="152.8" cy="797.4" r="1.8"/><circle cx="160.8" cy="799.8" r="2.0"/><circle cx="162.4" cy="798.3" r="1.3"/><circle cx="172.1" cy="799.6" r="1.7"/><circle cx="180.4" cy="796.4" r="1.7"/><circle cx="194.7" cy="799.9" r="1.8"/></g>
<polyline points="27.5,663.0 30.0,698.0 28.8,735.5 27.5,773.0 25.0,794.0" fill="none" stroke="#ecc2e6" stroke-width="4.5" stroke-linejoin="round" stroke-linecap="round"/>
<polyline points="27.5,663.0 62.5,663.0 107.5,653.0 117.5,648.0" fill="none" stroke="#ecc2e6" stroke-width="4.5" stroke-linejoin="round" stroke-linecap="round"/>
<polyline points="107.5,653.0 125.0,670.5 142.5,693.0 147.5,710.5 140.0,730.5 136.2,753.0 132.5,773.0 135.0,794.0" fill="none" stroke="#ecc2e6" stroke-width="4.5" stroke-linejoin="round" stroke-linecap="round"/>
<polyline points="27.5,773.0 75.0,778.0 132.5,773.0" fill="none" stroke="#ecc2e6" stroke-width="4.5" stroke-linejoin="round" stroke-linecap="round"/>
<polyline points="142.5,693.0 162.5,698.0 195.0,693.0" fill="none" stroke="#ecc2e6" stroke-width="4.5" stroke-linejoin="round" stroke-linecap="round"/>
<polyline points="147.5,710.5 165.0,705.5 195.0,698.0" fill="none" stroke="#eab8e2" stroke-width="3" stroke-linejoin="round" stroke-linecap="round"/>
<polyline points="27.5,663.0 30.0,698.0 28.8,735.5 27.5,773.0 25.0,794.0" fill="none" stroke="#d68ecd" stroke-width="2.4" stroke-linejoin="round" stroke-linecap="round"/>
<polyline points="27.5,663.0 62.5,663.0 107.5,653.0 117.5,648.0" fill="none" stroke="#d68ecd" stroke-width="2.4" stroke-linejoin="round" stroke-linecap="round"/>
<polyline points="107.5,653.0 125.0,670.5 142.5,693.0 147.5,710.5 140.0,730.5 136.2,753.0 132.5,773.0 135.0,794.0" fill="none" stroke="#d68ecd" stroke-width="2.4" stroke-linejoin="round" stroke-linecap="round"/>
<polyline points="27.5,773.0 75.0,778.0 132.5,773.0" fill="none" stroke="#d68ecd" stroke-width="2.4" stroke-linejoin="round" stroke-linecap="round"/>
<polyline points="142.5,693.0 162.5,698.0 195.0,693.0" fill="none" stroke="#d68ecd" stroke-width="2.4" stroke-linejoin="round" stroke-linecap="round"/>
<polyline points="147.5,710.5 165.0,705.5 195.0,698.0" fill="none" stroke="#eab8e2" stroke-width="3" stroke-linejoin="round" stroke-linecap="round"/>
<polygon points="91.5,722.0 92.3,726.3 92.6,731.4 89.8,734.6 86.8,736.7 83.4,737.0 80.0,733.9 78.0,736.2 75.8,735.0 73.8,733.7 70.5,734.6 67.6,733.0 65.7,729.9 65.1,725.9 65.6,722.0 65.9,718.3 67.0,714.9 69.3,712.8 69.2,707.2 71.7,704.4 75.2,705.8 78.0,708.0 80.3,708.6 82.4,709.8 85.6,709.3 86.9,712.5 87.3,716.1 90.0,718.4" fill="#fbf5fa" opacity="0.95" filter="url(#b2)"/>
<polygon points="194.2,747.0 194.9,750.5 195.0,754.4 193.6,757.3 192.4,760.7 190.6,763.4 188.4,765.1 186.0,764.8 183.9,762.7 181.6,762.5 181.4,756.7 178.9,756.7 176.0,755.1 175.3,751.2 174.4,747.0 176.1,743.1 177.1,739.7 177.7,735.8 179.1,732.3 180.5,727.7 183.5,728.3 186.0,732.0 187.9,733.2 190.6,730.9 192.1,734.0 195.4,734.3 196.0,738.8 195.6,743.3" fill="#f8eef6" opacity="0.95" filter="url(#b2)"/>
<polygon points="133.5,763.0 133.9,765.0 133.4,766.7 132.6,767.8 131.8,768.0 131.8,771.3 130.9,771.7 130.0,773.1 129.0,773.0 127.9,772.6 127.6,769.8 127.2,768.0 125.9,767.4 125.7,765.2 126.7,763.0 126.8,761.4 126.7,759.5 126.7,757.0 127.1,754.9 128.1,754.3 129.2,755.5 130.0,756.6 130.7,755.8 131.7,755.0 133.4,753.5 133.9,756.0 133.8,758.8 134.0,760.9" fill="#fbf5fa" opacity="0.9" filter="url(#b1)"/>
</g>
<g clip-path="url(#cp5)">
<rect x="201" y="648" width="195" height="146" fill="#dc98d6"/>
<ellipse cx="388" cy="722" rx="8" ry="30" fill="#f2d8ee" opacity="0.9" filter="url(#b2)"/>
<ellipse cx="306" cy="722" rx="68" ry="57" fill="none" stroke="#d58acc" stroke-width="2"/>
<ellipse cx="232" cy="675" rx="40" ry="32" fill="none" stroke="#d58acc" stroke-width="2"/>
<ellipse cx="228" cy="765" rx="34" ry="40" fill="none" stroke="#d58acc" stroke-width="2"/>
<ellipse cx="355" cy="665" rx="45" ry="22" fill="none" stroke="#d58acc" stroke-width="2"/>
<ellipse cx="382" cy="775" rx="22" ry="26" fill="none" stroke="#d58acc" stroke-width="2"/>
<g fill="#55206f" opacity="0.85"><circle cx="199.2" cy="646.5" r="1.6"/><circle cx="208.6" cy="644.5" r="1.6"/><circle cx="216.0" cy="646.6" r="1.5"/><circle cx="218.7" cy="644.2" r="1.1"/><circle cx="223.5" cy="647.8" r="1.3"/><circle cx="229.9" cy="645.9" r="1.7"/><circle cx="240.0" cy="645.8" r="1.6"/><circle cx="248.1" cy="646.2" r="1.8"/><circle cx="252.5" cy="642.9" r="1.7"/><circle cx="256.6" cy="643.8" r="1.2"/><circle cx="268.2" cy="645.6" r="1.8"/><circle cx="336.4" cy="647.7" r="1.3"/><circle cx="340.4" cy="645.0" r="1.7"/><circle cx="342.6" cy="644.4" r="1.5"/><circle cx="348.5" cy="645.6" r="1.3"/><circle cx="356.5" cy="646.5" r="1.3"/><circle cx="361.8" cy="645.0" r="1.3"/><circle cx="364.2" cy="647.7" r="1.6"/><circle cx="204.1" cy="652.8" r="1.4"/><circle cx="213.2" cy="649.1" r="1.1"/><circle cx="219.6" cy="650.4" r="1.6"/><circle cx="222.2" cy="650.9" r="1.7"/><circle cx="230.7" cy="649.4" r="1.7"/><circle cx="236.4" cy="648.9" r="1.5"/><circle cx="241.1" cy="651.7" r="1.2"/><circle cx="247.1" cy="650.2" r="1.8"/><circle cx="251.4" cy="649.6" r="1.3"/><circle cx="254.4" cy="652.3" r="1.6"/><circle cx="263.1" cy="652.5" r="1.1"/><circle cx="294.6" cy="650.1" r="1.7"/><circle cx="301.7" cy="653.0" r="1.5"/><circle cx="315.7" cy="650.7" r="1.4"/><circle cx="319.1" cy="650.3" r="1.2"/><circle cx="322.6" cy="650.8" r="1.0"/><circle cx="331.4" cy="651.6" r="1.8"/><circle cx="332.4" cy="648.4" r="1.2"/><circle cx="338.7" cy="648.9" r="1.6"/><circle cx="343.1" cy="651.4" r="1.2"/><circle cx="349.8" cy="649.7" r="1.9"/><circle cx="356.0" cy="653.0" r="1.1"/><circle cx="362.5" cy="648.2" r="1.4"/><circle cx="368.0" cy="651.3" r="1.8"/><circle cx="373.0" cy="648.7" r="1.3"/><circle cx="387.2" cy="651.5" r="1.2"/><circle cx="393.5" cy="651.2" r="1.6"/><circle cx="196.8" cy="654.5" r="2.0"/><circle cx="203.6" cy="657.3" r="1.4"/><circle cx="209.6" cy="653.8" r="1.4"/><circle cx="215.5" cy="654.5" r="1.3"/><circle cx="218.4" cy="653.3" r="2.0"/><circle cx="224.9" cy="654.7" r="1.5"/><circle cx="228.2" cy="655.8" r="1.8"/><circle cx="236.9" cy="653.7" r="1.3"/><circle cx="245.4" cy="658.3" r="1.9"/><circle cx="251.4" cy="656.8" r="1.5"/><circle cx="254.6" cy="655.1" r="1.4"/><circle cx="263.8" cy="656.0" r="1.3"/><circle cx="279.7" cy="655.5" r="1.7"/><circle cx="294.6" cy="656.2" r="1.1"/><circle cx="311.7" cy="654.7" r="1.7"/><circle cx="317.6" cy="654.6" r="1.5"/><circle cx="325.9" cy="654.1" r="1.9"/><circle cx="327.3" cy="654.5" r="1.9"/><circle cx="333.0" cy="658.0" r="1.4"/><circle cx="341.9" cy="654.6" r="1.3"/><circle cx="349.4" cy="657.4" r="1.5"/><circle cx="356.9" cy="658.4" r="2.0"/><circle cx="362.1" cy="657.1" r="1.4"/><circle cx="394.2" cy="653.4" r="1.8"/><circle cx="196.8" cy="662.6" r="1.1"/><circle cx="201.5" cy="659.8" r="1.2"/><circle cx="210.6" cy="660.6" r="1.5"/><circle cx="214.5" cy="660.1" r="1.2"/><circle cx="219.3" cy="661.8" r="1.9"/><circle cx="225.4" cy="662.5" r="1.9"/><circle cx="227.4" cy="659.3" r="1.4"/><circle cx="235.0" cy="660.8" r="1.6"/><circle cx="247.4" cy="658.8" r="1.9"/><circle cx="250.2" cy="662.7" r="1.5"/><circle cx="257.6" cy="663.7" r="1.0"/><circle cx="260.4" cy="663.3" r="1.4"/><circle cx="264.2" cy="663.0" r="1.8"/><circle cx="313.1" cy="658.8" r="1.7"/><circle cx="317.7" cy="663.6" r="1.2"/><circle cx="325.9" cy="661.6" r="1.7"/><circle cx="327.6" cy="662.9" r="1.0"/><circle cx="337.2" cy="662.7" r="2.0"/><circle cx="340.2" cy="660.7" r="1.0"/><circle cx="342.9" cy="660.2" r="1.7"/><circle cx="352.8" cy="660.0" r="1.9"/><circle cx="356.5" cy="658.9" r="1.7"/><circle cx="361.7" cy="659.9" r="1.5"/><circle cx="365.6" cy="658.7" r="1.0"/><circle cx="384.0" cy="662.5" r="1.5"/><circle cx="385.9" cy="660.3" r="1.3"/><circle cx="391.0" cy="662.0" r="1.7"/><circle cx="397.1" cy="663.6" r="1.9"/><circle cx="198.1" cy="668.4" r="1.9"/><circle cx="205.5" cy="667.2" r="1.1"/><circle cx="208.3" cy="664.5" r="1.0"/><circle cx="213.1" cy="666.0" r="1.3"/><circle cx="223.2" cy="668.6" r="1.4"/><circle cx="233.6" cy="665.3" r="1.3"/><circle cx="248.1" cy="666.0" r="1.9"/><circle cx="249.9" cy="668.1" r="1.2"/><circle cx="255.8" cy="666.2" r="1.7"/><circle cx="260.2" cy="666.6" r="1.3"/><circle cx="266.1" cy="665.7" r="1.4"/><circle cx="270.8" cy="668.6" r="1.5"/><circle cx="284.2" cy="665.0" r="1.4"/><circle cx="293.0" cy="667.2" r="2.0"/><circle cx="295.5" cy="668.9" r="1.6"/><circle cx="303.2" cy="665.2" r="1.7"/><circle cx="306.8" cy="667.8" r="1.5"/><circle cx="311.5" cy="667.3" r="1.4"/><circle cx="317.1" cy="663.7" r="1.0"/><circle cx="321.8" cy="665.9" r="1.2"/><circle cx="327.5" cy="667.2" r="1.2"/><circle cx="334.2" cy="665.8" r="1.3"/><circle cx="339.6" cy="665.4" r="1.1"/><circle cx="348.1" cy="667.6" r="1.9"/><circle cx="361.9" cy="665.8" r="1.5"/><circle cx="372.6" cy="668.6" r="1.3"/><circle cx="378.1" cy="668.1" r="1.0"/><circle cx="379.7" cy="664.1" r="1.8"/><circle cx="387.1" cy="667.7" r="1.5"/><circle cx="393.5" cy="667.2" r="1.7"/><circle cx="197.3" cy="672.8" r="2.0"/><circle cx="207.3" cy="670.5" r="1.1"/><circle cx="214.8" cy="671.5" r="1.7"/><circle cx="218.4" cy="673.9" r="1.5"/><circle cx="222.1" cy="671.1" r="1.4"/><circle cx="227.2" cy="670.0" r="1.9"/><circle cx="237.3" cy="672.7" r="1.9"/><circle cx="245.8" cy="673.1" r="1.2"/><circle cx="249.0" cy="669.0" r="1.7"/><circle cx="256.8" cy="671.4" r="1.3"/><circle cx="267.7" cy="671.1" r="1.5"/><circle cx="276.3" cy="673.0" r="1.8"/><circle cx="279.8" cy="671.4" r="1.6"/><circle cx="285.9" cy="669.5" r="1.5"/><circle cx="293.3" cy="669.8" r="1.0"/><circle cx="295.9" cy="670.6" r="1.3"/><circle cx="305.3" cy="670.4" r="1.2"/><circle cx="309.5" cy="670.4" r="1.5"/><circle cx="314.0" cy="671.3" r="1.8"/><circle cx="318.2" cy="672.7" r="2.0"/><circle cx="323.2" cy="669.9" r="1.4"/><circle cx="327.5" cy="672.7" r="1.3"/><circle cx="333.9" cy="672.2" r="1.3"/><circle cx="340.2" cy="670.5" r="1.4"/><circle cx="345.3" cy="674.0" r="1.6"/><circle cx="357.5" cy="670.6" r="1.8"/><circle cx="360.6" cy="672.9" r="1.1"/><circle cx="370.6" cy="673.6" r="1.9"/><circle cx="377.3" cy="673.9" r="1.4"/><circle cx="385.4" cy="673.3" r="1.3"/><circle cx="390.7" cy="672.2" r="1.4"/><circle cx="197.5" cy="678.5" r="1.5"/><circle cx="204.4" cy="676.3" r="1.9"/><circle cx="214.4" cy="677.3" r="1.8"/><circle cx="220.3" cy="674.3" r="1.6"/><circle cx="224.9" cy="678.4" r="1.9"/><circle cx="231.6" cy="679.0" r="1.9"/><circle cx="233.8" cy="675.4" r="1.6"/><circle cx="243.2" cy="676.7" r="1.5"/><circle cx="250.2" cy="674.5" r="1.1"/><circle cx="254.1" cy="674.9" r="1.6"/><circle cx="263.5" cy="678.6" r="1.5"/><circle cx="266.7" cy="674.3" r="1.9"/><circle cx="273.8" cy="678.2" r="1.0"/><circle cx="274.7" cy="676.1" r="1.8"/><circle cx="288.9" cy="675.8" r="1.2"/><circle cx="295.4" cy="679.2" r="1.6"/><circle cx="305.8" cy="675.0" r="1.5"/><circle cx="307.8" cy="676.3" r="2.0"/><circle cx="316.2" cy="674.4" r="1.3"/><circle cx="317.5" cy="677.6" r="1.7"/><circle cx="325.1" cy="678.5" r="1.5"/><circle cx="328.2" cy="676.4" r="1.7"/><circle cx="332.6" cy="677.2" r="1.6"/><circle cx="342.2" cy="674.9" r="1.8"/><circle cx="346.5" cy="674.9" r="1.5"/><circle cx="361.3" cy="675.4" r="1.1"/><circle cx="367.4" cy="677.6" r="1.1"/><circle cx="371.1" cy="677.1" r="1.7"/><circle cx="378.3" cy="674.9" r="1.3"/><circle cx="382.3" cy="678.1" r="1.2"/><circle cx="389.2" cy="677.3" r="1.7"/><circle cx="393.3" cy="676.3" r="1.5"/><circle cx="198.7" cy="680.5" r="1.7"/><circle cx="202.5" cy="684.0" r="1.1"/><circle cx="209.4" cy="682.8" r="1.4"/><circle cx="222.2" cy="681.5" r="1.7"/><circle cx="230.5" cy="681.5" r="1.7"/><circle cx="232.6" cy="681.9" r="1.6"/><circle cx="243.7" cy="679.9" r="1.0"/><circle cx="257.3" cy="682.6" r="1.5"/><circle cx="261.3" cy="683.9" r="1.4"/><circle cx="265.0" cy="683.9" r="1.4"/><circle cx="273.7" cy="680.4" r="1.7"/><circle cx="281.1" cy="684.1" r="1.4"/><circle cx="298.4" cy="680.6" r="1.9"/><circle cx="305.8" cy="684.2" r="1.3"/><circle cx="307.0" cy="680.7" r="1.4"/><circle cx="314.5" cy="682.1" r="1.3"/><circle cx="321.2" cy="682.3" r="1.3"/><circle cx="326.2" cy="679.6" r="1.2"/><circle cx="331.0" cy="683.6" r="2.0"/><circle cx="337.0" cy="680.6" r="1.7"/><circle cx="341.4" cy="683.6" r="1.2"/><circle cx="345.1" cy="680.3" r="1.8"/><circle cx="349.4" cy="682.7" r="1.9"/><circle cx="357.0" cy="680.8" r="1.7"/><circle cx="361.3" cy="682.8" r="1.7"/><circle cx="367.3" cy="682.7" r="1.1"/><circle cx="370.5" cy="682.8" r="1.5"/><circle cx="392.5" cy="684.7" r="1.1"/><circle cx="396.3" cy="684.3" r="1.3"/><circle cx="201.0" cy="688.4" r="1.9"/><circle cx="201.3" cy="686.2" r="1.7"/><circle cx="215.0" cy="686.9" r="1.7"/><circle cx="221.3" cy="684.7" r="1.9"/><circle cx="224.8" cy="685.7" r="1.5"/><circle cx="232.4" cy="689.2" r="1.4"/><circle cx="243.8" cy="689.7" r="2.0"/><circle cx="248.8" cy="685.8" r="1.5"/><circle cx="257.9" cy="685.8" r="1.9"/><circle cx="263.0" cy="688.8" r="1.2"/><circle cx="278.2" cy="688.0" r="1.5"/><circle cx="280.8" cy="687.0" r="1.1"/><circle cx="285.8" cy="686.1" r="1.3"/><circle cx="293.0" cy="688.5" r="1.9"/><circle cx="304.1" cy="689.8" r="1.6"/><circle cx="310.2" cy="689.8" r="1.7"/><circle cx="321.1" cy="686.3" r="1.8"/><circle cx="334.8" cy="687.6" r="1.8"/><circle cx="338.8" cy="689.6" r="1.8"/><circle cx="347.1" cy="687.5" r="1.9"/><circle cx="348.1" cy="688.3" r="1.8"/><circle cx="354.2" cy="688.4" r="1.3"/><circle cx="366.7" cy="685.6" r="1.1"/><circle cx="203.5" cy="690.5" r="1.1"/><circle cx="207.5" cy="693.1" r="1.8"/><circle cx="216.1" cy="692.7" r="1.9"/><circle cx="219.5" cy="694.0" r="1.1"/><circle cx="226.9" cy="694.5" r="1.5"/><circle cx="230.1" cy="695.1" r="1.5"/><circle cx="238.3" cy="693.5" r="1.0"/><circle cx="245.0" cy="693.3" r="1.8"/><circle cx="250.5" cy="693.8" r="1.1"/><circle cx="255.5" cy="694.8" r="1.8"/><circle cx="260.0" cy="693.3" r="1.4"/><circle cx="265.3" cy="691.3" r="1.9"/><circle cx="269.4" cy="690.5" r="1.4"/><circle cx="274.8" cy="694.5" r="1.3"/><circle cx="279.7" cy="694.8" r="1.1"/><circle cx="289.5" cy="694.6" r="1.3"/><circle cx="295.4" cy="692.5" r="1.8"/><circle cx="301.8" cy="692.8" r="1.3"/><circle cx="306.7" cy="690.3" r="1.2"/><circle cx="315.8" cy="693.9" r="1.7"/><circle cx="316.7" cy="693.9" r="1.8"/><circle cx="330.3" cy="690.2" r="1.2"/><circle cx="335.7" cy="692.8" r="1.5"/><circle cx="340.0" cy="690.6" r="1.6"/><circle cx="342.9" cy="692.0" r="1.3"/><circle cx="347.9" cy="694.2" r="1.6"/><circle cx="353.8" cy="690.8" r="2.0"/><circle cx="358.4" cy="693.5" r="2.0"/><circle cx="395.9" cy="690.6" r="1.8"/><circle cx="204.0" cy="698.0" r="1.5"/><circle cx="211.1" cy="696.5" r="1.9"/><circle cx="214.4" cy="697.7" r="1.6"/><circle cx="219.9" cy="697.5" r="1.5"/><circle cx="225.1" cy="697.0" r="1.0"/><circle cx="231.2" cy="697.5" r="1.4"/><circle cx="235.1" cy="699.2" r="2.0"/><circle cx="246.1" cy="697.0" r="2.0"/><circle cx="249.5" cy="698.7" r="1.7"/><circle cx="255.2" cy="695.4" r="1.7"/><circle cx="259.1" cy="699.5" r="1.6"/><circle cx="267.8" cy="699.1" r="1.6"/><circle cx="273.2" cy="698.6" r="1.3"/><circle cx="285.2" cy="696.9" r="1.5"/><circle cx="293.0" cy="697.1" r="1.2"/><circle cx="298.4" cy="700.3" r="1.1"/><circle cx="302.6" cy="696.3" r="1.3"/><circle cx="310.6" cy="700.3" r="1.9"/><circle cx="315.5" cy="695.8" r="1.6"/><circle cx="323.9" cy="696.6" r="1.1"/><circle cx="329.2" cy="699.8" r="1.7"/><circle cx="332.7" cy="697.3" r="1.4"/><circle cx="340.4" cy="696.7" r="1.0"/><circle cx="349.4" cy="697.0" r="1.0"/><circle cx="358.3" cy="698.6" r="1.5"/><circle cx="373.1" cy="696.3" r="1.2"/><circle cx="215.5" cy="701.1" r="1.5"/><circle cx="218.6" cy="702.8" r="1.7"/><circle cx="223.9" cy="704.0" r="1.8"/><circle cx="230.9" cy="704.9" r="1.4"/><circle cx="233.3" cy="701.7" r="2.0"/><circle cx="239.7" cy="704.0" r="1.1"/><circle cx="246.5" cy="704.4" r="1.4"/><circle cx="249.2" cy="704.4" r="1.6"/><circle cx="254.3" cy="700.7" r="1.7"/><circle cx="260.7" cy="705.4" r="1.6"/><circle cx="267.0" cy="702.3" r="2.0"/><circle cx="273.2" cy="704.7" r="1.5"/><circle cx="276.3" cy="701.2" r="1.1"/><circle cx="281.0" cy="702.0" r="1.9"/><circle cx="292.6" cy="705.2" r="1.5"/><circle cx="300.4" cy="700.8" r="1.6"/><circle cx="302.0" cy="703.3" r="1.5"/><circle cx="326.6" cy="704.2" r="1.9"/><circle cx="333.1" cy="705.4" r="1.6"/><circle cx="337.6" cy="702.7" r="1.9"/><circle cx="351.4" cy="700.5" r="1.6"/><circle cx="353.9" cy="701.6" r="1.8"/><circle cx="362.5" cy="704.6" r="1.8"/><circle cx="366.2" cy="700.9" r="1.3"/><circle cx="370.1" cy="704.0" r="1.5"/><circle cx="378.7" cy="704.4" r="1.6"/><circle cx="398.4" cy="703.3" r="1.8"/><circle cx="219.8" cy="709.1" r="1.0"/><circle cx="225.8" cy="709.4" r="1.5"/><circle cx="233.2" cy="706.1" r="1.5"/><circle cx="247.6" cy="709.0" r="1.1"/><circle cx="250.8" cy="708.6" r="1.2"/><circle cx="262.5" cy="710.7" r="1.5"/><circle cx="271.5" cy="710.3" r="1.0"/><circle cx="277.0" cy="709.2" r="1.1"/><circle cx="284.4" cy="706.7" r="1.4"/><circle cx="288.5" cy="707.4" r="1.3"/><circle cx="291.7" cy="707.4" r="2.0"/><circle cx="331.2" cy="707.3" r="1.1"/><circle cx="333.8" cy="710.6" r="1.9"/><circle cx="337.7" cy="707.8" r="1.1"/><circle cx="346.8" cy="710.8" r="1.6"/><circle cx="354.3" cy="706.1" r="1.3"/><circle cx="363.1" cy="709.9" r="1.1"/><circle cx="365.4" cy="706.0" r="1.6"/><circle cx="382.2" cy="706.5" r="1.9"/><circle cx="388.9" cy="708.7" r="1.2"/><circle cx="201.4" cy="711.5" r="1.2"/><circle cx="232.0" cy="712.1" r="1.5"/><circle cx="233.0" cy="713.2" r="1.8"/><circle cx="242.0" cy="712.9" r="1.3"/><circle cx="245.4" cy="713.0" r="1.9"/><circle cx="249.0" cy="713.1" r="1.6"/><circle cx="257.5" cy="712.0" r="1.1"/><circle cx="259.9" cy="713.3" r="1.3"/><circle cx="275.4" cy="712.6" r="1.9"/><circle cx="280.9" cy="715.9" r="1.6"/><circle cx="288.3" cy="711.3" r="1.4"/><circle cx="336.2" cy="711.1" r="1.1"/><circle cx="341.3" cy="714.1" r="1.5"/><circle cx="343.1" cy="711.0" r="1.8"/><circle cx="354.6" cy="715.9" r="1.1"/><circle cx="359.9" cy="714.7" r="1.8"/><circle cx="365.8" cy="714.2" r="2.0"/><circle cx="369.8" cy="711.6" r="2.0"/><circle cx="389.3" cy="711.2" r="1.4"/><circle cx="200.0" cy="717.3" r="1.6"/><circle cx="228.9" cy="720.7" r="1.7"/><circle cx="241.4" cy="716.9" r="1.1"/><circle cx="243.3" cy="720.0" r="1.8"/><circle cx="250.1" cy="720.0" r="1.8"/><circle cx="262.0" cy="720.5" r="1.1"/><circle cx="268.7" cy="719.4" r="1.4"/><circle cx="271.1" cy="720.6" r="1.9"/><circle cx="276.9" cy="718.2" r="1.2"/><circle cx="282.9" cy="721.3" r="1.4"/><circle cx="356.1" cy="717.1" r="1.9"/><circle cx="359.5" cy="719.9" r="1.1"/><circle cx="367.5" cy="717.0" r="1.2"/><circle cx="369.6" cy="718.1" r="1.8"/><circle cx="374.3" cy="721.1" r="1.7"/><circle cx="399.4" cy="718.6" r="1.9"/><circle cx="208.2" cy="722.7" r="1.9"/><circle cx="222.9" cy="724.6" r="1.6"/><circle cx="237.0" cy="724.7" r="1.8"/><circle cx="242.5" cy="722.0" r="1.7"/><circle cx="244.8" cy="726.6" r="1.5"/><circle cx="256.9" cy="726.2" r="1.3"/><circle cx="262.6" cy="725.5" r="1.4"/><circle cx="269.5" cy="726.2" r="1.8"/><circle cx="277.9" cy="726.4" r="1.3"/><circle cx="281.7" cy="723.3" r="1.6"/><circle cx="337.5" cy="724.1" r="1.2"/><circle cx="351.5" cy="724.4" r="1.8"/><circle cx="368.2" cy="724.4" r="2.0"/><circle cx="372.5" cy="722.0" r="1.2"/><circle cx="378.9" cy="724.0" r="1.5"/><circle cx="394.2" cy="724.6" r="1.0"/><circle cx="216.4" cy="728.7" r="1.4"/><circle cx="220.4" cy="728.7" r="2.0"/><circle cx="226.6" cy="731.1" r="1.4"/><circle cx="228.8" cy="727.5" r="1.3"/><circle cx="236.9" cy="731.8" r="1.1"/><circle cx="240.9" cy="731.6" r="1.9"/><circle cx="247.2" cy="729.1" r="1.8"/><circle cx="251.5" cy="728.9" r="2.0"/><circle cx="253.6" cy="731.1" r="1.9"/><circle cx="261.9" cy="730.4" r="1.7"/><circle cx="266.6" cy="731.0" r="1.4"/><circle cx="273.5" cy="726.8" r="1.7"/><circle cx="280.4" cy="727.2" r="1.5"/><circle cx="327.5" cy="729.9" r="2.0"/><circle cx="335.1" cy="729.5" r="1.7"/><circle cx="342.6" cy="728.3" r="1.7"/><circle cx="349.1" cy="728.9" r="1.1"/><circle cx="365.1" cy="727.1" r="1.4"/><circle cx="375.7" cy="727.2" r="1.2"/><circle cx="398.5" cy="730.0" r="1.8"/><circle cx="205.5" cy="735.5" r="1.1"/><circle cx="213.2" cy="734.4" r="1.2"/><circle cx="220.4" cy="735.3" r="1.8"/><circle cx="222.9" cy="734.9" r="1.5"/><circle cx="229.4" cy="737.1" r="1.1"/><circle cx="236.2" cy="732.7" r="1.9"/><circle cx="240.4" cy="734.6" r="1.4"/><circle cx="246.1" cy="734.9" r="1.9"/><circle cx="248.9" cy="736.6" r="2.0"/><circle cx="256.7" cy="734.0" r="1.9"/><circle cx="261.5" cy="732.8" r="1.4"/><circle cx="270.9" cy="732.4" r="1.4"/><circle cx="290.0" cy="732.3" r="1.7"/><circle cx="290.4" cy="735.1" r="1.7"/><circle cx="298.6" cy="736.3" r="2.0"/><circle cx="304.3" cy="735.6" r="1.2"/><circle cx="330.1" cy="734.3" r="1.5"/><circle cx="333.9" cy="732.1" r="1.3"/><circle cx="347.8" cy="733.0" r="2.0"/><circle cx="355.0" cy="734.3" r="1.9"/><circle cx="360.8" cy="734.4" r="1.5"/><circle cx="368.5" cy="735.4" r="1.0"/><circle cx="379.5" cy="736.7" r="1.4"/><circle cx="399.2" cy="734.1" r="1.7"/><circle cx="200.6" cy="738.9" r="2.0"/><circle cx="203.1" cy="741.5" r="1.3"/><circle cx="209.4" cy="738.0" r="1.7"/><circle cx="211.8" cy="739.9" r="1.4"/><circle cx="221.1" cy="739.3" r="1.0"/><circle cx="236.8" cy="741.5" r="1.0"/><circle cx="241.1" cy="740.6" r="1.5"/><circle cx="246.1" cy="740.9" r="1.5"/><circle cx="251.6" cy="739.1" r="1.2"/><circle cx="253.6" cy="740.0" r="1.5"/><circle cx="266.6" cy="740.0" r="1.8"/><circle cx="271.2" cy="737.2" r="1.2"/><circle cx="277.7" cy="738.1" r="1.2"/><circle cx="289.1" cy="737.4" r="1.7"/><circle cx="304.8" cy="740.6" r="1.5"/><circle cx="314.2" cy="741.3" r="1.2"/><circle cx="325.7" cy="737.8" r="1.9"/><circle cx="327.7" cy="742.2" r="1.5"/><circle cx="341.3" cy="739.5" r="1.7"/><circle cx="344.4" cy="737.7" r="1.2"/><circle cx="349.2" cy="739.3" r="1.5"/><circle cx="354.9" cy="739.6" r="1.9"/><circle cx="362.6" cy="740.9" r="1.8"/><circle cx="364.8" cy="742.0" r="1.4"/><circle cx="373.4" cy="739.5" r="1.6"/><circle cx="399.7" cy="740.4" r="1.0"/><circle cx="205.8" cy="745.1" r="1.0"/><circle cx="206.4" cy="745.0" r="1.7"/><circle cx="213.5" cy="747.6" r="1.1"/><circle cx="221.0" cy="744.3" r="1.0"/><circle cx="230.7" cy="746.0" r="1.7"/><circle cx="234.9" cy="744.8" r="1.1"/><circle cx="242.3" cy="745.2" r="2.0"/><circle cx="246.2" cy="743.1" r="1.9"/><circle cx="251.0" cy="745.7" r="1.0"/><circle cx="261.5" cy="747.2" r="1.3"/><circle cx="266.7" cy="747.2" r="1.3"/><circle cx="279.2" cy="746.6" r="1.1"/><circle cx="282.6" cy="747.3" r="1.3"/><circle cx="289.4" cy="745.8" r="1.9"/><circle cx="298.9" cy="747.1" r="1.6"/><circle cx="309.7" cy="745.6" r="1.8"/><circle cx="325.0" cy="744.3" r="1.8"/><circle cx="337.2" cy="745.0" r="1.8"/><circle cx="337.6" cy="747.4" r="1.5"/><circle cx="353.9" cy="742.9" r="1.5"/><circle cx="360.2" cy="743.8" r="1.2"/><circle cx="366.7" cy="744.1" r="1.4"/><circle cx="369.0" cy="744.9" r="1.2"/><circle cx="197.7" cy="749.3" r="1.9"/><circle cx="211.7" cy="749.4" r="1.9"/><circle cx="217.5" cy="751.6" r="1.6"/><circle cx="227.1" cy="750.4" r="1.7"/><circle cx="230.8" cy="749.0" r="1.9"/><circle cx="239.7" cy="749.5" r="1.4"/><circle cx="246.5" cy="748.4" r="1.1"/><circle cx="253.2" cy="752.7" r="1.1"/><circle cx="262.2" cy="750.3" r="1.2"/><circle cx="267.3" cy="747.7" r="1.3"/><circle cx="271.3" cy="748.4" r="1.2"/><circle cx="275.0" cy="752.2" r="1.7"/><circle cx="281.4" cy="749.7" r="1.0"/><circle cx="285.3" cy="749.2" r="1.3"/><circle cx="295.6" cy="751.2" r="1.3"/><circle cx="303.8" cy="748.9" r="1.0"/><circle cx="309.2" cy="750.1" r="1.7"/><circle cx="315.2" cy="748.1" r="1.6"/><circle cx="318.7" cy="751.2" r="1.6"/><circle cx="324.8" cy="750.2" r="1.5"/><circle cx="327.7" cy="748.8" r="1.1"/><circle cx="337.7" cy="751.7" r="2.0"/><circle cx="343.4" cy="751.3" r="1.2"/><circle cx="352.4" cy="747.8" r="1.4"/><circle cx="353.1" cy="752.6" r="1.0"/><circle cx="359.5" cy="752.6" r="1.7"/><circle cx="364.6" cy="749.2" r="1.3"/><circle cx="384.3" cy="752.3" r="1.2"/><circle cx="384.7" cy="752.6" r="1.8"/><circle cx="392.3" cy="749.8" r="1.6"/><circle cx="200.4" cy="753.6" r="1.8"/><circle cx="202.2" cy="753.8" r="1.7"/><circle cx="206.7" cy="753.0" r="2.0"/><circle cx="225.7" cy="753.5" r="1.7"/><circle cx="237.0" cy="754.1" r="1.2"/><circle cx="241.7" cy="757.4" r="1.7"/><circle cx="248.3" cy="755.8" r="1.6"/><circle cx="253.6" cy="756.4" r="2.0"/><circle cx="259.1" cy="757.8" r="1.6"/><circle cx="266.0" cy="753.1" r="2.0"/><circle cx="271.5" cy="754.5" r="1.4"/><circle cx="278.9" cy="753.0" r="1.9"/><circle cx="284.6" cy="754.0" r="1.7"/><circle cx="285.5" cy="755.0" r="1.6"/><circle cx="292.9" cy="756.7" r="1.7"/><circle cx="295.5" cy="755.1" r="1.6"/><circle cx="313.9" cy="754.3" r="1.3"/><circle cx="316.8" cy="753.1" r="1.7"/><circle cx="337.7" cy="757.5" r="1.3"/><circle cx="349.6" cy="754.4" r="1.2"/><circle cx="357.3" cy="758.0" r="1.4"/><circle cx="358.8" cy="754.6" r="1.7"/><circle cx="363.7" cy="756.7" r="1.2"/><circle cx="369.1" cy="756.5" r="1.4"/><circle cx="377.8" cy="756.5" r="1.4"/><circle cx="384.0" cy="753.7" r="1.1"/><circle cx="384.8" cy="754.7" r="1.9"/><circle cx="392.3" cy="757.4" r="1.5"/><circle cx="395.4" cy="757.8" r="1.4"/><circle cx="199.1" cy="759.9" r="1.7"/><circle cx="203.8" cy="762.9" r="1.1"/><circle cx="207.6" cy="762.5" r="1.8"/><circle cx="212.2" cy="763.0" r="1.4"/><circle cx="221.9" cy="761.1" r="1.4"/><circle cx="224.3" cy="761.4" r="1.6"/><circle cx="228.1" cy="762.9" r="1.7"/><circle cx="236.5" cy="760.3" r="1.9"/><circle cx="239.1" cy="760.1" r="1.9"/><circle cx="245.3" cy="762.6" r="1.5"/><circle cx="250.4" cy="762.0" r="1.5"/><circle cx="255.6" cy="763.3" r="1.5"/><circle cx="263.5" cy="760.5" r="1.4"/><circle cx="266.3" cy="760.7" r="1.8"/><circle cx="270.9" cy="761.2" r="1.1"/><circle cx="278.4" cy="762.8" r="1.8"/><circle cx="281.9" cy="759.5" r="1.2"/><circle cx="296.4" cy="758.6" r="1.9"/><circle cx="303.3" cy="762.2" r="1.5"/><circle cx="306.0" cy="759.1" r="1.4"/><circle cx="316.0" cy="758.3" r="1.2"/><circle cx="316.4" cy="760.6" r="1.4"/><circle cx="321.8" cy="759.4" r="1.1"/><circle cx="330.5" cy="761.8" r="1.8"/><circle cx="334.4" cy="758.3" r="1.3"/><circle cx="341.0" cy="763.1" r="1.9"/><circle cx="342.8" cy="762.1" r="1.1"/><circle cx="351.8" cy="758.8" r="1.8"/><circle cx="356.5" cy="759.7" r="1.6"/><circle cx="362.6" cy="761.4" r="2.0"/><circle cx="367.3" cy="762.3" r="1.1"/><circle cx="373.1" cy="758.1" r="1.2"/><circle cx="375.4" cy="760.1" r="2.0"/><circle cx="391.9" cy="758.4" r="1.5"/><circle cx="397.8" cy="762.4" r="1.4"/><circle cx="198.6" cy="765.5" r="1.2"/><circle cx="202.4" cy="767.5" r="1.1"/><circle cx="207.0" cy="763.8" r="1.7"/><circle cx="216.1" cy="767.6" r="1.8"/><circle cx="220.7" cy="766.4" r="1.3"/><circle cx="241.3" cy="764.8" r="1.6"/><circle cx="246.0" cy="766.3" r="1.6"/><circle cx="253.6" cy="765.5" r="1.2"/><circle cx="268.4" cy="767.0" r="1.4"/><circle cx="269.2" cy="763.3" r="1.7"/><circle cx="277.2" cy="767.0" r="1.6"/><circle cx="283.2" cy="763.9" r="1.1"/><circle cx="286.7" cy="766.2" r="1.2"/><circle cx="294.6" cy="766.0" r="1.2"/><circle cx="304.1" cy="764.1" r="2.0"/><circle cx="308.1" cy="767.3" r="1.0"/><circle cx="312.2" cy="767.1" r="1.8"/><circle cx="317.8" cy="766.1" r="1.4"/><circle cx="329.3" cy="766.0" r="1.6"/><circle cx="333.3" cy="764.7" r="1.6"/><circle cx="341.1" cy="768.3" r="1.6"/><circle cx="342.8" cy="767.2" r="1.1"/><circle cx="349.2" cy="766.7" r="1.1"/><circle cx="364.3" cy="766.1" r="1.4"/><circle cx="373.6" cy="767.4" r="1.0"/><circle cx="375.5" cy="763.9" r="1.7"/><circle cx="379.4" cy="767.5" r="1.3"/><circle cx="386.0" cy="767.5" r="1.3"/><circle cx="399.4" cy="764.2" r="1.4"/><circle cx="200.6" cy="768.7" r="1.7"/><circle cx="205.8" cy="771.8" r="1.3"/><circle cx="207.2" cy="773.2" r="1.8"/><circle cx="215.0" cy="773.1" r="1.8"/><circle cx="225.5" cy="772.0" r="1.8"/><circle cx="230.6" cy="769.4" r="1.1"/><circle cx="233.0" cy="771.5" r="1.9"/><circle cx="239.9" cy="772.7" r="2.0"/><circle cx="249.7" cy="771.7" r="1.9"/><circle cx="256.0" cy="773.3" r="1.9"/><circle cx="261.3" cy="769.3" r="1.3"/><circle cx="274.7" cy="769.0" r="1.8"/><circle cx="282.9" cy="770.1" r="1.1"/><circle cx="286.2" cy="769.5" r="1.1"/><circle cx="294.8" cy="772.1" r="1.8"/><circle cx="296.1" cy="771.3" r="1.6"/><circle cx="302.0" cy="772.1" r="1.3"/><circle cx="307.4" cy="772.0" r="2.0"/><circle cx="315.3" cy="771.4" r="1.5"/><circle cx="318.5" cy="769.8" r="1.4"/><circle cx="326.4" cy="770.2" r="1.5"/><circle cx="330.9" cy="771.1" r="1.4"/><circle cx="332.7" cy="773.3" r="1.4"/><circle cx="340.7" cy="768.7" r="1.1"/><circle cx="345.6" cy="769.1" r="1.3"/><circle cx="351.5" cy="770.5" r="1.7"/><circle cx="359.3" cy="768.8" r="1.1"/><circle cx="367.5" cy="770.4" r="1.6"/><circle cx="376.1" cy="769.2" r="1.4"/><circle cx="381.7" cy="769.7" r="1.8"/><circle cx="389.5" cy="771.5" r="1.9"/><circle cx="392.0" cy="770.2" r="1.8"/><circle cx="397.8" cy="773.1" r="1.2"/><circle cx="197.4" cy="776.2" r="1.9"/><circle cx="202.5" cy="775.4" r="1.4"/><circle cx="209.3" cy="775.8" r="1.7"/><circle cx="219.4" cy="777.5" r="2.0"/><circle cx="237.7" cy="777.6" r="1.1"/><circle cx="241.9" cy="774.6" r="1.9"/><circle cx="243.4" cy="777.8" r="1.9"/><circle cx="253.0" cy="774.6" r="1.5"/><circle cx="255.7" cy="775.2" r="1.5"/><circle cx="269.1" cy="777.3" r="1.5"/><circle cx="281.2" cy="775.1" r="1.4"/><circle cx="284.9" cy="775.6" r="1.3"/><circle cx="294.6" cy="777.1" r="1.8"/><circle cx="300.3" cy="775.1" r="1.6"/><circle cx="304.3" cy="778.1" r="1.6"/><circle cx="310.7" cy="776.5" r="1.8"/><circle cx="314.9" cy="774.3" r="1.4"/><circle cx="317.2" cy="773.8" r="1.8"/><circle cx="364.6" cy="774.4" r="1.1"/><circle cx="373.5" cy="774.4" r="1.7"/><circle cx="387.9" cy="774.8" r="1.3"/><circle cx="392.0" cy="775.3" r="1.8"/><circle cx="395.4" cy="774.5" r="1.5"/><circle cx="198.9" cy="779.7" r="1.1"/><circle cx="201.3" cy="780.0" r="1.5"/><circle cx="208.5" cy="781.2" r="1.3"/><circle cx="215.0" cy="781.4" r="1.4"/><circle cx="217.9" cy="781.3" r="1.5"/><circle cx="228.6" cy="781.4" r="1.9"/><circle cx="236.6" cy="783.0" r="1.6"/><circle cx="242.0" cy="779.3" r="1.3"/><circle cx="251.4" cy="783.3" r="1.0"/><circle cx="253.6" cy="779.5" r="1.1"/><circle cx="258.7" cy="781.4" r="1.7"/><circle cx="267.5" cy="782.1" r="1.8"/><circle cx="271.9" cy="783.9" r="1.6"/><circle cx="363.4" cy="784.2" r="1.5"/><circle cx="364.0" cy="781.1" r="1.2"/><circle cx="371.3" cy="782.1" r="1.2"/><circle cx="378.2" cy="781.9" r="1.2"/><circle cx="383.5" cy="783.2" r="1.6"/><circle cx="387.3" cy="779.6" r="1.2"/><circle cx="399.8" cy="781.4" r="1.4"/><circle cx="196.3" cy="786.9" r="1.2"/><circle cx="204.2" cy="785.7" r="1.4"/><circle cx="207.6" cy="786.5" r="1.4"/><circle cx="212.0" cy="789.1" r="1.6"/><circle cx="219.0" cy="784.7" r="1.0"/><circle cx="238.1" cy="788.7" r="1.3"/><circle cx="243.1" cy="788.8" r="1.3"/><circle cx="248.2" cy="789.3" r="1.0"/><circle cx="281.4" cy="785.2" r="1.6"/><circle cx="311.2" cy="784.3" r="1.2"/><circle cx="323.5" cy="787.1" r="1.0"/><circle cx="338.7" cy="786.1" r="1.4"/><circle cx="361.2" cy="787.1" r="1.5"/><circle cx="368.4" cy="784.6" r="1.6"/><circle cx="371.7" cy="787.5" r="1.8"/><circle cx="378.0" cy="789.5" r="1.1"/><circle cx="390.3" cy="787.6" r="1.4"/><circle cx="398.8" cy="787.7" r="1.7"/><circle cx="211.1" cy="791.1" r="2.0"/><circle cx="213.3" cy="793.8" r="1.1"/><circle cx="216.9" cy="789.9" r="1.1"/><circle cx="229.0" cy="789.7" r="1.2"/><circle cx="232.5" cy="792.9" r="1.8"/><circle cx="239.5" cy="793.4" r="1.1"/><circle cx="244.0" cy="793.4" r="1.6"/><circle cx="249.6" cy="794.3" r="1.7"/><circle cx="282.3" cy="791.2" r="1.3"/><circle cx="288.4" cy="790.9" r="1.9"/><circle cx="296.6" cy="792.9" r="1.4"/><circle cx="339.8" cy="791.8" r="1.5"/><circle cx="344.8" cy="791.0" r="1.5"/><circle cx="358.2" cy="792.7" r="1.6"/><circle cx="367.6" cy="794.1" r="1.7"/><circle cx="371.0" cy="791.0" r="1.6"/><circle cx="377.7" cy="791.9" r="1.5"/><circle cx="384.0" cy="792.2" r="1.2"/><circle cx="388.0" cy="790.7" r="1.2"/><circle cx="391.7" cy="791.6" r="1.8"/><circle cx="395.7" cy="791.5" r="1.0"/><circle cx="213.0" cy="797.7" r="1.5"/><circle cx="220.1" cy="797.6" r="1.5"/><circle cx="224.2" cy="797.2" r="1.0"/><circle cx="231.0" cy="796.3" r="1.2"/><circle cx="236.0" cy="794.9" r="1.2"/><circle cx="239.8" cy="799.7" r="1.8"/><circle cx="243.6" cy="796.7" r="1.1"/><circle cx="249.5" cy="795.9" r="1.5"/><circle cx="262.1" cy="795.1" r="2.0"/><circle cx="274.3" cy="796.6" r="1.4"/><circle cx="278.2" cy="795.9" r="1.8"/><circle cx="295.3" cy="795.8" r="1.4"/><circle cx="310.6" cy="799.3" r="1.5"/><circle cx="324.1" cy="796.6" r="1.7"/><circle cx="332.8" cy="798.2" r="1.4"/><circle cx="342.2" cy="798.7" r="1.8"/><circle cx="353.7" cy="797.2" r="1.7"/><circle cx="362.0" cy="796.0" r="1.3"/><circle cx="366.0" cy="799.7" r="1.3"/><circle cx="379.2" cy="795.7" r="1.7"/><circle cx="383.4" cy="799.8" r="1.1"/><circle cx="385.5" cy="796.4" r="2.0"/><circle cx="393.8" cy="796.8" r="1.2"/></g>
<polygon points="332.2,718.0 333.4,721.7 330.1,724.8 330.6,729.5 325.9,732.1 318.7,731.4 314.5,734.2 309.0,732.2 304.5,731.1 298.8,732.1 293.8,730.7 289.6,728.3 287.3,725.0 290.7,720.8 290.9,718.0 286.8,714.6 290.0,711.9 285.6,705.6 293.0,704.6 296.6,700.8 302.8,699.9 309.0,700.5 313.9,703.8 317.8,705.8 322.7,706.6 325.8,709.1 327.0,712.2 329.0,715.0" fill="#fdfafc" filter="url(#b2)"/>
<polygon points="303.4,722.0 303.4,723.2 302.1,724.1 300.4,724.7 298.7,724.9 298.2,726.2 296.7,726.7 295.0,728.8 292.5,728.7 290.7,727.6 290.8,725.3 290.5,724.2 289.7,723.6 287.7,723.0 287.2,722.0 287.9,721.0 288.5,720.0 288.7,718.9 289.3,717.6 291.6,717.6 293.2,717.2 295.0,716.7 296.7,717.4 298.2,717.9 300.0,718.1 301.7,718.7 303.2,719.5 302.4,720.9" fill="#fbf5fa" opacity="0.9" filter="url(#b1)"/>
<polygon points="387.5,655.0 388.8,656.7 388.4,658.5 386.7,659.8 384.9,661.0 383.1,662.5 379.9,660.9 378.0,660.8 376.0,661.1 373.7,661.3 371.6,660.6 370.5,659.2 368.7,658.1 369.4,656.4 368.0,655.0 368.1,653.4 369.6,652.2 369.3,650.1 371.1,649.0 372.9,647.5 375.9,648.4 378.0,648.4 379.9,649.1 380.9,650.7 384.3,649.4 386.3,650.4 388.4,651.5 387.9,653.4" fill="#f6eaf4" opacity="0.85" filter="url(#b2)"/>
</g>
<g clip-path="url(#cp6)">
<rect x="402" y="648" width="195" height="146" fill="#e4a8dd"/>
<ellipse cx="488" cy="697" rx="46" ry="38" fill="#f2d6ee" opacity="0.8" filter="url(#b3)"/>
<ellipse cx="408" cy="682" rx="8" ry="18" fill="#b878b8" opacity="0.6" filter="url(#b2)"/>
<ellipse cx="490" cy="698" rx="55" ry="45" fill="none" stroke="#d58ccd" stroke-width="2.0"/>
<ellipse cx="418" cy="760" rx="22" ry="50" fill="none" stroke="#d58ccd" stroke-width="2.0"/>
<ellipse cx="480" cy="775" rx="45" ry="30" fill="none" stroke="#d58ccd" stroke-width="2.0"/>
<ellipse cx="568" cy="765" rx="40" ry="35" fill="none" stroke="#d58ccd" stroke-width="2.0"/>
<ellipse cx="570" cy="680" rx="30" ry="40" fill="none" stroke="#d58ccd" stroke-width="2.0"/>
<g fill="#6a2d86" opacity="0.75"><circle cx="422.3" cy="645.7" r="1.3"/><circle cx="441.0" cy="642.4" r="1.4"/><circle cx="488.3" cy="645.9" r="1.3"/><circle cx="542.3" cy="643.8" r="1.0"/><circle cx="561.4" cy="644.5" r="1.1"/><circle cx="563.1" cy="645.8" r="1.8"/><circle cx="570.5" cy="646.9" r="1.5"/><circle cx="577.8" cy="646.7" r="1.1"/><circle cx="584.4" cy="645.8" r="1.7"/><circle cx="437.2" cy="652.8" r="1.8"/><circle cx="451.0" cy="649.2" r="1.3"/><circle cx="472.7" cy="649.9" r="1.0"/><circle cx="495.3" cy="653.5" r="1.6"/><circle cx="503.3" cy="648.3" r="1.7"/><circle cx="550.6" cy="652.6" r="1.3"/><circle cx="554.1" cy="649.5" r="1.1"/><circle cx="558.1" cy="649.0" r="1.6"/><circle cx="565.0" cy="648.7" r="1.4"/><circle cx="568.8" cy="653.0" r="1.0"/><circle cx="584.4" cy="649.4" r="1.4"/><circle cx="587.6" cy="649.1" r="1.6"/><circle cx="397.7" cy="656.3" r="1.8"/><circle cx="410.0" cy="656.2" r="1.1"/><circle cx="435.2" cy="655.0" r="1.1"/><circle cx="458.7" cy="659.0" r="1.7"/><circle cx="470.3" cy="655.0" r="1.4"/><circle cx="471.7" cy="658.2" r="1.7"/><circle cx="477.3" cy="659.0" r="1.3"/><circle cx="482.2" cy="654.1" r="1.7"/><circle cx="492.0" cy="656.9" r="1.1"/><circle cx="494.7" cy="654.9" r="1.8"/><circle cx="502.9" cy="657.9" r="1.1"/><circle cx="512.1" cy="659.3" r="1.1"/><circle cx="538.7" cy="654.5" r="1.4"/><circle cx="540.0" cy="657.9" r="1.6"/><circle cx="545.6" cy="658.7" r="1.5"/><circle cx="556.2" cy="656.2" r="1.0"/><circle cx="558.4" cy="657.8" r="1.2"/><circle cx="571.2" cy="657.4" r="1.5"/><circle cx="575.2" cy="656.7" r="1.5"/><circle cx="588.4" cy="658.3" r="1.3"/><circle cx="397.9" cy="661.1" r="1.8"/><circle cx="457.0" cy="663.0" r="1.3"/><circle cx="463.7" cy="659.5" r="1.5"/><circle cx="470.8" cy="662.3" r="1.3"/><circle cx="504.9" cy="662.9" r="1.6"/><circle cx="507.4" cy="661.8" r="1.6"/><circle cx="512.3" cy="661.6" r="1.1"/><circle cx="521.0" cy="662.0" r="1.5"/><circle cx="542.9" cy="663.3" r="1.7"/><circle cx="549.6" cy="662.4" r="1.0"/><circle cx="558.1" cy="663.4" r="1.1"/><circle cx="573.2" cy="665.1" r="1.1"/><circle cx="584.2" cy="665.1" r="1.8"/><circle cx="588.8" cy="664.7" r="1.3"/><circle cx="593.9" cy="662.2" r="1.1"/><circle cx="399.6" cy="670.5" r="1.2"/><circle cx="450.1" cy="670.5" r="1.7"/><circle cx="514.3" cy="669.9" r="1.3"/><circle cx="517.8" cy="669.3" r="1.4"/><circle cx="527.6" cy="667.4" r="1.4"/><circle cx="531.1" cy="668.4" r="1.2"/><circle cx="536.6" cy="668.0" r="1.1"/><circle cx="543.0" cy="670.1" r="1.3"/><circle cx="546.4" cy="666.1" r="1.4"/><circle cx="568.7" cy="668.4" r="1.7"/><circle cx="594.9" cy="665.6" r="1.5"/><circle cx="396.7" cy="673.2" r="1.7"/><circle cx="414.7" cy="676.3" r="1.5"/><circle cx="436.3" cy="675.1" r="1.2"/><circle cx="438.1" cy="672.0" r="1.2"/><circle cx="510.4" cy="672.6" r="1.2"/><circle cx="514.0" cy="672.2" r="1.5"/><circle cx="517.4" cy="673.0" r="1.3"/><circle cx="525.7" cy="674.3" r="1.3"/><circle cx="531.0" cy="672.1" r="1.6"/><circle cx="542.1" cy="674.9" r="1.1"/><circle cx="549.4" cy="673.6" r="1.7"/><circle cx="555.8" cy="672.1" r="1.7"/><circle cx="565.5" cy="674.6" r="1.3"/><circle cx="568.0" cy="675.3" r="1.3"/><circle cx="576.6" cy="671.6" r="1.6"/><circle cx="580.3" cy="673.2" r="1.7"/><circle cx="595.1" cy="675.5" r="1.6"/><circle cx="598.4" cy="673.8" r="1.1"/><circle cx="398.7" cy="677.9" r="1.6"/><circle cx="410.4" cy="679.8" r="1.5"/><circle cx="427.6" cy="681.1" r="1.6"/><circle cx="434.3" cy="680.6" r="1.3"/><circle cx="441.0" cy="679.2" r="1.5"/><circle cx="442.4" cy="677.7" r="1.3"/><circle cx="513.7" cy="677.1" r="1.2"/><circle cx="518.5" cy="680.1" r="1.8"/><circle cx="522.8" cy="681.9" r="1.5"/><circle cx="532.1" cy="681.6" r="1.5"/><circle cx="537.3" cy="681.3" r="1.8"/><circle cx="544.5" cy="678.9" r="1.3"/><circle cx="559.1" cy="678.8" r="1.7"/><circle cx="580.3" cy="680.0" r="1.4"/><circle cx="587.5" cy="676.9" r="1.1"/><circle cx="592.9" cy="676.7" r="1.7"/><circle cx="599.1" cy="677.7" r="1.1"/><circle cx="403.7" cy="684.7" r="1.2"/><circle cx="431.5" cy="685.9" r="1.5"/><circle cx="441.9" cy="682.5" r="1.1"/><circle cx="443.3" cy="685.8" r="1.6"/><circle cx="533.3" cy="687.9" r="1.6"/><circle cx="534.4" cy="687.6" r="1.5"/><circle cx="543.8" cy="684.4" r="1.3"/><circle cx="547.7" cy="686.4" r="1.1"/><circle cx="562.7" cy="683.4" r="1.6"/><circle cx="579.0" cy="687.8" r="1.1"/><circle cx="579.9" cy="687.6" r="1.1"/><circle cx="588.2" cy="684.9" r="1.4"/><circle cx="595.0" cy="683.6" r="1.4"/><circle cx="596.7" cy="683.5" r="1.8"/><circle cx="437.7" cy="690.5" r="1.4"/><circle cx="541.7" cy="692.7" r="1.5"/><circle cx="546.8" cy="689.7" r="1.0"/><circle cx="555.2" cy="689.0" r="1.1"/><circle cx="571.4" cy="692.4" r="1.2"/><circle cx="591.8" cy="689.3" r="1.8"/><circle cx="598.6" cy="691.0" r="1.5"/><circle cx="408.8" cy="699.1" r="1.3"/><circle cx="414.3" cy="696.2" r="1.2"/><circle cx="441.8" cy="694.4" r="1.7"/><circle cx="444.7" cy="696.6" r="1.1"/><circle cx="527.0" cy="694.2" r="1.5"/><circle cx="529.3" cy="698.2" r="1.4"/><circle cx="535.7" cy="698.7" r="1.2"/><circle cx="539.8" cy="698.2" r="1.0"/><circle cx="549.8" cy="695.0" r="1.6"/><circle cx="562.0" cy="694.0" r="1.6"/><circle cx="562.6" cy="696.4" r="1.6"/><circle cx="580.1" cy="698.9" r="1.5"/><circle cx="589.4" cy="696.9" r="1.5"/><circle cx="596.1" cy="698.9" r="1.7"/><circle cx="409.2" cy="703.6" r="1.1"/><circle cx="438.5" cy="701.0" r="1.5"/><circle cx="446.4" cy="704.0" r="1.8"/><circle cx="540.4" cy="702.6" r="1.0"/><circle cx="550.4" cy="704.8" r="1.3"/><circle cx="555.0" cy="704.2" r="1.4"/><circle cx="575.7" cy="701.2" r="1.1"/><circle cx="583.8" cy="702.8" r="1.1"/><circle cx="585.2" cy="702.6" r="1.2"/><circle cx="595.3" cy="701.5" r="1.5"/><circle cx="438.9" cy="705.6" r="1.2"/><circle cx="442.8" cy="707.0" r="1.6"/><circle cx="448.4" cy="708.4" r="1.5"/><circle cx="536.1" cy="710.8" r="1.6"/><circle cx="542.9" cy="705.9" r="1.0"/><circle cx="556.3" cy="709.3" r="1.1"/><circle cx="557.6" cy="706.8" r="1.7"/><circle cx="568.7" cy="706.2" r="1.7"/><circle cx="575.5" cy="709.0" r="1.2"/><circle cx="583.5" cy="705.6" r="1.3"/><circle cx="585.1" cy="706.4" r="1.7"/><circle cx="599.4" cy="710.3" r="1.2"/><circle cx="411.4" cy="712.7" r="1.0"/><circle cx="418.7" cy="712.6" r="1.1"/><circle cx="424.2" cy="712.9" r="1.3"/><circle cx="440.8" cy="711.8" r="1.7"/><circle cx="444.3" cy="712.7" r="1.7"/><circle cx="531.3" cy="715.2" r="1.8"/><circle cx="538.7" cy="714.5" r="1.8"/><circle cx="559.6" cy="716.5" r="1.8"/><circle cx="567.5" cy="715.2" r="1.4"/><circle cx="571.2" cy="711.3" r="1.0"/><circle cx="578.8" cy="713.5" r="1.7"/><circle cx="581.4" cy="715.2" r="1.7"/><circle cx="406.2" cy="720.0" r="1.4"/><circle cx="409.6" cy="718.4" r="1.5"/><circle cx="417.2" cy="721.7" r="1.3"/><circle cx="424.7" cy="716.7" r="1.3"/><circle cx="427.2" cy="718.2" r="1.0"/><circle cx="448.0" cy="719.1" r="1.2"/><circle cx="532.3" cy="716.9" r="1.4"/><circle cx="536.4" cy="717.5" r="1.6"/><circle cx="566.2" cy="721.8" r="1.5"/><circle cx="575.6" cy="718.9" r="1.2"/><circle cx="591.7" cy="721.6" r="1.5"/><circle cx="401.8" cy="725.4" r="1.3"/><circle cx="405.4" cy="724.0" r="1.2"/><circle cx="408.9" cy="723.3" r="1.3"/><circle cx="417.7" cy="723.7" r="1.8"/><circle cx="421.0" cy="722.8" r="1.6"/><circle cx="429.6" cy="724.8" r="1.6"/><circle cx="433.8" cy="726.0" r="1.2"/><circle cx="448.9" cy="726.0" r="1.0"/><circle cx="461.5" cy="723.2" r="1.6"/><circle cx="514.1" cy="727.5" r="1.6"/><circle cx="523.9" cy="723.6" r="1.1"/><circle cx="533.1" cy="725.3" r="1.7"/><circle cx="534.5" cy="724.2" r="1.4"/><circle cx="550.5" cy="727.0" r="1.6"/><circle cx="551.7" cy="724.9" r="1.7"/><circle cx="600.7" cy="723.0" r="1.0"/><circle cx="400.8" cy="729.7" r="1.6"/><circle cx="402.8" cy="730.8" r="1.7"/><circle cx="409.8" cy="732.0" r="1.2"/><circle cx="415.9" cy="728.3" r="1.6"/><circle cx="420.0" cy="729.8" r="1.4"/><circle cx="427.2" cy="733.2" r="1.4"/><circle cx="433.2" cy="733.4" r="1.6"/><circle cx="458.9" cy="731.3" r="1.5"/><circle cx="460.9" cy="729.0" r="1.1"/><circle cx="469.5" cy="729.1" r="1.8"/><circle cx="484.3" cy="733.3" r="1.6"/><circle cx="510.2" cy="733.1" r="1.6"/><circle cx="514.4" cy="731.7" r="1.1"/><circle cx="521.1" cy="730.3" r="1.5"/><circle cx="524.8" cy="730.3" r="1.6"/><circle cx="531.9" cy="729.8" r="1.5"/><circle cx="586.3" cy="732.6" r="1.1"/><circle cx="403.1" cy="735.5" r="1.8"/><circle cx="408.9" cy="737.9" r="1.1"/><circle cx="422.1" cy="734.2" r="1.4"/><circle cx="424.9" cy="738.2" r="1.3"/><circle cx="432.4" cy="736.1" r="1.8"/><circle cx="444.0" cy="734.2" r="1.7"/><circle cx="462.1" cy="735.0" r="1.0"/><circle cx="467.1" cy="734.7" r="1.2"/><circle cx="474.0" cy="737.4" r="1.2"/><circle cx="479.1" cy="736.1" r="1.5"/><circle cx="482.6" cy="736.2" r="1.1"/><circle cx="491.7" cy="737.7" r="1.7"/><circle cx="497.7" cy="735.9" r="1.3"/><circle cx="500.1" cy="734.2" r="1.6"/><circle cx="508.8" cy="738.2" r="1.6"/><circle cx="519.6" cy="735.8" r="1.4"/><circle cx="534.4" cy="739.1" r="1.5"/><circle cx="540.2" cy="736.5" r="1.5"/><circle cx="549.3" cy="735.2" r="1.3"/><circle cx="553.5" cy="738.1" r="1.7"/><circle cx="561.4" cy="736.6" r="1.6"/><circle cx="569.2" cy="735.6" r="1.5"/><circle cx="577.1" cy="736.6" r="1.5"/><circle cx="582.3" cy="738.2" r="1.1"/><circle cx="397.6" cy="744.0" r="1.7"/><circle cx="404.8" cy="742.7" r="1.2"/><circle cx="411.9" cy="740.3" r="1.6"/><circle cx="414.6" cy="739.7" r="1.4"/><circle cx="429.8" cy="743.3" r="1.7"/><circle cx="434.3" cy="740.2" r="1.3"/><circle cx="436.9" cy="741.9" r="1.2"/><circle cx="442.2" cy="742.1" r="1.7"/><circle cx="449.1" cy="741.9" r="1.5"/><circle cx="486.4" cy="743.7" r="1.5"/><circle cx="496.0" cy="740.5" r="1.7"/><circle cx="523.4" cy="741.3" r="1.3"/><circle cx="542.2" cy="744.8" r="1.7"/><circle cx="547.8" cy="741.9" r="1.8"/><circle cx="553.9" cy="740.1" r="1.6"/><circle cx="401.6" cy="747.4" r="1.3"/><circle cx="410.2" cy="745.4" r="1.4"/><circle cx="416.9" cy="750.5" r="1.1"/><circle cx="432.9" cy="750.8" r="1.1"/><circle cx="437.3" cy="747.2" r="1.0"/><circle cx="455.3" cy="750.1" r="1.1"/><circle cx="464.0" cy="747.1" r="1.2"/><circle cx="471.1" cy="750.4" r="1.7"/><circle cx="478.9" cy="746.8" r="1.2"/><circle cx="487.0" cy="748.1" r="1.0"/><circle cx="489.1" cy="749.8" r="1.1"/><circle cx="497.4" cy="745.2" r="1.3"/><circle cx="511.9" cy="747.4" r="1.1"/><circle cx="523.4" cy="749.7" r="1.6"/><circle cx="533.7" cy="749.0" r="1.6"/><circle cx="541.2" cy="749.8" r="1.6"/><circle cx="599.5" cy="746.0" r="1.0"/><circle cx="398.8" cy="755.9" r="1.6"/><circle cx="403.6" cy="756.1" r="1.7"/><circle cx="415.9" cy="756.3" r="1.4"/><circle cx="422.1" cy="753.2" r="1.5"/><circle cx="425.6" cy="751.8" r="1.4"/><circle cx="436.2" cy="754.7" r="1.7"/><circle cx="438.8" cy="753.7" r="1.3"/><circle cx="452.4" cy="756.0" r="1.5"/><circle cx="454.0" cy="751.8" r="1.2"/><circle cx="462.6" cy="754.3" r="1.3"/><circle cx="468.7" cy="753.7" r="1.4"/><circle cx="472.4" cy="755.3" r="1.6"/><circle cx="490.3" cy="751.9" r="1.3"/><circle cx="503.2" cy="752.2" r="1.7"/><circle cx="509.7" cy="754.8" r="1.5"/><circle cx="511.1" cy="751.5" r="1.3"/><circle cx="534.7" cy="752.4" r="1.3"/><circle cx="540.3" cy="751.2" r="1.5"/><circle cx="600.8" cy="752.6" r="1.7"/><circle cx="398.0" cy="757.6" r="1.5"/><circle cx="403.8" cy="756.8" r="1.5"/><circle cx="412.7" cy="759.9" r="1.5"/><circle cx="424.3" cy="757.0" r="1.2"/><circle cx="429.8" cy="762.3" r="1.5"/><circle cx="434.7" cy="759.5" r="1.8"/><circle cx="443.2" cy="759.0" r="1.6"/><circle cx="452.3" cy="758.7" r="1.6"/><circle cx="454.2" cy="760.8" r="1.5"/><circle cx="474.8" cy="762.0" r="1.2"/><circle cx="479.0" cy="760.4" r="1.3"/><circle cx="485.3" cy="757.9" r="1.1"/><circle cx="488.6" cy="759.3" r="1.7"/><circle cx="504.4" cy="759.7" r="1.7"/><circle cx="507.7" cy="757.3" r="1.5"/><circle cx="513.8" cy="758.3" r="1.5"/><circle cx="598.9" cy="757.3" r="1.3"/><circle cx="398.9" cy="763.1" r="1.0"/><circle cx="403.2" cy="762.8" r="1.3"/><circle cx="420.8" cy="766.2" r="1.5"/><circle cx="427.1" cy="765.2" r="1.6"/><circle cx="439.3" cy="767.7" r="1.3"/><circle cx="444.9" cy="768.0" r="1.3"/><circle cx="452.4" cy="767.1" r="1.8"/><circle cx="459.2" cy="766.6" r="1.8"/><circle cx="469.1" cy="766.9" r="1.6"/><circle cx="482.7" cy="766.5" r="1.8"/><circle cx="499.0" cy="767.4" r="1.6"/><circle cx="503.8" cy="765.1" r="1.5"/><circle cx="515.7" cy="767.0" r="1.1"/><circle cx="519.4" cy="764.5" r="1.1"/><circle cx="529.3" cy="763.1" r="1.3"/><circle cx="599.5" cy="765.6" r="1.3"/><circle cx="397.9" cy="769.2" r="1.5"/><circle cx="402.4" cy="768.1" r="1.0"/><circle cx="424.8" cy="770.8" r="1.6"/><circle cx="428.6" cy="769.5" r="1.4"/><circle cx="434.0" cy="770.4" r="1.6"/><circle cx="438.4" cy="769.6" r="1.8"/><circle cx="445.6" cy="773.0" r="1.3"/><circle cx="457.1" cy="768.6" r="1.6"/><circle cx="462.8" cy="773.1" r="1.3"/><circle cx="465.0" cy="770.6" r="1.8"/><circle cx="474.8" cy="770.2" r="1.3"/><circle cx="486.0" cy="769.9" r="1.4"/><circle cx="487.8" cy="770.9" r="1.3"/><circle cx="503.2" cy="772.3" r="1.0"/><circle cx="507.3" cy="773.7" r="1.1"/><circle cx="514.8" cy="770.4" r="1.3"/><circle cx="520.9" cy="771.5" r="1.7"/><circle cx="523.1" cy="768.6" r="1.3"/><circle cx="529.3" cy="769.3" r="1.7"/><circle cx="601.5" cy="772.1" r="1.5"/><circle cx="399.6" cy="774.3" r="1.3"/><circle cx="405.4" cy="776.4" r="1.5"/><circle cx="418.9" cy="776.3" r="1.2"/><circle cx="420.3" cy="774.1" r="1.4"/><circle cx="429.8" cy="776.9" r="1.5"/><circle cx="433.9" cy="776.5" r="1.5"/><circle cx="438.6" cy="775.7" r="1.6"/><circle cx="442.9" cy="777.9" r="1.8"/><circle cx="476.6" cy="776.5" r="1.7"/><circle cx="487.4" cy="775.8" r="1.2"/><circle cx="515.6" cy="777.5" r="1.6"/><circle cx="519.3" cy="776.1" r="1.4"/><circle cx="522.7" cy="778.5" r="1.6"/><circle cx="599.4" cy="774.6" r="1.7"/><circle cx="400.7" cy="782.7" r="1.0"/><circle cx="407.1" cy="785.1" r="1.4"/><circle cx="408.7" cy="784.8" r="1.1"/><circle cx="418.4" cy="782.5" r="1.0"/><circle cx="428.1" cy="782.4" r="1.0"/><circle cx="430.7" cy="780.3" r="1.1"/><circle cx="439.0" cy="781.7" r="1.6"/><circle cx="447.6" cy="785.1" r="1.6"/><circle cx="451.9" cy="784.1" r="1.3"/><circle cx="470.0" cy="785.0" r="1.6"/><circle cx="476.1" cy="780.2" r="1.5"/><circle cx="487.9" cy="780.8" r="1.1"/><circle cx="514.4" cy="782.3" r="1.0"/><circle cx="516.4" cy="780.1" r="1.5"/><circle cx="524.6" cy="783.2" r="1.7"/><circle cx="532.3" cy="780.3" r="1.2"/><circle cx="406.4" cy="785.8" r="1.7"/><circle cx="409.4" cy="790.9" r="1.6"/><circle cx="426.7" cy="788.9" r="1.4"/><circle cx="436.2" cy="787.6" r="1.5"/><circle cx="445.9" cy="789.4" r="1.2"/><circle cx="451.3" cy="790.2" r="1.3"/><circle cx="458.5" cy="785.5" r="1.7"/><circle cx="465.4" cy="788.4" r="1.5"/><circle cx="475.1" cy="790.4" r="1.8"/><circle cx="484.8" cy="786.0" r="1.3"/><circle cx="499.8" cy="790.8" r="1.7"/><circle cx="506.0" cy="790.0" r="1.1"/><circle cx="516.2" cy="785.3" r="1.3"/><circle cx="516.8" cy="789.3" r="1.8"/><circle cx="404.5" cy="794.8" r="1.6"/><circle cx="413.2" cy="796.4" r="1.3"/><circle cx="416.6" cy="795.0" r="1.6"/><circle cx="420.2" cy="796.1" r="1.5"/><circle cx="427.4" cy="792.1" r="1.6"/><circle cx="439.3" cy="795.2" r="1.3"/><circle cx="448.3" cy="795.4" r="1.6"/><circle cx="455.3" cy="794.4" r="1.0"/><circle cx="461.8" cy="793.9" r="1.1"/><circle cx="470.6" cy="791.0" r="1.1"/><circle cx="490.1" cy="792.1" r="1.7"/><circle cx="495.9" cy="791.1" r="1.4"/><circle cx="501.8" cy="792.8" r="1.3"/><circle cx="508.9" cy="796.1" r="1.5"/><circle cx="515.3" cy="796.0" r="1.0"/><circle cx="406.3" cy="800.1" r="1.7"/><circle cx="411.6" cy="800.6" r="1.4"/><circle cx="417.3" cy="797.9" r="1.7"/><circle cx="424.7" cy="797.1" r="1.3"/><circle cx="426.3" cy="796.7" r="1.3"/><circle cx="463.5" cy="797.5" r="1.4"/><circle cx="468.8" cy="799.3" r="1.2"/><circle cx="473.3" cy="800.4" r="1.7"/><circle cx="478.3" cy="799.4" r="1.6"/><circle cx="490.0" cy="797.1" r="1.3"/><circle cx="498.1" cy="801.1" r="1.0"/><circle cx="502.5" cy="798.9" r="1.3"/><circle cx="518.9" cy="801.7" r="1.4"/><circle cx="523.3" cy="797.3" r="1.5"/><circle cx="559.2" cy="797.5" r="1.7"/><circle cx="564.0" cy="799.6" r="1.7"/><circle cx="570.5" cy="799.4" r="1.8"/></g>
<polygon points="457.2,662.9 490.2,664.5 506.7,672.8 516.6,686.0 526.5,700.9 529.8,712.4 523.2,722.3 506.7,728.9 490.2,732.2 473.7,728.9 460.5,719.0 448.9,705.8 445.6,689.3 448.9,672.8" fill="#fdfafc" filter="url(#b2)"/>
<polygon points="538.0,753.7 549.0,742.5 560.6,739.0 577.5,738.0 588.7,739.0 595.5,748.0 599.0,760.0 599.0,797.0 538.0,797.0 536.0,787.5 532.5,776.0 530.0,765.0" fill="#fdfafc" filter="url(#b1)"/>
<ellipse cx="577" cy="777" rx="13" ry="11" fill="#ecc4e6" opacity="0.85" filter="url(#b2)"/>
</g>
<g clip-path="url(#cp7)">
<rect x="602" y="648" width="195" height="146" fill="#eab2e2"/>
<ellipse cx="663" cy="692" rx="22" ry="16" fill="#f4d8f0" opacity="0.8" filter="url(#b3)"/>
<ellipse cx="748" cy="672" rx="20" ry="12" fill="#f4d8f0" opacity="0.8" filter="url(#b3)"/>
<ellipse cx="777" cy="745" rx="14" ry="20" fill="#f4d8f0" opacity="0.8" filter="url(#b3)"/>
<ellipse cx="707" cy="786" rx="18" ry="8" fill="#f4d8f0" opacity="0.7" filter="url(#b3)"/>
<ellipse cx="614" cy="721" rx="10" ry="16" fill="#f4d8f0" opacity="0.7" filter="url(#b3)"/>
<g fill="#7a2c90" opacity="0.75"><circle cx="607.6" cy="642.0" r="1.4"/><circle cx="631.7" cy="637.7" r="1.3"/><circle cx="644.4" cy="642.9" r="1.5"/><circle cx="665.7" cy="647.4" r="1.3"/><circle cx="676.6" cy="643.8" r="1.2"/><circle cx="683.8" cy="642.7" r="1.5"/><circle cx="692.8" cy="644.2" r="1.2"/><circle cx="707.6" cy="640.5" r="1.1"/><circle cx="725.4" cy="645.4" r="1.2"/><circle cx="737.1" cy="643.0" r="1.6"/><circle cx="759.3" cy="647.2" r="1.5"/><circle cx="779.7" cy="638.6" r="1.5"/><circle cx="616.1" cy="656.1" r="1.5"/><circle cx="635.6" cy="650.6" r="1.1"/><circle cx="650.1" cy="649.0" r="1.3"/><circle cx="661.3" cy="653.2" r="1.5"/><circle cx="676.0" cy="651.0" r="1.5"/><circle cx="680.9" cy="658.7" r="1.1"/><circle cx="689.5" cy="658.4" r="1.2"/><circle cx="700.2" cy="652.5" r="1.6"/><circle cx="714.5" cy="654.9" r="1.3"/><circle cx="725.4" cy="649.0" r="1.1"/><circle cx="761.2" cy="656.1" r="1.6"/><circle cx="769.6" cy="657.6" r="1.0"/><circle cx="791.4" cy="650.8" r="1.2"/><circle cx="596.1" cy="664.2" r="1.4"/><circle cx="612.7" cy="662.0" r="1.4"/><circle cx="618.9" cy="658.9" r="1.4"/><circle cx="627.9" cy="659.3" r="1.4"/><circle cx="635.0" cy="667.1" r="1.4"/><circle cx="653.0" cy="666.6" r="1.3"/><circle cx="662.3" cy="660.4" r="1.0"/><circle cx="692.9" cy="660.0" r="1.2"/><circle cx="703.6" cy="669.1" r="1.3"/><circle cx="712.1" cy="665.4" r="1.6"/><circle cx="723.5" cy="666.3" r="1.5"/><circle cx="733.6" cy="668.6" r="1.1"/><circle cx="755.5" cy="669.1" r="1.1"/><circle cx="791.7" cy="668.9" r="1.1"/><circle cx="800.9" cy="660.8" r="1.6"/><circle cx="599.5" cy="673.9" r="1.4"/><circle cx="617.1" cy="676.6" r="1.2"/><circle cx="628.1" cy="671.1" r="1.2"/><circle cx="643.4" cy="679.5" r="1.4"/><circle cx="659.1" cy="675.8" r="1.2"/><circle cx="676.4" cy="676.0" r="1.3"/><circle cx="698.2" cy="676.5" r="1.5"/><circle cx="700.2" cy="678.2" r="1.4"/><circle cx="717.0" cy="672.6" r="1.2"/><circle cx="726.1" cy="671.4" r="1.0"/><circle cx="733.8" cy="671.0" r="1.3"/><circle cx="750.0" cy="676.2" r="1.1"/><circle cx="758.7" cy="679.6" r="1.1"/><circle cx="770.8" cy="673.5" r="1.4"/><circle cx="776.6" cy="677.0" r="1.3"/><circle cx="798.1" cy="675.6" r="1.2"/><circle cx="592.9" cy="688.3" r="1.2"/><circle cx="603.8" cy="682.1" r="1.4"/><circle cx="620.9" cy="691.1" r="1.6"/><circle cx="626.6" cy="681.5" r="1.3"/><circle cx="644.7" cy="685.1" r="1.6"/><circle cx="655.6" cy="682.3" r="1.4"/><circle cx="672.7" cy="684.6" r="1.2"/><circle cx="693.7" cy="680.9" r="1.5"/><circle cx="700.4" cy="690.7" r="1.5"/><circle cx="714.5" cy="688.4" r="1.3"/><circle cx="723.8" cy="682.1" r="1.3"/><circle cx="747.1" cy="689.2" r="1.2"/><circle cx="758.4" cy="684.3" r="1.1"/><circle cx="769.4" cy="686.9" r="1.5"/><circle cx="775.8" cy="684.3" r="1.5"/><circle cx="600.7" cy="697.1" r="1.1"/><circle cx="606.5" cy="692.6" r="1.1"/><circle cx="643.1" cy="701.8" r="1.3"/><circle cx="653.1" cy="695.6" r="1.4"/><circle cx="676.8" cy="694.9" r="1.4"/><circle cx="688.4" cy="692.0" r="1.1"/><circle cx="693.3" cy="694.6" r="1.6"/><circle cx="706.9" cy="699.7" r="1.3"/><circle cx="716.7" cy="693.1" r="1.1"/><circle cx="727.0" cy="692.1" r="1.1"/><circle cx="752.3" cy="697.6" r="1.5"/><circle cx="756.2" cy="695.8" r="1.6"/><circle cx="767.4" cy="700.4" r="1.1"/><circle cx="619.3" cy="710.9" r="1.2"/><circle cx="627.3" cy="704.3" r="1.6"/><circle cx="637.4" cy="708.8" r="1.4"/><circle cx="654.5" cy="705.9" r="1.1"/><circle cx="666.8" cy="703.4" r="1.4"/><circle cx="699.2" cy="707.4" r="1.5"/><circle cx="728.0" cy="707.5" r="1.0"/><circle cx="751.4" cy="708.9" r="1.1"/><circle cx="754.6" cy="705.8" r="1.0"/><circle cx="787.0" cy="708.1" r="1.4"/><circle cx="800.3" cy="710.3" r="1.1"/><circle cx="593.5" cy="715.1" r="1.2"/><circle cx="612.5" cy="714.8" r="1.3"/><circle cx="630.1" cy="721.2" r="1.5"/><circle cx="666.3" cy="719.7" r="1.1"/><circle cx="683.2" cy="717.6" r="1.4"/><circle cx="727.3" cy="720.0" r="1.2"/><circle cx="759.1" cy="723.7" r="1.5"/><circle cx="768.8" cy="714.6" r="1.2"/><circle cx="778.2" cy="719.1" r="1.1"/><circle cx="796.3" cy="713.7" r="1.2"/><circle cx="596.7" cy="733.7" r="1.1"/><circle cx="602.0" cy="729.5" r="1.2"/><circle cx="619.2" cy="729.0" r="1.2"/><circle cx="653.3" cy="733.1" r="1.6"/><circle cx="668.0" cy="730.2" r="1.4"/><circle cx="684.5" cy="728.5" r="1.1"/><circle cx="735.5" cy="732.8" r="1.4"/><circle cx="772.4" cy="732.3" r="1.6"/><circle cx="805.5" cy="728.4" r="1.6"/><circle cx="594.7" cy="744.5" r="1.1"/><circle cx="612.4" cy="742.1" r="1.5"/><circle cx="628.9" cy="737.0" r="1.4"/><circle cx="657.2" cy="740.3" r="1.2"/><circle cx="676.2" cy="739.4" r="1.5"/><circle cx="685.6" cy="745.1" r="1.4"/><circle cx="744.5" cy="742.2" r="1.3"/><circle cx="759.8" cy="736.8" r="1.4"/><circle cx="610.2" cy="746.2" r="1.5"/><circle cx="614.0" cy="749.0" r="1.4"/><circle cx="625.0" cy="748.5" r="1.4"/><circle cx="657.8" cy="750.8" r="1.2"/><circle cx="671.7" cy="749.3" r="1.4"/><circle cx="687.5" cy="746.2" r="1.4"/><circle cx="691.3" cy="753.9" r="1.5"/><circle cx="707.7" cy="749.2" r="1.3"/><circle cx="714.7" cy="756.1" r="1.3"/><circle cx="739.1" cy="749.7" r="1.0"/><circle cx="752.4" cy="745.9" r="1.5"/><circle cx="774.5" cy="749.2" r="1.3"/><circle cx="792.2" cy="750.8" r="1.1"/><circle cx="601.0" cy="758.9" r="1.5"/><circle cx="617.2" cy="757.7" r="1.2"/><circle cx="642.7" cy="763.9" r="1.5"/><circle cx="672.7" cy="759.6" r="1.1"/><circle cx="703.9" cy="759.7" r="1.1"/><circle cx="724.4" cy="758.8" r="1.0"/><circle cx="745.7" cy="760.4" r="1.2"/><circle cx="770.4" cy="762.1" r="1.3"/><circle cx="781.9" cy="758.0" r="1.0"/><circle cx="786.6" cy="765.7" r="1.3"/><circle cx="673.5" cy="768.8" r="1.4"/><circle cx="679.3" cy="770.8" r="1.2"/><circle cx="705.3" cy="769.0" r="1.3"/><circle cx="716.9" cy="769.4" r="1.5"/><circle cx="760.3" cy="771.0" r="1.2"/><circle cx="793.6" cy="777.0" r="1.4"/><circle cx="601.4" cy="783.3" r="1.2"/><circle cx="604.0" cy="780.3" r="1.1"/><circle cx="619.1" cy="778.3" r="1.4"/><circle cx="629.6" cy="789.0" r="1.4"/><circle cx="643.4" cy="780.0" r="1.1"/><circle cx="674.7" cy="787.7" r="1.3"/><circle cx="685.9" cy="788.4" r="1.6"/><circle cx="707.1" cy="780.8" r="1.4"/><circle cx="714.3" cy="782.4" r="1.3"/><circle cx="728.1" cy="786.9" r="1.3"/><circle cx="748.2" cy="782.3" r="1.0"/><circle cx="764.9" cy="784.3" r="1.3"/><circle cx="793.3" cy="782.7" r="1.4"/><circle cx="807.1" cy="786.0" r="1.2"/><circle cx="597.9" cy="798.0" r="1.3"/><circle cx="605.2" cy="791.5" r="1.4"/><circle cx="626.0" cy="790.6" r="1.0"/><circle cx="653.8" cy="794.8" r="1.5"/><circle cx="669.6" cy="797.8" r="1.1"/><circle cx="680.6" cy="792.0" r="1.5"/><circle cx="692.7" cy="791.7" r="1.4"/><circle cx="700.7" cy="797.7" r="1.2"/><circle cx="716.8" cy="799.7" r="1.1"/><circle cx="732.1" cy="792.6" r="1.3"/><circle cx="740.8" cy="790.0" r="1.5"/><circle cx="744.7" cy="793.2" r="1.2"/><circle cx="758.6" cy="793.7" r="1.2"/><circle cx="782.5" cy="793.9" r="1.5"/><circle cx="796.1" cy="789.7" r="1.0"/><circle cx="802.5" cy="791.2" r="1.3"/><circle cx="618.9" cy="653.7" r="1.0"/><circle cx="622.9" cy="655.1" r="1.3"/><circle cx="624.9" cy="656.2" r="1.1"/><circle cx="626.6" cy="665.6" r="0.9"/><circle cx="633.8" cy="658.9" r="0.9"/><circle cx="631.8" cy="666.0" r="1.2"/><circle cx="637.7" cy="667.6" r="1.0"/><circle cx="641.0" cy="659.1" r="0.9"/><circle cx="639.4" cy="668.3" r="1.2"/><circle cx="646.1" cy="661.0" r="1.1"/><circle cx="649.1" cy="660.8" r="1.1"/><circle cx="653.8" cy="661.1" r="1.0"/><circle cx="652.5" cy="669.0" r="1.3"/><circle cx="654.8" cy="670.7" r="1.3"/><circle cx="660.2" cy="662.3" r="1.3"/><circle cx="658.9" cy="670.2" r="1.1"/><circle cx="662.7" cy="663.3" r="1.3"/><circle cx="663.0" cy="663.4" r="1.2"/><circle cx="667.6" cy="663.6" r="1.0"/><circle cx="668.3" cy="672.0" r="1.1"/><circle cx="672.0" cy="662.4" r="1.3"/><circle cx="672.7" cy="670.7" r="0.8"/><circle cx="672.2" cy="663.1" r="1.3"/><circle cx="677.8" cy="661.5" r="1.0"/><circle cx="679.4" cy="662.9" r="1.1"/><circle cx="680.0" cy="670.5" r="1.0"/><circle cx="683.0" cy="661.6" r="0.8"/><circle cx="687.8" cy="662.0" r="1.3"/><circle cx="688.4" cy="662.1" r="1.0"/><circle cx="688.9" cy="668.7" r="1.3"/><circle cx="692.7" cy="661.7" r="1.0"/><circle cx="694.0" cy="661.2" r="1.0"/><circle cx="696.5" cy="668.7" r="1.0"/><circle cx="698.2" cy="659.9" r="1.0"/><circle cx="700.4" cy="666.5" r="1.1"/><circle cx="698.0" cy="649.6" r="0.8"/><circle cx="698.9" cy="651.6" r="1.0"/><circle cx="707.1" cy="656.3" r="0.9"/><circle cx="705.8" cy="659.5" r="1.3"/><circle cx="698.8" cy="659.9" r="1.1"/><circle cx="699.2" cy="663.3" r="1.2"/><circle cx="707.6" cy="663.0" r="1.0"/><circle cx="697.8" cy="663.5" r="0.9"/><circle cx="707.3" cy="667.5" r="1.0"/><circle cx="707.1" cy="671.4" r="1.0"/><circle cx="699.2" cy="671.8" r="0.9"/><circle cx="707.3" cy="672.8" r="1.1"/><circle cx="707.5" cy="675.8" r="1.0"/><circle cx="698.9" cy="676.4" r="1.0"/><circle cx="707.3" cy="684.2" r="1.1"/><circle cx="699.4" cy="684.7" r="1.1"/><circle cx="699.2" cy="686.9" r="1.2"/><circle cx="708.7" cy="689.8" r="1.0"/><circle cx="704.4" cy="695.2" r="1.1"/><circle cx="710.9" cy="689.0" r="1.2"/><circle cx="709.0" cy="696.4" r="0.9"/><circle cx="711.9" cy="688.6" r="1.0"/><circle cx="714.9" cy="689.1" r="1.2"/><circle cx="719.5" cy="690.9" r="1.3"/><circle cx="722.0" cy="691.5" r="1.1"/><circle cx="720.3" cy="698.5" r="0.9"/><circle cx="726.2" cy="692.0" r="0.8"/><circle cx="724.2" cy="700.0" r="1.1"/><circle cx="725.8" cy="700.3" r="1.0"/><circle cx="729.3" cy="692.7" r="1.0"/><circle cx="728.2" cy="701.1" r="0.9"/><circle cx="734.9" cy="693.8" r="1.1"/><circle cx="736.1" cy="694.1" r="1.0"/><circle cx="741.6" cy="695.2" r="1.0"/><circle cx="740.6" cy="702.6" r="1.2"/><circle cx="745.5" cy="694.1" r="0.8"/><circle cx="747.5" cy="695.3" r="0.9"/><circle cx="746.5" cy="703.2" r="0.9"/><circle cx="750.8" cy="694.5" r="1.2"/><circle cx="753.1" cy="703.2" r="1.0"/><circle cx="754.6" cy="704.2" r="0.9"/><circle cx="762.6" cy="699.1" r="0.8"/><circle cx="758.7" cy="705.8" r="1.2"/><circle cx="765.8" cy="699.8" r="0.9"/><circle cx="761.9" cy="706.6" r="1.0"/><circle cx="766.8" cy="701.9" r="1.2"/><circle cx="763.7" cy="707.2" r="0.9"/><circle cx="770.6" cy="703.7" r="1.0"/><circle cx="766.7" cy="710.4" r="1.2"/><circle cx="773.8" cy="705.0" r="1.2"/><circle cx="770.0" cy="711.6" r="1.3"/><circle cx="775.2" cy="704.8" r="1.1"/><circle cx="780.0" cy="711.7" r="1.1"/><circle cx="780.4" cy="704.3" r="1.3"/><circle cx="782.6" cy="702.8" r="1.3"/><circle cx="783.8" cy="711.5" r="0.9"/><circle cx="788.3" cy="702.6" r="1.0"/><circle cx="789.5" cy="711.1" r="1.2"/><circle cx="792.4" cy="710.6" r="0.8"/><circle cx="795.3" cy="701.0" r="1.2"/><circle cx="706.4" cy="693.8" r="1.3"/><circle cx="702.1" cy="688.5" r="1.2"/><circle cx="704.2" cy="695.8" r="1.0"/><circle cx="699.2" cy="689.7" r="1.1"/><circle cx="700.6" cy="697.8" r="1.1"/><circle cx="696.4" cy="692.7" r="1.3"/><circle cx="697.9" cy="700.7" r="1.2"/><circle cx="693.2" cy="695.0" r="0.8"/><circle cx="695.4" cy="702.5" r="1.0"/><circle cx="693.5" cy="705.3" r="1.1"/><circle cx="688.7" cy="699.5" r="1.1"/><circle cx="691.9" cy="706.1" r="1.2"/><circle cx="687.4" cy="700.7" r="0.9"/><circle cx="689.7" cy="709.1" r="1.1"/><circle cx="684.4" cy="702.8" r="0.9"/><circle cx="680.9" cy="705.0" r="1.0"/><circle cx="682.7" cy="712.7" r="0.9"/><circle cx="678.1" cy="707.5" r="1.1"/><circle cx="680.8" cy="715.8" r="0.8"/><circle cx="675.2" cy="709.4" r="1.0"/><circle cx="678.3" cy="718.6" r="1.2"/><circle cx="675.9" cy="720.7" r="1.2"/><circle cx="670.1" cy="723.7" r="1.3"/><circle cx="666.2" cy="719.1" r="0.9"/><circle cx="665.4" cy="719.3" r="0.8"/><circle cx="666.5" cy="728.5" r="1.0"/><circle cx="660.5" cy="721.6" r="1.2"/><circle cx="663.2" cy="730.5" r="1.2"/><circle cx="657.3" cy="724.6" r="1.1"/><circle cx="662.5" cy="732.4" r="1.1"/><circle cx="656.4" cy="726.4" r="1.3"/><circle cx="658.2" cy="735.8" r="1.3"/><circle cx="652.9" cy="730.6" r="1.1"/><circle cx="657.4" cy="735.7" r="1.3"/><circle cx="648.9" cy="735.5" r="0.8"/><circle cx="623.8" cy="675.3" r="1.1"/><circle cx="615.5" cy="678.8" r="1.0"/><circle cx="617.3" cy="680.0" r="0.9"/><circle cx="625.7" cy="679.3" r="0.9"/><circle cx="618.3" cy="685.5" r="1.0"/><circle cx="629.2" cy="686.9" r="1.1"/><circle cx="621.3" cy="690.2" r="0.9"/><circle cx="630.6" cy="690.4" r="1.0"/><circle cx="623.3" cy="693.4" r="0.8"/><circle cx="629.5" cy="692.0" r="1.0"/><circle cx="624.9" cy="697.2" r="1.0"/><circle cx="632.8" cy="697.6" r="1.2"/><circle cx="627.6" cy="704.1" r="1.2"/><circle cx="636.7" cy="705.7" r="1.1"/><circle cx="630.7" cy="709.4" r="1.1"/><circle cx="638.1" cy="707.4" r="0.9"/><circle cx="632.9" cy="715.6" r="1.1"/><circle cx="635.6" cy="718.9" r="1.2"/><circle cx="644.3" cy="717.6" r="1.1"/><circle cx="645.3" cy="719.8" r="0.9"/><circle cx="639.3" cy="723.5" r="1.2"/><circle cx="646.9" cy="723.4" r="0.9"/><circle cx="648.6" cy="724.8" r="1.2"/><circle cx="640.8" cy="729.5" r="0.9"/><circle cx="650.7" cy="728.9" r="1.1"/><circle cx="642.9" cy="732.8" r="1.2"/><circle cx="652.2" cy="730.1" r="1.1"/><circle cx="643.7" cy="734.4" r="1.1"/><circle cx="653.0" cy="734.9" r="1.0"/><circle cx="647.1" cy="737.9" r="0.9"/><circle cx="653.6" cy="737.0" r="1.0"/><circle cx="647.8" cy="741.8" r="1.2"/><circle cx="655.6" cy="738.7" r="1.0"/><circle cx="650.1" cy="743.3" r="0.8"/><circle cx="658.9" cy="742.0" r="1.0"/><circle cx="653.4" cy="746.6" r="1.0"/><circle cx="660.8" cy="745.0" r="1.1"/><circle cx="655.8" cy="749.1" r="1.2"/><circle cx="662.9" cy="746.2" r="1.1"/><circle cx="656.5" cy="751.5" r="1.0"/><circle cx="658.8" cy="754.0" r="1.2"/><circle cx="660.8" cy="756.4" r="1.3"/><circle cx="662.3" cy="759.6" r="0.9"/><circle cx="669.9" cy="756.3" r="0.9"/><circle cx="664.5" cy="760.8" r="1.0"/><circle cx="673.5" cy="759.9" r="0.9"/><circle cx="667.4" cy="765.0" r="0.8"/><circle cx="674.7" cy="760.6" r="1.2"/><circle cx="677.1" cy="762.2" r="1.2"/><circle cx="669.8" cy="768.3" r="0.9"/><circle cx="680.1" cy="768.2" r="1.3"/><circle cx="672.4" cy="770.3" r="0.9"/><circle cx="672.1" cy="771.7" r="1.2"/><circle cx="681.9" cy="774.1" r="0.8"/><circle cx="674.2" cy="776.2" r="1.3"/><circle cx="682.1" cy="776.5" r="0.9"/><circle cx="674.9" cy="778.4" r="1.1"/><circle cx="674.5" cy="781.2" r="1.3"/><circle cx="676.0" cy="783.5" r="1.3"/><circle cx="683.9" cy="786.7" r="0.9"/><circle cx="676.6" cy="788.6" r="0.9"/><circle cx="678.0" cy="791.8" r="1.1"/><circle cx="685.5" cy="791.3" r="1.0"/><circle cx="677.9" cy="793.4" r="1.2"/><circle cx="677.4" cy="763.8" r="1.2"/><circle cx="678.5" cy="770.6" r="0.9"/><circle cx="679.0" cy="763.6" r="0.8"/><circle cx="682.6" cy="770.4" r="0.9"/><circle cx="686.2" cy="760.9" r="1.2"/><circle cx="695.2" cy="760.1" r="1.1"/><circle cx="700.5" cy="760.0" r="0.9"/><circle cx="702.9" cy="759.6" r="0.9"/><circle cx="703.9" cy="765.8" r="0.9"/><circle cx="705.7" cy="757.5" r="0.9"/><circle cx="710.2" cy="757.8" r="1.0"/><circle cx="711.3" cy="766.1" r="1.0"/><circle cx="710.9" cy="758.4" r="0.8"/><circle cx="713.9" cy="756.5" r="1.3"/><circle cx="715.1" cy="765.9" r="0.9"/><circle cx="719.1" cy="756.2" r="1.1"/><circle cx="720.2" cy="764.9" r="1.2"/><circle cx="722.3" cy="757.0" r="1.1"/><circle cx="725.6" cy="763.4" r="1.2"/><circle cx="729.5" cy="756.2" r="1.3"/><circle cx="732.3" cy="763.3" r="1.2"/><circle cx="734.0" cy="755.7" r="1.1"/><circle cx="737.6" cy="754.1" r="1.2"/><circle cx="739.2" cy="752.7" r="0.8"/><circle cx="741.4" cy="761.2" r="1.0"/><circle cx="743.7" cy="751.3" r="0.8"/><circle cx="745.9" cy="760.1" r="0.9"/><circle cx="745.2" cy="752.6" r="1.1"/><circle cx="747.1" cy="760.3" r="1.1"/><circle cx="745.2" cy="752.1" r="1.3"/><circle cx="751.6" cy="755.2" r="1.2"/><circle cx="754.8" cy="752.1" r="1.1"/><circle cx="748.3" cy="747.5" r="0.8"/><circle cx="749.4" cy="742.3" r="1.0"/><circle cx="757.0" cy="746.1" r="0.9"/><circle cx="757.9" cy="745.0" r="1.2"/><circle cx="753.2" cy="736.6" r="1.3"/><circle cx="754.5" cy="735.0" r="1.3"/><circle cx="761.6" cy="737.7" r="1.0"/><circle cx="755.8" cy="729.8" r="1.2"/><circle cx="762.9" cy="732.5" r="1.1"/><circle cx="756.6" cy="726.2" r="1.1"/><circle cx="764.0" cy="729.0" r="1.2"/><circle cx="757.1" cy="723.3" r="1.0"/><circle cx="764.4" cy="726.0" r="1.1"/><circle cx="759.0" cy="721.1" r="1.1"/><circle cx="760.5" cy="716.0" r="1.1"/><circle cx="767.7" cy="720.3" r="1.2"/><circle cx="769.8" cy="717.8" r="0.8"/><circle cx="763.6" cy="712.6" r="1.0"/><circle cx="770.5" cy="716.7" r="1.1"/><circle cx="764.7" cy="709.2" r="0.8"/><circle cx="771.8" cy="713.5" r="0.9"/><circle cx="750.9" cy="753.2" r="1.0"/><circle cx="754.0" cy="757.2" r="1.3"/><circle cx="756.5" cy="758.4" r="1.2"/><circle cx="758.6" cy="760.3" r="1.0"/><circle cx="751.3" cy="766.4" r="1.3"/><circle cx="761.7" cy="764.4" r="1.1"/><circle cx="762.7" cy="765.6" r="0.8"/><circle cx="756.5" cy="770.8" r="1.0"/><circle cx="764.2" cy="768.9" r="1.0"/><circle cx="760.5" cy="776.2" r="0.8"/><circle cx="768.0" cy="774.0" r="1.1"/><circle cx="769.2" cy="775.7" r="1.0"/><circle cx="764.5" cy="779.6" r="1.0"/><circle cx="766.2" cy="782.0" r="0.8"/><circle cx="775.2" cy="781.4" r="1.0"/><circle cx="769.7" cy="786.0" r="1.3"/><circle cx="777.1" cy="782.3" r="1.0"/><circle cx="769.1" cy="786.3" r="1.1"/><circle cx="777.8" cy="786.0" r="1.1"/><circle cx="780.9" cy="791.4" r="0.8"/><circle cx="772.9" cy="795.4" r="1.1"/><circle cx="602.7" cy="760.7" r="0.9"/><circle cx="605.7" cy="768.7" r="1.0"/><circle cx="605.3" cy="758.7" r="1.1"/><circle cx="609.0" cy="757.7" r="1.0"/><circle cx="612.0" cy="765.7" r="1.0"/><circle cx="613.5" cy="757.2" r="1.3"/><circle cx="616.4" cy="765.0" r="1.1"/><circle cx="613.6" cy="755.6" r="1.0"/><circle cx="620.7" cy="754.5" r="0.9"/><circle cx="622.8" cy="761.6" r="1.1"/><circle cx="625.3" cy="752.0" r="0.9"/><circle cx="627.9" cy="760.8" r="1.2"/><circle cx="628.2" cy="751.4" r="1.0"/><circle cx="630.6" cy="759.2" r="0.8"/><circle cx="634.7" cy="757.9" r="1.0"/><circle cx="637.0" cy="747.6" r="1.0"/><circle cx="639.6" cy="756.4" r="1.3"/><circle cx="641.0" cy="747.9" r="1.2"/><circle cx="643.4" cy="756.0" r="1.1"/><circle cx="647.2" cy="755.0" r="1.0"/><circle cx="642.8" cy="745.7" r="1.1"/><circle cx="643.5" cy="744.5" r="1.2"/><circle cx="645.7" cy="741.2" r="0.9"/><circle cx="652.3" cy="743.9" r="0.9"/><circle cx="645.9" cy="738.1" r="1.2"/><circle cx="653.8" cy="741.2" r="1.1"/><circle cx="775.7" cy="707.3" r="0.8"/><circle cx="770.4" cy="711.5" r="0.9"/><circle cx="779.6" cy="711.4" r="1.0"/><circle cx="773.6" cy="716.2" r="0.8"/><circle cx="776.9" cy="720.6" r="1.0"/><circle cx="783.9" cy="716.2" r="0.9"/><circle cx="784.7" cy="718.0" r="0.9"/><circle cx="781.7" cy="724.1" r="1.1"/><circle cx="788.6" cy="719.8" r="1.0"/><circle cx="789.7" cy="721.6" r="0.8"/><circle cx="787.1" cy="726.8" r="1.2"/><circle cx="793.2" cy="723.5" r="1.1"/><circle cx="790.2" cy="729.5" r="1.2"/><circle cx="798.1" cy="724.6" r="0.9"/></g>
<polyline points="616.6,657.7 633.7,662.6 662.9,667.5 694.6,665.1 701.9,662.6" fill="none" stroke="#c064b4" stroke-width="3.5" stroke-linejoin="round" stroke-linecap="round"/>
<polyline points="701.9,648.0 703.1,672.4 704.4,690.7" fill="none" stroke="#c064b4" stroke-width="3.5" stroke-linejoin="round" stroke-linecap="round"/>
<polyline points="704.4,690.7 728.7,696.7 758.0,700.4 772.6,708.9 789.7,706.5 797.0,704.1" fill="none" stroke="#c064b4" stroke-width="3.5" stroke-linejoin="round" stroke-linecap="round"/>
<polyline points="704.4,690.7 682.4,708.9 662.9,726.0 650.7,738.2" fill="none" stroke="#c064b4" stroke-width="3.5" stroke-linejoin="round" stroke-linecap="round"/>
<polyline points="619.1,674.8 631.2,704.1 645.9,728.4 650.7,738.2" fill="none" stroke="#c064b4" stroke-width="3.5" stroke-linejoin="round" stroke-linecap="round"/>
<polyline points="650.7,738.2 662.9,752.8 675.1,767.4 682.4,794.2" fill="none" stroke="#c064b4" stroke-width="3.5" stroke-linejoin="round" stroke-linecap="round"/>
<polyline points="675.1,767.4 704.4,762.6 733.6,758.9 748.2,755.2" fill="none" stroke="#c064b4" stroke-width="3.5" stroke-linejoin="round" stroke-linecap="round"/>
<polyline points="748.2,755.2 755.5,740.6 762.9,721.1 770.2,708.9" fill="none" stroke="#c064b4" stroke-width="3.5" stroke-linejoin="round" stroke-linecap="round"/>
<polyline points="748.2,755.2 760.4,769.9 772.6,784.5 777.5,794.2" fill="none" stroke="#c064b4" stroke-width="3.5" stroke-linejoin="round" stroke-linecap="round"/>
<polyline points="602.0,765.0 621.5,757.7 645.9,750.4 650.7,738.2" fill="none" stroke="#c064b4" stroke-width="4" stroke-linejoin="round" stroke-linecap="round"/>
<polyline points="772.6,708.9 782.4,721.1 797.0,728.4" fill="none" stroke="#c064b4" stroke-width="3" stroke-linejoin="round" stroke-linecap="round"/>
<polygon points="730.0,729.0 731.3,733.9 728.4,737.9 724.4,740.7 721.3,743.7 717.5,745.7 713.5,747.9 709.0,748.3 705.0,745.6 699.6,747.6 695.4,745.3 691.3,742.4 688.1,738.6 686.5,733.9 686.4,729.0 687.0,724.2 691.7,721.1 693.8,717.4 697.8,715.6 700.3,711.8 704.2,709.0 709.0,707.8 714.2,707.4 717.4,712.5 721.9,713.5 724.9,716.9 728.3,720.2 730.2,724.4" fill="#fdfafc" filter="url(#b2)"/>
</g>
<text x="3.6" y="525.4" font-size="31.5" font-weight="bold" fill="#000">B</text>
<text x="204.6" y="525.4" font-size="31.5" font-weight="bold" fill="#000">C</text>
<text x="405.6" y="525.4" font-size="31.5" font-weight="bold" fill="#000">D</text>
<text x="605.6" y="525.4" font-size="31.5" font-weight="bold" fill="#000">E</text>
<text x="3.6" y="675.4" font-size="31.5" font-weight="bold" fill="#000">F</text>
<text x="204.6" y="675.4" font-size="31.5" font-weight="bold" fill="#000">G</text>
<text x="405.6" y="675.4" font-size="31.5" font-weight="bold" fill="#000">H</text>
<text x="605.6" y="675.4" font-size="31.5" font-weight="bold" fill="#000">I</text>
<rect x="174" y="635.2" width="17" height="3.6" fill="#000"/>
<rect x="375" y="635.2" width="17" height="3.6" fill="#000"/>
<rect x="576" y="635.2" width="17" height="3.6" fill="#000"/>
<rect x="776" y="635.2" width="17" height="3.6" fill="#000"/>
<rect x="158" y="785.5" width="33" height="3.6" fill="#000"/>
<rect x="359" y="785.5" width="33" height="3.6" fill="#000"/>
<rect x="560" y="785.5" width="33" height="3.6" fill="#000"/>
<rect x="760" y="785.5" width="33" height="3.6" fill="#000"/>
<text x="97.5" y="823.8" font-size="21.5" text-anchor="middle" fill="#000">Control</text>
<text x="298.5" y="823.8" font-size="21.5" text-anchor="middle" fill="#000">4 mg/kg</text>
<text x="499.5" y="823.8" font-size="21.5" text-anchor="middle" fill="#000">8 mg/kg</text>
<text x="699.5" y="823.8" font-size="21.5" text-anchor="middle" fill="#000">12 mg/kg</text>
</svg>
</body></html>
